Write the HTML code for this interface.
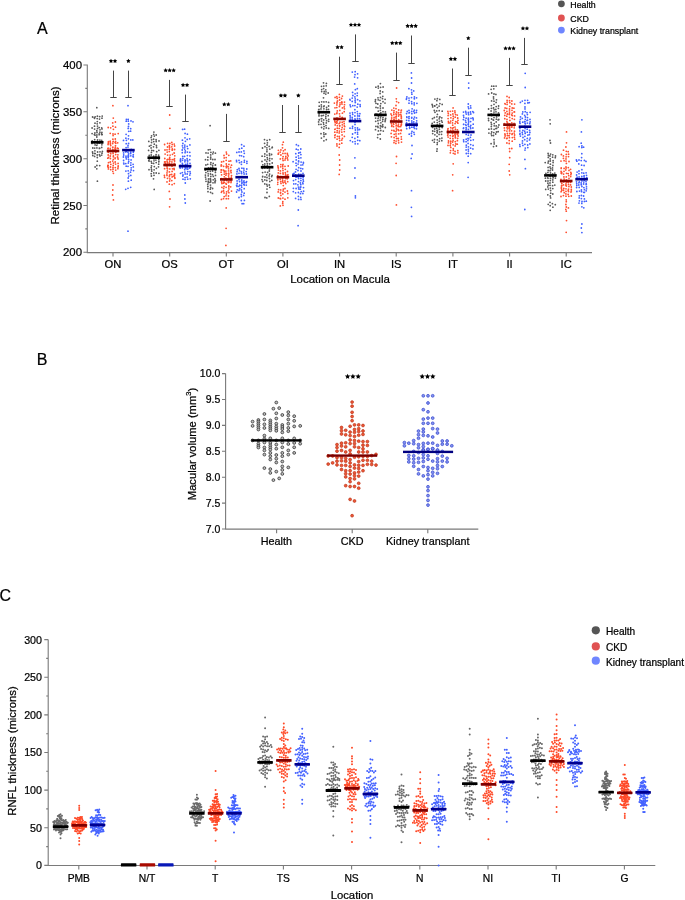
<!DOCTYPE html>
<html><head><meta charset="utf-8"><title>Figure</title>
<style>html,body{margin:0;padding:0;background:#fff;}body{width:685px;height:900px;overflow:hidden;font-family:"Liberation Sans",sans-serif;}text{stroke:#000;stroke-width:0.22px;}svg{display:block;-webkit-font-smoothing:antialiased;will-change:transform;}</style>
</head><body>
<svg width="685" height="900" viewBox="0 0 685 900">
<rect width="685" height="900" fill="#fff"/>
<g id="panelA">
<text x="37" y="33.5" font-size="16" font-family="Liberation Sans, sans-serif">A</text>
<path fill="#5a5a5a" d="M96.7 140a0.9 0.9 0 1 0 1.8 0a0.9 0.9 0 1 0 -1.8 0M96.1 132.5a0.9 0.9 0 1 0 1.8 0a0.9 0.9 0 1 0 -1.8 0M96.3 118.6a0.9 0.9 0 1 0 1.8 0a0.9 0.9 0 1 0 -1.8 0M96.3 123.8a0.9 0.9 0 1 0 1.8 0a0.9 0.9 0 1 0 -1.8 0M99 132.2a0.9 0.9 0 1 0 1.8 0a0.9 0.9 0 1 0 -1.8 0M94 132.9a0.9 0.9 0 1 0 1.8 0a0.9 0.9 0 1 0 -1.8 0M96.6 128.5a0.9 0.9 0 1 0 1.8 0a0.9 0.9 0 1 0 -1.8 0M93.7 129.1a0.9 0.9 0 1 0 1.8 0a0.9 0.9 0 1 0 -1.8 0M100.7 133.7a0.9 0.9 0 1 0 1.8 0a0.9 0.9 0 1 0 -1.8 0M96 147.9a0.9 0.9 0 1 0 1.8 0a0.9 0.9 0 1 0 -1.8 0M98.3 134a0.9 0.9 0 1 0 1.8 0a0.9 0.9 0 1 0 -1.8 0M96.5 181.2a0.9 0.9 0 1 0 1.8 0a0.9 0.9 0 1 0 -1.8 0M96.5 143.5a0.9 0.9 0 1 0 1.8 0a0.9 0.9 0 1 0 -1.8 0M96.5 116.2a0.9 0.9 0 1 0 1.8 0a0.9 0.9 0 1 0 -1.8 0M99 140.1a0.9 0.9 0 1 0 1.8 0a0.9 0.9 0 1 0 -1.8 0M96 165.5a0.9 0.9 0 1 0 1.8 0a0.9 0.9 0 1 0 -1.8 0M95.9 168.8a0.9 0.9 0 1 0 1.8 0a0.9 0.9 0 1 0 -1.8 0M98.8 148.3a0.9 0.9 0 1 0 1.8 0a0.9 0.9 0 1 0 -1.8 0M95.9 137a0.9 0.9 0 1 0 1.8 0a0.9 0.9 0 1 0 -1.8 0M93.8 139.7a0.9 0.9 0 1 0 1.8 0a0.9 0.9 0 1 0 -1.8 0M96.4 161.2a0.9 0.9 0 1 0 1.8 0a0.9 0.9 0 1 0 -1.8 0M98.8 116.6a0.9 0.9 0 1 0 1.8 0a0.9 0.9 0 1 0 -1.8 0M96.4 157.5a0.9 0.9 0 1 0 1.8 0a0.9 0.9 0 1 0 -1.8 0M96.7 152a0.9 0.9 0 1 0 1.8 0a0.9 0.9 0 1 0 -1.8 0M94.3 153.6a0.9 0.9 0 1 0 1.8 0a0.9 0.9 0 1 0 -1.8 0M91.3 140.9a0.9 0.9 0 1 0 1.8 0a0.9 0.9 0 1 0 -1.8 0M93.7 156.4a0.9 0.9 0 1 0 1.8 0a0.9 0.9 0 1 0 -1.8 0M98.3 127.6a0.9 0.9 0 1 0 1.8 0a0.9 0.9 0 1 0 -1.8 0M96 135a0.9 0.9 0 1 0 1.8 0a0.9 0.9 0 1 0 -1.8 0M93.8 148.1a0.9 0.9 0 1 0 1.8 0a0.9 0.9 0 1 0 -1.8 0M94 150.8a0.9 0.9 0 1 0 1.8 0a0.9 0.9 0 1 0 -1.8 0M93.7 142.8a0.9 0.9 0 1 0 1.8 0a0.9 0.9 0 1 0 -1.8 0M95.9 145.3a0.9 0.9 0 1 0 1.8 0a0.9 0.9 0 1 0 -1.8 0M94.1 123.2a0.9 0.9 0 1 0 1.8 0a0.9 0.9 0 1 0 -1.8 0M94.1 135.2a0.9 0.9 0 1 0 1.8 0a0.9 0.9 0 1 0 -1.8 0M96.3 155a0.9 0.9 0 1 0 1.8 0a0.9 0.9 0 1 0 -1.8 0M100.8 147.4a0.9 0.9 0 1 0 1.8 0a0.9 0.9 0 1 0 -1.8 0M91.2 133.6a0.9 0.9 0 1 0 1.8 0a0.9 0.9 0 1 0 -1.8 0M98.5 154.7a0.9 0.9 0 1 0 1.8 0a0.9 0.9 0 1 0 -1.8 0M99 122.8a0.9 0.9 0 1 0 1.8 0a0.9 0.9 0 1 0 -1.8 0M99.1 151.8a0.9 0.9 0 1 0 1.8 0a0.9 0.9 0 1 0 -1.8 0M93.5 134.6a0.9 0.9 0 1 0 1.8 0a0.9 0.9 0 1 0 -1.8 0M94.3 116.8a0.9 0.9 0 1 0 1.8 0a0.9 0.9 0 1 0 -1.8 0M101.5 151.4a0.9 0.9 0 1 0 1.8 0a0.9 0.9 0 1 0 -1.8 0M96.6 126.1a0.9 0.9 0 1 0 1.8 0a0.9 0.9 0 1 0 -1.8 0M98.5 143.2a0.9 0.9 0 1 0 1.8 0a0.9 0.9 0 1 0 -1.8 0M99.1 129.8a0.9 0.9 0 1 0 1.8 0a0.9 0.9 0 1 0 -1.8 0M94.2 167a0.9 0.9 0 1 0 1.8 0a0.9 0.9 0 1 0 -1.8 0M100.8 128a0.9 0.9 0 1 0 1.8 0a0.9 0.9 0 1 0 -1.8 0M91.1 143.4a0.9 0.9 0 1 0 1.8 0a0.9 0.9 0 1 0 -1.8 0M101 132.5a0.9 0.9 0 1 0 1.8 0a0.9 0.9 0 1 0 -1.8 0M91.6 151.9a0.9 0.9 0 1 0 1.8 0a0.9 0.9 0 1 0 -1.8 0M100.7 134.6a0.9 0.9 0 1 0 1.8 0a0.9 0.9 0 1 0 -1.8 0M91.9 155.5a0.9 0.9 0 1 0 1.8 0a0.9 0.9 0 1 0 -1.8 0M101.3 134.6a0.9 0.9 0 1 0 1.8 0a0.9 0.9 0 1 0 -1.8 0M101.1 153.2a0.9 0.9 0 1 0 1.8 0a0.9 0.9 0 1 0 -1.8 0M101.1 118.2a0.9 0.9 0 1 0 1.8 0a0.9 0.9 0 1 0 -1.8 0M98.3 134.7a0.9 0.9 0 1 0 1.8 0a0.9 0.9 0 1 0 -1.8 0M91.7 117a0.9 0.9 0 1 0 1.8 0a0.9 0.9 0 1 0 -1.8 0M101.3 116.1a0.9 0.9 0 1 0 1.8 0a0.9 0.9 0 1 0 -1.8 0M95.9 141.7a0.9 0.9 0 1 0 1.8 0a0.9 0.9 0 1 0 -1.8 0M94.2 144.9a0.9 0.9 0 1 0 1.8 0a0.9 0.9 0 1 0 -1.8 0M101 144.8a0.9 0.9 0 1 0 1.8 0a0.9 0.9 0 1 0 -1.8 0M91.9 148a0.9 0.9 0 1 0 1.8 0a0.9 0.9 0 1 0 -1.8 0M98.6 119.1a0.9 0.9 0 1 0 1.8 0a0.9 0.9 0 1 0 -1.8 0M91.2 128a0.9 0.9 0 1 0 1.8 0a0.9 0.9 0 1 0 -1.8 0M100.8 140.4a0.9 0.9 0 1 0 1.8 0a0.9 0.9 0 1 0 -1.8 0M98.5 148.1a0.9 0.9 0 1 0 1.8 0a0.9 0.9 0 1 0 -1.8 0M95.9 130.7a0.9 0.9 0 1 0 1.8 0a0.9 0.9 0 1 0 -1.8 0M93.6 118.3a0.9 0.9 0 1 0 1.8 0a0.9 0.9 0 1 0 -1.8 0M93.9 153.5a0.9 0.9 0 1 0 1.8 0a0.9 0.9 0 1 0 -1.8 0M101.1 142.9a0.9 0.9 0 1 0 1.8 0a0.9 0.9 0 1 0 -1.8 0M98.8 165.6a0.9 0.9 0 1 0 1.8 0a0.9 0.9 0 1 0 -1.8 0M93.6 117.5a0.9 0.9 0 1 0 1.8 0a0.9 0.9 0 1 0 -1.8 0M95.9 107.7a0.9 0.9 0 1 0 1.8 0a0.9 0.9 0 1 0 -1.8 0M100.8 155.1a0.9 0.9 0 1 0 1.8 0a0.9 0.9 0 1 0 -1.8 0M99.1 156a0.9 0.9 0 1 0 1.8 0a0.9 0.9 0 1 0 -1.8 0M93.6 126.2a0.9 0.9 0 1 0 1.8 0a0.9 0.9 0 1 0 -1.8 0M101.3 142.1a0.9 0.9 0 1 0 1.8 0a0.9 0.9 0 1 0 -1.8 0M101.1 128.9a0.9 0.9 0 1 0 1.8 0a0.9 0.9 0 1 0 -1.8 0M96.4 121.6a0.9 0.9 0 1 0 1.8 0a0.9 0.9 0 1 0 -1.8 0M91.9 153.3a0.9 0.9 0 1 0 1.8 0a0.9 0.9 0 1 0 -1.8 0M98.5 148.4a0.9 0.9 0 1 0 1.8 0a0.9 0.9 0 1 0 -1.8 0M152.8 141.6a0.9 0.9 0 1 0 1.8 0a0.9 0.9 0 1 0 -1.8 0M153.4 136.1a0.9 0.9 0 1 0 1.8 0a0.9 0.9 0 1 0 -1.8 0M152.7 139.2a0.9 0.9 0 1 0 1.8 0a0.9 0.9 0 1 0 -1.8 0M155.3 141.5a0.9 0.9 0 1 0 1.8 0a0.9 0.9 0 1 0 -1.8 0M153.1 160.8a0.9 0.9 0 1 0 1.8 0a0.9 0.9 0 1 0 -1.8 0M152.6 178.8a0.9 0.9 0 1 0 1.8 0a0.9 0.9 0 1 0 -1.8 0M152.6 146.8a0.9 0.9 0 1 0 1.8 0a0.9 0.9 0 1 0 -1.8 0M152.6 150.7a0.9 0.9 0 1 0 1.8 0a0.9 0.9 0 1 0 -1.8 0M155.7 147.5a0.9 0.9 0 1 0 1.8 0a0.9 0.9 0 1 0 -1.8 0M153.2 169.8a0.9 0.9 0 1 0 1.8 0a0.9 0.9 0 1 0 -1.8 0M150.2 137.6a0.9 0.9 0 1 0 1.8 0a0.9 0.9 0 1 0 -1.8 0M152.8 156.2a0.9 0.9 0 1 0 1.8 0a0.9 0.9 0 1 0 -1.8 0M155.5 145.5a0.9 0.9 0 1 0 1.8 0a0.9 0.9 0 1 0 -1.8 0M150.2 147.9a0.9 0.9 0 1 0 1.8 0a0.9 0.9 0 1 0 -1.8 0M155 156.5a0.9 0.9 0 1 0 1.8 0a0.9 0.9 0 1 0 -1.8 0M152.7 163.4a0.9 0.9 0 1 0 1.8 0a0.9 0.9 0 1 0 -1.8 0M150.8 157.6a0.9 0.9 0 1 0 1.8 0a0.9 0.9 0 1 0 -1.8 0M150.3 155a0.9 0.9 0 1 0 1.8 0a0.9 0.9 0 1 0 -1.8 0M150.8 171.2a0.9 0.9 0 1 0 1.8 0a0.9 0.9 0 1 0 -1.8 0M155 160.1a0.9 0.9 0 1 0 1.8 0a0.9 0.9 0 1 0 -1.8 0M157.9 159.2a0.9 0.9 0 1 0 1.8 0a0.9 0.9 0 1 0 -1.8 0M153.1 175.3a0.9 0.9 0 1 0 1.8 0a0.9 0.9 0 1 0 -1.8 0M150.7 139.8a0.9 0.9 0 1 0 1.8 0a0.9 0.9 0 1 0 -1.8 0M150.3 161.4a0.9 0.9 0 1 0 1.8 0a0.9 0.9 0 1 0 -1.8 0M152.9 158.3a0.9 0.9 0 1 0 1.8 0a0.9 0.9 0 1 0 -1.8 0M147.9 160.7a0.9 0.9 0 1 0 1.8 0a0.9 0.9 0 1 0 -1.8 0M152.8 134.3a0.9 0.9 0 1 0 1.8 0a0.9 0.9 0 1 0 -1.8 0M155.2 139.7a0.9 0.9 0 1 0 1.8 0a0.9 0.9 0 1 0 -1.8 0M148.5 146.2a0.9 0.9 0 1 0 1.8 0a0.9 0.9 0 1 0 -1.8 0M150.3 173.7a0.9 0.9 0 1 0 1.8 0a0.9 0.9 0 1 0 -1.8 0M150.5 176a0.9 0.9 0 1 0 1.8 0a0.9 0.9 0 1 0 -1.8 0M148.4 158.9a0.9 0.9 0 1 0 1.8 0a0.9 0.9 0 1 0 -1.8 0M147.8 158.1a0.9 0.9 0 1 0 1.8 0a0.9 0.9 0 1 0 -1.8 0M150.8 163.2a0.9 0.9 0 1 0 1.8 0a0.9 0.9 0 1 0 -1.8 0M153.3 189.4a0.9 0.9 0 1 0 1.8 0a0.9 0.9 0 1 0 -1.8 0M150.7 142.6a0.9 0.9 0 1 0 1.8 0a0.9 0.9 0 1 0 -1.8 0M158.1 140.9a0.9 0.9 0 1 0 1.8 0a0.9 0.9 0 1 0 -1.8 0M157.7 155.2a0.9 0.9 0 1 0 1.8 0a0.9 0.9 0 1 0 -1.8 0M158 161.2a0.9 0.9 0 1 0 1.8 0a0.9 0.9 0 1 0 -1.8 0M155.8 151.7a0.9 0.9 0 1 0 1.8 0a0.9 0.9 0 1 0 -1.8 0M155.3 162.6a0.9 0.9 0 1 0 1.8 0a0.9 0.9 0 1 0 -1.8 0M152.9 172.9a0.9 0.9 0 1 0 1.8 0a0.9 0.9 0 1 0 -1.8 0M153.4 144.2a0.9 0.9 0 1 0 1.8 0a0.9 0.9 0 1 0 -1.8 0M153.1 158.9a0.9 0.9 0 1 0 1.8 0a0.9 0.9 0 1 0 -1.8 0M157.8 164.2a0.9 0.9 0 1 0 1.8 0a0.9 0.9 0 1 0 -1.8 0M155.3 173a0.9 0.9 0 1 0 1.8 0a0.9 0.9 0 1 0 -1.8 0M148.3 155.5a0.9 0.9 0 1 0 1.8 0a0.9 0.9 0 1 0 -1.8 0M153.4 166.6a0.9 0.9 0 1 0 1.8 0a0.9 0.9 0 1 0 -1.8 0M150.6 169.5a0.9 0.9 0 1 0 1.8 0a0.9 0.9 0 1 0 -1.8 0M150.5 152.4a0.9 0.9 0 1 0 1.8 0a0.9 0.9 0 1 0 -1.8 0M148.2 161a0.9 0.9 0 1 0 1.8 0a0.9 0.9 0 1 0 -1.8 0M150.1 145.3a0.9 0.9 0 1 0 1.8 0a0.9 0.9 0 1 0 -1.8 0M150.8 150.3a0.9 0.9 0 1 0 1.8 0a0.9 0.9 0 1 0 -1.8 0M158 173.3a0.9 0.9 0 1 0 1.8 0a0.9 0.9 0 1 0 -1.8 0M157.9 161.8a0.9 0.9 0 1 0 1.8 0a0.9 0.9 0 1 0 -1.8 0M157.9 156.9a0.9 0.9 0 1 0 1.8 0a0.9 0.9 0 1 0 -1.8 0M158 150.3a0.9 0.9 0 1 0 1.8 0a0.9 0.9 0 1 0 -1.8 0M155.3 135a0.9 0.9 0 1 0 1.8 0a0.9 0.9 0 1 0 -1.8 0M153 132.1a0.9 0.9 0 1 0 1.8 0a0.9 0.9 0 1 0 -1.8 0M147.9 141.4a0.9 0.9 0 1 0 1.8 0a0.9 0.9 0 1 0 -1.8 0M148.2 159a0.9 0.9 0 1 0 1.8 0a0.9 0.9 0 1 0 -1.8 0M155.5 168.3a0.9 0.9 0 1 0 1.8 0a0.9 0.9 0 1 0 -1.8 0M150.6 142.3a0.9 0.9 0 1 0 1.8 0a0.9 0.9 0 1 0 -1.8 0M150.3 167.6a0.9 0.9 0 1 0 1.8 0a0.9 0.9 0 1 0 -1.8 0M155.2 154.7a0.9 0.9 0 1 0 1.8 0a0.9 0.9 0 1 0 -1.8 0M147.7 150.4a0.9 0.9 0 1 0 1.8 0a0.9 0.9 0 1 0 -1.8 0M148.1 169.7a0.9 0.9 0 1 0 1.8 0a0.9 0.9 0 1 0 -1.8 0M150.6 165.8a0.9 0.9 0 1 0 1.8 0a0.9 0.9 0 1 0 -1.8 0M157.6 166.8a0.9 0.9 0 1 0 1.8 0a0.9 0.9 0 1 0 -1.8 0M150.7 135.8a0.9 0.9 0 1 0 1.8 0a0.9 0.9 0 1 0 -1.8 0M209.8 181.9a0.9 0.9 0 1 0 1.8 0a0.9 0.9 0 1 0 -1.8 0M210 152.3a0.9 0.9 0 1 0 1.8 0a0.9 0.9 0 1 0 -1.8 0M212.1 182.8a0.9 0.9 0 1 0 1.8 0a0.9 0.9 0 1 0 -1.8 0M207.4 182a0.9 0.9 0 1 0 1.8 0a0.9 0.9 0 1 0 -1.8 0M209.2 201a0.9 0.9 0 1 0 1.8 0a0.9 0.9 0 1 0 -1.8 0M205.1 181.3a0.9 0.9 0 1 0 1.8 0a0.9 0.9 0 1 0 -1.8 0M209.6 174a0.9 0.9 0 1 0 1.8 0a0.9 0.9 0 1 0 -1.8 0M209.2 149.6a0.9 0.9 0 1 0 1.8 0a0.9 0.9 0 1 0 -1.8 0M209.5 178.9a0.9 0.9 0 1 0 1.8 0a0.9 0.9 0 1 0 -1.8 0M209.8 187.4a0.9 0.9 0 1 0 1.8 0a0.9 0.9 0 1 0 -1.8 0M214.1 182.7a0.9 0.9 0 1 0 1.8 0a0.9 0.9 0 1 0 -1.8 0M209.9 176.4a0.9 0.9 0 1 0 1.8 0a0.9 0.9 0 1 0 -1.8 0M209.7 192.4a0.9 0.9 0 1 0 1.8 0a0.9 0.9 0 1 0 -1.8 0M207.3 175.8a0.9 0.9 0 1 0 1.8 0a0.9 0.9 0 1 0 -1.8 0M212.4 176.4a0.9 0.9 0 1 0 1.8 0a0.9 0.9 0 1 0 -1.8 0M207.6 179a0.9 0.9 0 1 0 1.8 0a0.9 0.9 0 1 0 -1.8 0M209.4 171.3a0.9 0.9 0 1 0 1.8 0a0.9 0.9 0 1 0 -1.8 0M206.9 171.4a0.9 0.9 0 1 0 1.8 0a0.9 0.9 0 1 0 -1.8 0M209.8 159a0.9 0.9 0 1 0 1.8 0a0.9 0.9 0 1 0 -1.8 0M209.8 157.2a0.9 0.9 0 1 0 1.8 0a0.9 0.9 0 1 0 -1.8 0M204.6 177.1a0.9 0.9 0 1 0 1.8 0a0.9 0.9 0 1 0 -1.8 0M211.9 159.5a0.9 0.9 0 1 0 1.8 0a0.9 0.9 0 1 0 -1.8 0M212.3 179.8a0.9 0.9 0 1 0 1.8 0a0.9 0.9 0 1 0 -1.8 0M214.1 181.6a0.9 0.9 0 1 0 1.8 0a0.9 0.9 0 1 0 -1.8 0M211.6 174.6a0.9 0.9 0 1 0 1.8 0a0.9 0.9 0 1 0 -1.8 0M210 162.6a0.9 0.9 0 1 0 1.8 0a0.9 0.9 0 1 0 -1.8 0M209.2 182.3a0.9 0.9 0 1 0 1.8 0a0.9 0.9 0 1 0 -1.8 0M211.7 171a0.9 0.9 0 1 0 1.8 0a0.9 0.9 0 1 0 -1.8 0M214 178.7a0.9 0.9 0 1 0 1.8 0a0.9 0.9 0 1 0 -1.8 0M209.6 185.1a0.9 0.9 0 1 0 1.8 0a0.9 0.9 0 1 0 -1.8 0M209.8 154.9a0.9 0.9 0 1 0 1.8 0a0.9 0.9 0 1 0 -1.8 0M206.9 159.9a0.9 0.9 0 1 0 1.8 0a0.9 0.9 0 1 0 -1.8 0M204.5 175.1a0.9 0.9 0 1 0 1.8 0a0.9 0.9 0 1 0 -1.8 0M207.2 153.1a0.9 0.9 0 1 0 1.8 0a0.9 0.9 0 1 0 -1.8 0M206.9 188.6a0.9 0.9 0 1 0 1.8 0a0.9 0.9 0 1 0 -1.8 0M214.5 180.4a0.9 0.9 0 1 0 1.8 0a0.9 0.9 0 1 0 -1.8 0M211.9 153.8a0.9 0.9 0 1 0 1.8 0a0.9 0.9 0 1 0 -1.8 0M207 186.5a0.9 0.9 0 1 0 1.8 0a0.9 0.9 0 1 0 -1.8 0M205.1 152.9a0.9 0.9 0 1 0 1.8 0a0.9 0.9 0 1 0 -1.8 0M207 157.2a0.9 0.9 0 1 0 1.8 0a0.9 0.9 0 1 0 -1.8 0M207.3 181.2a0.9 0.9 0 1 0 1.8 0a0.9 0.9 0 1 0 -1.8 0M204.4 170a0.9 0.9 0 1 0 1.8 0a0.9 0.9 0 1 0 -1.8 0M212.3 163.3a0.9 0.9 0 1 0 1.8 0a0.9 0.9 0 1 0 -1.8 0M211.7 188.5a0.9 0.9 0 1 0 1.8 0a0.9 0.9 0 1 0 -1.8 0M209.7 180a0.9 0.9 0 1 0 1.8 0a0.9 0.9 0 1 0 -1.8 0M212.4 152.1a0.9 0.9 0 1 0 1.8 0a0.9 0.9 0 1 0 -1.8 0M214.1 159.5a0.9 0.9 0 1 0 1.8 0a0.9 0.9 0 1 0 -1.8 0M209.8 167.6a0.9 0.9 0 1 0 1.8 0a0.9 0.9 0 1 0 -1.8 0M211.6 193.4a0.9 0.9 0 1 0 1.8 0a0.9 0.9 0 1 0 -1.8 0M207.6 167.9a0.9 0.9 0 1 0 1.8 0a0.9 0.9 0 1 0 -1.8 0M214.5 172.4a0.9 0.9 0 1 0 1.8 0a0.9 0.9 0 1 0 -1.8 0M209.8 164.4a0.9 0.9 0 1 0 1.8 0a0.9 0.9 0 1 0 -1.8 0M206.8 164.3a0.9 0.9 0 1 0 1.8 0a0.9 0.9 0 1 0 -1.8 0M207.1 191.7a0.9 0.9 0 1 0 1.8 0a0.9 0.9 0 1 0 -1.8 0M209.7 181a0.9 0.9 0 1 0 1.8 0a0.9 0.9 0 1 0 -1.8 0M204.6 159.7a0.9 0.9 0 1 0 1.8 0a0.9 0.9 0 1 0 -1.8 0M214.6 175.4a0.9 0.9 0 1 0 1.8 0a0.9 0.9 0 1 0 -1.8 0M214.5 170.4a0.9 0.9 0 1 0 1.8 0a0.9 0.9 0 1 0 -1.8 0M211.7 165.5a0.9 0.9 0 1 0 1.8 0a0.9 0.9 0 1 0 -1.8 0M207.5 182.7a0.9 0.9 0 1 0 1.8 0a0.9 0.9 0 1 0 -1.8 0M214.5 180.8a0.9 0.9 0 1 0 1.8 0a0.9 0.9 0 1 0 -1.8 0M209.4 189.2a0.9 0.9 0 1 0 1.8 0a0.9 0.9 0 1 0 -1.8 0M214.3 165.1a0.9 0.9 0 1 0 1.8 0a0.9 0.9 0 1 0 -1.8 0M205 165a0.9 0.9 0 1 0 1.8 0a0.9 0.9 0 1 0 -1.8 0M207.3 173.8a0.9 0.9 0 1 0 1.8 0a0.9 0.9 0 1 0 -1.8 0M209.5 178.7a0.9 0.9 0 1 0 1.8 0a0.9 0.9 0 1 0 -1.8 0M214.5 165a0.9 0.9 0 1 0 1.8 0a0.9 0.9 0 1 0 -1.8 0M206.8 184.3a0.9 0.9 0 1 0 1.8 0a0.9 0.9 0 1 0 -1.8 0M211.8 167.4a0.9 0.9 0 1 0 1.8 0a0.9 0.9 0 1 0 -1.8 0M209.2 125.7a0.9 0.9 0 1 0 1.8 0a0.9 0.9 0 1 0 -1.8 0M205 179.1a0.9 0.9 0 1 0 1.8 0a0.9 0.9 0 1 0 -1.8 0M207.4 149.8a0.9 0.9 0 1 0 1.8 0a0.9 0.9 0 1 0 -1.8 0M205 172.6a0.9 0.9 0 1 0 1.8 0a0.9 0.9 0 1 0 -1.8 0M214.5 153.2a0.9 0.9 0 1 0 1.8 0a0.9 0.9 0 1 0 -1.8 0M266.7 172.4a0.9 0.9 0 1 0 1.8 0a0.9 0.9 0 1 0 -1.8 0M266.1 177.5a0.9 0.9 0 1 0 1.8 0a0.9 0.9 0 1 0 -1.8 0M266 147.8a0.9 0.9 0 1 0 1.8 0a0.9 0.9 0 1 0 -1.8 0M265.9 184.4a0.9 0.9 0 1 0 1.8 0a0.9 0.9 0 1 0 -1.8 0M266.5 163.6a0.9 0.9 0 1 0 1.8 0a0.9 0.9 0 1 0 -1.8 0M265.8 174.8a0.9 0.9 0 1 0 1.8 0a0.9 0.9 0 1 0 -1.8 0M265.9 180.5a0.9 0.9 0 1 0 1.8 0a0.9 0.9 0 1 0 -1.8 0M266.2 140.4a0.9 0.9 0 1 0 1.8 0a0.9 0.9 0 1 0 -1.8 0M266.1 155.1a0.9 0.9 0 1 0 1.8 0a0.9 0.9 0 1 0 -1.8 0M263.9 179.9a0.9 0.9 0 1 0 1.8 0a0.9 0.9 0 1 0 -1.8 0M268.3 175.9a0.9 0.9 0 1 0 1.8 0a0.9 0.9 0 1 0 -1.8 0M268.9 181.5a0.9 0.9 0 1 0 1.8 0a0.9 0.9 0 1 0 -1.8 0M263.9 163.9a0.9 0.9 0 1 0 1.8 0a0.9 0.9 0 1 0 -1.8 0M265.8 161.4a0.9 0.9 0 1 0 1.8 0a0.9 0.9 0 1 0 -1.8 0M268.3 146.4a0.9 0.9 0 1 0 1.8 0a0.9 0.9 0 1 0 -1.8 0M268.7 155.5a0.9 0.9 0 1 0 1.8 0a0.9 0.9 0 1 0 -1.8 0M264.2 172.1a0.9 0.9 0 1 0 1.8 0a0.9 0.9 0 1 0 -1.8 0M266.1 189.1a0.9 0.9 0 1 0 1.8 0a0.9 0.9 0 1 0 -1.8 0M268.7 174.1a0.9 0.9 0 1 0 1.8 0a0.9 0.9 0 1 0 -1.8 0M266.5 168.1a0.9 0.9 0 1 0 1.8 0a0.9 0.9 0 1 0 -1.8 0M268.5 178.5a0.9 0.9 0 1 0 1.8 0a0.9 0.9 0 1 0 -1.8 0M266.6 159.3a0.9 0.9 0 1 0 1.8 0a0.9 0.9 0 1 0 -1.8 0M268.4 166.7a0.9 0.9 0 1 0 1.8 0a0.9 0.9 0 1 0 -1.8 0M263.8 167.9a0.9 0.9 0 1 0 1.8 0a0.9 0.9 0 1 0 -1.8 0M264.1 159.9a0.9 0.9 0 1 0 1.8 0a0.9 0.9 0 1 0 -1.8 0M261.5 168.3a0.9 0.9 0 1 0 1.8 0a0.9 0.9 0 1 0 -1.8 0M263.6 139.6a0.9 0.9 0 1 0 1.8 0a0.9 0.9 0 1 0 -1.8 0M266.1 192.5a0.9 0.9 0 1 0 1.8 0a0.9 0.9 0 1 0 -1.8 0M268.9 149.1a0.9 0.9 0 1 0 1.8 0a0.9 0.9 0 1 0 -1.8 0M268.8 139.7a0.9 0.9 0 1 0 1.8 0a0.9 0.9 0 1 0 -1.8 0M266 151.7a0.9 0.9 0 1 0 1.8 0a0.9 0.9 0 1 0 -1.8 0M268.8 163.9a0.9 0.9 0 1 0 1.8 0a0.9 0.9 0 1 0 -1.8 0M263.8 156.3a0.9 0.9 0 1 0 1.8 0a0.9 0.9 0 1 0 -1.8 0M261.2 156.2a0.9 0.9 0 1 0 1.8 0a0.9 0.9 0 1 0 -1.8 0M264.1 177a0.9 0.9 0 1 0 1.8 0a0.9 0.9 0 1 0 -1.8 0M265.9 197.9a0.9 0.9 0 1 0 1.8 0a0.9 0.9 0 1 0 -1.8 0M261.8 181.4a0.9 0.9 0 1 0 1.8 0a0.9 0.9 0 1 0 -1.8 0M266.4 186.1a0.9 0.9 0 1 0 1.8 0a0.9 0.9 0 1 0 -1.8 0M261.8 176.4a0.9 0.9 0 1 0 1.8 0a0.9 0.9 0 1 0 -1.8 0M266.4 165.5a0.9 0.9 0 1 0 1.8 0a0.9 0.9 0 1 0 -1.8 0M263.9 183.9a0.9 0.9 0 1 0 1.8 0a0.9 0.9 0 1 0 -1.8 0M270.8 176.5a0.9 0.9 0 1 0 1.8 0a0.9 0.9 0 1 0 -1.8 0M264.1 146.7a0.9 0.9 0 1 0 1.8 0a0.9 0.9 0 1 0 -1.8 0M266.2 145a0.9 0.9 0 1 0 1.8 0a0.9 0.9 0 1 0 -1.8 0M268.4 185a0.9 0.9 0 1 0 1.8 0a0.9 0.9 0 1 0 -1.8 0M268.8 158.5a0.9 0.9 0 1 0 1.8 0a0.9 0.9 0 1 0 -1.8 0M270.9 180.3a0.9 0.9 0 1 0 1.8 0a0.9 0.9 0 1 0 -1.8 0M271.2 175.3a0.9 0.9 0 1 0 1.8 0a0.9 0.9 0 1 0 -1.8 0M266.5 142.8a0.9 0.9 0 1 0 1.8 0a0.9 0.9 0 1 0 -1.8 0M271.3 163a0.9 0.9 0 1 0 1.8 0a0.9 0.9 0 1 0 -1.8 0M261.9 164.8a0.9 0.9 0 1 0 1.8 0a0.9 0.9 0 1 0 -1.8 0M268.7 160.7a0.9 0.9 0 1 0 1.8 0a0.9 0.9 0 1 0 -1.8 0M261.7 176.8a0.9 0.9 0 1 0 1.8 0a0.9 0.9 0 1 0 -1.8 0M263.9 153.9a0.9 0.9 0 1 0 1.8 0a0.9 0.9 0 1 0 -1.8 0M261.7 172.6a0.9 0.9 0 1 0 1.8 0a0.9 0.9 0 1 0 -1.8 0M261.6 148a0.9 0.9 0 1 0 1.8 0a0.9 0.9 0 1 0 -1.8 0M271.1 158.8a0.9 0.9 0 1 0 1.8 0a0.9 0.9 0 1 0 -1.8 0M270.9 166.6a0.9 0.9 0 1 0 1.8 0a0.9 0.9 0 1 0 -1.8 0M271.1 147.8a0.9 0.9 0 1 0 1.8 0a0.9 0.9 0 1 0 -1.8 0M261.1 161.4a0.9 0.9 0 1 0 1.8 0a0.9 0.9 0 1 0 -1.8 0M266.1 149.8a0.9 0.9 0 1 0 1.8 0a0.9 0.9 0 1 0 -1.8 0M268.9 187.3a0.9 0.9 0 1 0 1.8 0a0.9 0.9 0 1 0 -1.8 0M271.4 147.2a0.9 0.9 0 1 0 1.8 0a0.9 0.9 0 1 0 -1.8 0M263.8 165.8a0.9 0.9 0 1 0 1.8 0a0.9 0.9 0 1 0 -1.8 0M268.4 196.4a0.9 0.9 0 1 0 1.8 0a0.9 0.9 0 1 0 -1.8 0M270.7 154.5a0.9 0.9 0 1 0 1.8 0a0.9 0.9 0 1 0 -1.8 0M263.6 167.5a0.9 0.9 0 1 0 1.8 0a0.9 0.9 0 1 0 -1.8 0M266.3 157.6a0.9 0.9 0 1 0 1.8 0a0.9 0.9 0 1 0 -1.8 0M268.4 171a0.9 0.9 0 1 0 1.8 0a0.9 0.9 0 1 0 -1.8 0M268.6 168.9a0.9 0.9 0 1 0 1.8 0a0.9 0.9 0 1 0 -1.8 0M261.1 179.6a0.9 0.9 0 1 0 1.8 0a0.9 0.9 0 1 0 -1.8 0M268.6 153.7a0.9 0.9 0 1 0 1.8 0a0.9 0.9 0 1 0 -1.8 0M263.7 143.3a0.9 0.9 0 1 0 1.8 0a0.9 0.9 0 1 0 -1.8 0M264.1 197.5a0.9 0.9 0 1 0 1.8 0a0.9 0.9 0 1 0 -1.8 0M322.8 124.3a0.9 0.9 0 1 0 1.8 0a0.9 0.9 0 1 0 -1.8 0M322.8 119.9a0.9 0.9 0 1 0 1.8 0a0.9 0.9 0 1 0 -1.8 0M322.5 115.3a0.9 0.9 0 1 0 1.8 0a0.9 0.9 0 1 0 -1.8 0M320.7 121.1a0.9 0.9 0 1 0 1.8 0a0.9 0.9 0 1 0 -1.8 0M323 108.8a0.9 0.9 0 1 0 1.8 0a0.9 0.9 0 1 0 -1.8 0M325.7 120.7a0.9 0.9 0 1 0 1.8 0a0.9 0.9 0 1 0 -1.8 0M323 140.8a0.9 0.9 0 1 0 1.8 0a0.9 0.9 0 1 0 -1.8 0M323 101.9a0.9 0.9 0 1 0 1.8 0a0.9 0.9 0 1 0 -1.8 0M325.7 109.5a0.9 0.9 0 1 0 1.8 0a0.9 0.9 0 1 0 -1.8 0M325.4 122.9a0.9 0.9 0 1 0 1.8 0a0.9 0.9 0 1 0 -1.8 0M322.9 132.8a0.9 0.9 0 1 0 1.8 0a0.9 0.9 0 1 0 -1.8 0M320.1 124.3a0.9 0.9 0 1 0 1.8 0a0.9 0.9 0 1 0 -1.8 0M325.7 107.3a0.9 0.9 0 1 0 1.8 0a0.9 0.9 0 1 0 -1.8 0M323.2 126.6a0.9 0.9 0 1 0 1.8 0a0.9 0.9 0 1 0 -1.8 0M320.5 115.7a0.9 0.9 0 1 0 1.8 0a0.9 0.9 0 1 0 -1.8 0M324.9 116.5a0.9 0.9 0 1 0 1.8 0a0.9 0.9 0 1 0 -1.8 0M323.2 106a0.9 0.9 0 1 0 1.8 0a0.9 0.9 0 1 0 -1.8 0M318.3 119.7a0.9 0.9 0 1 0 1.8 0a0.9 0.9 0 1 0 -1.8 0M320.4 104.9a0.9 0.9 0 1 0 1.8 0a0.9 0.9 0 1 0 -1.8 0M322.6 111.7a0.9 0.9 0 1 0 1.8 0a0.9 0.9 0 1 0 -1.8 0M320.5 106.9a0.9 0.9 0 1 0 1.8 0a0.9 0.9 0 1 0 -1.8 0M323.1 93.3a0.9 0.9 0 1 0 1.8 0a0.9 0.9 0 1 0 -1.8 0M322.9 86.1a0.9 0.9 0 1 0 1.8 0a0.9 0.9 0 1 0 -1.8 0M322.7 88.6a0.9 0.9 0 1 0 1.8 0a0.9 0.9 0 1 0 -1.8 0M325.1 114.3a0.9 0.9 0 1 0 1.8 0a0.9 0.9 0 1 0 -1.8 0M325.1 91.8a0.9 0.9 0 1 0 1.8 0a0.9 0.9 0 1 0 -1.8 0M323.3 91.5a0.9 0.9 0 1 0 1.8 0a0.9 0.9 0 1 0 -1.8 0M320.1 108.9a0.9 0.9 0 1 0 1.8 0a0.9 0.9 0 1 0 -1.8 0M318.1 115.9a0.9 0.9 0 1 0 1.8 0a0.9 0.9 0 1 0 -1.8 0M325.4 139.7a0.9 0.9 0 1 0 1.8 0a0.9 0.9 0 1 0 -1.8 0M320.8 91.6a0.9 0.9 0 1 0 1.8 0a0.9 0.9 0 1 0 -1.8 0M317.8 109.7a0.9 0.9 0 1 0 1.8 0a0.9 0.9 0 1 0 -1.8 0M324.9 134a0.9 0.9 0 1 0 1.8 0a0.9 0.9 0 1 0 -1.8 0M324.9 89.8a0.9 0.9 0 1 0 1.8 0a0.9 0.9 0 1 0 -1.8 0M323.1 134.6a0.9 0.9 0 1 0 1.8 0a0.9 0.9 0 1 0 -1.8 0M320.3 118.8a0.9 0.9 0 1 0 1.8 0a0.9 0.9 0 1 0 -1.8 0M324.9 118.4a0.9 0.9 0 1 0 1.8 0a0.9 0.9 0 1 0 -1.8 0M317.9 124.4a0.9 0.9 0 1 0 1.8 0a0.9 0.9 0 1 0 -1.8 0M318.3 106.2a0.9 0.9 0 1 0 1.8 0a0.9 0.9 0 1 0 -1.8 0M325.4 127.9a0.9 0.9 0 1 0 1.8 0a0.9 0.9 0 1 0 -1.8 0M320.7 127.5a0.9 0.9 0 1 0 1.8 0a0.9 0.9 0 1 0 -1.8 0M323.1 136.6a0.9 0.9 0 1 0 1.8 0a0.9 0.9 0 1 0 -1.8 0M320.6 86.3a0.9 0.9 0 1 0 1.8 0a0.9 0.9 0 1 0 -1.8 0M320.8 89.6a0.9 0.9 0 1 0 1.8 0a0.9 0.9 0 1 0 -1.8 0M327.3 115.7a0.9 0.9 0 1 0 1.8 0a0.9 0.9 0 1 0 -1.8 0M327.7 106a0.9 0.9 0 1 0 1.8 0a0.9 0.9 0 1 0 -1.8 0M322.9 128.8a0.9 0.9 0 1 0 1.8 0a0.9 0.9 0 1 0 -1.8 0M327.8 119.3a0.9 0.9 0 1 0 1.8 0a0.9 0.9 0 1 0 -1.8 0M320.1 111.7a0.9 0.9 0 1 0 1.8 0a0.9 0.9 0 1 0 -1.8 0M320.5 138.1a0.9 0.9 0 1 0 1.8 0a0.9 0.9 0 1 0 -1.8 0M320.9 115.8a0.9 0.9 0 1 0 1.8 0a0.9 0.9 0 1 0 -1.8 0M318.2 113.3a0.9 0.9 0 1 0 1.8 0a0.9 0.9 0 1 0 -1.8 0M320.8 101.8a0.9 0.9 0 1 0 1.8 0a0.9 0.9 0 1 0 -1.8 0M322.6 82.8a0.9 0.9 0 1 0 1.8 0a0.9 0.9 0 1 0 -1.8 0M322.6 97.8a0.9 0.9 0 1 0 1.8 0a0.9 0.9 0 1 0 -1.8 0M327.3 93a0.9 0.9 0 1 0 1.8 0a0.9 0.9 0 1 0 -1.8 0M327.8 128.4a0.9 0.9 0 1 0 1.8 0a0.9 0.9 0 1 0 -1.8 0M327.8 121.3a0.9 0.9 0 1 0 1.8 0a0.9 0.9 0 1 0 -1.8 0M325.1 125.6a0.9 0.9 0 1 0 1.8 0a0.9 0.9 0 1 0 -1.8 0M320.9 118.6a0.9 0.9 0 1 0 1.8 0a0.9 0.9 0 1 0 -1.8 0M325.5 83.4a0.9 0.9 0 1 0 1.8 0a0.9 0.9 0 1 0 -1.8 0M325.3 101.8a0.9 0.9 0 1 0 1.8 0a0.9 0.9 0 1 0 -1.8 0M318.3 102.3a0.9 0.9 0 1 0 1.8 0a0.9 0.9 0 1 0 -1.8 0M322.5 122.6a0.9 0.9 0 1 0 1.8 0a0.9 0.9 0 1 0 -1.8 0M324.9 94.1a0.9 0.9 0 1 0 1.8 0a0.9 0.9 0 1 0 -1.8 0M327.6 109.3a0.9 0.9 0 1 0 1.8 0a0.9 0.9 0 1 0 -1.8 0M318.3 119.9a0.9 0.9 0 1 0 1.8 0a0.9 0.9 0 1 0 -1.8 0M317.7 121.9a0.9 0.9 0 1 0 1.8 0a0.9 0.9 0 1 0 -1.8 0M322.8 106.6a0.9 0.9 0 1 0 1.8 0a0.9 0.9 0 1 0 -1.8 0M327.7 102.4a0.9 0.9 0 1 0 1.8 0a0.9 0.9 0 1 0 -1.8 0M325.3 85.8a0.9 0.9 0 1 0 1.8 0a0.9 0.9 0 1 0 -1.8 0M318.1 114.9a0.9 0.9 0 1 0 1.8 0a0.9 0.9 0 1 0 -1.8 0M318.1 109.4a0.9 0.9 0 1 0 1.8 0a0.9 0.9 0 1 0 -1.8 0M320.1 133.7a0.9 0.9 0 1 0 1.8 0a0.9 0.9 0 1 0 -1.8 0M379.7 87.3a0.9 0.9 0 1 0 1.8 0a0.9 0.9 0 1 0 -1.8 0M380 116.1a0.9 0.9 0 1 0 1.8 0a0.9 0.9 0 1 0 -1.8 0M379.3 91a0.9 0.9 0 1 0 1.8 0a0.9 0.9 0 1 0 -1.8 0M379.2 120.1a0.9 0.9 0 1 0 1.8 0a0.9 0.9 0 1 0 -1.8 0M377.2 118.4a0.9 0.9 0 1 0 1.8 0a0.9 0.9 0 1 0 -1.8 0M379.5 110.3a0.9 0.9 0 1 0 1.8 0a0.9 0.9 0 1 0 -1.8 0M382.1 111.7a0.9 0.9 0 1 0 1.8 0a0.9 0.9 0 1 0 -1.8 0M381.7 121.3a0.9 0.9 0 1 0 1.8 0a0.9 0.9 0 1 0 -1.8 0M382.1 117.3a0.9 0.9 0 1 0 1.8 0a0.9 0.9 0 1 0 -1.8 0M379.9 130.5a0.9 0.9 0 1 0 1.8 0a0.9 0.9 0 1 0 -1.8 0M379.1 100.3a0.9 0.9 0 1 0 1.8 0a0.9 0.9 0 1 0 -1.8 0M381.6 98.7a0.9 0.9 0 1 0 1.8 0a0.9 0.9 0 1 0 -1.8 0M380 122.8a0.9 0.9 0 1 0 1.8 0a0.9 0.9 0 1 0 -1.8 0M379.4 139a0.9 0.9 0 1 0 1.8 0a0.9 0.9 0 1 0 -1.8 0M379.5 83.6a0.9 0.9 0 1 0 1.8 0a0.9 0.9 0 1 0 -1.8 0M379.4 128.1a0.9 0.9 0 1 0 1.8 0a0.9 0.9 0 1 0 -1.8 0M379.9 103.6a0.9 0.9 0 1 0 1.8 0a0.9 0.9 0 1 0 -1.8 0M377.4 111.2a0.9 0.9 0 1 0 1.8 0a0.9 0.9 0 1 0 -1.8 0M377 120.7a0.9 0.9 0 1 0 1.8 0a0.9 0.9 0 1 0 -1.8 0M384.5 111.9a0.9 0.9 0 1 0 1.8 0a0.9 0.9 0 1 0 -1.8 0M379.2 134.2a0.9 0.9 0 1 0 1.8 0a0.9 0.9 0 1 0 -1.8 0M379.5 108.1a0.9 0.9 0 1 0 1.8 0a0.9 0.9 0 1 0 -1.8 0M382.2 87a0.9 0.9 0 1 0 1.8 0a0.9 0.9 0 1 0 -1.8 0M379.6 117.8a0.9 0.9 0 1 0 1.8 0a0.9 0.9 0 1 0 -1.8 0M374.8 121.3a0.9 0.9 0 1 0 1.8 0a0.9 0.9 0 1 0 -1.8 0M379.5 125.7a0.9 0.9 0 1 0 1.8 0a0.9 0.9 0 1 0 -1.8 0M377.3 99.8a0.9 0.9 0 1 0 1.8 0a0.9 0.9 0 1 0 -1.8 0M381.5 126.9a0.9 0.9 0 1 0 1.8 0a0.9 0.9 0 1 0 -1.8 0M376.7 137.6a0.9 0.9 0 1 0 1.8 0a0.9 0.9 0 1 0 -1.8 0M379.6 97.4a0.9 0.9 0 1 0 1.8 0a0.9 0.9 0 1 0 -1.8 0M377.1 127.4a0.9 0.9 0 1 0 1.8 0a0.9 0.9 0 1 0 -1.8 0M377.1 97.8a0.9 0.9 0 1 0 1.8 0a0.9 0.9 0 1 0 -1.8 0M377.5 130.9a0.9 0.9 0 1 0 1.8 0a0.9 0.9 0 1 0 -1.8 0M381.9 119.4a0.9 0.9 0 1 0 1.8 0a0.9 0.9 0 1 0 -1.8 0M384.4 127.5a0.9 0.9 0 1 0 1.8 0a0.9 0.9 0 1 0 -1.8 0M377.4 88.1a0.9 0.9 0 1 0 1.8 0a0.9 0.9 0 1 0 -1.8 0M384.2 99.3a0.9 0.9 0 1 0 1.8 0a0.9 0.9 0 1 0 -1.8 0M382.1 101.7a0.9 0.9 0 1 0 1.8 0a0.9 0.9 0 1 0 -1.8 0M381.8 91.9a0.9 0.9 0 1 0 1.8 0a0.9 0.9 0 1 0 -1.8 0M380 112.9a0.9 0.9 0 1 0 1.8 0a0.9 0.9 0 1 0 -1.8 0M377.4 123.5a0.9 0.9 0 1 0 1.8 0a0.9 0.9 0 1 0 -1.8 0M374.7 118.1a0.9 0.9 0 1 0 1.8 0a0.9 0.9 0 1 0 -1.8 0M382.1 108a0.9 0.9 0 1 0 1.8 0a0.9 0.9 0 1 0 -1.8 0M376.9 104a0.9 0.9 0 1 0 1.8 0a0.9 0.9 0 1 0 -1.8 0M379.2 93.5a0.9 0.9 0 1 0 1.8 0a0.9 0.9 0 1 0 -1.8 0M381.8 124.7a0.9 0.9 0 1 0 1.8 0a0.9 0.9 0 1 0 -1.8 0M375 126.4a0.9 0.9 0 1 0 1.8 0a0.9 0.9 0 1 0 -1.8 0M380 126.1a0.9 0.9 0 1 0 1.8 0a0.9 0.9 0 1 0 -1.8 0M377 107.8a0.9 0.9 0 1 0 1.8 0a0.9 0.9 0 1 0 -1.8 0M377 134.6a0.9 0.9 0 1 0 1.8 0a0.9 0.9 0 1 0 -1.8 0M384.8 118.3a0.9 0.9 0 1 0 1.8 0a0.9 0.9 0 1 0 -1.8 0M382.4 131.1a0.9 0.9 0 1 0 1.8 0a0.9 0.9 0 1 0 -1.8 0M382.1 114.7a0.9 0.9 0 1 0 1.8 0a0.9 0.9 0 1 0 -1.8 0M384.1 103.1a0.9 0.9 0 1 0 1.8 0a0.9 0.9 0 1 0 -1.8 0M375 87.2a0.9 0.9 0 1 0 1.8 0a0.9 0.9 0 1 0 -1.8 0M382 119.4a0.9 0.9 0 1 0 1.8 0a0.9 0.9 0 1 0 -1.8 0M376.8 114.5a0.9 0.9 0 1 0 1.8 0a0.9 0.9 0 1 0 -1.8 0M374.4 101.5a0.9 0.9 0 1 0 1.8 0a0.9 0.9 0 1 0 -1.8 0M375.1 103.3a0.9 0.9 0 1 0 1.8 0a0.9 0.9 0 1 0 -1.8 0M379.4 106a0.9 0.9 0 1 0 1.8 0a0.9 0.9 0 1 0 -1.8 0M384.4 120.5a0.9 0.9 0 1 0 1.8 0a0.9 0.9 0 1 0 -1.8 0M384.6 114.2a0.9 0.9 0 1 0 1.8 0a0.9 0.9 0 1 0 -1.8 0M384.5 119.3a0.9 0.9 0 1 0 1.8 0a0.9 0.9 0 1 0 -1.8 0M381.9 126.4a0.9 0.9 0 1 0 1.8 0a0.9 0.9 0 1 0 -1.8 0M374.6 99.7a0.9 0.9 0 1 0 1.8 0a0.9 0.9 0 1 0 -1.8 0M376.9 126.3a0.9 0.9 0 1 0 1.8 0a0.9 0.9 0 1 0 -1.8 0M374.6 129.7a0.9 0.9 0 1 0 1.8 0a0.9 0.9 0 1 0 -1.8 0M377.3 86.2a0.9 0.9 0 1 0 1.8 0a0.9 0.9 0 1 0 -1.8 0M377.6 116.6a0.9 0.9 0 1 0 1.8 0a0.9 0.9 0 1 0 -1.8 0M384.2 121.6a0.9 0.9 0 1 0 1.8 0a0.9 0.9 0 1 0 -1.8 0M381.9 96.3a0.9 0.9 0 1 0 1.8 0a0.9 0.9 0 1 0 -1.8 0M375.1 113.8a0.9 0.9 0 1 0 1.8 0a0.9 0.9 0 1 0 -1.8 0M375.1 107.4a0.9 0.9 0 1 0 1.8 0a0.9 0.9 0 1 0 -1.8 0M379.1 113.6a0.9 0.9 0 1 0 1.8 0a0.9 0.9 0 1 0 -1.8 0M436.1 136.3a0.9 0.9 0 1 0 1.8 0a0.9 0.9 0 1 0 -1.8 0M436.4 132.9a0.9 0.9 0 1 0 1.8 0a0.9 0.9 0 1 0 -1.8 0M435.8 104.6a0.9 0.9 0 1 0 1.8 0a0.9 0.9 0 1 0 -1.8 0M436.4 139.8a0.9 0.9 0 1 0 1.8 0a0.9 0.9 0 1 0 -1.8 0M438.9 131.9a0.9 0.9 0 1 0 1.8 0a0.9 0.9 0 1 0 -1.8 0M436 116.8a0.9 0.9 0 1 0 1.8 0a0.9 0.9 0 1 0 -1.8 0M434 134.8a0.9 0.9 0 1 0 1.8 0a0.9 0.9 0 1 0 -1.8 0M435.8 128.2a0.9 0.9 0 1 0 1.8 0a0.9 0.9 0 1 0 -1.8 0M436.3 125a0.9 0.9 0 1 0 1.8 0a0.9 0.9 0 1 0 -1.8 0M436.2 120.1a0.9 0.9 0 1 0 1.8 0a0.9 0.9 0 1 0 -1.8 0M438.4 127.4a0.9 0.9 0 1 0 1.8 0a0.9 0.9 0 1 0 -1.8 0M438.3 118.8a0.9 0.9 0 1 0 1.8 0a0.9 0.9 0 1 0 -1.8 0M436.4 122.6a0.9 0.9 0 1 0 1.8 0a0.9 0.9 0 1 0 -1.8 0M438.4 141.1a0.9 0.9 0 1 0 1.8 0a0.9 0.9 0 1 0 -1.8 0M433.4 117.7a0.9 0.9 0 1 0 1.8 0a0.9 0.9 0 1 0 -1.8 0M433.8 126.4a0.9 0.9 0 1 0 1.8 0a0.9 0.9 0 1 0 -1.8 0M436.4 142.6a0.9 0.9 0 1 0 1.8 0a0.9 0.9 0 1 0 -1.8 0M431.7 127.4a0.9 0.9 0 1 0 1.8 0a0.9 0.9 0 1 0 -1.8 0M438.5 121.4a0.9 0.9 0 1 0 1.8 0a0.9 0.9 0 1 0 -1.8 0M438.2 134.4a0.9 0.9 0 1 0 1.8 0a0.9 0.9 0 1 0 -1.8 0M433.7 131.3a0.9 0.9 0 1 0 1.8 0a0.9 0.9 0 1 0 -1.8 0M433.4 142.2a0.9 0.9 0 1 0 1.8 0a0.9 0.9 0 1 0 -1.8 0M436.1 130.3a0.9 0.9 0 1 0 1.8 0a0.9 0.9 0 1 0 -1.8 0M433.8 106a0.9 0.9 0 1 0 1.8 0a0.9 0.9 0 1 0 -1.8 0M436.3 144.4a0.9 0.9 0 1 0 1.8 0a0.9 0.9 0 1 0 -1.8 0M439 117a0.9 0.9 0 1 0 1.8 0a0.9 0.9 0 1 0 -1.8 0M441.3 127.5a0.9 0.9 0 1 0 1.8 0a0.9 0.9 0 1 0 -1.8 0M438.2 106.1a0.9 0.9 0 1 0 1.8 0a0.9 0.9 0 1 0 -1.8 0M441.3 104.4a0.9 0.9 0 1 0 1.8 0a0.9 0.9 0 1 0 -1.8 0M436.5 98.7a0.9 0.9 0 1 0 1.8 0a0.9 0.9 0 1 0 -1.8 0M440.9 140.7a0.9 0.9 0 1 0 1.8 0a0.9 0.9 0 1 0 -1.8 0M436 100.7a0.9 0.9 0 1 0 1.8 0a0.9 0.9 0 1 0 -1.8 0M440.9 117.8a0.9 0.9 0 1 0 1.8 0a0.9 0.9 0 1 0 -1.8 0M440.9 131.6a0.9 0.9 0 1 0 1.8 0a0.9 0.9 0 1 0 -1.8 0M433.4 122.1a0.9 0.9 0 1 0 1.8 0a0.9 0.9 0 1 0 -1.8 0M436 151.2a0.9 0.9 0 1 0 1.8 0a0.9 0.9 0 1 0 -1.8 0M435.8 110.9a0.9 0.9 0 1 0 1.8 0a0.9 0.9 0 1 0 -1.8 0M434.1 112.3a0.9 0.9 0 1 0 1.8 0a0.9 0.9 0 1 0 -1.8 0M431.8 131a0.9 0.9 0 1 0 1.8 0a0.9 0.9 0 1 0 -1.8 0M438.8 138.7a0.9 0.9 0 1 0 1.8 0a0.9 0.9 0 1 0 -1.8 0M441.2 126.1a0.9 0.9 0 1 0 1.8 0a0.9 0.9 0 1 0 -1.8 0M436.2 148.9a0.9 0.9 0 1 0 1.8 0a0.9 0.9 0 1 0 -1.8 0M438.8 123.8a0.9 0.9 0 1 0 1.8 0a0.9 0.9 0 1 0 -1.8 0M431.3 123.4a0.9 0.9 0 1 0 1.8 0a0.9 0.9 0 1 0 -1.8 0M431.2 104.5a0.9 0.9 0 1 0 1.8 0a0.9 0.9 0 1 0 -1.8 0M431.6 118.7a0.9 0.9 0 1 0 1.8 0a0.9 0.9 0 1 0 -1.8 0M438.3 110.7a0.9 0.9 0 1 0 1.8 0a0.9 0.9 0 1 0 -1.8 0M440.6 120.7a0.9 0.9 0 1 0 1.8 0a0.9 0.9 0 1 0 -1.8 0M433.4 110.5a0.9 0.9 0 1 0 1.8 0a0.9 0.9 0 1 0 -1.8 0M433.6 139.5a0.9 0.9 0 1 0 1.8 0a0.9 0.9 0 1 0 -1.8 0M431.6 105.3a0.9 0.9 0 1 0 1.8 0a0.9 0.9 0 1 0 -1.8 0M436.5 114.4a0.9 0.9 0 1 0 1.8 0a0.9 0.9 0 1 0 -1.8 0M438.5 129.3a0.9 0.9 0 1 0 1.8 0a0.9 0.9 0 1 0 -1.8 0M436.5 107.6a0.9 0.9 0 1 0 1.8 0a0.9 0.9 0 1 0 -1.8 0M436.1 132.4a0.9 0.9 0 1 0 1.8 0a0.9 0.9 0 1 0 -1.8 0M434 105.9a0.9 0.9 0 1 0 1.8 0a0.9 0.9 0 1 0 -1.8 0M440.6 134.3a0.9 0.9 0 1 0 1.8 0a0.9 0.9 0 1 0 -1.8 0M431.8 106.9a0.9 0.9 0 1 0 1.8 0a0.9 0.9 0 1 0 -1.8 0M433.5 117.6a0.9 0.9 0 1 0 1.8 0a0.9 0.9 0 1 0 -1.8 0M436.5 126.1a0.9 0.9 0 1 0 1.8 0a0.9 0.9 0 1 0 -1.8 0M438.9 99.4a0.9 0.9 0 1 0 1.8 0a0.9 0.9 0 1 0 -1.8 0M441 138.1a0.9 0.9 0 1 0 1.8 0a0.9 0.9 0 1 0 -1.8 0M434 99.1a0.9 0.9 0 1 0 1.8 0a0.9 0.9 0 1 0 -1.8 0M436.6 130.3a0.9 0.9 0 1 0 1.8 0a0.9 0.9 0 1 0 -1.8 0M438.6 117.1a0.9 0.9 0 1 0 1.8 0a0.9 0.9 0 1 0 -1.8 0M440.6 126.5a0.9 0.9 0 1 0 1.8 0a0.9 0.9 0 1 0 -1.8 0M433.8 129a0.9 0.9 0 1 0 1.8 0a0.9 0.9 0 1 0 -1.8 0M441.3 111.2a0.9 0.9 0 1 0 1.8 0a0.9 0.9 0 1 0 -1.8 0M436.5 131.8a0.9 0.9 0 1 0 1.8 0a0.9 0.9 0 1 0 -1.8 0M439 103.6a0.9 0.9 0 1 0 1.8 0a0.9 0.9 0 1 0 -1.8 0M433.6 126.1a0.9 0.9 0 1 0 1.8 0a0.9 0.9 0 1 0 -1.8 0M431.6 140.3a0.9 0.9 0 1 0 1.8 0a0.9 0.9 0 1 0 -1.8 0M431.8 133.6a0.9 0.9 0 1 0 1.8 0a0.9 0.9 0 1 0 -1.8 0M441.3 122.2a0.9 0.9 0 1 0 1.8 0a0.9 0.9 0 1 0 -1.8 0M492.7 98.8a0.9 0.9 0 1 0 1.8 0a0.9 0.9 0 1 0 -1.8 0M493.1 101.2a0.9 0.9 0 1 0 1.8 0a0.9 0.9 0 1 0 -1.8 0M492.7 108a0.9 0.9 0 1 0 1.8 0a0.9 0.9 0 1 0 -1.8 0M493.1 139.7a0.9 0.9 0 1 0 1.8 0a0.9 0.9 0 1 0 -1.8 0M493.1 112.1a0.9 0.9 0 1 0 1.8 0a0.9 0.9 0 1 0 -1.8 0M493.3 125.8a0.9 0.9 0 1 0 1.8 0a0.9 0.9 0 1 0 -1.8 0M492.6 146.6a0.9 0.9 0 1 0 1.8 0a0.9 0.9 0 1 0 -1.8 0M493.1 94a0.9 0.9 0 1 0 1.8 0a0.9 0.9 0 1 0 -1.8 0M495.1 111.8a0.9 0.9 0 1 0 1.8 0a0.9 0.9 0 1 0 -1.8 0M493.2 109.8a0.9 0.9 0 1 0 1.8 0a0.9 0.9 0 1 0 -1.8 0M492.4 120a0.9 0.9 0 1 0 1.8 0a0.9 0.9 0 1 0 -1.8 0M495.5 119.2a0.9 0.9 0 1 0 1.8 0a0.9 0.9 0 1 0 -1.8 0M492.9 132.6a0.9 0.9 0 1 0 1.8 0a0.9 0.9 0 1 0 -1.8 0M490.2 111a0.9 0.9 0 1 0 1.8 0a0.9 0.9 0 1 0 -1.8 0M492.6 135.5a0.9 0.9 0 1 0 1.8 0a0.9 0.9 0 1 0 -1.8 0M495 94.4a0.9 0.9 0 1 0 1.8 0a0.9 0.9 0 1 0 -1.8 0M492.9 88.8a0.9 0.9 0 1 0 1.8 0a0.9 0.9 0 1 0 -1.8 0M494.9 109.5a0.9 0.9 0 1 0 1.8 0a0.9 0.9 0 1 0 -1.8 0M493.2 129.3a0.9 0.9 0 1 0 1.8 0a0.9 0.9 0 1 0 -1.8 0M490.6 124.5a0.9 0.9 0 1 0 1.8 0a0.9 0.9 0 1 0 -1.8 0M492.8 114.3a0.9 0.9 0 1 0 1.8 0a0.9 0.9 0 1 0 -1.8 0M493.3 123.6a0.9 0.9 0 1 0 1.8 0a0.9 0.9 0 1 0 -1.8 0M495.3 125.9a0.9 0.9 0 1 0 1.8 0a0.9 0.9 0 1 0 -1.8 0M495.3 106.6a0.9 0.9 0 1 0 1.8 0a0.9 0.9 0 1 0 -1.8 0M492.9 86.2a0.9 0.9 0 1 0 1.8 0a0.9 0.9 0 1 0 -1.8 0M490.7 119a0.9 0.9 0 1 0 1.8 0a0.9 0.9 0 1 0 -1.8 0M490.7 115.7a0.9 0.9 0 1 0 1.8 0a0.9 0.9 0 1 0 -1.8 0M495.3 121.9a0.9 0.9 0 1 0 1.8 0a0.9 0.9 0 1 0 -1.8 0M495.6 115.1a0.9 0.9 0 1 0 1.8 0a0.9 0.9 0 1 0 -1.8 0M495.5 146a0.9 0.9 0 1 0 1.8 0a0.9 0.9 0 1 0 -1.8 0M493.2 142.1a0.9 0.9 0 1 0 1.8 0a0.9 0.9 0 1 0 -1.8 0M495.2 102.4a0.9 0.9 0 1 0 1.8 0a0.9 0.9 0 1 0 -1.8 0M493.1 104.3a0.9 0.9 0 1 0 1.8 0a0.9 0.9 0 1 0 -1.8 0M495 128.6a0.9 0.9 0 1 0 1.8 0a0.9 0.9 0 1 0 -1.8 0M492.6 97a0.9 0.9 0 1 0 1.8 0a0.9 0.9 0 1 0 -1.8 0M490.8 132a0.9 0.9 0 1 0 1.8 0a0.9 0.9 0 1 0 -1.8 0M490.5 128.9a0.9 0.9 0 1 0 1.8 0a0.9 0.9 0 1 0 -1.8 0M497.6 115.7a0.9 0.9 0 1 0 1.8 0a0.9 0.9 0 1 0 -1.8 0M490.8 93a0.9 0.9 0 1 0 1.8 0a0.9 0.9 0 1 0 -1.8 0M490.5 105.6a0.9 0.9 0 1 0 1.8 0a0.9 0.9 0 1 0 -1.8 0M495.2 86.1a0.9 0.9 0 1 0 1.8 0a0.9 0.9 0 1 0 -1.8 0M490.2 143.7a0.9 0.9 0 1 0 1.8 0a0.9 0.9 0 1 0 -1.8 0M497.3 119.9a0.9 0.9 0 1 0 1.8 0a0.9 0.9 0 1 0 -1.8 0M493.3 143.9a0.9 0.9 0 1 0 1.8 0a0.9 0.9 0 1 0 -1.8 0M488 129.2a0.9 0.9 0 1 0 1.8 0a0.9 0.9 0 1 0 -1.8 0M490.5 108.3a0.9 0.9 0 1 0 1.8 0a0.9 0.9 0 1 0 -1.8 0M494.8 134a0.9 0.9 0 1 0 1.8 0a0.9 0.9 0 1 0 -1.8 0M490.3 113.9a0.9 0.9 0 1 0 1.8 0a0.9 0.9 0 1 0 -1.8 0M498 125a0.9 0.9 0 1 0 1.8 0a0.9 0.9 0 1 0 -1.8 0M493.1 117.6a0.9 0.9 0 1 0 1.8 0a0.9 0.9 0 1 0 -1.8 0M487.7 120.5a0.9 0.9 0 1 0 1.8 0a0.9 0.9 0 1 0 -1.8 0M490.4 126.6a0.9 0.9 0 1 0 1.8 0a0.9 0.9 0 1 0 -1.8 0M495.6 132a0.9 0.9 0 1 0 1.8 0a0.9 0.9 0 1 0 -1.8 0M490.8 135.6a0.9 0.9 0 1 0 1.8 0a0.9 0.9 0 1 0 -1.8 0M497.3 127.1a0.9 0.9 0 1 0 1.8 0a0.9 0.9 0 1 0 -1.8 0M490.2 89.3a0.9 0.9 0 1 0 1.8 0a0.9 0.9 0 1 0 -1.8 0M497.5 108.3a0.9 0.9 0 1 0 1.8 0a0.9 0.9 0 1 0 -1.8 0M490.7 100.9a0.9 0.9 0 1 0 1.8 0a0.9 0.9 0 1 0 -1.8 0M497.3 131.7a0.9 0.9 0 1 0 1.8 0a0.9 0.9 0 1 0 -1.8 0M488 133.1a0.9 0.9 0 1 0 1.8 0a0.9 0.9 0 1 0 -1.8 0M490.3 133.8a0.9 0.9 0 1 0 1.8 0a0.9 0.9 0 1 0 -1.8 0M487.7 109a0.9 0.9 0 1 0 1.8 0a0.9 0.9 0 1 0 -1.8 0M495.7 116.9a0.9 0.9 0 1 0 1.8 0a0.9 0.9 0 1 0 -1.8 0M487.7 93.9a0.9 0.9 0 1 0 1.8 0a0.9 0.9 0 1 0 -1.8 0M492.6 107.9a0.9 0.9 0 1 0 1.8 0a0.9 0.9 0 1 0 -1.8 0M497.9 119.5a0.9 0.9 0 1 0 1.8 0a0.9 0.9 0 1 0 -1.8 0M495.7 128.4a0.9 0.9 0 1 0 1.8 0a0.9 0.9 0 1 0 -1.8 0M487.6 118.4a0.9 0.9 0 1 0 1.8 0a0.9 0.9 0 1 0 -1.8 0M495.6 99.8a0.9 0.9 0 1 0 1.8 0a0.9 0.9 0 1 0 -1.8 0M497.7 106a0.9 0.9 0 1 0 1.8 0a0.9 0.9 0 1 0 -1.8 0M490.8 86.2a0.9 0.9 0 1 0 1.8 0a0.9 0.9 0 1 0 -1.8 0M490.2 122.5a0.9 0.9 0 1 0 1.8 0a0.9 0.9 0 1 0 -1.8 0M497.6 112.9a0.9 0.9 0 1 0 1.8 0a0.9 0.9 0 1 0 -1.8 0M492.7 120.1a0.9 0.9 0 1 0 1.8 0a0.9 0.9 0 1 0 -1.8 0M549.3 158.9a0.9 0.9 0 1 0 1.8 0a0.9 0.9 0 1 0 -1.8 0M549.1 156a0.9 0.9 0 1 0 1.8 0a0.9 0.9 0 1 0 -1.8 0M549.2 176.3a0.9 0.9 0 1 0 1.8 0a0.9 0.9 0 1 0 -1.8 0M549.4 161a0.9 0.9 0 1 0 1.8 0a0.9 0.9 0 1 0 -1.8 0M549.3 205.7a0.9 0.9 0 1 0 1.8 0a0.9 0.9 0 1 0 -1.8 0M549.1 166.9a0.9 0.9 0 1 0 1.8 0a0.9 0.9 0 1 0 -1.8 0M549.6 178.4a0.9 0.9 0 1 0 1.8 0a0.9 0.9 0 1 0 -1.8 0M549.5 164.2a0.9 0.9 0 1 0 1.8 0a0.9 0.9 0 1 0 -1.8 0M547.4 157.4a0.9 0.9 0 1 0 1.8 0a0.9 0.9 0 1 0 -1.8 0M549.2 170.7a0.9 0.9 0 1 0 1.8 0a0.9 0.9 0 1 0 -1.8 0M549.4 180.6a0.9 0.9 0 1 0 1.8 0a0.9 0.9 0 1 0 -1.8 0M551.7 157.2a0.9 0.9 0 1 0 1.8 0a0.9 0.9 0 1 0 -1.8 0M549.6 172.9a0.9 0.9 0 1 0 1.8 0a0.9 0.9 0 1 0 -1.8 0M549.1 202.3a0.9 0.9 0 1 0 1.8 0a0.9 0.9 0 1 0 -1.8 0M546.8 177.8a0.9 0.9 0 1 0 1.8 0a0.9 0.9 0 1 0 -1.8 0M549.6 143a0.9 0.9 0 1 0 1.8 0a0.9 0.9 0 1 0 -1.8 0M549.5 188.1a0.9 0.9 0 1 0 1.8 0a0.9 0.9 0 1 0 -1.8 0M549.1 140.5a0.9 0.9 0 1 0 1.8 0a0.9 0.9 0 1 0 -1.8 0M552 165.5a0.9 0.9 0 1 0 1.8 0a0.9 0.9 0 1 0 -1.8 0M551.6 170a0.9 0.9 0 1 0 1.8 0a0.9 0.9 0 1 0 -1.8 0M551.8 176.2a0.9 0.9 0 1 0 1.8 0a0.9 0.9 0 1 0 -1.8 0M549.8 193.2a0.9 0.9 0 1 0 1.8 0a0.9 0.9 0 1 0 -1.8 0M554.1 176.2a0.9 0.9 0 1 0 1.8 0a0.9 0.9 0 1 0 -1.8 0M549.1 119.8a0.9 0.9 0 1 0 1.8 0a0.9 0.9 0 1 0 -1.8 0M552.2 162.6a0.9 0.9 0 1 0 1.8 0a0.9 0.9 0 1 0 -1.8 0M546.9 194.8a0.9 0.9 0 1 0 1.8 0a0.9 0.9 0 1 0 -1.8 0M549.3 210.3a0.9 0.9 0 1 0 1.8 0a0.9 0.9 0 1 0 -1.8 0M547.1 181a0.9 0.9 0 1 0 1.8 0a0.9 0.9 0 1 0 -1.8 0M547.3 170.5a0.9 0.9 0 1 0 1.8 0a0.9 0.9 0 1 0 -1.8 0M552 207.2a0.9 0.9 0 1 0 1.8 0a0.9 0.9 0 1 0 -1.8 0M552.1 177.9a0.9 0.9 0 1 0 1.8 0a0.9 0.9 0 1 0 -1.8 0M551.9 188.6a0.9 0.9 0 1 0 1.8 0a0.9 0.9 0 1 0 -1.8 0M547.5 155.4a0.9 0.9 0 1 0 1.8 0a0.9 0.9 0 1 0 -1.8 0M551.9 182.2a0.9 0.9 0 1 0 1.8 0a0.9 0.9 0 1 0 -1.8 0M544.5 178.2a0.9 0.9 0 1 0 1.8 0a0.9 0.9 0 1 0 -1.8 0M554.6 155.9a0.9 0.9 0 1 0 1.8 0a0.9 0.9 0 1 0 -1.8 0M547.3 204.3a0.9 0.9 0 1 0 1.8 0a0.9 0.9 0 1 0 -1.8 0M547.4 189.1a0.9 0.9 0 1 0 1.8 0a0.9 0.9 0 1 0 -1.8 0M551.5 203.7a0.9 0.9 0 1 0 1.8 0a0.9 0.9 0 1 0 -1.8 0M554.4 157.7a0.9 0.9 0 1 0 1.8 0a0.9 0.9 0 1 0 -1.8 0M552.2 160.7a0.9 0.9 0 1 0 1.8 0a0.9 0.9 0 1 0 -1.8 0M549.3 123.8a0.9 0.9 0 1 0 1.8 0a0.9 0.9 0 1 0 -1.8 0M549.7 154.1a0.9 0.9 0 1 0 1.8 0a0.9 0.9 0 1 0 -1.8 0M549.4 196a0.9 0.9 0 1 0 1.8 0a0.9 0.9 0 1 0 -1.8 0M547.2 153.5a0.9 0.9 0 1 0 1.8 0a0.9 0.9 0 1 0 -1.8 0M547.2 174.8a0.9 0.9 0 1 0 1.8 0a0.9 0.9 0 1 0 -1.8 0M549.7 190.5a0.9 0.9 0 1 0 1.8 0a0.9 0.9 0 1 0 -1.8 0M551.9 194a0.9 0.9 0 1 0 1.8 0a0.9 0.9 0 1 0 -1.8 0M547.5 161.2a0.9 0.9 0 1 0 1.8 0a0.9 0.9 0 1 0 -1.8 0M551.9 154.8a0.9 0.9 0 1 0 1.8 0a0.9 0.9 0 1 0 -1.8 0M549.2 185.3a0.9 0.9 0 1 0 1.8 0a0.9 0.9 0 1 0 -1.8 0M549.1 183a0.9 0.9 0 1 0 1.8 0a0.9 0.9 0 1 0 -1.8 0M544.8 189.4a0.9 0.9 0 1 0 1.8 0a0.9 0.9 0 1 0 -1.8 0M547.5 185.2a0.9 0.9 0 1 0 1.8 0a0.9 0.9 0 1 0 -1.8 0M551.8 173.8a0.9 0.9 0 1 0 1.8 0a0.9 0.9 0 1 0 -1.8 0M544.3 162.6a0.9 0.9 0 1 0 1.8 0a0.9 0.9 0 1 0 -1.8 0M551.6 167.9a0.9 0.9 0 1 0 1.8 0a0.9 0.9 0 1 0 -1.8 0M553.9 173.1a0.9 0.9 0 1 0 1.8 0a0.9 0.9 0 1 0 -1.8 0M551.7 185.7a0.9 0.9 0 1 0 1.8 0a0.9 0.9 0 1 0 -1.8 0M546.9 186.9a0.9 0.9 0 1 0 1.8 0a0.9 0.9 0 1 0 -1.8 0M553.9 185.1a0.9 0.9 0 1 0 1.8 0a0.9 0.9 0 1 0 -1.8 0M549.7 168.7a0.9 0.9 0 1 0 1.8 0a0.9 0.9 0 1 0 -1.8 0M554.5 178.1a0.9 0.9 0 1 0 1.8 0a0.9 0.9 0 1 0 -1.8 0M545 173.3a0.9 0.9 0 1 0 1.8 0a0.9 0.9 0 1 0 -1.8 0M547.2 167.4a0.9 0.9 0 1 0 1.8 0a0.9 0.9 0 1 0 -1.8 0M547 172.6a0.9 0.9 0 1 0 1.8 0a0.9 0.9 0 1 0 -1.8 0M547.1 178.3a0.9 0.9 0 1 0 1.8 0a0.9 0.9 0 1 0 -1.8 0M554.4 204.7a0.9 0.9 0 1 0 1.8 0a0.9 0.9 0 1 0 -1.8 0M551.9 179.9a0.9 0.9 0 1 0 1.8 0a0.9 0.9 0 1 0 -1.8 0M547 183.2a0.9 0.9 0 1 0 1.8 0a0.9 0.9 0 1 0 -1.8 0M547.2 163a0.9 0.9 0 1 0 1.8 0a0.9 0.9 0 1 0 -1.8 0M544.8 181a0.9 0.9 0 1 0 1.8 0a0.9 0.9 0 1 0 -1.8 0M552.3 177.5a0.9 0.9 0 1 0 1.8 0a0.9 0.9 0 1 0 -1.8 0M549.7 197.9a0.9 0.9 0 1 0 1.8 0a0.9 0.9 0 1 0 -1.8 0"/>
<path fill="#ff5030" d="M112.5 163.1a0.9 0.9 0 1 0 1.8 0a0.9 0.9 0 1 0 -1.8 0M112.5 156a0.9 0.9 0 1 0 1.8 0a0.9 0.9 0 1 0 -1.8 0M112.2 135.6a0.9 0.9 0 1 0 1.8 0a0.9 0.9 0 1 0 -1.8 0M112.4 159.3a0.9 0.9 0 1 0 1.8 0a0.9 0.9 0 1 0 -1.8 0M109.5 158.5a0.9 0.9 0 1 0 1.8 0a0.9 0.9 0 1 0 -1.8 0M111.8 143.5a0.9 0.9 0 1 0 1.8 0a0.9 0.9 0 1 0 -1.8 0M114.9 143.2a0.9 0.9 0 1 0 1.8 0a0.9 0.9 0 1 0 -1.8 0M112.3 165.4a0.9 0.9 0 1 0 1.8 0a0.9 0.9 0 1 0 -1.8 0M114.2 158a0.9 0.9 0 1 0 1.8 0a0.9 0.9 0 1 0 -1.8 0M109.4 162a0.9 0.9 0 1 0 1.8 0a0.9 0.9 0 1 0 -1.8 0M109.6 167a0.9 0.9 0 1 0 1.8 0a0.9 0.9 0 1 0 -1.8 0M109.5 142.9a0.9 0.9 0 1 0 1.8 0a0.9 0.9 0 1 0 -1.8 0M111.9 190a0.9 0.9 0 1 0 1.8 0a0.9 0.9 0 1 0 -1.8 0M107.5 142.3a0.9 0.9 0 1 0 1.8 0a0.9 0.9 0 1 0 -1.8 0M112 147.2a0.9 0.9 0 1 0 1.8 0a0.9 0.9 0 1 0 -1.8 0M106.9 158.2a0.9 0.9 0 1 0 1.8 0a0.9 0.9 0 1 0 -1.8 0M116.6 157a0.9 0.9 0 1 0 1.8 0a0.9 0.9 0 1 0 -1.8 0M112.1 169.2a0.9 0.9 0 1 0 1.8 0a0.9 0.9 0 1 0 -1.8 0M109.8 145.6a0.9 0.9 0 1 0 1.8 0a0.9 0.9 0 1 0 -1.8 0M114.7 164.1a0.9 0.9 0 1 0 1.8 0a0.9 0.9 0 1 0 -1.8 0M116.8 142.8a0.9 0.9 0 1 0 1.8 0a0.9 0.9 0 1 0 -1.8 0M109.4 156a0.9 0.9 0 1 0 1.8 0a0.9 0.9 0 1 0 -1.8 0M114.8 170.1a0.9 0.9 0 1 0 1.8 0a0.9 0.9 0 1 0 -1.8 0M114.8 154.6a0.9 0.9 0 1 0 1.8 0a0.9 0.9 0 1 0 -1.8 0M112.2 153.5a0.9 0.9 0 1 0 1.8 0a0.9 0.9 0 1 0 -1.8 0M109.7 153.3a0.9 0.9 0 1 0 1.8 0a0.9 0.9 0 1 0 -1.8 0M107.2 144.5a0.9 0.9 0 1 0 1.8 0a0.9 0.9 0 1 0 -1.8 0M112 126.2a0.9 0.9 0 1 0 1.8 0a0.9 0.9 0 1 0 -1.8 0M112.1 167.4a0.9 0.9 0 1 0 1.8 0a0.9 0.9 0 1 0 -1.8 0M112.3 141.3a0.9 0.9 0 1 0 1.8 0a0.9 0.9 0 1 0 -1.8 0M117 168.7a0.9 0.9 0 1 0 1.8 0a0.9 0.9 0 1 0 -1.8 0M114.4 167.6a0.9 0.9 0 1 0 1.8 0a0.9 0.9 0 1 0 -1.8 0M107.4 167.3a0.9 0.9 0 1 0 1.8 0a0.9 0.9 0 1 0 -1.8 0M114.6 145.7a0.9 0.9 0 1 0 1.8 0a0.9 0.9 0 1 0 -1.8 0M109.3 148.3a0.9 0.9 0 1 0 1.8 0a0.9 0.9 0 1 0 -1.8 0M109.5 144.2a0.9 0.9 0 1 0 1.8 0a0.9 0.9 0 1 0 -1.8 0M111.8 122.9a0.9 0.9 0 1 0 1.8 0a0.9 0.9 0 1 0 -1.8 0M107.6 162.7a0.9 0.9 0 1 0 1.8 0a0.9 0.9 0 1 0 -1.8 0M112.1 185a0.9 0.9 0 1 0 1.8 0a0.9 0.9 0 1 0 -1.8 0M107.4 143.2a0.9 0.9 0 1 0 1.8 0a0.9 0.9 0 1 0 -1.8 0M112.1 141.8a0.9 0.9 0 1 0 1.8 0a0.9 0.9 0 1 0 -1.8 0M109.8 169.7a0.9 0.9 0 1 0 1.8 0a0.9 0.9 0 1 0 -1.8 0M114.4 147.5a0.9 0.9 0 1 0 1.8 0a0.9 0.9 0 1 0 -1.8 0M112.1 133.9a0.9 0.9 0 1 0 1.8 0a0.9 0.9 0 1 0 -1.8 0M114.9 152.3a0.9 0.9 0 1 0 1.8 0a0.9 0.9 0 1 0 -1.8 0M117.3 166a0.9 0.9 0 1 0 1.8 0a0.9 0.9 0 1 0 -1.8 0M112 149.6a0.9 0.9 0 1 0 1.8 0a0.9 0.9 0 1 0 -1.8 0M114.3 162a0.9 0.9 0 1 0 1.8 0a0.9 0.9 0 1 0 -1.8 0M112 151.7a0.9 0.9 0 1 0 1.8 0a0.9 0.9 0 1 0 -1.8 0M114.5 122a0.9 0.9 0 1 0 1.8 0a0.9 0.9 0 1 0 -1.8 0M107.3 165.4a0.9 0.9 0 1 0 1.8 0a0.9 0.9 0 1 0 -1.8 0M112 139.2a0.9 0.9 0 1 0 1.8 0a0.9 0.9 0 1 0 -1.8 0M114.2 134.2a0.9 0.9 0 1 0 1.8 0a0.9 0.9 0 1 0 -1.8 0M112.5 173.3a0.9 0.9 0 1 0 1.8 0a0.9 0.9 0 1 0 -1.8 0M117.3 148.6a0.9 0.9 0 1 0 1.8 0a0.9 0.9 0 1 0 -1.8 0M111.9 171.3a0.9 0.9 0 1 0 1.8 0a0.9 0.9 0 1 0 -1.8 0M117.2 166.9a0.9 0.9 0 1 0 1.8 0a0.9 0.9 0 1 0 -1.8 0M116.8 157.5a0.9 0.9 0 1 0 1.8 0a0.9 0.9 0 1 0 -1.8 0M107 148.4a0.9 0.9 0 1 0 1.8 0a0.9 0.9 0 1 0 -1.8 0M114.2 142.4a0.9 0.9 0 1 0 1.8 0a0.9 0.9 0 1 0 -1.8 0M107.2 148.8a0.9 0.9 0 1 0 1.8 0a0.9 0.9 0 1 0 -1.8 0M114.2 149.4a0.9 0.9 0 1 0 1.8 0a0.9 0.9 0 1 0 -1.8 0M114.4 139a0.9 0.9 0 1 0 1.8 0a0.9 0.9 0 1 0 -1.8 0M109.3 133.3a0.9 0.9 0 1 0 1.8 0a0.9 0.9 0 1 0 -1.8 0M117.3 133.6a0.9 0.9 0 1 0 1.8 0a0.9 0.9 0 1 0 -1.8 0M109.8 127.8a0.9 0.9 0 1 0 1.8 0a0.9 0.9 0 1 0 -1.8 0M107.6 157.5a0.9 0.9 0 1 0 1.8 0a0.9 0.9 0 1 0 -1.8 0M116.5 148.2a0.9 0.9 0 1 0 1.8 0a0.9 0.9 0 1 0 -1.8 0M107.5 141.6a0.9 0.9 0 1 0 1.8 0a0.9 0.9 0 1 0 -1.8 0M107.3 148.1a0.9 0.9 0 1 0 1.8 0a0.9 0.9 0 1 0 -1.8 0M114.7 141.3a0.9 0.9 0 1 0 1.8 0a0.9 0.9 0 1 0 -1.8 0M112.5 129.3a0.9 0.9 0 1 0 1.8 0a0.9 0.9 0 1 0 -1.8 0M109.3 141.2a0.9 0.9 0 1 0 1.8 0a0.9 0.9 0 1 0 -1.8 0M117.2 159a0.9 0.9 0 1 0 1.8 0a0.9 0.9 0 1 0 -1.8 0M114.6 127.2a0.9 0.9 0 1 0 1.8 0a0.9 0.9 0 1 0 -1.8 0M107.4 152.3a0.9 0.9 0 1 0 1.8 0a0.9 0.9 0 1 0 -1.8 0M109.9 164.3a0.9 0.9 0 1 0 1.8 0a0.9 0.9 0 1 0 -1.8 0M107.3 127.5a0.9 0.9 0 1 0 1.8 0a0.9 0.9 0 1 0 -1.8 0M111.8 161.1a0.9 0.9 0 1 0 1.8 0a0.9 0.9 0 1 0 -1.8 0M112.4 156.8a0.9 0.9 0 1 0 1.8 0a0.9 0.9 0 1 0 -1.8 0M107.3 155a0.9 0.9 0 1 0 1.8 0a0.9 0.9 0 1 0 -1.8 0M117.2 163.4a0.9 0.9 0 1 0 1.8 0a0.9 0.9 0 1 0 -1.8 0M111.8 147.5a0.9 0.9 0 1 0 1.8 0a0.9 0.9 0 1 0 -1.8 0M111.7 195a0.9 0.9 0 1 0 1.8 0a0.9 0.9 0 1 0 -1.8 0M112 105.7a0.9 0.9 0 1 0 1.8 0a0.9 0.9 0 1 0 -1.8 0M112.4 118.1a0.9 0.9 0 1 0 1.8 0a0.9 0.9 0 1 0 -1.8 0M106.9 166.7a0.9 0.9 0 1 0 1.8 0a0.9 0.9 0 1 0 -1.8 0M114.2 158.6a0.9 0.9 0 1 0 1.8 0a0.9 0.9 0 1 0 -1.8 0M117 154.8a0.9 0.9 0 1 0 1.8 0a0.9 0.9 0 1 0 -1.8 0M112.5 199.9a0.9 0.9 0 1 0 1.8 0a0.9 0.9 0 1 0 -1.8 0M109.3 150.2a0.9 0.9 0 1 0 1.8 0a0.9 0.9 0 1 0 -1.8 0M106.9 165.3a0.9 0.9 0 1 0 1.8 0a0.9 0.9 0 1 0 -1.8 0M109.9 153.8a0.9 0.9 0 1 0 1.8 0a0.9 0.9 0 1 0 -1.8 0M114.2 148.5a0.9 0.9 0 1 0 1.8 0a0.9 0.9 0 1 0 -1.8 0M114.7 149.1a0.9 0.9 0 1 0 1.8 0a0.9 0.9 0 1 0 -1.8 0M107.5 168.9a0.9 0.9 0 1 0 1.8 0a0.9 0.9 0 1 0 -1.8 0M168.7 147.5a0.9 0.9 0 1 0 1.8 0a0.9 0.9 0 1 0 -1.8 0M169.1 159.4a0.9 0.9 0 1 0 1.8 0a0.9 0.9 0 1 0 -1.8 0M168.5 165.4a0.9 0.9 0 1 0 1.8 0a0.9 0.9 0 1 0 -1.8 0M170.8 164.1a0.9 0.9 0 1 0 1.8 0a0.9 0.9 0 1 0 -1.8 0M166.3 164a0.9 0.9 0 1 0 1.8 0a0.9 0.9 0 1 0 -1.8 0M168.5 149.4a0.9 0.9 0 1 0 1.8 0a0.9 0.9 0 1 0 -1.8 0M169 143.4a0.9 0.9 0 1 0 1.8 0a0.9 0.9 0 1 0 -1.8 0M168.9 168.9a0.9 0.9 0 1 0 1.8 0a0.9 0.9 0 1 0 -1.8 0M168.5 176.7a0.9 0.9 0 1 0 1.8 0a0.9 0.9 0 1 0 -1.8 0M169.1 174.6a0.9 0.9 0 1 0 1.8 0a0.9 0.9 0 1 0 -1.8 0M166.1 175.4a0.9 0.9 0 1 0 1.8 0a0.9 0.9 0 1 0 -1.8 0M170.8 174.5a0.9 0.9 0 1 0 1.8 0a0.9 0.9 0 1 0 -1.8 0M166.1 159.8a0.9 0.9 0 1 0 1.8 0a0.9 0.9 0 1 0 -1.8 0M173.6 175.8a0.9 0.9 0 1 0 1.8 0a0.9 0.9 0 1 0 -1.8 0M169 178.9a0.9 0.9 0 1 0 1.8 0a0.9 0.9 0 1 0 -1.8 0M171.3 159.7a0.9 0.9 0 1 0 1.8 0a0.9 0.9 0 1 0 -1.8 0M168.4 151.6a0.9 0.9 0 1 0 1.8 0a0.9 0.9 0 1 0 -1.8 0M168.7 181a0.9 0.9 0 1 0 1.8 0a0.9 0.9 0 1 0 -1.8 0M166.6 178.3a0.9 0.9 0 1 0 1.8 0a0.9 0.9 0 1 0 -1.8 0M173.7 161a0.9 0.9 0 1 0 1.8 0a0.9 0.9 0 1 0 -1.8 0M169 128.3a0.9 0.9 0 1 0 1.8 0a0.9 0.9 0 1 0 -1.8 0M168.4 184.2a0.9 0.9 0 1 0 1.8 0a0.9 0.9 0 1 0 -1.8 0M171.4 149a0.9 0.9 0 1 0 1.8 0a0.9 0.9 0 1 0 -1.8 0M166.1 149.8a0.9 0.9 0 1 0 1.8 0a0.9 0.9 0 1 0 -1.8 0M163.5 175.5a0.9 0.9 0 1 0 1.8 0a0.9 0.9 0 1 0 -1.8 0M163.9 158.5a0.9 0.9 0 1 0 1.8 0a0.9 0.9 0 1 0 -1.8 0M164.1 150a0.9 0.9 0 1 0 1.8 0a0.9 0.9 0 1 0 -1.8 0M173.7 149.5a0.9 0.9 0 1 0 1.8 0a0.9 0.9 0 1 0 -1.8 0M166.3 168.6a0.9 0.9 0 1 0 1.8 0a0.9 0.9 0 1 0 -1.8 0M168.5 163.1a0.9 0.9 0 1 0 1.8 0a0.9 0.9 0 1 0 -1.8 0M171.2 176.9a0.9 0.9 0 1 0 1.8 0a0.9 0.9 0 1 0 -1.8 0M166.3 152.1a0.9 0.9 0 1 0 1.8 0a0.9 0.9 0 1 0 -1.8 0M173.1 159.7a0.9 0.9 0 1 0 1.8 0a0.9 0.9 0 1 0 -1.8 0M166.1 166.2a0.9 0.9 0 1 0 1.8 0a0.9 0.9 0 1 0 -1.8 0M171 161.9a0.9 0.9 0 1 0 1.8 0a0.9 0.9 0 1 0 -1.8 0M173.8 164.5a0.9 0.9 0 1 0 1.8 0a0.9 0.9 0 1 0 -1.8 0M169.2 155.1a0.9 0.9 0 1 0 1.8 0a0.9 0.9 0 1 0 -1.8 0M174 178.3a0.9 0.9 0 1 0 1.8 0a0.9 0.9 0 1 0 -1.8 0M171.2 184.7a0.9 0.9 0 1 0 1.8 0a0.9 0.9 0 1 0 -1.8 0M166.2 161.7a0.9 0.9 0 1 0 1.8 0a0.9 0.9 0 1 0 -1.8 0M166.7 155.1a0.9 0.9 0 1 0 1.8 0a0.9 0.9 0 1 0 -1.8 0M164.2 165.6a0.9 0.9 0 1 0 1.8 0a0.9 0.9 0 1 0 -1.8 0M166.8 159.5a0.9 0.9 0 1 0 1.8 0a0.9 0.9 0 1 0 -1.8 0M168.5 145.6a0.9 0.9 0 1 0 1.8 0a0.9 0.9 0 1 0 -1.8 0M171.6 168.8a0.9 0.9 0 1 0 1.8 0a0.9 0.9 0 1 0 -1.8 0M171.2 150.1a0.9 0.9 0 1 0 1.8 0a0.9 0.9 0 1 0 -1.8 0M168.9 161.3a0.9 0.9 0 1 0 1.8 0a0.9 0.9 0 1 0 -1.8 0M163.7 162a0.9 0.9 0 1 0 1.8 0a0.9 0.9 0 1 0 -1.8 0M164.3 164.7a0.9 0.9 0 1 0 1.8 0a0.9 0.9 0 1 0 -1.8 0M166 174.8a0.9 0.9 0 1 0 1.8 0a0.9 0.9 0 1 0 -1.8 0M171.3 144.5a0.9 0.9 0 1 0 1.8 0a0.9 0.9 0 1 0 -1.8 0M166.7 143.4a0.9 0.9 0 1 0 1.8 0a0.9 0.9 0 1 0 -1.8 0M166.6 162.2a0.9 0.9 0 1 0 1.8 0a0.9 0.9 0 1 0 -1.8 0M173.3 169.5a0.9 0.9 0 1 0 1.8 0a0.9 0.9 0 1 0 -1.8 0M164.4 164.1a0.9 0.9 0 1 0 1.8 0a0.9 0.9 0 1 0 -1.8 0M169.1 165.3a0.9 0.9 0 1 0 1.8 0a0.9 0.9 0 1 0 -1.8 0M171.6 176.6a0.9 0.9 0 1 0 1.8 0a0.9 0.9 0 1 0 -1.8 0M166.6 147a0.9 0.9 0 1 0 1.8 0a0.9 0.9 0 1 0 -1.8 0M171.6 154.3a0.9 0.9 0 1 0 1.8 0a0.9 0.9 0 1 0 -1.8 0M163.7 177.4a0.9 0.9 0 1 0 1.8 0a0.9 0.9 0 1 0 -1.8 0M168.5 171.9a0.9 0.9 0 1 0 1.8 0a0.9 0.9 0 1 0 -1.8 0M166.1 181.9a0.9 0.9 0 1 0 1.8 0a0.9 0.9 0 1 0 -1.8 0M168.7 206.8a0.9 0.9 0 1 0 1.8 0a0.9 0.9 0 1 0 -1.8 0M163.7 168.7a0.9 0.9 0 1 0 1.8 0a0.9 0.9 0 1 0 -1.8 0M164.3 163.7a0.9 0.9 0 1 0 1.8 0a0.9 0.9 0 1 0 -1.8 0M169.1 199a0.9 0.9 0 1 0 1.8 0a0.9 0.9 0 1 0 -1.8 0M166.2 168a0.9 0.9 0 1 0 1.8 0a0.9 0.9 0 1 0 -1.8 0M170.9 142.3a0.9 0.9 0 1 0 1.8 0a0.9 0.9 0 1 0 -1.8 0M168.4 163.7a0.9 0.9 0 1 0 1.8 0a0.9 0.9 0 1 0 -1.8 0M173.3 144.1a0.9 0.9 0 1 0 1.8 0a0.9 0.9 0 1 0 -1.8 0M163.7 144.5a0.9 0.9 0 1 0 1.8 0a0.9 0.9 0 1 0 -1.8 0M173.4 175.1a0.9 0.9 0 1 0 1.8 0a0.9 0.9 0 1 0 -1.8 0M173.7 173.9a0.9 0.9 0 1 0 1.8 0a0.9 0.9 0 1 0 -1.8 0M168.4 191.4a0.9 0.9 0 1 0 1.8 0a0.9 0.9 0 1 0 -1.8 0M173.6 158.7a0.9 0.9 0 1 0 1.8 0a0.9 0.9 0 1 0 -1.8 0M164.2 154.1a0.9 0.9 0 1 0 1.8 0a0.9 0.9 0 1 0 -1.8 0M170.9 146.8a0.9 0.9 0 1 0 1.8 0a0.9 0.9 0 1 0 -1.8 0M173.7 146a0.9 0.9 0 1 0 1.8 0a0.9 0.9 0 1 0 -1.8 0M166.1 172.9a0.9 0.9 0 1 0 1.8 0a0.9 0.9 0 1 0 -1.8 0M164.3 162a0.9 0.9 0 1 0 1.8 0a0.9 0.9 0 1 0 -1.8 0M168.8 115a0.9 0.9 0 1 0 1.8 0a0.9 0.9 0 1 0 -1.8 0M168.6 159.5a0.9 0.9 0 1 0 1.8 0a0.9 0.9 0 1 0 -1.8 0M173.9 177.7a0.9 0.9 0 1 0 1.8 0a0.9 0.9 0 1 0 -1.8 0M171.2 171.4a0.9 0.9 0 1 0 1.8 0a0.9 0.9 0 1 0 -1.8 0M173.4 183.6a0.9 0.9 0 1 0 1.8 0a0.9 0.9 0 1 0 -1.8 0M168.5 146a0.9 0.9 0 1 0 1.8 0a0.9 0.9 0 1 0 -1.8 0M173.2 152.9a0.9 0.9 0 1 0 1.8 0a0.9 0.9 0 1 0 -1.8 0M168.6 159a0.9 0.9 0 1 0 1.8 0a0.9 0.9 0 1 0 -1.8 0M173.1 175.8a0.9 0.9 0 1 0 1.8 0a0.9 0.9 0 1 0 -1.8 0M173.9 155.8a0.9 0.9 0 1 0 1.8 0a0.9 0.9 0 1 0 -1.8 0M171.5 150a0.9 0.9 0 1 0 1.8 0a0.9 0.9 0 1 0 -1.8 0M166.7 168.8a0.9 0.9 0 1 0 1.8 0a0.9 0.9 0 1 0 -1.8 0M171.1 166.3a0.9 0.9 0 1 0 1.8 0a0.9 0.9 0 1 0 -1.8 0M173.4 163.4a0.9 0.9 0 1 0 1.8 0a0.9 0.9 0 1 0 -1.8 0M173.4 165.2a0.9 0.9 0 1 0 1.8 0a0.9 0.9 0 1 0 -1.8 0M173.2 168.5a0.9 0.9 0 1 0 1.8 0a0.9 0.9 0 1 0 -1.8 0M173.4 153.1a0.9 0.9 0 1 0 1.8 0a0.9 0.9 0 1 0 -1.8 0M168.6 175.3a0.9 0.9 0 1 0 1.8 0a0.9 0.9 0 1 0 -1.8 0M168.8 157.4a0.9 0.9 0 1 0 1.8 0a0.9 0.9 0 1 0 -1.8 0M170.9 180.6a0.9 0.9 0 1 0 1.8 0a0.9 0.9 0 1 0 -1.8 0M166.4 170.9a0.9 0.9 0 1 0 1.8 0a0.9 0.9 0 1 0 -1.8 0M225 178.1a0.9 0.9 0 1 0 1.8 0a0.9 0.9 0 1 0 -1.8 0M225.2 187.3a0.9 0.9 0 1 0 1.8 0a0.9 0.9 0 1 0 -1.8 0M225.5 167.7a0.9 0.9 0 1 0 1.8 0a0.9 0.9 0 1 0 -1.8 0M223.2 186.6a0.9 0.9 0 1 0 1.8 0a0.9 0.9 0 1 0 -1.8 0M225.3 160.3a0.9 0.9 0 1 0 1.8 0a0.9 0.9 0 1 0 -1.8 0M225.7 191.9a0.9 0.9 0 1 0 1.8 0a0.9 0.9 0 1 0 -1.8 0M225.4 164a0.9 0.9 0 1 0 1.8 0a0.9 0.9 0 1 0 -1.8 0M225.8 180.6a0.9 0.9 0 1 0 1.8 0a0.9 0.9 0 1 0 -1.8 0M222.8 182.1a0.9 0.9 0 1 0 1.8 0a0.9 0.9 0 1 0 -1.8 0M225 171.1a0.9 0.9 0 1 0 1.8 0a0.9 0.9 0 1 0 -1.8 0M227.9 186.9a0.9 0.9 0 1 0 1.8 0a0.9 0.9 0 1 0 -1.8 0M222.6 170.1a0.9 0.9 0 1 0 1.8 0a0.9 0.9 0 1 0 -1.8 0M227.5 181.9a0.9 0.9 0 1 0 1.8 0a0.9 0.9 0 1 0 -1.8 0M225 175.2a0.9 0.9 0 1 0 1.8 0a0.9 0.9 0 1 0 -1.8 0M225.4 184.2a0.9 0.9 0 1 0 1.8 0a0.9 0.9 0 1 0 -1.8 0M230 180.5a0.9 0.9 0 1 0 1.8 0a0.9 0.9 0 1 0 -1.8 0M228 164.4a0.9 0.9 0 1 0 1.8 0a0.9 0.9 0 1 0 -1.8 0M222.7 166.3a0.9 0.9 0 1 0 1.8 0a0.9 0.9 0 1 0 -1.8 0M225.1 173.2a0.9 0.9 0 1 0 1.8 0a0.9 0.9 0 1 0 -1.8 0M223.4 176.8a0.9 0.9 0 1 0 1.8 0a0.9 0.9 0 1 0 -1.8 0M228.1 161.2a0.9 0.9 0 1 0 1.8 0a0.9 0.9 0 1 0 -1.8 0M225.4 152.1a0.9 0.9 0 1 0 1.8 0a0.9 0.9 0 1 0 -1.8 0M223.1 192.9a0.9 0.9 0 1 0 1.8 0a0.9 0.9 0 1 0 -1.8 0M223.4 180.3a0.9 0.9 0 1 0 1.8 0a0.9 0.9 0 1 0 -1.8 0M227.9 174a0.9 0.9 0 1 0 1.8 0a0.9 0.9 0 1 0 -1.8 0M225.4 198.7a0.9 0.9 0 1 0 1.8 0a0.9 0.9 0 1 0 -1.8 0M223.4 174.2a0.9 0.9 0 1 0 1.8 0a0.9 0.9 0 1 0 -1.8 0M230.1 182.6a0.9 0.9 0 1 0 1.8 0a0.9 0.9 0 1 0 -1.8 0M227.7 170.9a0.9 0.9 0 1 0 1.8 0a0.9 0.9 0 1 0 -1.8 0M227.4 190.8a0.9 0.9 0 1 0 1.8 0a0.9 0.9 0 1 0 -1.8 0M222.7 191a0.9 0.9 0 1 0 1.8 0a0.9 0.9 0 1 0 -1.8 0M229.8 186.8a0.9 0.9 0 1 0 1.8 0a0.9 0.9 0 1 0 -1.8 0M225.1 195.8a0.9 0.9 0 1 0 1.8 0a0.9 0.9 0 1 0 -1.8 0M221 183.6a0.9 0.9 0 1 0 1.8 0a0.9 0.9 0 1 0 -1.8 0M228 192.7a0.9 0.9 0 1 0 1.8 0a0.9 0.9 0 1 0 -1.8 0M220.9 191.3a0.9 0.9 0 1 0 1.8 0a0.9 0.9 0 1 0 -1.8 0M227.4 182.5a0.9 0.9 0 1 0 1.8 0a0.9 0.9 0 1 0 -1.8 0M221 187.3a0.9 0.9 0 1 0 1.8 0a0.9 0.9 0 1 0 -1.8 0M225.2 228.3a0.9 0.9 0 1 0 1.8 0a0.9 0.9 0 1 0 -1.8 0M223.4 171.9a0.9 0.9 0 1 0 1.8 0a0.9 0.9 0 1 0 -1.8 0M220.8 182.7a0.9 0.9 0 1 0 1.8 0a0.9 0.9 0 1 0 -1.8 0M222.7 161.4a0.9 0.9 0 1 0 1.8 0a0.9 0.9 0 1 0 -1.8 0M220.2 172.2a0.9 0.9 0 1 0 1.8 0a0.9 0.9 0 1 0 -1.8 0M227.7 168.8a0.9 0.9 0 1 0 1.8 0a0.9 0.9 0 1 0 -1.8 0M227.9 185.8a0.9 0.9 0 1 0 1.8 0a0.9 0.9 0 1 0 -1.8 0M228.1 179.7a0.9 0.9 0 1 0 1.8 0a0.9 0.9 0 1 0 -1.8 0M227.4 166.8a0.9 0.9 0 1 0 1.8 0a0.9 0.9 0 1 0 -1.8 0M229.8 160.9a0.9 0.9 0 1 0 1.8 0a0.9 0.9 0 1 0 -1.8 0M220.6 170a0.9 0.9 0 1 0 1.8 0a0.9 0.9 0 1 0 -1.8 0M222.6 198.7a0.9 0.9 0 1 0 1.8 0a0.9 0.9 0 1 0 -1.8 0M229.8 167.4a0.9 0.9 0 1 0 1.8 0a0.9 0.9 0 1 0 -1.8 0M230.6 165.2a0.9 0.9 0 1 0 1.8 0a0.9 0.9 0 1 0 -1.8 0M228 178a0.9 0.9 0 1 0 1.8 0a0.9 0.9 0 1 0 -1.8 0M228.1 181.9a0.9 0.9 0 1 0 1.8 0a0.9 0.9 0 1 0 -1.8 0M230.2 172.7a0.9 0.9 0 1 0 1.8 0a0.9 0.9 0 1 0 -1.8 0M227.5 198.7a0.9 0.9 0 1 0 1.8 0a0.9 0.9 0 1 0 -1.8 0M225.1 183.5a0.9 0.9 0 1 0 1.8 0a0.9 0.9 0 1 0 -1.8 0M222.7 188.5a0.9 0.9 0 1 0 1.8 0a0.9 0.9 0 1 0 -1.8 0M223.1 186.3a0.9 0.9 0 1 0 1.8 0a0.9 0.9 0 1 0 -1.8 0M220.7 181.9a0.9 0.9 0 1 0 1.8 0a0.9 0.9 0 1 0 -1.8 0M222.7 183.2a0.9 0.9 0 1 0 1.8 0a0.9 0.9 0 1 0 -1.8 0M220.5 178.6a0.9 0.9 0 1 0 1.8 0a0.9 0.9 0 1 0 -1.8 0M220.6 165.6a0.9 0.9 0 1 0 1.8 0a0.9 0.9 0 1 0 -1.8 0M230.6 191.1a0.9 0.9 0 1 0 1.8 0a0.9 0.9 0 1 0 -1.8 0M227.7 168.8a0.9 0.9 0 1 0 1.8 0a0.9 0.9 0 1 0 -1.8 0M225.7 154a0.9 0.9 0 1 0 1.8 0a0.9 0.9 0 1 0 -1.8 0M225.5 193.9a0.9 0.9 0 1 0 1.8 0a0.9 0.9 0 1 0 -1.8 0M220.5 192.3a0.9 0.9 0 1 0 1.8 0a0.9 0.9 0 1 0 -1.8 0M220.5 199.4a0.9 0.9 0 1 0 1.8 0a0.9 0.9 0 1 0 -1.8 0M227.7 176a0.9 0.9 0 1 0 1.8 0a0.9 0.9 0 1 0 -1.8 0M225.3 166.5a0.9 0.9 0 1 0 1.8 0a0.9 0.9 0 1 0 -1.8 0M230.4 177.5a0.9 0.9 0 1 0 1.8 0a0.9 0.9 0 1 0 -1.8 0M230.1 170.5a0.9 0.9 0 1 0 1.8 0a0.9 0.9 0 1 0 -1.8 0M223.4 182.3a0.9 0.9 0 1 0 1.8 0a0.9 0.9 0 1 0 -1.8 0M223.4 170.9a0.9 0.9 0 1 0 1.8 0a0.9 0.9 0 1 0 -1.8 0M225.8 166.8a0.9 0.9 0 1 0 1.8 0a0.9 0.9 0 1 0 -1.8 0M227.8 173.2a0.9 0.9 0 1 0 1.8 0a0.9 0.9 0 1 0 -1.8 0M229.9 170.9a0.9 0.9 0 1 0 1.8 0a0.9 0.9 0 1 0 -1.8 0M225 245.4a0.9 0.9 0 1 0 1.8 0a0.9 0.9 0 1 0 -1.8 0M227.6 173.7a0.9 0.9 0 1 0 1.8 0a0.9 0.9 0 1 0 -1.8 0M220.4 164.9a0.9 0.9 0 1 0 1.8 0a0.9 0.9 0 1 0 -1.8 0M227.4 182.1a0.9 0.9 0 1 0 1.8 0a0.9 0.9 0 1 0 -1.8 0M225.3 157.6a0.9 0.9 0 1 0 1.8 0a0.9 0.9 0 1 0 -1.8 0M225.3 207.9a0.9 0.9 0 1 0 1.8 0a0.9 0.9 0 1 0 -1.8 0M230.6 175.6a0.9 0.9 0 1 0 1.8 0a0.9 0.9 0 1 0 -1.8 0M230.2 181.7a0.9 0.9 0 1 0 1.8 0a0.9 0.9 0 1 0 -1.8 0M220.5 178.9a0.9 0.9 0 1 0 1.8 0a0.9 0.9 0 1 0 -1.8 0M227.6 196a0.9 0.9 0 1 0 1.8 0a0.9 0.9 0 1 0 -1.8 0M220.3 166a0.9 0.9 0 1 0 1.8 0a0.9 0.9 0 1 0 -1.8 0M225.5 173.6a0.9 0.9 0 1 0 1.8 0a0.9 0.9 0 1 0 -1.8 0M222.6 190.8a0.9 0.9 0 1 0 1.8 0a0.9 0.9 0 1 0 -1.8 0M220.7 161.9a0.9 0.9 0 1 0 1.8 0a0.9 0.9 0 1 0 -1.8 0M223.3 196.6a0.9 0.9 0 1 0 1.8 0a0.9 0.9 0 1 0 -1.8 0M225.8 165.9a0.9 0.9 0 1 0 1.8 0a0.9 0.9 0 1 0 -1.8 0M227.9 155.3a0.9 0.9 0 1 0 1.8 0a0.9 0.9 0 1 0 -1.8 0M225.2 173.3a0.9 0.9 0 1 0 1.8 0a0.9 0.9 0 1 0 -1.8 0M220.2 169.9a0.9 0.9 0 1 0 1.8 0a0.9 0.9 0 1 0 -1.8 0M228 188.9a0.9 0.9 0 1 0 1.8 0a0.9 0.9 0 1 0 -1.8 0M223.1 155.5a0.9 0.9 0 1 0 1.8 0a0.9 0.9 0 1 0 -1.8 0M223.3 157.9a0.9 0.9 0 1 0 1.8 0a0.9 0.9 0 1 0 -1.8 0M220.7 174.8a0.9 0.9 0 1 0 1.8 0a0.9 0.9 0 1 0 -1.8 0M281.8 166.4a0.9 0.9 0 1 0 1.8 0a0.9 0.9 0 1 0 -1.8 0M282 153.4a0.9 0.9 0 1 0 1.8 0a0.9 0.9 0 1 0 -1.8 0M282.2 174.1a0.9 0.9 0 1 0 1.8 0a0.9 0.9 0 1 0 -1.8 0M281.9 193.9a0.9 0.9 0 1 0 1.8 0a0.9 0.9 0 1 0 -1.8 0M279.3 152.1a0.9 0.9 0 1 0 1.8 0a0.9 0.9 0 1 0 -1.8 0M282.3 176.9a0.9 0.9 0 1 0 1.8 0a0.9 0.9 0 1 0 -1.8 0M282.2 160.5a0.9 0.9 0 1 0 1.8 0a0.9 0.9 0 1 0 -1.8 0M281.8 180.5a0.9 0.9 0 1 0 1.8 0a0.9 0.9 0 1 0 -1.8 0M281.9 168.5a0.9 0.9 0 1 0 1.8 0a0.9 0.9 0 1 0 -1.8 0M284.2 153.4a0.9 0.9 0 1 0 1.8 0a0.9 0.9 0 1 0 -1.8 0M282.1 170.6a0.9 0.9 0 1 0 1.8 0a0.9 0.9 0 1 0 -1.8 0M282.4 189.2a0.9 0.9 0 1 0 1.8 0a0.9 0.9 0 1 0 -1.8 0M282.2 191a0.9 0.9 0 1 0 1.8 0a0.9 0.9 0 1 0 -1.8 0M284.7 176.2a0.9 0.9 0 1 0 1.8 0a0.9 0.9 0 1 0 -1.8 0M282.2 156.7a0.9 0.9 0 1 0 1.8 0a0.9 0.9 0 1 0 -1.8 0M282 198.1a0.9 0.9 0 1 0 1.8 0a0.9 0.9 0 1 0 -1.8 0M279.4 158.9a0.9 0.9 0 1 0 1.8 0a0.9 0.9 0 1 0 -1.8 0M284.1 180.8a0.9 0.9 0 1 0 1.8 0a0.9 0.9 0 1 0 -1.8 0M279.8 181.6a0.9 0.9 0 1 0 1.8 0a0.9 0.9 0 1 0 -1.8 0M279.5 173.4a0.9 0.9 0 1 0 1.8 0a0.9 0.9 0 1 0 -1.8 0M279.2 198.5a0.9 0.9 0 1 0 1.8 0a0.9 0.9 0 1 0 -1.8 0M279.5 170.9a0.9 0.9 0 1 0 1.8 0a0.9 0.9 0 1 0 -1.8 0M284.8 178.6a0.9 0.9 0 1 0 1.8 0a0.9 0.9 0 1 0 -1.8 0M279.8 166.8a0.9 0.9 0 1 0 1.8 0a0.9 0.9 0 1 0 -1.8 0M284.4 172.7a0.9 0.9 0 1 0 1.8 0a0.9 0.9 0 1 0 -1.8 0M284.1 192.1a0.9 0.9 0 1 0 1.8 0a0.9 0.9 0 1 0 -1.8 0M284.7 174.5a0.9 0.9 0 1 0 1.8 0a0.9 0.9 0 1 0 -1.8 0M282.1 164.3a0.9 0.9 0 1 0 1.8 0a0.9 0.9 0 1 0 -1.8 0M284.1 199.2a0.9 0.9 0 1 0 1.8 0a0.9 0.9 0 1 0 -1.8 0M279.8 176.6a0.9 0.9 0 1 0 1.8 0a0.9 0.9 0 1 0 -1.8 0M282.3 182.8a0.9 0.9 0 1 0 1.8 0a0.9 0.9 0 1 0 -1.8 0M281.8 158.6a0.9 0.9 0 1 0 1.8 0a0.9 0.9 0 1 0 -1.8 0M280 155a0.9 0.9 0 1 0 1.8 0a0.9 0.9 0 1 0 -1.8 0M279.7 192.3a0.9 0.9 0 1 0 1.8 0a0.9 0.9 0 1 0 -1.8 0M280.1 183.4a0.9 0.9 0 1 0 1.8 0a0.9 0.9 0 1 0 -1.8 0M279.4 179.4a0.9 0.9 0 1 0 1.8 0a0.9 0.9 0 1 0 -1.8 0M284.6 158.4a0.9 0.9 0 1 0 1.8 0a0.9 0.9 0 1 0 -1.8 0M277.3 191.9a0.9 0.9 0 1 0 1.8 0a0.9 0.9 0 1 0 -1.8 0M276.9 182.3a0.9 0.9 0 1 0 1.8 0a0.9 0.9 0 1 0 -1.8 0M284.1 166.3a0.9 0.9 0 1 0 1.8 0a0.9 0.9 0 1 0 -1.8 0M284.1 188.5a0.9 0.9 0 1 0 1.8 0a0.9 0.9 0 1 0 -1.8 0M282.4 142.2a0.9 0.9 0 1 0 1.8 0a0.9 0.9 0 1 0 -1.8 0M287.3 166a0.9 0.9 0 1 0 1.8 0a0.9 0.9 0 1 0 -1.8 0M281.6 147.8a0.9 0.9 0 1 0 1.8 0a0.9 0.9 0 1 0 -1.8 0M286.8 181.7a0.9 0.9 0 1 0 1.8 0a0.9 0.9 0 1 0 -1.8 0M286.9 197.8a0.9 0.9 0 1 0 1.8 0a0.9 0.9 0 1 0 -1.8 0M286.9 193.5a0.9 0.9 0 1 0 1.8 0a0.9 0.9 0 1 0 -1.8 0M286.9 176.9a0.9 0.9 0 1 0 1.8 0a0.9 0.9 0 1 0 -1.8 0M287 174.7a0.9 0.9 0 1 0 1.8 0a0.9 0.9 0 1 0 -1.8 0M277 179.9a0.9 0.9 0 1 0 1.8 0a0.9 0.9 0 1 0 -1.8 0M286.4 153.3a0.9 0.9 0 1 0 1.8 0a0.9 0.9 0 1 0 -1.8 0M277.4 198a0.9 0.9 0 1 0 1.8 0a0.9 0.9 0 1 0 -1.8 0M284.9 183.5a0.9 0.9 0 1 0 1.8 0a0.9 0.9 0 1 0 -1.8 0M280 195.4a0.9 0.9 0 1 0 1.8 0a0.9 0.9 0 1 0 -1.8 0M284.9 156.5a0.9 0.9 0 1 0 1.8 0a0.9 0.9 0 1 0 -1.8 0M281.9 182.1a0.9 0.9 0 1 0 1.8 0a0.9 0.9 0 1 0 -1.8 0M277.5 154.2a0.9 0.9 0 1 0 1.8 0a0.9 0.9 0 1 0 -1.8 0M277.4 172.9a0.9 0.9 0 1 0 1.8 0a0.9 0.9 0 1 0 -1.8 0M286.4 178.8a0.9 0.9 0 1 0 1.8 0a0.9 0.9 0 1 0 -1.8 0M279.6 193a0.9 0.9 0 1 0 1.8 0a0.9 0.9 0 1 0 -1.8 0M286.6 171.5a0.9 0.9 0 1 0 1.8 0a0.9 0.9 0 1 0 -1.8 0M279.9 164.6a0.9 0.9 0 1 0 1.8 0a0.9 0.9 0 1 0 -1.8 0M277 165.8a0.9 0.9 0 1 0 1.8 0a0.9 0.9 0 1 0 -1.8 0M279.7 198.8a0.9 0.9 0 1 0 1.8 0a0.9 0.9 0 1 0 -1.8 0M286.9 159.9a0.9 0.9 0 1 0 1.8 0a0.9 0.9 0 1 0 -1.8 0M282.1 173a0.9 0.9 0 1 0 1.8 0a0.9 0.9 0 1 0 -1.8 0M282.4 185.6a0.9 0.9 0 1 0 1.8 0a0.9 0.9 0 1 0 -1.8 0M281.7 178.6a0.9 0.9 0 1 0 1.8 0a0.9 0.9 0 1 0 -1.8 0M277.4 168a0.9 0.9 0 1 0 1.8 0a0.9 0.9 0 1 0 -1.8 0M284.4 169.3a0.9 0.9 0 1 0 1.8 0a0.9 0.9 0 1 0 -1.8 0M276.9 175.6a0.9 0.9 0 1 0 1.8 0a0.9 0.9 0 1 0 -1.8 0M277.6 153.2a0.9 0.9 0 1 0 1.8 0a0.9 0.9 0 1 0 -1.8 0M277.1 167a0.9 0.9 0 1 0 1.8 0a0.9 0.9 0 1 0 -1.8 0M284.6 177.1a0.9 0.9 0 1 0 1.8 0a0.9 0.9 0 1 0 -1.8 0M281.8 165.2a0.9 0.9 0 1 0 1.8 0a0.9 0.9 0 1 0 -1.8 0M276.9 177.6a0.9 0.9 0 1 0 1.8 0a0.9 0.9 0 1 0 -1.8 0M277.5 170.1a0.9 0.9 0 1 0 1.8 0a0.9 0.9 0 1 0 -1.8 0M284.1 160.1a0.9 0.9 0 1 0 1.8 0a0.9 0.9 0 1 0 -1.8 0M279.8 189.9a0.9 0.9 0 1 0 1.8 0a0.9 0.9 0 1 0 -1.8 0M287.3 155.9a0.9 0.9 0 1 0 1.8 0a0.9 0.9 0 1 0 -1.8 0M286.6 175.5a0.9 0.9 0 1 0 1.8 0a0.9 0.9 0 1 0 -1.8 0M279.3 179.1a0.9 0.9 0 1 0 1.8 0a0.9 0.9 0 1 0 -1.8 0M281.9 201.7a0.9 0.9 0 1 0 1.8 0a0.9 0.9 0 1 0 -1.8 0M286.5 191a0.9 0.9 0 1 0 1.8 0a0.9 0.9 0 1 0 -1.8 0M277.7 189.7a0.9 0.9 0 1 0 1.8 0a0.9 0.9 0 1 0 -1.8 0M284.1 182.2a0.9 0.9 0 1 0 1.8 0a0.9 0.9 0 1 0 -1.8 0M281.8 203.4a0.9 0.9 0 1 0 1.8 0a0.9 0.9 0 1 0 -1.8 0M276.8 184.3a0.9 0.9 0 1 0 1.8 0a0.9 0.9 0 1 0 -1.8 0M282.5 150.8a0.9 0.9 0 1 0 1.8 0a0.9 0.9 0 1 0 -1.8 0M282.1 205.3a0.9 0.9 0 1 0 1.8 0a0.9 0.9 0 1 0 -1.8 0M286.5 158a0.9 0.9 0 1 0 1.8 0a0.9 0.9 0 1 0 -1.8 0M286.4 175.4a0.9 0.9 0 1 0 1.8 0a0.9 0.9 0 1 0 -1.8 0M277.2 154.1a0.9 0.9 0 1 0 1.8 0a0.9 0.9 0 1 0 -1.8 0M284.2 149.7a0.9 0.9 0 1 0 1.8 0a0.9 0.9 0 1 0 -1.8 0M280 149.9a0.9 0.9 0 1 0 1.8 0a0.9 0.9 0 1 0 -1.8 0M277.5 150.3a0.9 0.9 0 1 0 1.8 0a0.9 0.9 0 1 0 -1.8 0M286.6 154.5a0.9 0.9 0 1 0 1.8 0a0.9 0.9 0 1 0 -1.8 0M281.6 144.7a0.9 0.9 0 1 0 1.8 0a0.9 0.9 0 1 0 -1.8 0M279.4 205.9a0.9 0.9 0 1 0 1.8 0a0.9 0.9 0 1 0 -1.8 0M281.7 181.2a0.9 0.9 0 1 0 1.8 0a0.9 0.9 0 1 0 -1.8 0M277 179.3a0.9 0.9 0 1 0 1.8 0a0.9 0.9 0 1 0 -1.8 0M338.4 136.5a0.9 0.9 0 1 0 1.8 0a0.9 0.9 0 1 0 -1.8 0M341.2 134.9a0.9 0.9 0 1 0 1.8 0a0.9 0.9 0 1 0 -1.8 0M339 125.8a0.9 0.9 0 1 0 1.8 0a0.9 0.9 0 1 0 -1.8 0M338.6 144.2a0.9 0.9 0 1 0 1.8 0a0.9 0.9 0 1 0 -1.8 0M338.7 165a0.9 0.9 0 1 0 1.8 0a0.9 0.9 0 1 0 -1.8 0M336.5 136.3a0.9 0.9 0 1 0 1.8 0a0.9 0.9 0 1 0 -1.8 0M339.1 102.8a0.9 0.9 0 1 0 1.8 0a0.9 0.9 0 1 0 -1.8 0M338.8 170a0.9 0.9 0 1 0 1.8 0a0.9 0.9 0 1 0 -1.8 0M338.5 97.3a0.9 0.9 0 1 0 1.8 0a0.9 0.9 0 1 0 -1.8 0M339.1 122.1a0.9 0.9 0 1 0 1.8 0a0.9 0.9 0 1 0 -1.8 0M338.3 128.4a0.9 0.9 0 1 0 1.8 0a0.9 0.9 0 1 0 -1.8 0M340.7 129.6a0.9 0.9 0 1 0 1.8 0a0.9 0.9 0 1 0 -1.8 0M338.5 138.4a0.9 0.9 0 1 0 1.8 0a0.9 0.9 0 1 0 -1.8 0M341.4 124.8a0.9 0.9 0 1 0 1.8 0a0.9 0.9 0 1 0 -1.8 0M335.9 123.2a0.9 0.9 0 1 0 1.8 0a0.9 0.9 0 1 0 -1.8 0M336.1 103a0.9 0.9 0 1 0 1.8 0a0.9 0.9 0 1 0 -1.8 0M338.5 106.5a0.9 0.9 0 1 0 1.8 0a0.9 0.9 0 1 0 -1.8 0M338.5 131.1a0.9 0.9 0 1 0 1.8 0a0.9 0.9 0 1 0 -1.8 0M343.3 123.7a0.9 0.9 0 1 0 1.8 0a0.9 0.9 0 1 0 -1.8 0M334.3 134.8a0.9 0.9 0 1 0 1.8 0a0.9 0.9 0 1 0 -1.8 0M341.3 122.2a0.9 0.9 0 1 0 1.8 0a0.9 0.9 0 1 0 -1.8 0M340.9 101.9a0.9 0.9 0 1 0 1.8 0a0.9 0.9 0 1 0 -1.8 0M335.9 121.4a0.9 0.9 0 1 0 1.8 0a0.9 0.9 0 1 0 -1.8 0M334.3 122.7a0.9 0.9 0 1 0 1.8 0a0.9 0.9 0 1 0 -1.8 0M339 116.2a0.9 0.9 0 1 0 1.8 0a0.9 0.9 0 1 0 -1.8 0M341.3 127.5a0.9 0.9 0 1 0 1.8 0a0.9 0.9 0 1 0 -1.8 0M343.5 136.4a0.9 0.9 0 1 0 1.8 0a0.9 0.9 0 1 0 -1.8 0M333.5 103.1a0.9 0.9 0 1 0 1.8 0a0.9 0.9 0 1 0 -1.8 0M338.6 113.8a0.9 0.9 0 1 0 1.8 0a0.9 0.9 0 1 0 -1.8 0M333.9 121a0.9 0.9 0 1 0 1.8 0a0.9 0.9 0 1 0 -1.8 0M335.9 107.6a0.9 0.9 0 1 0 1.8 0a0.9 0.9 0 1 0 -1.8 0M338.8 140.6a0.9 0.9 0 1 0 1.8 0a0.9 0.9 0 1 0 -1.8 0M335.9 96.7a0.9 0.9 0 1 0 1.8 0a0.9 0.9 0 1 0 -1.8 0M343.6 102.1a0.9 0.9 0 1 0 1.8 0a0.9 0.9 0 1 0 -1.8 0M339.1 104.7a0.9 0.9 0 1 0 1.8 0a0.9 0.9 0 1 0 -1.8 0M343.1 121.6a0.9 0.9 0 1 0 1.8 0a0.9 0.9 0 1 0 -1.8 0M341.5 107.9a0.9 0.9 0 1 0 1.8 0a0.9 0.9 0 1 0 -1.8 0M336.1 102.2a0.9 0.9 0 1 0 1.8 0a0.9 0.9 0 1 0 -1.8 0M336.5 125.7a0.9 0.9 0 1 0 1.8 0a0.9 0.9 0 1 0 -1.8 0M338.3 174.4a0.9 0.9 0 1 0 1.8 0a0.9 0.9 0 1 0 -1.8 0M343.4 125.9a0.9 0.9 0 1 0 1.8 0a0.9 0.9 0 1 0 -1.8 0M338.8 160a0.9 0.9 0 1 0 1.8 0a0.9 0.9 0 1 0 -1.8 0M334 135.5a0.9 0.9 0 1 0 1.8 0a0.9 0.9 0 1 0 -1.8 0M341.1 102.2a0.9 0.9 0 1 0 1.8 0a0.9 0.9 0 1 0 -1.8 0M341.5 96.1a0.9 0.9 0 1 0 1.8 0a0.9 0.9 0 1 0 -1.8 0M334.3 124.9a0.9 0.9 0 1 0 1.8 0a0.9 0.9 0 1 0 -1.8 0M336.3 130.6a0.9 0.9 0 1 0 1.8 0a0.9 0.9 0 1 0 -1.8 0M341.3 122.4a0.9 0.9 0 1 0 1.8 0a0.9 0.9 0 1 0 -1.8 0M340.7 98.5a0.9 0.9 0 1 0 1.8 0a0.9 0.9 0 1 0 -1.8 0M338.3 155a0.9 0.9 0 1 0 1.8 0a0.9 0.9 0 1 0 -1.8 0M338.9 126a0.9 0.9 0 1 0 1.8 0a0.9 0.9 0 1 0 -1.8 0M336.2 139.2a0.9 0.9 0 1 0 1.8 0a0.9 0.9 0 1 0 -1.8 0M341.1 104.1a0.9 0.9 0 1 0 1.8 0a0.9 0.9 0 1 0 -1.8 0M334.1 107.8a0.9 0.9 0 1 0 1.8 0a0.9 0.9 0 1 0 -1.8 0M340.9 102.6a0.9 0.9 0 1 0 1.8 0a0.9 0.9 0 1 0 -1.8 0M341.5 113.2a0.9 0.9 0 1 0 1.8 0a0.9 0.9 0 1 0 -1.8 0M336.2 122.8a0.9 0.9 0 1 0 1.8 0a0.9 0.9 0 1 0 -1.8 0M343.4 129.1a0.9 0.9 0 1 0 1.8 0a0.9 0.9 0 1 0 -1.8 0M338.7 100a0.9 0.9 0 1 0 1.8 0a0.9 0.9 0 1 0 -1.8 0M336.1 117.9a0.9 0.9 0 1 0 1.8 0a0.9 0.9 0 1 0 -1.8 0M338.9 110.4a0.9 0.9 0 1 0 1.8 0a0.9 0.9 0 1 0 -1.8 0M333.9 129.3a0.9 0.9 0 1 0 1.8 0a0.9 0.9 0 1 0 -1.8 0M343.8 126.6a0.9 0.9 0 1 0 1.8 0a0.9 0.9 0 1 0 -1.8 0M343.3 106.9a0.9 0.9 0 1 0 1.8 0a0.9 0.9 0 1 0 -1.8 0M338.3 123.7a0.9 0.9 0 1 0 1.8 0a0.9 0.9 0 1 0 -1.8 0M335.9 113.5a0.9 0.9 0 1 0 1.8 0a0.9 0.9 0 1 0 -1.8 0M343.6 108.8a0.9 0.9 0 1 0 1.8 0a0.9 0.9 0 1 0 -1.8 0M334.1 121.7a0.9 0.9 0 1 0 1.8 0a0.9 0.9 0 1 0 -1.8 0M338.3 147.4a0.9 0.9 0 1 0 1.8 0a0.9 0.9 0 1 0 -1.8 0M334.2 97.4a0.9 0.9 0 1 0 1.8 0a0.9 0.9 0 1 0 -1.8 0M336.4 128.2a0.9 0.9 0 1 0 1.8 0a0.9 0.9 0 1 0 -1.8 0M340.9 143.2a0.9 0.9 0 1 0 1.8 0a0.9 0.9 0 1 0 -1.8 0M336.6 100.9a0.9 0.9 0 1 0 1.8 0a0.9 0.9 0 1 0 -1.8 0M338.5 123.6a0.9 0.9 0 1 0 1.8 0a0.9 0.9 0 1 0 -1.8 0M340.9 132.1a0.9 0.9 0 1 0 1.8 0a0.9 0.9 0 1 0 -1.8 0M334.3 129.1a0.9 0.9 0 1 0 1.8 0a0.9 0.9 0 1 0 -1.8 0M336.4 110.9a0.9 0.9 0 1 0 1.8 0a0.9 0.9 0 1 0 -1.8 0M334 121.6a0.9 0.9 0 1 0 1.8 0a0.9 0.9 0 1 0 -1.8 0M341.5 138.3a0.9 0.9 0 1 0 1.8 0a0.9 0.9 0 1 0 -1.8 0M336 104.9a0.9 0.9 0 1 0 1.8 0a0.9 0.9 0 1 0 -1.8 0M336.2 132.4a0.9 0.9 0 1 0 1.8 0a0.9 0.9 0 1 0 -1.8 0M336.3 98.4a0.9 0.9 0 1 0 1.8 0a0.9 0.9 0 1 0 -1.8 0M333.9 114.1a0.9 0.9 0 1 0 1.8 0a0.9 0.9 0 1 0 -1.8 0M340.9 140a0.9 0.9 0 1 0 1.8 0a0.9 0.9 0 1 0 -1.8 0M336.1 145.9a0.9 0.9 0 1 0 1.8 0a0.9 0.9 0 1 0 -1.8 0M338.3 132.9a0.9 0.9 0 1 0 1.8 0a0.9 0.9 0 1 0 -1.8 0M343.3 111.7a0.9 0.9 0 1 0 1.8 0a0.9 0.9 0 1 0 -1.8 0M343.4 131.6a0.9 0.9 0 1 0 1.8 0a0.9 0.9 0 1 0 -1.8 0M341.3 117.5a0.9 0.9 0 1 0 1.8 0a0.9 0.9 0 1 0 -1.8 0M336.1 112.8a0.9 0.9 0 1 0 1.8 0a0.9 0.9 0 1 0 -1.8 0M338.5 94.4a0.9 0.9 0 1 0 1.8 0a0.9 0.9 0 1 0 -1.8 0M334 137.6a0.9 0.9 0 1 0 1.8 0a0.9 0.9 0 1 0 -1.8 0M336 144a0.9 0.9 0 1 0 1.8 0a0.9 0.9 0 1 0 -1.8 0M333.9 132.2a0.9 0.9 0 1 0 1.8 0a0.9 0.9 0 1 0 -1.8 0M343.6 104.7a0.9 0.9 0 1 0 1.8 0a0.9 0.9 0 1 0 -1.8 0M336.6 120.6a0.9 0.9 0 1 0 1.8 0a0.9 0.9 0 1 0 -1.8 0M395.1 123.6a0.9 0.9 0 1 0 1.8 0a0.9 0.9 0 1 0 -1.8 0M395.1 131.6a0.9 0.9 0 1 0 1.8 0a0.9 0.9 0 1 0 -1.8 0M395.1 133.9a0.9 0.9 0 1 0 1.8 0a0.9 0.9 0 1 0 -1.8 0M395.7 125.4a0.9 0.9 0 1 0 1.8 0a0.9 0.9 0 1 0 -1.8 0M395.7 138.5a0.9 0.9 0 1 0 1.8 0a0.9 0.9 0 1 0 -1.8 0M395.1 105.5a0.9 0.9 0 1 0 1.8 0a0.9 0.9 0 1 0 -1.8 0M393 130.4a0.9 0.9 0 1 0 1.8 0a0.9 0.9 0 1 0 -1.8 0M392.8 124.3a0.9 0.9 0 1 0 1.8 0a0.9 0.9 0 1 0 -1.8 0M395.1 108.7a0.9 0.9 0 1 0 1.8 0a0.9 0.9 0 1 0 -1.8 0M397.3 126.3a0.9 0.9 0 1 0 1.8 0a0.9 0.9 0 1 0 -1.8 0M395.6 112a0.9 0.9 0 1 0 1.8 0a0.9 0.9 0 1 0 -1.8 0M400.5 124.7a0.9 0.9 0 1 0 1.8 0a0.9 0.9 0 1 0 -1.8 0M395.5 128.2a0.9 0.9 0 1 0 1.8 0a0.9 0.9 0 1 0 -1.8 0M397.5 112.9a0.9 0.9 0 1 0 1.8 0a0.9 0.9 0 1 0 -1.8 0M393.1 110.6a0.9 0.9 0 1 0 1.8 0a0.9 0.9 0 1 0 -1.8 0M395.1 114a0.9 0.9 0 1 0 1.8 0a0.9 0.9 0 1 0 -1.8 0M397.8 110a0.9 0.9 0 1 0 1.8 0a0.9 0.9 0 1 0 -1.8 0M393.2 137.5a0.9 0.9 0 1 0 1.8 0a0.9 0.9 0 1 0 -1.8 0M392.9 114.5a0.9 0.9 0 1 0 1.8 0a0.9 0.9 0 1 0 -1.8 0M393 112.5a0.9 0.9 0 1 0 1.8 0a0.9 0.9 0 1 0 -1.8 0M395.2 136.2a0.9 0.9 0 1 0 1.8 0a0.9 0.9 0 1 0 -1.8 0M395.3 116.3a0.9 0.9 0 1 0 1.8 0a0.9 0.9 0 1 0 -1.8 0M392.6 126.7a0.9 0.9 0 1 0 1.8 0a0.9 0.9 0 1 0 -1.8 0M397.4 138.5a0.9 0.9 0 1 0 1.8 0a0.9 0.9 0 1 0 -1.8 0M393.2 117.4a0.9 0.9 0 1 0 1.8 0a0.9 0.9 0 1 0 -1.8 0M397.7 133.9a0.9 0.9 0 1 0 1.8 0a0.9 0.9 0 1 0 -1.8 0M395.3 120.1a0.9 0.9 0 1 0 1.8 0a0.9 0.9 0 1 0 -1.8 0M395.7 101.6a0.9 0.9 0 1 0 1.8 0a0.9 0.9 0 1 0 -1.8 0M400 112.6a0.9 0.9 0 1 0 1.8 0a0.9 0.9 0 1 0 -1.8 0M395.2 141.1a0.9 0.9 0 1 0 1.8 0a0.9 0.9 0 1 0 -1.8 0M393.2 119.4a0.9 0.9 0 1 0 1.8 0a0.9 0.9 0 1 0 -1.8 0M393.3 140.6a0.9 0.9 0 1 0 1.8 0a0.9 0.9 0 1 0 -1.8 0M390.1 114a0.9 0.9 0 1 0 1.8 0a0.9 0.9 0 1 0 -1.8 0M397.6 116.1a0.9 0.9 0 1 0 1.8 0a0.9 0.9 0 1 0 -1.8 0M395.2 118.1a0.9 0.9 0 1 0 1.8 0a0.9 0.9 0 1 0 -1.8 0M400.5 110.1a0.9 0.9 0 1 0 1.8 0a0.9 0.9 0 1 0 -1.8 0M399.9 114.6a0.9 0.9 0 1 0 1.8 0a0.9 0.9 0 1 0 -1.8 0M390.8 126.3a0.9 0.9 0 1 0 1.8 0a0.9 0.9 0 1 0 -1.8 0M400.2 125a0.9 0.9 0 1 0 1.8 0a0.9 0.9 0 1 0 -1.8 0M397.8 122a0.9 0.9 0 1 0 1.8 0a0.9 0.9 0 1 0 -1.8 0M399.8 126.5a0.9 0.9 0 1 0 1.8 0a0.9 0.9 0 1 0 -1.8 0M390.9 110.1a0.9 0.9 0 1 0 1.8 0a0.9 0.9 0 1 0 -1.8 0M393.3 134.3a0.9 0.9 0 1 0 1.8 0a0.9 0.9 0 1 0 -1.8 0M400.4 136.8a0.9 0.9 0 1 0 1.8 0a0.9 0.9 0 1 0 -1.8 0M397.8 119.7a0.9 0.9 0 1 0 1.8 0a0.9 0.9 0 1 0 -1.8 0M397.9 130.5a0.9 0.9 0 1 0 1.8 0a0.9 0.9 0 1 0 -1.8 0M400.4 118.5a0.9 0.9 0 1 0 1.8 0a0.9 0.9 0 1 0 -1.8 0M397.6 124.1a0.9 0.9 0 1 0 1.8 0a0.9 0.9 0 1 0 -1.8 0M390.9 130.3a0.9 0.9 0 1 0 1.8 0a0.9 0.9 0 1 0 -1.8 0M390.8 115.7a0.9 0.9 0 1 0 1.8 0a0.9 0.9 0 1 0 -1.8 0M390.2 133.4a0.9 0.9 0 1 0 1.8 0a0.9 0.9 0 1 0 -1.8 0M395.4 98.8a0.9 0.9 0 1 0 1.8 0a0.9 0.9 0 1 0 -1.8 0M395.5 204.9a0.9 0.9 0 1 0 1.8 0a0.9 0.9 0 1 0 -1.8 0M397.6 140.7a0.9 0.9 0 1 0 1.8 0a0.9 0.9 0 1 0 -1.8 0M395.2 125.8a0.9 0.9 0 1 0 1.8 0a0.9 0.9 0 1 0 -1.8 0M390.8 118a0.9 0.9 0 1 0 1.8 0a0.9 0.9 0 1 0 -1.8 0M400.4 130.1a0.9 0.9 0 1 0 1.8 0a0.9 0.9 0 1 0 -1.8 0M395.3 175.5a0.9 0.9 0 1 0 1.8 0a0.9 0.9 0 1 0 -1.8 0M400 130.2a0.9 0.9 0 1 0 1.8 0a0.9 0.9 0 1 0 -1.8 0M400.3 117.1a0.9 0.9 0 1 0 1.8 0a0.9 0.9 0 1 0 -1.8 0M390.7 120.2a0.9 0.9 0 1 0 1.8 0a0.9 0.9 0 1 0 -1.8 0M397.8 142.8a0.9 0.9 0 1 0 1.8 0a0.9 0.9 0 1 0 -1.8 0M397.7 102.6a0.9 0.9 0 1 0 1.8 0a0.9 0.9 0 1 0 -1.8 0M400.4 125.1a0.9 0.9 0 1 0 1.8 0a0.9 0.9 0 1 0 -1.8 0M393.1 142.7a0.9 0.9 0 1 0 1.8 0a0.9 0.9 0 1 0 -1.8 0M397.4 129.7a0.9 0.9 0 1 0 1.8 0a0.9 0.9 0 1 0 -1.8 0M400.5 117.1a0.9 0.9 0 1 0 1.8 0a0.9 0.9 0 1 0 -1.8 0M395.6 130a0.9 0.9 0 1 0 1.8 0a0.9 0.9 0 1 0 -1.8 0M390.4 123.6a0.9 0.9 0 1 0 1.8 0a0.9 0.9 0 1 0 -1.8 0M399.7 133.4a0.9 0.9 0 1 0 1.8 0a0.9 0.9 0 1 0 -1.8 0M400.2 110.8a0.9 0.9 0 1 0 1.8 0a0.9 0.9 0 1 0 -1.8 0M395.6 156.5a0.9 0.9 0 1 0 1.8 0a0.9 0.9 0 1 0 -1.8 0M400.4 130.5a0.9 0.9 0 1 0 1.8 0a0.9 0.9 0 1 0 -1.8 0M390.5 120.2a0.9 0.9 0 1 0 1.8 0a0.9 0.9 0 1 0 -1.8 0M397.5 126a0.9 0.9 0 1 0 1.8 0a0.9 0.9 0 1 0 -1.8 0M393 119.3a0.9 0.9 0 1 0 1.8 0a0.9 0.9 0 1 0 -1.8 0M397.7 112.6a0.9 0.9 0 1 0 1.8 0a0.9 0.9 0 1 0 -1.8 0M395 143.4a0.9 0.9 0 1 0 1.8 0a0.9 0.9 0 1 0 -1.8 0M391 125.3a0.9 0.9 0 1 0 1.8 0a0.9 0.9 0 1 0 -1.8 0M395.7 88a0.9 0.9 0 1 0 1.8 0a0.9 0.9 0 1 0 -1.8 0M393.2 121.2a0.9 0.9 0 1 0 1.8 0a0.9 0.9 0 1 0 -1.8 0M400.4 124.5a0.9 0.9 0 1 0 1.8 0a0.9 0.9 0 1 0 -1.8 0M395.2 163.3a0.9 0.9 0 1 0 1.8 0a0.9 0.9 0 1 0 -1.8 0M400.6 142.1a0.9 0.9 0 1 0 1.8 0a0.9 0.9 0 1 0 -1.8 0M398.1 114.7a0.9 0.9 0 1 0 1.8 0a0.9 0.9 0 1 0 -1.8 0M395 117a0.9 0.9 0 1 0 1.8 0a0.9 0.9 0 1 0 -1.8 0M395.6 114.5a0.9 0.9 0 1 0 1.8 0a0.9 0.9 0 1 0 -1.8 0M398.1 126.7a0.9 0.9 0 1 0 1.8 0a0.9 0.9 0 1 0 -1.8 0M393.2 131.1a0.9 0.9 0 1 0 1.8 0a0.9 0.9 0 1 0 -1.8 0M400.3 116a0.9 0.9 0 1 0 1.8 0a0.9 0.9 0 1 0 -1.8 0M392.5 123.7a0.9 0.9 0 1 0 1.8 0a0.9 0.9 0 1 0 -1.8 0M392.9 108.1a0.9 0.9 0 1 0 1.8 0a0.9 0.9 0 1 0 -1.8 0M390.5 136.8a0.9 0.9 0 1 0 1.8 0a0.9 0.9 0 1 0 -1.8 0M400.5 123.8a0.9 0.9 0 1 0 1.8 0a0.9 0.9 0 1 0 -1.8 0M400.5 139.2a0.9 0.9 0 1 0 1.8 0a0.9 0.9 0 1 0 -1.8 0M400 122.1a0.9 0.9 0 1 0 1.8 0a0.9 0.9 0 1 0 -1.8 0M452.4 148.7a0.9 0.9 0 1 0 1.8 0a0.9 0.9 0 1 0 -1.8 0M451.7 132.7a0.9 0.9 0 1 0 1.8 0a0.9 0.9 0 1 0 -1.8 0M449.2 132.2a0.9 0.9 0 1 0 1.8 0a0.9 0.9 0 1 0 -1.8 0M452.4 118.5a0.9 0.9 0 1 0 1.8 0a0.9 0.9 0 1 0 -1.8 0M452.4 150.4a0.9 0.9 0 1 0 1.8 0a0.9 0.9 0 1 0 -1.8 0M452.1 130.4a0.9 0.9 0 1 0 1.8 0a0.9 0.9 0 1 0 -1.8 0M450 117.8a0.9 0.9 0 1 0 1.8 0a0.9 0.9 0 1 0 -1.8 0M451.8 136.4a0.9 0.9 0 1 0 1.8 0a0.9 0.9 0 1 0 -1.8 0M451.9 120.3a0.9 0.9 0 1 0 1.8 0a0.9 0.9 0 1 0 -1.8 0M451.7 142a0.9 0.9 0 1 0 1.8 0a0.9 0.9 0 1 0 -1.8 0M451.7 111.1a0.9 0.9 0 1 0 1.8 0a0.9 0.9 0 1 0 -1.8 0M452 114a0.9 0.9 0 1 0 1.8 0a0.9 0.9 0 1 0 -1.8 0M452.2 144.8a0.9 0.9 0 1 0 1.8 0a0.9 0.9 0 1 0 -1.8 0M454 133.9a0.9 0.9 0 1 0 1.8 0a0.9 0.9 0 1 0 -1.8 0M449.7 141.8a0.9 0.9 0 1 0 1.8 0a0.9 0.9 0 1 0 -1.8 0M454 110.9a0.9 0.9 0 1 0 1.8 0a0.9 0.9 0 1 0 -1.8 0M454.1 131.4a0.9 0.9 0 1 0 1.8 0a0.9 0.9 0 1 0 -1.8 0M449.7 114.9a0.9 0.9 0 1 0 1.8 0a0.9 0.9 0 1 0 -1.8 0M452.4 153.3a0.9 0.9 0 1 0 1.8 0a0.9 0.9 0 1 0 -1.8 0M451.6 122.9a0.9 0.9 0 1 0 1.8 0a0.9 0.9 0 1 0 -1.8 0M449.7 150.6a0.9 0.9 0 1 0 1.8 0a0.9 0.9 0 1 0 -1.8 0M454.3 136.1a0.9 0.9 0 1 0 1.8 0a0.9 0.9 0 1 0 -1.8 0M452 138.7a0.9 0.9 0 1 0 1.8 0a0.9 0.9 0 1 0 -1.8 0M454.3 117.2a0.9 0.9 0 1 0 1.8 0a0.9 0.9 0 1 0 -1.8 0M454.6 137.9a0.9 0.9 0 1 0 1.8 0a0.9 0.9 0 1 0 -1.8 0M449.8 130.3a0.9 0.9 0 1 0 1.8 0a0.9 0.9 0 1 0 -1.8 0M452.3 127.6a0.9 0.9 0 1 0 1.8 0a0.9 0.9 0 1 0 -1.8 0M449.4 135.6a0.9 0.9 0 1 0 1.8 0a0.9 0.9 0 1 0 -1.8 0M454.1 154a0.9 0.9 0 1 0 1.8 0a0.9 0.9 0 1 0 -1.8 0M456.4 134a0.9 0.9 0 1 0 1.8 0a0.9 0.9 0 1 0 -1.8 0M446.9 132.8a0.9 0.9 0 1 0 1.8 0a0.9 0.9 0 1 0 -1.8 0M454.6 132.8a0.9 0.9 0 1 0 1.8 0a0.9 0.9 0 1 0 -1.8 0M454.4 141.7a0.9 0.9 0 1 0 1.8 0a0.9 0.9 0 1 0 -1.8 0M454.7 114.6a0.9 0.9 0 1 0 1.8 0a0.9 0.9 0 1 0 -1.8 0M456.8 117.9a0.9 0.9 0 1 0 1.8 0a0.9 0.9 0 1 0 -1.8 0M449.9 147.4a0.9 0.9 0 1 0 1.8 0a0.9 0.9 0 1 0 -1.8 0M449.4 152.8a0.9 0.9 0 1 0 1.8 0a0.9 0.9 0 1 0 -1.8 0M447.2 118.6a0.9 0.9 0 1 0 1.8 0a0.9 0.9 0 1 0 -1.8 0M454.1 112.7a0.9 0.9 0 1 0 1.8 0a0.9 0.9 0 1 0 -1.8 0M449.8 121.1a0.9 0.9 0 1 0 1.8 0a0.9 0.9 0 1 0 -1.8 0M447.2 137.1a0.9 0.9 0 1 0 1.8 0a0.9 0.9 0 1 0 -1.8 0M457.1 133.8a0.9 0.9 0 1 0 1.8 0a0.9 0.9 0 1 0 -1.8 0M454 133.9a0.9 0.9 0 1 0 1.8 0a0.9 0.9 0 1 0 -1.8 0M451.7 190.7a0.9 0.9 0 1 0 1.8 0a0.9 0.9 0 1 0 -1.8 0M452.2 107.9a0.9 0.9 0 1 0 1.8 0a0.9 0.9 0 1 0 -1.8 0M449.8 143.6a0.9 0.9 0 1 0 1.8 0a0.9 0.9 0 1 0 -1.8 0M451.6 133.5a0.9 0.9 0 1 0 1.8 0a0.9 0.9 0 1 0 -1.8 0M454.8 121.7a0.9 0.9 0 1 0 1.8 0a0.9 0.9 0 1 0 -1.8 0M454.3 145.9a0.9 0.9 0 1 0 1.8 0a0.9 0.9 0 1 0 -1.8 0M449.3 145.5a0.9 0.9 0 1 0 1.8 0a0.9 0.9 0 1 0 -1.8 0M454.2 151.5a0.9 0.9 0 1 0 1.8 0a0.9 0.9 0 1 0 -1.8 0M454.8 143.9a0.9 0.9 0 1 0 1.8 0a0.9 0.9 0 1 0 -1.8 0M456.5 129.8a0.9 0.9 0 1 0 1.8 0a0.9 0.9 0 1 0 -1.8 0M449.4 111.3a0.9 0.9 0 1 0 1.8 0a0.9 0.9 0 1 0 -1.8 0M451.8 174.8a0.9 0.9 0 1 0 1.8 0a0.9 0.9 0 1 0 -1.8 0M456.5 140.7a0.9 0.9 0 1 0 1.8 0a0.9 0.9 0 1 0 -1.8 0M457.1 120.3a0.9 0.9 0 1 0 1.8 0a0.9 0.9 0 1 0 -1.8 0M456.8 118.2a0.9 0.9 0 1 0 1.8 0a0.9 0.9 0 1 0 -1.8 0M449.2 122.9a0.9 0.9 0 1 0 1.8 0a0.9 0.9 0 1 0 -1.8 0M449.8 127.7a0.9 0.9 0 1 0 1.8 0a0.9 0.9 0 1 0 -1.8 0M454.1 127.1a0.9 0.9 0 1 0 1.8 0a0.9 0.9 0 1 0 -1.8 0M449.3 138.3a0.9 0.9 0 1 0 1.8 0a0.9 0.9 0 1 0 -1.8 0M447.6 122.9a0.9 0.9 0 1 0 1.8 0a0.9 0.9 0 1 0 -1.8 0M456.4 144.2a0.9 0.9 0 1 0 1.8 0a0.9 0.9 0 1 0 -1.8 0M447.2 115.6a0.9 0.9 0 1 0 1.8 0a0.9 0.9 0 1 0 -1.8 0M456.9 150.7a0.9 0.9 0 1 0 1.8 0a0.9 0.9 0 1 0 -1.8 0M447.2 128.6a0.9 0.9 0 1 0 1.8 0a0.9 0.9 0 1 0 -1.8 0M457.2 136a0.9 0.9 0 1 0 1.8 0a0.9 0.9 0 1 0 -1.8 0M447.6 141a0.9 0.9 0 1 0 1.8 0a0.9 0.9 0 1 0 -1.8 0M454.5 129.2a0.9 0.9 0 1 0 1.8 0a0.9 0.9 0 1 0 -1.8 0M456.4 122.1a0.9 0.9 0 1 0 1.8 0a0.9 0.9 0 1 0 -1.8 0M446.8 135.3a0.9 0.9 0 1 0 1.8 0a0.9 0.9 0 1 0 -1.8 0M447.5 121.4a0.9 0.9 0 1 0 1.8 0a0.9 0.9 0 1 0 -1.8 0M456.8 138.3a0.9 0.9 0 1 0 1.8 0a0.9 0.9 0 1 0 -1.8 0M447 130.5a0.9 0.9 0 1 0 1.8 0a0.9 0.9 0 1 0 -1.8 0M447 111.5a0.9 0.9 0 1 0 1.8 0a0.9 0.9 0 1 0 -1.8 0M452.2 140.6a0.9 0.9 0 1 0 1.8 0a0.9 0.9 0 1 0 -1.8 0M454.2 123.6a0.9 0.9 0 1 0 1.8 0a0.9 0.9 0 1 0 -1.8 0M452.2 135.7a0.9 0.9 0 1 0 1.8 0a0.9 0.9 0 1 0 -1.8 0M454.3 135.2a0.9 0.9 0 1 0 1.8 0a0.9 0.9 0 1 0 -1.8 0M451.6 128.5a0.9 0.9 0 1 0 1.8 0a0.9 0.9 0 1 0 -1.8 0M447.1 134a0.9 0.9 0 1 0 1.8 0a0.9 0.9 0 1 0 -1.8 0M449.8 141.2a0.9 0.9 0 1 0 1.8 0a0.9 0.9 0 1 0 -1.8 0M452.3 163.8a0.9 0.9 0 1 0 1.8 0a0.9 0.9 0 1 0 -1.8 0M447.4 113.5a0.9 0.9 0 1 0 1.8 0a0.9 0.9 0 1 0 -1.8 0M447 128.9a0.9 0.9 0 1 0 1.8 0a0.9 0.9 0 1 0 -1.8 0M456.4 134.3a0.9 0.9 0 1 0 1.8 0a0.9 0.9 0 1 0 -1.8 0M454.4 137.2a0.9 0.9 0 1 0 1.8 0a0.9 0.9 0 1 0 -1.8 0M456.4 115.1a0.9 0.9 0 1 0 1.8 0a0.9 0.9 0 1 0 -1.8 0M451.8 125.2a0.9 0.9 0 1 0 1.8 0a0.9 0.9 0 1 0 -1.8 0M447.5 142.8a0.9 0.9 0 1 0 1.8 0a0.9 0.9 0 1 0 -1.8 0M456.9 132a0.9 0.9 0 1 0 1.8 0a0.9 0.9 0 1 0 -1.8 0M457 152.8a0.9 0.9 0 1 0 1.8 0a0.9 0.9 0 1 0 -1.8 0M447.1 145.4a0.9 0.9 0 1 0 1.8 0a0.9 0.9 0 1 0 -1.8 0M457 123.2a0.9 0.9 0 1 0 1.8 0a0.9 0.9 0 1 0 -1.8 0M452.3 116.2a0.9 0.9 0 1 0 1.8 0a0.9 0.9 0 1 0 -1.8 0M508.5 123.9a0.9 0.9 0 1 0 1.8 0a0.9 0.9 0 1 0 -1.8 0M508.6 126.8a0.9 0.9 0 1 0 1.8 0a0.9 0.9 0 1 0 -1.8 0M508.6 110.9a0.9 0.9 0 1 0 1.8 0a0.9 0.9 0 1 0 -1.8 0M506.6 123.8a0.9 0.9 0 1 0 1.8 0a0.9 0.9 0 1 0 -1.8 0M506.5 126.9a0.9 0.9 0 1 0 1.8 0a0.9 0.9 0 1 0 -1.8 0M508.5 137.7a0.9 0.9 0 1 0 1.8 0a0.9 0.9 0 1 0 -1.8 0M510.9 122.8a0.9 0.9 0 1 0 1.8 0a0.9 0.9 0 1 0 -1.8 0M508.8 151.5a0.9 0.9 0 1 0 1.8 0a0.9 0.9 0 1 0 -1.8 0M508.5 114.6a0.9 0.9 0 1 0 1.8 0a0.9 0.9 0 1 0 -1.8 0M508.9 133.5a0.9 0.9 0 1 0 1.8 0a0.9 0.9 0 1 0 -1.8 0M508.9 102.7a0.9 0.9 0 1 0 1.8 0a0.9 0.9 0 1 0 -1.8 0M509 129.1a0.9 0.9 0 1 0 1.8 0a0.9 0.9 0 1 0 -1.8 0M508.6 148.6a0.9 0.9 0 1 0 1.8 0a0.9 0.9 0 1 0 -1.8 0M510.9 127.2a0.9 0.9 0 1 0 1.8 0a0.9 0.9 0 1 0 -1.8 0M511.3 113.1a0.9 0.9 0 1 0 1.8 0a0.9 0.9 0 1 0 -1.8 0M506.5 133.3a0.9 0.9 0 1 0 1.8 0a0.9 0.9 0 1 0 -1.8 0M508.3 164.3a0.9 0.9 0 1 0 1.8 0a0.9 0.9 0 1 0 -1.8 0M506.2 102.3a0.9 0.9 0 1 0 1.8 0a0.9 0.9 0 1 0 -1.8 0M508.2 135.7a0.9 0.9 0 1 0 1.8 0a0.9 0.9 0 1 0 -1.8 0M505.9 116.2a0.9 0.9 0 1 0 1.8 0a0.9 0.9 0 1 0 -1.8 0M506.5 135.5a0.9 0.9 0 1 0 1.8 0a0.9 0.9 0 1 0 -1.8 0M508.8 174.8a0.9 0.9 0 1 0 1.8 0a0.9 0.9 0 1 0 -1.8 0M506 111.5a0.9 0.9 0 1 0 1.8 0a0.9 0.9 0 1 0 -1.8 0M508.6 109a0.9 0.9 0 1 0 1.8 0a0.9 0.9 0 1 0 -1.8 0M510.9 103.9a0.9 0.9 0 1 0 1.8 0a0.9 0.9 0 1 0 -1.8 0M511.1 110.3a0.9 0.9 0 1 0 1.8 0a0.9 0.9 0 1 0 -1.8 0M508.6 130.9a0.9 0.9 0 1 0 1.8 0a0.9 0.9 0 1 0 -1.8 0M503.5 123.6a0.9 0.9 0 1 0 1.8 0a0.9 0.9 0 1 0 -1.8 0M506.2 104.4a0.9 0.9 0 1 0 1.8 0a0.9 0.9 0 1 0 -1.8 0M513.6 111.9a0.9 0.9 0 1 0 1.8 0a0.9 0.9 0 1 0 -1.8 0M509 120.4a0.9 0.9 0 1 0 1.8 0a0.9 0.9 0 1 0 -1.8 0M508.7 117.4a0.9 0.9 0 1 0 1.8 0a0.9 0.9 0 1 0 -1.8 0M511.1 134.4a0.9 0.9 0 1 0 1.8 0a0.9 0.9 0 1 0 -1.8 0M513.3 127.8a0.9 0.9 0 1 0 1.8 0a0.9 0.9 0 1 0 -1.8 0M504 103.6a0.9 0.9 0 1 0 1.8 0a0.9 0.9 0 1 0 -1.8 0M511.4 115.5a0.9 0.9 0 1 0 1.8 0a0.9 0.9 0 1 0 -1.8 0M503.5 127.9a0.9 0.9 0 1 0 1.8 0a0.9 0.9 0 1 0 -1.8 0M508.6 112.9a0.9 0.9 0 1 0 1.8 0a0.9 0.9 0 1 0 -1.8 0M505.9 138.5a0.9 0.9 0 1 0 1.8 0a0.9 0.9 0 1 0 -1.8 0M506 131.1a0.9 0.9 0 1 0 1.8 0a0.9 0.9 0 1 0 -1.8 0M513.4 125.8a0.9 0.9 0 1 0 1.8 0a0.9 0.9 0 1 0 -1.8 0M511 126.7a0.9 0.9 0 1 0 1.8 0a0.9 0.9 0 1 0 -1.8 0M508.3 97.5a0.9 0.9 0 1 0 1.8 0a0.9 0.9 0 1 0 -1.8 0M513.2 123.4a0.9 0.9 0 1 0 1.8 0a0.9 0.9 0 1 0 -1.8 0M506.1 119.4a0.9 0.9 0 1 0 1.8 0a0.9 0.9 0 1 0 -1.8 0M508.6 100.7a0.9 0.9 0 1 0 1.8 0a0.9 0.9 0 1 0 -1.8 0M506.6 122.9a0.9 0.9 0 1 0 1.8 0a0.9 0.9 0 1 0 -1.8 0M510.7 130.8a0.9 0.9 0 1 0 1.8 0a0.9 0.9 0 1 0 -1.8 0M506.5 128.8a0.9 0.9 0 1 0 1.8 0a0.9 0.9 0 1 0 -1.8 0M508.9 106.4a0.9 0.9 0 1 0 1.8 0a0.9 0.9 0 1 0 -1.8 0M513.7 104.1a0.9 0.9 0 1 0 1.8 0a0.9 0.9 0 1 0 -1.8 0M510.9 148.5a0.9 0.9 0 1 0 1.8 0a0.9 0.9 0 1 0 -1.8 0M508.3 140.6a0.9 0.9 0 1 0 1.8 0a0.9 0.9 0 1 0 -1.8 0M505.9 108.4a0.9 0.9 0 1 0 1.8 0a0.9 0.9 0 1 0 -1.8 0M513.6 131.2a0.9 0.9 0 1 0 1.8 0a0.9 0.9 0 1 0 -1.8 0M504.2 134.8a0.9 0.9 0 1 0 1.8 0a0.9 0.9 0 1 0 -1.8 0M513.7 115.9a0.9 0.9 0 1 0 1.8 0a0.9 0.9 0 1 0 -1.8 0M506.1 127.5a0.9 0.9 0 1 0 1.8 0a0.9 0.9 0 1 0 -1.8 0M508.3 143.5a0.9 0.9 0 1 0 1.8 0a0.9 0.9 0 1 0 -1.8 0M508.9 127a0.9 0.9 0 1 0 1.8 0a0.9 0.9 0 1 0 -1.8 0M511.3 118.6a0.9 0.9 0 1 0 1.8 0a0.9 0.9 0 1 0 -1.8 0M513.7 135a0.9 0.9 0 1 0 1.8 0a0.9 0.9 0 1 0 -1.8 0M504.2 136.1a0.9 0.9 0 1 0 1.8 0a0.9 0.9 0 1 0 -1.8 0M511.4 137.6a0.9 0.9 0 1 0 1.8 0a0.9 0.9 0 1 0 -1.8 0M513.3 133.1a0.9 0.9 0 1 0 1.8 0a0.9 0.9 0 1 0 -1.8 0M503.9 115.4a0.9 0.9 0 1 0 1.8 0a0.9 0.9 0 1 0 -1.8 0M508.3 171a0.9 0.9 0 1 0 1.8 0a0.9 0.9 0 1 0 -1.8 0M506.5 113.9a0.9 0.9 0 1 0 1.8 0a0.9 0.9 0 1 0 -1.8 0M513.5 119.3a0.9 0.9 0 1 0 1.8 0a0.9 0.9 0 1 0 -1.8 0M511.3 108a0.9 0.9 0 1 0 1.8 0a0.9 0.9 0 1 0 -1.8 0M506 143a0.9 0.9 0 1 0 1.8 0a0.9 0.9 0 1 0 -1.8 0M508.8 157.7a0.9 0.9 0 1 0 1.8 0a0.9 0.9 0 1 0 -1.8 0M504.2 108a0.9 0.9 0 1 0 1.8 0a0.9 0.9 0 1 0 -1.8 0M511.3 133.7a0.9 0.9 0 1 0 1.8 0a0.9 0.9 0 1 0 -1.8 0M503.7 137.9a0.9 0.9 0 1 0 1.8 0a0.9 0.9 0 1 0 -1.8 0M506.4 114.2a0.9 0.9 0 1 0 1.8 0a0.9 0.9 0 1 0 -1.8 0M503.9 118.7a0.9 0.9 0 1 0 1.8 0a0.9 0.9 0 1 0 -1.8 0M511.3 141.2a0.9 0.9 0 1 0 1.8 0a0.9 0.9 0 1 0 -1.8 0M504.3 104.1a0.9 0.9 0 1 0 1.8 0a0.9 0.9 0 1 0 -1.8 0M504 133.9a0.9 0.9 0 1 0 1.8 0a0.9 0.9 0 1 0 -1.8 0M513.8 139.2a0.9 0.9 0 1 0 1.8 0a0.9 0.9 0 1 0 -1.8 0M503.7 130.4a0.9 0.9 0 1 0 1.8 0a0.9 0.9 0 1 0 -1.8 0M508.3 127a0.9 0.9 0 1 0 1.8 0a0.9 0.9 0 1 0 -1.8 0M513.5 137.2a0.9 0.9 0 1 0 1.8 0a0.9 0.9 0 1 0 -1.8 0M503.4 110.5a0.9 0.9 0 1 0 1.8 0a0.9 0.9 0 1 0 -1.8 0M508.4 114.4a0.9 0.9 0 1 0 1.8 0a0.9 0.9 0 1 0 -1.8 0M504.3 112.9a0.9 0.9 0 1 0 1.8 0a0.9 0.9 0 1 0 -1.8 0M506 121.7a0.9 0.9 0 1 0 1.8 0a0.9 0.9 0 1 0 -1.8 0M513.2 112a0.9 0.9 0 1 0 1.8 0a0.9 0.9 0 1 0 -1.8 0M511 101a0.9 0.9 0 1 0 1.8 0a0.9 0.9 0 1 0 -1.8 0M506.2 138.2a0.9 0.9 0 1 0 1.8 0a0.9 0.9 0 1 0 -1.8 0M506.2 100.5a0.9 0.9 0 1 0 1.8 0a0.9 0.9 0 1 0 -1.8 0M506.1 96.4a0.9 0.9 0 1 0 1.8 0a0.9 0.9 0 1 0 -1.8 0M510.8 114.9a0.9 0.9 0 1 0 1.8 0a0.9 0.9 0 1 0 -1.8 0M508.3 128.5a0.9 0.9 0 1 0 1.8 0a0.9 0.9 0 1 0 -1.8 0M513 108.2a0.9 0.9 0 1 0 1.8 0a0.9 0.9 0 1 0 -1.8 0M565.1 183.9a0.9 0.9 0 1 0 1.8 0a0.9 0.9 0 1 0 -1.8 0M565 193.9a0.9 0.9 0 1 0 1.8 0a0.9 0.9 0 1 0 -1.8 0M565.1 191.4a0.9 0.9 0 1 0 1.8 0a0.9 0.9 0 1 0 -1.8 0M565.6 182a0.9 0.9 0 1 0 1.8 0a0.9 0.9 0 1 0 -1.8 0M565.6 173.3a0.9 0.9 0 1 0 1.8 0a0.9 0.9 0 1 0 -1.8 0M564.9 169.9a0.9 0.9 0 1 0 1.8 0a0.9 0.9 0 1 0 -1.8 0M565.4 154.4a0.9 0.9 0 1 0 1.8 0a0.9 0.9 0 1 0 -1.8 0M562.6 184.9a0.9 0.9 0 1 0 1.8 0a0.9 0.9 0 1 0 -1.8 0M565.1 196.2a0.9 0.9 0 1 0 1.8 0a0.9 0.9 0 1 0 -1.8 0M562.6 190.4a0.9 0.9 0 1 0 1.8 0a0.9 0.9 0 1 0 -1.8 0M563.2 168.4a0.9 0.9 0 1 0 1.8 0a0.9 0.9 0 1 0 -1.8 0M567.6 191.5a0.9 0.9 0 1 0 1.8 0a0.9 0.9 0 1 0 -1.8 0M565.1 161.1a0.9 0.9 0 1 0 1.8 0a0.9 0.9 0 1 0 -1.8 0M565.1 167a0.9 0.9 0 1 0 1.8 0a0.9 0.9 0 1 0 -1.8 0M565.1 188.8a0.9 0.9 0 1 0 1.8 0a0.9 0.9 0 1 0 -1.8 0M567.4 167.6a0.9 0.9 0 1 0 1.8 0a0.9 0.9 0 1 0 -1.8 0M565.4 207a0.9 0.9 0 1 0 1.8 0a0.9 0.9 0 1 0 -1.8 0M565.4 176.9a0.9 0.9 0 1 0 1.8 0a0.9 0.9 0 1 0 -1.8 0M565.6 131.9a0.9 0.9 0 1 0 1.8 0a0.9 0.9 0 1 0 -1.8 0M565.5 186a0.9 0.9 0 1 0 1.8 0a0.9 0.9 0 1 0 -1.8 0M562.9 188.5a0.9 0.9 0 1 0 1.8 0a0.9 0.9 0 1 0 -1.8 0M568 186.5a0.9 0.9 0 1 0 1.8 0a0.9 0.9 0 1 0 -1.8 0M565 204.5a0.9 0.9 0 1 0 1.8 0a0.9 0.9 0 1 0 -1.8 0M570.4 191a0.9 0.9 0 1 0 1.8 0a0.9 0.9 0 1 0 -1.8 0M562.7 174.1a0.9 0.9 0 1 0 1.8 0a0.9 0.9 0 1 0 -1.8 0M562.6 181.9a0.9 0.9 0 1 0 1.8 0a0.9 0.9 0 1 0 -1.8 0M567.3 173.6a0.9 0.9 0 1 0 1.8 0a0.9 0.9 0 1 0 -1.8 0M569.9 172.5a0.9 0.9 0 1 0 1.8 0a0.9 0.9 0 1 0 -1.8 0M565.4 151.3a0.9 0.9 0 1 0 1.8 0a0.9 0.9 0 1 0 -1.8 0M565.6 220.6a0.9 0.9 0 1 0 1.8 0a0.9 0.9 0 1 0 -1.8 0M564.9 209.3a0.9 0.9 0 1 0 1.8 0a0.9 0.9 0 1 0 -1.8 0M567.4 182.3a0.9 0.9 0 1 0 1.8 0a0.9 0.9 0 1 0 -1.8 0M565.4 201.7a0.9 0.9 0 1 0 1.8 0a0.9 0.9 0 1 0 -1.8 0M569.7 184.9a0.9 0.9 0 1 0 1.8 0a0.9 0.9 0 1 0 -1.8 0M569.7 169.3a0.9 0.9 0 1 0 1.8 0a0.9 0.9 0 1 0 -1.8 0M562.5 155.9a0.9 0.9 0 1 0 1.8 0a0.9 0.9 0 1 0 -1.8 0M565.2 156.8a0.9 0.9 0 1 0 1.8 0a0.9 0.9 0 1 0 -1.8 0M563.1 171.3a0.9 0.9 0 1 0 1.8 0a0.9 0.9 0 1 0 -1.8 0M560.5 187.7a0.9 0.9 0 1 0 1.8 0a0.9 0.9 0 1 0 -1.8 0M560.9 183.5a0.9 0.9 0 1 0 1.8 0a0.9 0.9 0 1 0 -1.8 0M565.5 179.9a0.9 0.9 0 1 0 1.8 0a0.9 0.9 0 1 0 -1.8 0M563.2 179.1a0.9 0.9 0 1 0 1.8 0a0.9 0.9 0 1 0 -1.8 0M567.7 189.1a0.9 0.9 0 1 0 1.8 0a0.9 0.9 0 1 0 -1.8 0M568.1 178.3a0.9 0.9 0 1 0 1.8 0a0.9 0.9 0 1 0 -1.8 0M563 176.9a0.9 0.9 0 1 0 1.8 0a0.9 0.9 0 1 0 -1.8 0M560.1 181.7a0.9 0.9 0 1 0 1.8 0a0.9 0.9 0 1 0 -1.8 0M570.4 189.3a0.9 0.9 0 1 0 1.8 0a0.9 0.9 0 1 0 -1.8 0M565.4 211.2a0.9 0.9 0 1 0 1.8 0a0.9 0.9 0 1 0 -1.8 0M565.5 163.4a0.9 0.9 0 1 0 1.8 0a0.9 0.9 0 1 0 -1.8 0M560.7 173.5a0.9 0.9 0 1 0 1.8 0a0.9 0.9 0 1 0 -1.8 0M562.5 195.6a0.9 0.9 0 1 0 1.8 0a0.9 0.9 0 1 0 -1.8 0M567.6 156.6a0.9 0.9 0 1 0 1.8 0a0.9 0.9 0 1 0 -1.8 0M569.7 182.3a0.9 0.9 0 1 0 1.8 0a0.9 0.9 0 1 0 -1.8 0M565.1 158.9a0.9 0.9 0 1 0 1.8 0a0.9 0.9 0 1 0 -1.8 0M565.6 142.8a0.9 0.9 0 1 0 1.8 0a0.9 0.9 0 1 0 -1.8 0M560.2 191.8a0.9 0.9 0 1 0 1.8 0a0.9 0.9 0 1 0 -1.8 0M568.1 161.5a0.9 0.9 0 1 0 1.8 0a0.9 0.9 0 1 0 -1.8 0M560.6 185.9a0.9 0.9 0 1 0 1.8 0a0.9 0.9 0 1 0 -1.8 0M560.3 191.5a0.9 0.9 0 1 0 1.8 0a0.9 0.9 0 1 0 -1.8 0M563.2 160.7a0.9 0.9 0 1 0 1.8 0a0.9 0.9 0 1 0 -1.8 0M567.7 154.2a0.9 0.9 0 1 0 1.8 0a0.9 0.9 0 1 0 -1.8 0M567.3 194.4a0.9 0.9 0 1 0 1.8 0a0.9 0.9 0 1 0 -1.8 0M568.1 170.4a0.9 0.9 0 1 0 1.8 0a0.9 0.9 0 1 0 -1.8 0M565.3 232.3a0.9 0.9 0 1 0 1.8 0a0.9 0.9 0 1 0 -1.8 0M565.3 199.8a0.9 0.9 0 1 0 1.8 0a0.9 0.9 0 1 0 -1.8 0M560.9 185.7a0.9 0.9 0 1 0 1.8 0a0.9 0.9 0 1 0 -1.8 0M567.9 196.3a0.9 0.9 0 1 0 1.8 0a0.9 0.9 0 1 0 -1.8 0M567.5 207.9a0.9 0.9 0 1 0 1.8 0a0.9 0.9 0 1 0 -1.8 0M560.8 172.4a0.9 0.9 0 1 0 1.8 0a0.9 0.9 0 1 0 -1.8 0M567.3 151.7a0.9 0.9 0 1 0 1.8 0a0.9 0.9 0 1 0 -1.8 0M560.2 173.1a0.9 0.9 0 1 0 1.8 0a0.9 0.9 0 1 0 -1.8 0M567.3 190.2a0.9 0.9 0 1 0 1.8 0a0.9 0.9 0 1 0 -1.8 0M567.8 175.6a0.9 0.9 0 1 0 1.8 0a0.9 0.9 0 1 0 -1.8 0M560.3 168a0.9 0.9 0 1 0 1.8 0a0.9 0.9 0 1 0 -1.8 0M560.1 161.1a0.9 0.9 0 1 0 1.8 0a0.9 0.9 0 1 0 -1.8 0M567.8 180.6a0.9 0.9 0 1 0 1.8 0a0.9 0.9 0 1 0 -1.8 0M565 185.2a0.9 0.9 0 1 0 1.8 0a0.9 0.9 0 1 0 -1.8 0M562.6 150.2a0.9 0.9 0 1 0 1.8 0a0.9 0.9 0 1 0 -1.8 0M560.2 171.5a0.9 0.9 0 1 0 1.8 0a0.9 0.9 0 1 0 -1.8 0M567.6 184.3a0.9 0.9 0 1 0 1.8 0a0.9 0.9 0 1 0 -1.8 0M560.1 196.5a0.9 0.9 0 1 0 1.8 0a0.9 0.9 0 1 0 -1.8 0M560.3 168.4a0.9 0.9 0 1 0 1.8 0a0.9 0.9 0 1 0 -1.8 0M563.3 192.7a0.9 0.9 0 1 0 1.8 0a0.9 0.9 0 1 0 -1.8 0M560.9 189.9a0.9 0.9 0 1 0 1.8 0a0.9 0.9 0 1 0 -1.8 0M565.2 168.1a0.9 0.9 0 1 0 1.8 0a0.9 0.9 0 1 0 -1.8 0M570 174.7a0.9 0.9 0 1 0 1.8 0a0.9 0.9 0 1 0 -1.8 0M560.1 179.5a0.9 0.9 0 1 0 1.8 0a0.9 0.9 0 1 0 -1.8 0M565 147a0.9 0.9 0 1 0 1.8 0a0.9 0.9 0 1 0 -1.8 0M570.4 187a0.9 0.9 0 1 0 1.8 0a0.9 0.9 0 1 0 -1.8 0M562.5 158.3a0.9 0.9 0 1 0 1.8 0a0.9 0.9 0 1 0 -1.8 0M570.1 192.1a0.9 0.9 0 1 0 1.8 0a0.9 0.9 0 1 0 -1.8 0M569.8 176.6a0.9 0.9 0 1 0 1.8 0a0.9 0.9 0 1 0 -1.8 0M570.3 173.5a0.9 0.9 0 1 0 1.8 0a0.9 0.9 0 1 0 -1.8 0M560.5 188.6a0.9 0.9 0 1 0 1.8 0a0.9 0.9 0 1 0 -1.8 0M560.5 154.5a0.9 0.9 0 1 0 1.8 0a0.9 0.9 0 1 0 -1.8 0M570.4 196a0.9 0.9 0 1 0 1.8 0a0.9 0.9 0 1 0 -1.8 0"/>
<path fill="#4262ff" d="M127.3 128.4a0.9 0.9 0 1 0 1.8 0a0.9 0.9 0 1 0 -1.8 0M127.7 143.4a0.9 0.9 0 1 0 1.8 0a0.9 0.9 0 1 0 -1.8 0M127.5 138.8a0.9 0.9 0 1 0 1.8 0a0.9 0.9 0 1 0 -1.8 0M127.1 150a0.9 0.9 0 1 0 1.8 0a0.9 0.9 0 1 0 -1.8 0M129.9 139.9a0.9 0.9 0 1 0 1.8 0a0.9 0.9 0 1 0 -1.8 0M127.1 166.3a0.9 0.9 0 1 0 1.8 0a0.9 0.9 0 1 0 -1.8 0M127.1 152.2a0.9 0.9 0 1 0 1.8 0a0.9 0.9 0 1 0 -1.8 0M127.1 188.3a0.9 0.9 0 1 0 1.8 0a0.9 0.9 0 1 0 -1.8 0M125 138.2a0.9 0.9 0 1 0 1.8 0a0.9 0.9 0 1 0 -1.8 0M125.3 166.2a0.9 0.9 0 1 0 1.8 0a0.9 0.9 0 1 0 -1.8 0M129.8 128.7a0.9 0.9 0 1 0 1.8 0a0.9 0.9 0 1 0 -1.8 0M129.8 152.2a0.9 0.9 0 1 0 1.8 0a0.9 0.9 0 1 0 -1.8 0M127.3 119.3a0.9 0.9 0 1 0 1.8 0a0.9 0.9 0 1 0 -1.8 0M127.3 157.3a0.9 0.9 0 1 0 1.8 0a0.9 0.9 0 1 0 -1.8 0M125.3 143.7a0.9 0.9 0 1 0 1.8 0a0.9 0.9 0 1 0 -1.8 0M127.8 123.9a0.9 0.9 0 1 0 1.8 0a0.9 0.9 0 1 0 -1.8 0M129.9 155.8a0.9 0.9 0 1 0 1.8 0a0.9 0.9 0 1 0 -1.8 0M127.3 170.8a0.9 0.9 0 1 0 1.8 0a0.9 0.9 0 1 0 -1.8 0M127.5 181.2a0.9 0.9 0 1 0 1.8 0a0.9 0.9 0 1 0 -1.8 0M125.1 156.2a0.9 0.9 0 1 0 1.8 0a0.9 0.9 0 1 0 -1.8 0M127.1 147.1a0.9 0.9 0 1 0 1.8 0a0.9 0.9 0 1 0 -1.8 0M125 171.1a0.9 0.9 0 1 0 1.8 0a0.9 0.9 0 1 0 -1.8 0M127.7 154a0.9 0.9 0 1 0 1.8 0a0.9 0.9 0 1 0 -1.8 0M127.6 126.4a0.9 0.9 0 1 0 1.8 0a0.9 0.9 0 1 0 -1.8 0M132.4 156.9a0.9 0.9 0 1 0 1.8 0a0.9 0.9 0 1 0 -1.8 0M127.3 178a0.9 0.9 0 1 0 1.8 0a0.9 0.9 0 1 0 -1.8 0M130.3 149.5a0.9 0.9 0 1 0 1.8 0a0.9 0.9 0 1 0 -1.8 0M125.5 140.3a0.9 0.9 0 1 0 1.8 0a0.9 0.9 0 1 0 -1.8 0M129.9 165.2a0.9 0.9 0 1 0 1.8 0a0.9 0.9 0 1 0 -1.8 0M129.6 172.2a0.9 0.9 0 1 0 1.8 0a0.9 0.9 0 1 0 -1.8 0M127.8 161.4a0.9 0.9 0 1 0 1.8 0a0.9 0.9 0 1 0 -1.8 0M124.8 151.9a0.9 0.9 0 1 0 1.8 0a0.9 0.9 0 1 0 -1.8 0M127.8 131.3a0.9 0.9 0 1 0 1.8 0a0.9 0.9 0 1 0 -1.8 0M127.1 105.7a0.9 0.9 0 1 0 1.8 0a0.9 0.9 0 1 0 -1.8 0M122.7 152.9a0.9 0.9 0 1 0 1.8 0a0.9 0.9 0 1 0 -1.8 0M122.8 155a0.9 0.9 0 1 0 1.8 0a0.9 0.9 0 1 0 -1.8 0M130.3 180.2a0.9 0.9 0 1 0 1.8 0a0.9 0.9 0 1 0 -1.8 0M127.6 173.7a0.9 0.9 0 1 0 1.8 0a0.9 0.9 0 1 0 -1.8 0M130.3 167.8a0.9 0.9 0 1 0 1.8 0a0.9 0.9 0 1 0 -1.8 0M122.6 140.4a0.9 0.9 0 1 0 1.8 0a0.9 0.9 0 1 0 -1.8 0M127.1 231.2a0.9 0.9 0 1 0 1.8 0a0.9 0.9 0 1 0 -1.8 0M132.4 154.7a0.9 0.9 0 1 0 1.8 0a0.9 0.9 0 1 0 -1.8 0M122.5 157a0.9 0.9 0 1 0 1.8 0a0.9 0.9 0 1 0 -1.8 0M125.1 149.8a0.9 0.9 0 1 0 1.8 0a0.9 0.9 0 1 0 -1.8 0M127.9 176.1a0.9 0.9 0 1 0 1.8 0a0.9 0.9 0 1 0 -1.8 0M127.4 121.2a0.9 0.9 0 1 0 1.8 0a0.9 0.9 0 1 0 -1.8 0M129.8 187.3a0.9 0.9 0 1 0 1.8 0a0.9 0.9 0 1 0 -1.8 0M125.3 121.2a0.9 0.9 0 1 0 1.8 0a0.9 0.9 0 1 0 -1.8 0M131.9 139.9a0.9 0.9 0 1 0 1.8 0a0.9 0.9 0 1 0 -1.8 0M125.1 157.4a0.9 0.9 0 1 0 1.8 0a0.9 0.9 0 1 0 -1.8 0M125.2 147.6a0.9 0.9 0 1 0 1.8 0a0.9 0.9 0 1 0 -1.8 0M127.4 163.1a0.9 0.9 0 1 0 1.8 0a0.9 0.9 0 1 0 -1.8 0M122.9 149.8a0.9 0.9 0 1 0 1.8 0a0.9 0.9 0 1 0 -1.8 0M127.7 159.4a0.9 0.9 0 1 0 1.8 0a0.9 0.9 0 1 0 -1.8 0M125.5 158.9a0.9 0.9 0 1 0 1.8 0a0.9 0.9 0 1 0 -1.8 0M130.1 120.9a0.9 0.9 0 1 0 1.8 0a0.9 0.9 0 1 0 -1.8 0M130.2 159.9a0.9 0.9 0 1 0 1.8 0a0.9 0.9 0 1 0 -1.8 0M124.9 163.6a0.9 0.9 0 1 0 1.8 0a0.9 0.9 0 1 0 -1.8 0M129.9 175.4a0.9 0.9 0 1 0 1.8 0a0.9 0.9 0 1 0 -1.8 0M132.4 166.9a0.9 0.9 0 1 0 1.8 0a0.9 0.9 0 1 0 -1.8 0M127.6 135.8a0.9 0.9 0 1 0 1.8 0a0.9 0.9 0 1 0 -1.8 0M132.6 170.6a0.9 0.9 0 1 0 1.8 0a0.9 0.9 0 1 0 -1.8 0M130.2 170a0.9 0.9 0 1 0 1.8 0a0.9 0.9 0 1 0 -1.8 0M127.7 156.1a0.9 0.9 0 1 0 1.8 0a0.9 0.9 0 1 0 -1.8 0M125.5 119.3a0.9 0.9 0 1 0 1.8 0a0.9 0.9 0 1 0 -1.8 0M132.6 150.9a0.9 0.9 0 1 0 1.8 0a0.9 0.9 0 1 0 -1.8 0M132.2 164.3a0.9 0.9 0 1 0 1.8 0a0.9 0.9 0 1 0 -1.8 0M122.7 160.5a0.9 0.9 0 1 0 1.8 0a0.9 0.9 0 1 0 -1.8 0M127.1 145.3a0.9 0.9 0 1 0 1.8 0a0.9 0.9 0 1 0 -1.8 0M125.3 151.5a0.9 0.9 0 1 0 1.8 0a0.9 0.9 0 1 0 -1.8 0M129.8 153a0.9 0.9 0 1 0 1.8 0a0.9 0.9 0 1 0 -1.8 0M130 162.8a0.9 0.9 0 1 0 1.8 0a0.9 0.9 0 1 0 -1.8 0M132.1 156.3a0.9 0.9 0 1 0 1.8 0a0.9 0.9 0 1 0 -1.8 0M125.2 134.3a0.9 0.9 0 1 0 1.8 0a0.9 0.9 0 1 0 -1.8 0M132.1 121.8a0.9 0.9 0 1 0 1.8 0a0.9 0.9 0 1 0 -1.8 0M127.2 156.6a0.9 0.9 0 1 0 1.8 0a0.9 0.9 0 1 0 -1.8 0M129.7 131.2a0.9 0.9 0 1 0 1.8 0a0.9 0.9 0 1 0 -1.8 0M132.4 152.2a0.9 0.9 0 1 0 1.8 0a0.9 0.9 0 1 0 -1.8 0M127.3 155.4a0.9 0.9 0 1 0 1.8 0a0.9 0.9 0 1 0 -1.8 0M124.8 189.3a0.9 0.9 0 1 0 1.8 0a0.9 0.9 0 1 0 -1.8 0M122.8 163.1a0.9 0.9 0 1 0 1.8 0a0.9 0.9 0 1 0 -1.8 0M123 163.9a0.9 0.9 0 1 0 1.8 0a0.9 0.9 0 1 0 -1.8 0M129.8 153.5a0.9 0.9 0 1 0 1.8 0a0.9 0.9 0 1 0 -1.8 0M184.4 203a0.9 0.9 0 1 0 1.8 0a0.9 0.9 0 1 0 -1.8 0M184.6 164.4a0.9 0.9 0 1 0 1.8 0a0.9 0.9 0 1 0 -1.8 0M184 161.8a0.9 0.9 0 1 0 1.8 0a0.9 0.9 0 1 0 -1.8 0M181.5 163.4a0.9 0.9 0 1 0 1.8 0a0.9 0.9 0 1 0 -1.8 0M184.3 173.9a0.9 0.9 0 1 0 1.8 0a0.9 0.9 0 1 0 -1.8 0M184.2 177.6a0.9 0.9 0 1 0 1.8 0a0.9 0.9 0 1 0 -1.8 0M186.4 164.9a0.9 0.9 0 1 0 1.8 0a0.9 0.9 0 1 0 -1.8 0M183.8 149.1a0.9 0.9 0 1 0 1.8 0a0.9 0.9 0 1 0 -1.8 0M184.3 167.7a0.9 0.9 0 1 0 1.8 0a0.9 0.9 0 1 0 -1.8 0M186.3 174a0.9 0.9 0 1 0 1.8 0a0.9 0.9 0 1 0 -1.8 0M183.9 145.1a0.9 0.9 0 1 0 1.8 0a0.9 0.9 0 1 0 -1.8 0M184.1 159.9a0.9 0.9 0 1 0 1.8 0a0.9 0.9 0 1 0 -1.8 0M181.9 176.1a0.9 0.9 0 1 0 1.8 0a0.9 0.9 0 1 0 -1.8 0M186.2 177.1a0.9 0.9 0 1 0 1.8 0a0.9 0.9 0 1 0 -1.8 0M181.4 165.7a0.9 0.9 0 1 0 1.8 0a0.9 0.9 0 1 0 -1.8 0M179.5 165.5a0.9 0.9 0 1 0 1.8 0a0.9 0.9 0 1 0 -1.8 0M181.5 167.8a0.9 0.9 0 1 0 1.8 0a0.9 0.9 0 1 0 -1.8 0M184.2 133.4a0.9 0.9 0 1 0 1.8 0a0.9 0.9 0 1 0 -1.8 0M186.8 160.9a0.9 0.9 0 1 0 1.8 0a0.9 0.9 0 1 0 -1.8 0M181.6 160.3a0.9 0.9 0 1 0 1.8 0a0.9 0.9 0 1 0 -1.8 0M182.1 179.2a0.9 0.9 0 1 0 1.8 0a0.9 0.9 0 1 0 -1.8 0M188.8 159.7a0.9 0.9 0 1 0 1.8 0a0.9 0.9 0 1 0 -1.8 0M183.9 147a0.9 0.9 0 1 0 1.8 0a0.9 0.9 0 1 0 -1.8 0M184.1 137.8a0.9 0.9 0 1 0 1.8 0a0.9 0.9 0 1 0 -1.8 0M184.2 152.7a0.9 0.9 0 1 0 1.8 0a0.9 0.9 0 1 0 -1.8 0M183.7 156.3a0.9 0.9 0 1 0 1.8 0a0.9 0.9 0 1 0 -1.8 0M181.4 172.6a0.9 0.9 0 1 0 1.8 0a0.9 0.9 0 1 0 -1.8 0M186.2 167.4a0.9 0.9 0 1 0 1.8 0a0.9 0.9 0 1 0 -1.8 0M179.6 159.7a0.9 0.9 0 1 0 1.8 0a0.9 0.9 0 1 0 -1.8 0M186.5 134.2a0.9 0.9 0 1 0 1.8 0a0.9 0.9 0 1 0 -1.8 0M179.4 160.8a0.9 0.9 0 1 0 1.8 0a0.9 0.9 0 1 0 -1.8 0M181.3 150a0.9 0.9 0 1 0 1.8 0a0.9 0.9 0 1 0 -1.8 0M184 172.1a0.9 0.9 0 1 0 1.8 0a0.9 0.9 0 1 0 -1.8 0M186.2 158.7a0.9 0.9 0 1 0 1.8 0a0.9 0.9 0 1 0 -1.8 0M188.5 168.1a0.9 0.9 0 1 0 1.8 0a0.9 0.9 0 1 0 -1.8 0M189.1 163.3a0.9 0.9 0 1 0 1.8 0a0.9 0.9 0 1 0 -1.8 0M189.4 173.3a0.9 0.9 0 1 0 1.8 0a0.9 0.9 0 1 0 -1.8 0M186.6 163.1a0.9 0.9 0 1 0 1.8 0a0.9 0.9 0 1 0 -1.8 0M183.7 129.2a0.9 0.9 0 1 0 1.8 0a0.9 0.9 0 1 0 -1.8 0M181.8 156.3a0.9 0.9 0 1 0 1.8 0a0.9 0.9 0 1 0 -1.8 0M184.2 160.6a0.9 0.9 0 1 0 1.8 0a0.9 0.9 0 1 0 -1.8 0M179.3 168a0.9 0.9 0 1 0 1.8 0a0.9 0.9 0 1 0 -1.8 0M184.4 168.3a0.9 0.9 0 1 0 1.8 0a0.9 0.9 0 1 0 -1.8 0M186.5 152.1a0.9 0.9 0 1 0 1.8 0a0.9 0.9 0 1 0 -1.8 0M186.8 179.2a0.9 0.9 0 1 0 1.8 0a0.9 0.9 0 1 0 -1.8 0M181.7 129.4a0.9 0.9 0 1 0 1.8 0a0.9 0.9 0 1 0 -1.8 0M179.7 159a0.9 0.9 0 1 0 1.8 0a0.9 0.9 0 1 0 -1.8 0M179.7 161.7a0.9 0.9 0 1 0 1.8 0a0.9 0.9 0 1 0 -1.8 0M188.9 175.1a0.9 0.9 0 1 0 1.8 0a0.9 0.9 0 1 0 -1.8 0M179.6 173.3a0.9 0.9 0 1 0 1.8 0a0.9 0.9 0 1 0 -1.8 0M186.8 169.2a0.9 0.9 0 1 0 1.8 0a0.9 0.9 0 1 0 -1.8 0M184.5 141.3a0.9 0.9 0 1 0 1.8 0a0.9 0.9 0 1 0 -1.8 0M184.4 183a0.9 0.9 0 1 0 1.8 0a0.9 0.9 0 1 0 -1.8 0M184 199a0.9 0.9 0 1 0 1.8 0a0.9 0.9 0 1 0 -1.8 0M186.4 160.4a0.9 0.9 0 1 0 1.8 0a0.9 0.9 0 1 0 -1.8 0M186.7 161a0.9 0.9 0 1 0 1.8 0a0.9 0.9 0 1 0 -1.8 0M186.9 171.6a0.9 0.9 0 1 0 1.8 0a0.9 0.9 0 1 0 -1.8 0M184.1 179.6a0.9 0.9 0 1 0 1.8 0a0.9 0.9 0 1 0 -1.8 0M186.3 139.4a0.9 0.9 0 1 0 1.8 0a0.9 0.9 0 1 0 -1.8 0M182 158.4a0.9 0.9 0 1 0 1.8 0a0.9 0.9 0 1 0 -1.8 0M182 147.8a0.9 0.9 0 1 0 1.8 0a0.9 0.9 0 1 0 -1.8 0M186.5 155.6a0.9 0.9 0 1 0 1.8 0a0.9 0.9 0 1 0 -1.8 0M181.4 152.7a0.9 0.9 0 1 0 1.8 0a0.9 0.9 0 1 0 -1.8 0M183.8 169.7a0.9 0.9 0 1 0 1.8 0a0.9 0.9 0 1 0 -1.8 0M189.1 171.6a0.9 0.9 0 1 0 1.8 0a0.9 0.9 0 1 0 -1.8 0M186.3 146.3a0.9 0.9 0 1 0 1.8 0a0.9 0.9 0 1 0 -1.8 0M179 167.8a0.9 0.9 0 1 0 1.8 0a0.9 0.9 0 1 0 -1.8 0M186.2 169a0.9 0.9 0 1 0 1.8 0a0.9 0.9 0 1 0 -1.8 0M189.1 167.7a0.9 0.9 0 1 0 1.8 0a0.9 0.9 0 1 0 -1.8 0M189.1 155.9a0.9 0.9 0 1 0 1.8 0a0.9 0.9 0 1 0 -1.8 0M181.5 140.2a0.9 0.9 0 1 0 1.8 0a0.9 0.9 0 1 0 -1.8 0M181.6 164.3a0.9 0.9 0 1 0 1.8 0a0.9 0.9 0 1 0 -1.8 0M188.9 152.3a0.9 0.9 0 1 0 1.8 0a0.9 0.9 0 1 0 -1.8 0M182.1 174.9a0.9 0.9 0 1 0 1.8 0a0.9 0.9 0 1 0 -1.8 0M181.5 145.8a0.9 0.9 0 1 0 1.8 0a0.9 0.9 0 1 0 -1.8 0M189.4 178.8a0.9 0.9 0 1 0 1.8 0a0.9 0.9 0 1 0 -1.8 0M186.8 148.6a0.9 0.9 0 1 0 1.8 0a0.9 0.9 0 1 0 -1.8 0M188.8 138.8a0.9 0.9 0 1 0 1.8 0a0.9 0.9 0 1 0 -1.8 0M189 144.9a0.9 0.9 0 1 0 1.8 0a0.9 0.9 0 1 0 -1.8 0M184.4 150.9a0.9 0.9 0 1 0 1.8 0a0.9 0.9 0 1 0 -1.8 0M184.3 167.3a0.9 0.9 0 1 0 1.8 0a0.9 0.9 0 1 0 -1.8 0M182 143.5a0.9 0.9 0 1 0 1.8 0a0.9 0.9 0 1 0 -1.8 0M183.9 195a0.9 0.9 0 1 0 1.8 0a0.9 0.9 0 1 0 -1.8 0M240.4 200.5a0.9 0.9 0 1 0 1.8 0a0.9 0.9 0 1 0 -1.8 0M240.8 180.6a0.9 0.9 0 1 0 1.8 0a0.9 0.9 0 1 0 -1.8 0M240.4 151.9a0.9 0.9 0 1 0 1.8 0a0.9 0.9 0 1 0 -1.8 0M240.7 173.5a0.9 0.9 0 1 0 1.8 0a0.9 0.9 0 1 0 -1.8 0M240.9 148.2a0.9 0.9 0 1 0 1.8 0a0.9 0.9 0 1 0 -1.8 0M241 192a0.9 0.9 0 1 0 1.8 0a0.9 0.9 0 1 0 -1.8 0M240.9 176.7a0.9 0.9 0 1 0 1.8 0a0.9 0.9 0 1 0 -1.8 0M240.5 164.3a0.9 0.9 0 1 0 1.8 0a0.9 0.9 0 1 0 -1.8 0M240.5 196.5a0.9 0.9 0 1 0 1.8 0a0.9 0.9 0 1 0 -1.8 0M243.3 193.2a0.9 0.9 0 1 0 1.8 0a0.9 0.9 0 1 0 -1.8 0M238.1 197.5a0.9 0.9 0 1 0 1.8 0a0.9 0.9 0 1 0 -1.8 0M238.6 162.7a0.9 0.9 0 1 0 1.8 0a0.9 0.9 0 1 0 -1.8 0M238.1 152a0.9 0.9 0 1 0 1.8 0a0.9 0.9 0 1 0 -1.8 0M243.1 176.8a0.9 0.9 0 1 0 1.8 0a0.9 0.9 0 1 0 -1.8 0M243.1 181a0.9 0.9 0 1 0 1.8 0a0.9 0.9 0 1 0 -1.8 0M243.4 153.3a0.9 0.9 0 1 0 1.8 0a0.9 0.9 0 1 0 -1.8 0M240.6 155.8a0.9 0.9 0 1 0 1.8 0a0.9 0.9 0 1 0 -1.8 0M238.1 190.5a0.9 0.9 0 1 0 1.8 0a0.9 0.9 0 1 0 -1.8 0M242.8 172.2a0.9 0.9 0 1 0 1.8 0a0.9 0.9 0 1 0 -1.8 0M240.6 185.5a0.9 0.9 0 1 0 1.8 0a0.9 0.9 0 1 0 -1.8 0M240.6 161.9a0.9 0.9 0 1 0 1.8 0a0.9 0.9 0 1 0 -1.8 0M240.5 171.6a0.9 0.9 0 1 0 1.8 0a0.9 0.9 0 1 0 -1.8 0M241.2 203.7a0.9 0.9 0 1 0 1.8 0a0.9 0.9 0 1 0 -1.8 0M243.4 162.2a0.9 0.9 0 1 0 1.8 0a0.9 0.9 0 1 0 -1.8 0M238.1 160.3a0.9 0.9 0 1 0 1.8 0a0.9 0.9 0 1 0 -1.8 0M240.7 144.7a0.9 0.9 0 1 0 1.8 0a0.9 0.9 0 1 0 -1.8 0M246 161.4a0.9 0.9 0 1 0 1.8 0a0.9 0.9 0 1 0 -1.8 0M235.7 161.7a0.9 0.9 0 1 0 1.8 0a0.9 0.9 0 1 0 -1.8 0M243.5 160.3a0.9 0.9 0 1 0 1.8 0a0.9 0.9 0 1 0 -1.8 0M238.7 181.6a0.9 0.9 0 1 0 1.8 0a0.9 0.9 0 1 0 -1.8 0M235.9 152.4a0.9 0.9 0 1 0 1.8 0a0.9 0.9 0 1 0 -1.8 0M238.1 173.3a0.9 0.9 0 1 0 1.8 0a0.9 0.9 0 1 0 -1.8 0M238.7 170.7a0.9 0.9 0 1 0 1.8 0a0.9 0.9 0 1 0 -1.8 0M241 183.4a0.9 0.9 0 1 0 1.8 0a0.9 0.9 0 1 0 -1.8 0M240.5 190a0.9 0.9 0 1 0 1.8 0a0.9 0.9 0 1 0 -1.8 0M241 168.2a0.9 0.9 0 1 0 1.8 0a0.9 0.9 0 1 0 -1.8 0M236 173.9a0.9 0.9 0 1 0 1.8 0a0.9 0.9 0 1 0 -1.8 0M240.4 194.4a0.9 0.9 0 1 0 1.8 0a0.9 0.9 0 1 0 -1.8 0M243.3 188.7a0.9 0.9 0 1 0 1.8 0a0.9 0.9 0 1 0 -1.8 0M238.4 177.3a0.9 0.9 0 1 0 1.8 0a0.9 0.9 0 1 0 -1.8 0M243.1 146.2a0.9 0.9 0 1 0 1.8 0a0.9 0.9 0 1 0 -1.8 0M238.8 185.2a0.9 0.9 0 1 0 1.8 0a0.9 0.9 0 1 0 -1.8 0M238.1 168.4a0.9 0.9 0 1 0 1.8 0a0.9 0.9 0 1 0 -1.8 0M243.3 185a0.9 0.9 0 1 0 1.8 0a0.9 0.9 0 1 0 -1.8 0M235.7 192a0.9 0.9 0 1 0 1.8 0a0.9 0.9 0 1 0 -1.8 0M243 150.9a0.9 0.9 0 1 0 1.8 0a0.9 0.9 0 1 0 -1.8 0M236.2 180.9a0.9 0.9 0 1 0 1.8 0a0.9 0.9 0 1 0 -1.8 0M242.9 168.3a0.9 0.9 0 1 0 1.8 0a0.9 0.9 0 1 0 -1.8 0M236.2 171.7a0.9 0.9 0 1 0 1.8 0a0.9 0.9 0 1 0 -1.8 0M240.8 187.3a0.9 0.9 0 1 0 1.8 0a0.9 0.9 0 1 0 -1.8 0M242.8 195.4a0.9 0.9 0 1 0 1.8 0a0.9 0.9 0 1 0 -1.8 0M236.3 183.5a0.9 0.9 0 1 0 1.8 0a0.9 0.9 0 1 0 -1.8 0M243.5 200.4a0.9 0.9 0 1 0 1.8 0a0.9 0.9 0 1 0 -1.8 0M245.7 181.6a0.9 0.9 0 1 0 1.8 0a0.9 0.9 0 1 0 -1.8 0M236.4 169.7a0.9 0.9 0 1 0 1.8 0a0.9 0.9 0 1 0 -1.8 0M242.8 203.7a0.9 0.9 0 1 0 1.8 0a0.9 0.9 0 1 0 -1.8 0M246 163.3a0.9 0.9 0 1 0 1.8 0a0.9 0.9 0 1 0 -1.8 0M245.3 171.6a0.9 0.9 0 1 0 1.8 0a0.9 0.9 0 1 0 -1.8 0M240.5 173.2a0.9 0.9 0 1 0 1.8 0a0.9 0.9 0 1 0 -1.8 0M245.9 169a0.9 0.9 0 1 0 1.8 0a0.9 0.9 0 1 0 -1.8 0M238.1 168.8a0.9 0.9 0 1 0 1.8 0a0.9 0.9 0 1 0 -1.8 0M243.5 182.7a0.9 0.9 0 1 0 1.8 0a0.9 0.9 0 1 0 -1.8 0M238.1 179.5a0.9 0.9 0 1 0 1.8 0a0.9 0.9 0 1 0 -1.8 0M238.8 188.7a0.9 0.9 0 1 0 1.8 0a0.9 0.9 0 1 0 -1.8 0M245.3 182.5a0.9 0.9 0 1 0 1.8 0a0.9 0.9 0 1 0 -1.8 0M245.4 185.1a0.9 0.9 0 1 0 1.8 0a0.9 0.9 0 1 0 -1.8 0M236.3 186.1a0.9 0.9 0 1 0 1.8 0a0.9 0.9 0 1 0 -1.8 0M243.2 174a0.9 0.9 0 1 0 1.8 0a0.9 0.9 0 1 0 -1.8 0M235.6 160.3a0.9 0.9 0 1 0 1.8 0a0.9 0.9 0 1 0 -1.8 0M236.1 186.4a0.9 0.9 0 1 0 1.8 0a0.9 0.9 0 1 0 -1.8 0M238.5 148.9a0.9 0.9 0 1 0 1.8 0a0.9 0.9 0 1 0 -1.8 0M241.1 182.2a0.9 0.9 0 1 0 1.8 0a0.9 0.9 0 1 0 -1.8 0M238.7 155.6a0.9 0.9 0 1 0 1.8 0a0.9 0.9 0 1 0 -1.8 0M235.7 185.5a0.9 0.9 0 1 0 1.8 0a0.9 0.9 0 1 0 -1.8 0M238 186.3a0.9 0.9 0 1 0 1.8 0a0.9 0.9 0 1 0 -1.8 0M243.1 170.1a0.9 0.9 0 1 0 1.8 0a0.9 0.9 0 1 0 -1.8 0M238.1 160.3a0.9 0.9 0 1 0 1.8 0a0.9 0.9 0 1 0 -1.8 0M242.8 156.7a0.9 0.9 0 1 0 1.8 0a0.9 0.9 0 1 0 -1.8 0M242.9 184.3a0.9 0.9 0 1 0 1.8 0a0.9 0.9 0 1 0 -1.8 0M240.8 180a0.9 0.9 0 1 0 1.8 0a0.9 0.9 0 1 0 -1.8 0M242.9 182a0.9 0.9 0 1 0 1.8 0a0.9 0.9 0 1 0 -1.8 0M236.4 189.8a0.9 0.9 0 1 0 1.8 0a0.9 0.9 0 1 0 -1.8 0M245.5 174a0.9 0.9 0 1 0 1.8 0a0.9 0.9 0 1 0 -1.8 0M297.5 187.1a0.9 0.9 0 1 0 1.8 0a0.9 0.9 0 1 0 -1.8 0M297.7 178.6a0.9 0.9 0 1 0 1.8 0a0.9 0.9 0 1 0 -1.8 0M297.2 164.1a0.9 0.9 0 1 0 1.8 0a0.9 0.9 0 1 0 -1.8 0M297.7 176.9a0.9 0.9 0 1 0 1.8 0a0.9 0.9 0 1 0 -1.8 0M297.7 160.9a0.9 0.9 0 1 0 1.8 0a0.9 0.9 0 1 0 -1.8 0M297.8 174.2a0.9 0.9 0 1 0 1.8 0a0.9 0.9 0 1 0 -1.8 0M297.8 167.7a0.9 0.9 0 1 0 1.8 0a0.9 0.9 0 1 0 -1.8 0M299.9 168.4a0.9 0.9 0 1 0 1.8 0a0.9 0.9 0 1 0 -1.8 0M297.5 192.5a0.9 0.9 0 1 0 1.8 0a0.9 0.9 0 1 0 -1.8 0M297.9 158.2a0.9 0.9 0 1 0 1.8 0a0.9 0.9 0 1 0 -1.8 0M297.6 181.6a0.9 0.9 0 1 0 1.8 0a0.9 0.9 0 1 0 -1.8 0M294.7 175a0.9 0.9 0 1 0 1.8 0a0.9 0.9 0 1 0 -1.8 0M294.8 179.6a0.9 0.9 0 1 0 1.8 0a0.9 0.9 0 1 0 -1.8 0M300 174.3a0.9 0.9 0 1 0 1.8 0a0.9 0.9 0 1 0 -1.8 0M300.1 176.4a0.9 0.9 0 1 0 1.8 0a0.9 0.9 0 1 0 -1.8 0M297 184.8a0.9 0.9 0 1 0 1.8 0a0.9 0.9 0 1 0 -1.8 0M300 180.6a0.9 0.9 0 1 0 1.8 0a0.9 0.9 0 1 0 -1.8 0M294.9 183.8a0.9 0.9 0 1 0 1.8 0a0.9 0.9 0 1 0 -1.8 0M297.2 225.7a0.9 0.9 0 1 0 1.8 0a0.9 0.9 0 1 0 -1.8 0M299.4 187.2a0.9 0.9 0 1 0 1.8 0a0.9 0.9 0 1 0 -1.8 0M294.9 176.9a0.9 0.9 0 1 0 1.8 0a0.9 0.9 0 1 0 -1.8 0M300 157.8a0.9 0.9 0 1 0 1.8 0a0.9 0.9 0 1 0 -1.8 0M295.2 169.3a0.9 0.9 0 1 0 1.8 0a0.9 0.9 0 1 0 -1.8 0M302.5 181.2a0.9 0.9 0 1 0 1.8 0a0.9 0.9 0 1 0 -1.8 0M295.2 188.5a0.9 0.9 0 1 0 1.8 0a0.9 0.9 0 1 0 -1.8 0M297.1 170.5a0.9 0.9 0 1 0 1.8 0a0.9 0.9 0 1 0 -1.8 0M300.1 165.1a0.9 0.9 0 1 0 1.8 0a0.9 0.9 0 1 0 -1.8 0M295.3 159.9a0.9 0.9 0 1 0 1.8 0a0.9 0.9 0 1 0 -1.8 0M299.9 184.7a0.9 0.9 0 1 0 1.8 0a0.9 0.9 0 1 0 -1.8 0M297.5 145.7a0.9 0.9 0 1 0 1.8 0a0.9 0.9 0 1 0 -1.8 0M297.2 149.8a0.9 0.9 0 1 0 1.8 0a0.9 0.9 0 1 0 -1.8 0M297.5 155.8a0.9 0.9 0 1 0 1.8 0a0.9 0.9 0 1 0 -1.8 0M301.8 168.8a0.9 0.9 0 1 0 1.8 0a0.9 0.9 0 1 0 -1.8 0M302.6 187.6a0.9 0.9 0 1 0 1.8 0a0.9 0.9 0 1 0 -1.8 0M302.1 173.3a0.9 0.9 0 1 0 1.8 0a0.9 0.9 0 1 0 -1.8 0M297.5 196.4a0.9 0.9 0 1 0 1.8 0a0.9 0.9 0 1 0 -1.8 0M297.8 188.9a0.9 0.9 0 1 0 1.8 0a0.9 0.9 0 1 0 -1.8 0M299.4 189.2a0.9 0.9 0 1 0 1.8 0a0.9 0.9 0 1 0 -1.8 0M292.2 174a0.9 0.9 0 1 0 1.8 0a0.9 0.9 0 1 0 -1.8 0M300.2 162.1a0.9 0.9 0 1 0 1.8 0a0.9 0.9 0 1 0 -1.8 0M295.1 163.2a0.9 0.9 0 1 0 1.8 0a0.9 0.9 0 1 0 -1.8 0M302.2 176.2a0.9 0.9 0 1 0 1.8 0a0.9 0.9 0 1 0 -1.8 0M293.1 173.3a0.9 0.9 0 1 0 1.8 0a0.9 0.9 0 1 0 -1.8 0M295.5 144.7a0.9 0.9 0 1 0 1.8 0a0.9 0.9 0 1 0 -1.8 0M292.2 161.7a0.9 0.9 0 1 0 1.8 0a0.9 0.9 0 1 0 -1.8 0M300.1 171a0.9 0.9 0 1 0 1.8 0a0.9 0.9 0 1 0 -1.8 0M300.3 191.6a0.9 0.9 0 1 0 1.8 0a0.9 0.9 0 1 0 -1.8 0M292.5 188.3a0.9 0.9 0 1 0 1.8 0a0.9 0.9 0 1 0 -1.8 0M302.2 179.4a0.9 0.9 0 1 0 1.8 0a0.9 0.9 0 1 0 -1.8 0M301.9 164.8a0.9 0.9 0 1 0 1.8 0a0.9 0.9 0 1 0 -1.8 0M301.9 183a0.9 0.9 0 1 0 1.8 0a0.9 0.9 0 1 0 -1.8 0M302.5 162.4a0.9 0.9 0 1 0 1.8 0a0.9 0.9 0 1 0 -1.8 0M294.7 192.8a0.9 0.9 0 1 0 1.8 0a0.9 0.9 0 1 0 -1.8 0M300 154.6a0.9 0.9 0 1 0 1.8 0a0.9 0.9 0 1 0 -1.8 0M299.8 197.3a0.9 0.9 0 1 0 1.8 0a0.9 0.9 0 1 0 -1.8 0M292.9 183.9a0.9 0.9 0 1 0 1.8 0a0.9 0.9 0 1 0 -1.8 0M295.4 149.2a0.9 0.9 0 1 0 1.8 0a0.9 0.9 0 1 0 -1.8 0M297.8 153a0.9 0.9 0 1 0 1.8 0a0.9 0.9 0 1 0 -1.8 0M299.6 193.7a0.9 0.9 0 1 0 1.8 0a0.9 0.9 0 1 0 -1.8 0M292.4 175.8a0.9 0.9 0 1 0 1.8 0a0.9 0.9 0 1 0 -1.8 0M295.2 157.2a0.9 0.9 0 1 0 1.8 0a0.9 0.9 0 1 0 -1.8 0M302 193.5a0.9 0.9 0 1 0 1.8 0a0.9 0.9 0 1 0 -1.8 0M292.4 191.6a0.9 0.9 0 1 0 1.8 0a0.9 0.9 0 1 0 -1.8 0M294.9 153.7a0.9 0.9 0 1 0 1.8 0a0.9 0.9 0 1 0 -1.8 0M302.2 177.4a0.9 0.9 0 1 0 1.8 0a0.9 0.9 0 1 0 -1.8 0M302.1 183.8a0.9 0.9 0 1 0 1.8 0a0.9 0.9 0 1 0 -1.8 0M297.7 199.4a0.9 0.9 0 1 0 1.8 0a0.9 0.9 0 1 0 -1.8 0M299.5 182.9a0.9 0.9 0 1 0 1.8 0a0.9 0.9 0 1 0 -1.8 0M297.2 177a0.9 0.9 0 1 0 1.8 0a0.9 0.9 0 1 0 -1.8 0M300 178.3a0.9 0.9 0 1 0 1.8 0a0.9 0.9 0 1 0 -1.8 0M295.4 177.1a0.9 0.9 0 1 0 1.8 0a0.9 0.9 0 1 0 -1.8 0M297.7 161.8a0.9 0.9 0 1 0 1.8 0a0.9 0.9 0 1 0 -1.8 0M294.6 171.9a0.9 0.9 0 1 0 1.8 0a0.9 0.9 0 1 0 -1.8 0M292.6 180.6a0.9 0.9 0 1 0 1.8 0a0.9 0.9 0 1 0 -1.8 0M302.5 163a0.9 0.9 0 1 0 1.8 0a0.9 0.9 0 1 0 -1.8 0M297.4 210a0.9 0.9 0 1 0 1.8 0a0.9 0.9 0 1 0 -1.8 0M299.4 152.4a0.9 0.9 0 1 0 1.8 0a0.9 0.9 0 1 0 -1.8 0M294.7 198.4a0.9 0.9 0 1 0 1.8 0a0.9 0.9 0 1 0 -1.8 0M299.9 187a0.9 0.9 0 1 0 1.8 0a0.9 0.9 0 1 0 -1.8 0M302.7 191.2a0.9 0.9 0 1 0 1.8 0a0.9 0.9 0 1 0 -1.8 0M300.1 199.4a0.9 0.9 0 1 0 1.8 0a0.9 0.9 0 1 0 -1.8 0M295.4 165.6a0.9 0.9 0 1 0 1.8 0a0.9 0.9 0 1 0 -1.8 0M299.9 149a0.9 0.9 0 1 0 1.8 0a0.9 0.9 0 1 0 -1.8 0M354.1 119a0.9 0.9 0 1 0 1.8 0a0.9 0.9 0 1 0 -1.8 0M354 96.9a0.9 0.9 0 1 0 1.8 0a0.9 0.9 0 1 0 -1.8 0M354.5 130a0.9 0.9 0 1 0 1.8 0a0.9 0.9 0 1 0 -1.8 0M354 157.8a0.9 0.9 0 1 0 1.8 0a0.9 0.9 0 1 0 -1.8 0M354 116a0.9 0.9 0 1 0 1.8 0a0.9 0.9 0 1 0 -1.8 0M354.5 89.7a0.9 0.9 0 1 0 1.8 0a0.9 0.9 0 1 0 -1.8 0M351.3 119.1a0.9 0.9 0 1 0 1.8 0a0.9 0.9 0 1 0 -1.8 0M354.3 132.7a0.9 0.9 0 1 0 1.8 0a0.9 0.9 0 1 0 -1.8 0M356.6 118.3a0.9 0.9 0 1 0 1.8 0a0.9 0.9 0 1 0 -1.8 0M354.2 93.8a0.9 0.9 0 1 0 1.8 0a0.9 0.9 0 1 0 -1.8 0M354.1 112.6a0.9 0.9 0 1 0 1.8 0a0.9 0.9 0 1 0 -1.8 0M354 138.4a0.9 0.9 0 1 0 1.8 0a0.9 0.9 0 1 0 -1.8 0M358.7 118.7a0.9 0.9 0 1 0 1.8 0a0.9 0.9 0 1 0 -1.8 0M351.8 114.4a0.9 0.9 0 1 0 1.8 0a0.9 0.9 0 1 0 -1.8 0M354 105.6a0.9 0.9 0 1 0 1.8 0a0.9 0.9 0 1 0 -1.8 0M354.2 141.6a0.9 0.9 0 1 0 1.8 0a0.9 0.9 0 1 0 -1.8 0M356.7 113.8a0.9 0.9 0 1 0 1.8 0a0.9 0.9 0 1 0 -1.8 0M354.2 100.7a0.9 0.9 0 1 0 1.8 0a0.9 0.9 0 1 0 -1.8 0M351.7 134a0.9 0.9 0 1 0 1.8 0a0.9 0.9 0 1 0 -1.8 0M351.3 101.4a0.9 0.9 0 1 0 1.8 0a0.9 0.9 0 1 0 -1.8 0M354 109.7a0.9 0.9 0 1 0 1.8 0a0.9 0.9 0 1 0 -1.8 0M356.4 111.6a0.9 0.9 0 1 0 1.8 0a0.9 0.9 0 1 0 -1.8 0M349.1 113.1a0.9 0.9 0 1 0 1.8 0a0.9 0.9 0 1 0 -1.8 0M349.2 115.4a0.9 0.9 0 1 0 1.8 0a0.9 0.9 0 1 0 -1.8 0M351.6 112.6a0.9 0.9 0 1 0 1.8 0a0.9 0.9 0 1 0 -1.8 0M354.2 127.8a0.9 0.9 0 1 0 1.8 0a0.9 0.9 0 1 0 -1.8 0M351.9 105.7a0.9 0.9 0 1 0 1.8 0a0.9 0.9 0 1 0 -1.8 0M356.7 99.7a0.9 0.9 0 1 0 1.8 0a0.9 0.9 0 1 0 -1.8 0M356.6 120.3a0.9 0.9 0 1 0 1.8 0a0.9 0.9 0 1 0 -1.8 0M353.7 77.1a0.9 0.9 0 1 0 1.8 0a0.9 0.9 0 1 0 -1.8 0M356.8 137a0.9 0.9 0 1 0 1.8 0a0.9 0.9 0 1 0 -1.8 0M354.3 71.7a0.9 0.9 0 1 0 1.8 0a0.9 0.9 0 1 0 -1.8 0M353.8 83.9a0.9 0.9 0 1 0 1.8 0a0.9 0.9 0 1 0 -1.8 0M354.5 196a0.9 0.9 0 1 0 1.8 0a0.9 0.9 0 1 0 -1.8 0M354.4 102.5a0.9 0.9 0 1 0 1.8 0a0.9 0.9 0 1 0 -1.8 0M351.4 72.1a0.9 0.9 0 1 0 1.8 0a0.9 0.9 0 1 0 -1.8 0M351.3 137.3a0.9 0.9 0 1 0 1.8 0a0.9 0.9 0 1 0 -1.8 0M351.3 117.3a0.9 0.9 0 1 0 1.8 0a0.9 0.9 0 1 0 -1.8 0M356.8 140.3a0.9 0.9 0 1 0 1.8 0a0.9 0.9 0 1 0 -1.8 0M351.3 98.1a0.9 0.9 0 1 0 1.8 0a0.9 0.9 0 1 0 -1.8 0M356.8 115.9a0.9 0.9 0 1 0 1.8 0a0.9 0.9 0 1 0 -1.8 0M356.4 88.7a0.9 0.9 0 1 0 1.8 0a0.9 0.9 0 1 0 -1.8 0M351.7 126.5a0.9 0.9 0 1 0 1.8 0a0.9 0.9 0 1 0 -1.8 0M356.3 95.6a0.9 0.9 0 1 0 1.8 0a0.9 0.9 0 1 0 -1.8 0M354.3 143.8a0.9 0.9 0 1 0 1.8 0a0.9 0.9 0 1 0 -1.8 0M356.9 104.2a0.9 0.9 0 1 0 1.8 0a0.9 0.9 0 1 0 -1.8 0M356.6 128a0.9 0.9 0 1 0 1.8 0a0.9 0.9 0 1 0 -1.8 0M356.4 93.1a0.9 0.9 0 1 0 1.8 0a0.9 0.9 0 1 0 -1.8 0M354.1 74.7a0.9 0.9 0 1 0 1.8 0a0.9 0.9 0 1 0 -1.8 0M351.7 141.8a0.9 0.9 0 1 0 1.8 0a0.9 0.9 0 1 0 -1.8 0M354.1 122.2a0.9 0.9 0 1 0 1.8 0a0.9 0.9 0 1 0 -1.8 0M356.3 107.1a0.9 0.9 0 1 0 1.8 0a0.9 0.9 0 1 0 -1.8 0M356.7 77.8a0.9 0.9 0 1 0 1.8 0a0.9 0.9 0 1 0 -1.8 0M354.1 124.4a0.9 0.9 0 1 0 1.8 0a0.9 0.9 0 1 0 -1.8 0M349.1 128.2a0.9 0.9 0 1 0 1.8 0a0.9 0.9 0 1 0 -1.8 0M354.1 168a0.9 0.9 0 1 0 1.8 0a0.9 0.9 0 1 0 -1.8 0M354.3 98.8a0.9 0.9 0 1 0 1.8 0a0.9 0.9 0 1 0 -1.8 0M356.7 134.2a0.9 0.9 0 1 0 1.8 0a0.9 0.9 0 1 0 -1.8 0M349.3 117.9a0.9 0.9 0 1 0 1.8 0a0.9 0.9 0 1 0 -1.8 0M354.5 197.8a0.9 0.9 0 1 0 1.8 0a0.9 0.9 0 1 0 -1.8 0M358.5 116a0.9 0.9 0 1 0 1.8 0a0.9 0.9 0 1 0 -1.8 0M358.9 140.7a0.9 0.9 0 1 0 1.8 0a0.9 0.9 0 1 0 -1.8 0M349.2 100.1a0.9 0.9 0 1 0 1.8 0a0.9 0.9 0 1 0 -1.8 0M356.9 129.9a0.9 0.9 0 1 0 1.8 0a0.9 0.9 0 1 0 -1.8 0M356.9 143.8a0.9 0.9 0 1 0 1.8 0a0.9 0.9 0 1 0 -1.8 0M349.3 120a0.9 0.9 0 1 0 1.8 0a0.9 0.9 0 1 0 -1.8 0M349.7 106.7a0.9 0.9 0 1 0 1.8 0a0.9 0.9 0 1 0 -1.8 0M359.2 104.7a0.9 0.9 0 1 0 1.8 0a0.9 0.9 0 1 0 -1.8 0M349.2 104.9a0.9 0.9 0 1 0 1.8 0a0.9 0.9 0 1 0 -1.8 0M359 100.8a0.9 0.9 0 1 0 1.8 0a0.9 0.9 0 1 0 -1.8 0M352 95.5a0.9 0.9 0 1 0 1.8 0a0.9 0.9 0 1 0 -1.8 0M351.5 128.3a0.9 0.9 0 1 0 1.8 0a0.9 0.9 0 1 0 -1.8 0M349.4 140.6a0.9 0.9 0 1 0 1.8 0a0.9 0.9 0 1 0 -1.8 0M349 99.5a0.9 0.9 0 1 0 1.8 0a0.9 0.9 0 1 0 -1.8 0M356.7 73.8a0.9 0.9 0 1 0 1.8 0a0.9 0.9 0 1 0 -1.8 0M354.3 120.1a0.9 0.9 0 1 0 1.8 0a0.9 0.9 0 1 0 -1.8 0M354 178a0.9 0.9 0 1 0 1.8 0a0.9 0.9 0 1 0 -1.8 0M359 113.7a0.9 0.9 0 1 0 1.8 0a0.9 0.9 0 1 0 -1.8 0M356.6 132.3a0.9 0.9 0 1 0 1.8 0a0.9 0.9 0 1 0 -1.8 0M349.3 116.1a0.9 0.9 0 1 0 1.8 0a0.9 0.9 0 1 0 -1.8 0M351.7 92.4a0.9 0.9 0 1 0 1.8 0a0.9 0.9 0 1 0 -1.8 0M358.6 129.5a0.9 0.9 0 1 0 1.8 0a0.9 0.9 0 1 0 -1.8 0M359.3 106.4a0.9 0.9 0 1 0 1.8 0a0.9 0.9 0 1 0 -1.8 0M410.8 111.4a0.9 0.9 0 1 0 1.8 0a0.9 0.9 0 1 0 -1.8 0M411 124.4a0.9 0.9 0 1 0 1.8 0a0.9 0.9 0 1 0 -1.8 0M410.7 101.7a0.9 0.9 0 1 0 1.8 0a0.9 0.9 0 1 0 -1.8 0M411.2 108.8a0.9 0.9 0 1 0 1.8 0a0.9 0.9 0 1 0 -1.8 0M410.8 118.1a0.9 0.9 0 1 0 1.8 0a0.9 0.9 0 1 0 -1.8 0M408.6 125.6a0.9 0.9 0 1 0 1.8 0a0.9 0.9 0 1 0 -1.8 0M410.6 83a0.9 0.9 0 1 0 1.8 0a0.9 0.9 0 1 0 -1.8 0M412.9 111.3a0.9 0.9 0 1 0 1.8 0a0.9 0.9 0 1 0 -1.8 0M410.9 127.2a0.9 0.9 0 1 0 1.8 0a0.9 0.9 0 1 0 -1.8 0M408.6 123.7a0.9 0.9 0 1 0 1.8 0a0.9 0.9 0 1 0 -1.8 0M411.1 145.5a0.9 0.9 0 1 0 1.8 0a0.9 0.9 0 1 0 -1.8 0M410.6 89.8a0.9 0.9 0 1 0 1.8 0a0.9 0.9 0 1 0 -1.8 0M410.5 133.5a0.9 0.9 0 1 0 1.8 0a0.9 0.9 0 1 0 -1.8 0M410.6 97.6a0.9 0.9 0 1 0 1.8 0a0.9 0.9 0 1 0 -1.8 0M408.1 118.4a0.9 0.9 0 1 0 1.8 0a0.9 0.9 0 1 0 -1.8 0M408.1 98.1a0.9 0.9 0 1 0 1.8 0a0.9 0.9 0 1 0 -1.8 0M408.1 110.4a0.9 0.9 0 1 0 1.8 0a0.9 0.9 0 1 0 -1.8 0M413.5 98.8a0.9 0.9 0 1 0 1.8 0a0.9 0.9 0 1 0 -1.8 0M411.1 131.5a0.9 0.9 0 1 0 1.8 0a0.9 0.9 0 1 0 -1.8 0M410.9 103.7a0.9 0.9 0 1 0 1.8 0a0.9 0.9 0 1 0 -1.8 0M410.3 158.4a0.9 0.9 0 1 0 1.8 0a0.9 0.9 0 1 0 -1.8 0M413.6 117.1a0.9 0.9 0 1 0 1.8 0a0.9 0.9 0 1 0 -1.8 0M406.3 111.5a0.9 0.9 0 1 0 1.8 0a0.9 0.9 0 1 0 -1.8 0M408.1 103.2a0.9 0.9 0 1 0 1.8 0a0.9 0.9 0 1 0 -1.8 0M410.6 136a0.9 0.9 0 1 0 1.8 0a0.9 0.9 0 1 0 -1.8 0M408.2 100.4a0.9 0.9 0 1 0 1.8 0a0.9 0.9 0 1 0 -1.8 0M406 117.4a0.9 0.9 0 1 0 1.8 0a0.9 0.9 0 1 0 -1.8 0M408.3 134.2a0.9 0.9 0 1 0 1.8 0a0.9 0.9 0 1 0 -1.8 0M415.7 110.3a0.9 0.9 0 1 0 1.8 0a0.9 0.9 0 1 0 -1.8 0M413.3 104.8a0.9 0.9 0 1 0 1.8 0a0.9 0.9 0 1 0 -1.8 0M411.2 154a0.9 0.9 0 1 0 1.8 0a0.9 0.9 0 1 0 -1.8 0M413.3 103a0.9 0.9 0 1 0 1.8 0a0.9 0.9 0 1 0 -1.8 0M413 124a0.9 0.9 0 1 0 1.8 0a0.9 0.9 0 1 0 -1.8 0M413.3 126.6a0.9 0.9 0 1 0 1.8 0a0.9 0.9 0 1 0 -1.8 0M410.6 190.7a0.9 0.9 0 1 0 1.8 0a0.9 0.9 0 1 0 -1.8 0M415.7 97.8a0.9 0.9 0 1 0 1.8 0a0.9 0.9 0 1 0 -1.8 0M410.7 78a0.9 0.9 0 1 0 1.8 0a0.9 0.9 0 1 0 -1.8 0M413.4 110.2a0.9 0.9 0 1 0 1.8 0a0.9 0.9 0 1 0 -1.8 0M410.9 120.9a0.9 0.9 0 1 0 1.8 0a0.9 0.9 0 1 0 -1.8 0M415.6 117.9a0.9 0.9 0 1 0 1.8 0a0.9 0.9 0 1 0 -1.8 0M410.5 207.3a0.9 0.9 0 1 0 1.8 0a0.9 0.9 0 1 0 -1.8 0M408.2 116.6a0.9 0.9 0 1 0 1.8 0a0.9 0.9 0 1 0 -1.8 0M416 103.3a0.9 0.9 0 1 0 1.8 0a0.9 0.9 0 1 0 -1.8 0M412.8 90.9a0.9 0.9 0 1 0 1.8 0a0.9 0.9 0 1 0 -1.8 0M413.6 128.4a0.9 0.9 0 1 0 1.8 0a0.9 0.9 0 1 0 -1.8 0M408.1 112.9a0.9 0.9 0 1 0 1.8 0a0.9 0.9 0 1 0 -1.8 0M405.5 99.3a0.9 0.9 0 1 0 1.8 0a0.9 0.9 0 1 0 -1.8 0M405.6 126.3a0.9 0.9 0 1 0 1.8 0a0.9 0.9 0 1 0 -1.8 0M411 122.7a0.9 0.9 0 1 0 1.8 0a0.9 0.9 0 1 0 -1.8 0M412.9 122a0.9 0.9 0 1 0 1.8 0a0.9 0.9 0 1 0 -1.8 0M410.9 117.4a0.9 0.9 0 1 0 1.8 0a0.9 0.9 0 1 0 -1.8 0M408 88.7a0.9 0.9 0 1 0 1.8 0a0.9 0.9 0 1 0 -1.8 0M408.8 128.3a0.9 0.9 0 1 0 1.8 0a0.9 0.9 0 1 0 -1.8 0M413.5 96.9a0.9 0.9 0 1 0 1.8 0a0.9 0.9 0 1 0 -1.8 0M415.5 112.4a0.9 0.9 0 1 0 1.8 0a0.9 0.9 0 1 0 -1.8 0M411 113.7a0.9 0.9 0 1 0 1.8 0a0.9 0.9 0 1 0 -1.8 0M413.6 113a0.9 0.9 0 1 0 1.8 0a0.9 0.9 0 1 0 -1.8 0M415.3 122.9a0.9 0.9 0 1 0 1.8 0a0.9 0.9 0 1 0 -1.8 0M410.7 216.4a0.9 0.9 0 1 0 1.8 0a0.9 0.9 0 1 0 -1.8 0M408 116.8a0.9 0.9 0 1 0 1.8 0a0.9 0.9 0 1 0 -1.8 0M408 120.7a0.9 0.9 0 1 0 1.8 0a0.9 0.9 0 1 0 -1.8 0M405.8 128.7a0.9 0.9 0 1 0 1.8 0a0.9 0.9 0 1 0 -1.8 0M405.9 116.9a0.9 0.9 0 1 0 1.8 0a0.9 0.9 0 1 0 -1.8 0M413.4 134.3a0.9 0.9 0 1 0 1.8 0a0.9 0.9 0 1 0 -1.8 0M413.4 98.7a0.9 0.9 0 1 0 1.8 0a0.9 0.9 0 1 0 -1.8 0M408.5 112.7a0.9 0.9 0 1 0 1.8 0a0.9 0.9 0 1 0 -1.8 0M405.7 98.3a0.9 0.9 0 1 0 1.8 0a0.9 0.9 0 1 0 -1.8 0M410.5 72.9a0.9 0.9 0 1 0 1.8 0a0.9 0.9 0 1 0 -1.8 0M405.7 122.9a0.9 0.9 0 1 0 1.8 0a0.9 0.9 0 1 0 -1.8 0M405.7 113.6a0.9 0.9 0 1 0 1.8 0a0.9 0.9 0 1 0 -1.8 0M406 96.8a0.9 0.9 0 1 0 1.8 0a0.9 0.9 0 1 0 -1.8 0M410.8 92.3a0.9 0.9 0 1 0 1.8 0a0.9 0.9 0 1 0 -1.8 0M415.4 125.5a0.9 0.9 0 1 0 1.8 0a0.9 0.9 0 1 0 -1.8 0M415.9 123.1a0.9 0.9 0 1 0 1.8 0a0.9 0.9 0 1 0 -1.8 0M413 119a0.9 0.9 0 1 0 1.8 0a0.9 0.9 0 1 0 -1.8 0M405.7 120.3a0.9 0.9 0 1 0 1.8 0a0.9 0.9 0 1 0 -1.8 0M413 132.3a0.9 0.9 0 1 0 1.8 0a0.9 0.9 0 1 0 -1.8 0M415.6 126.4a0.9 0.9 0 1 0 1.8 0a0.9 0.9 0 1 0 -1.8 0M411 94.2a0.9 0.9 0 1 0 1.8 0a0.9 0.9 0 1 0 -1.8 0M415.8 120.8a0.9 0.9 0 1 0 1.8 0a0.9 0.9 0 1 0 -1.8 0M415.6 128.8a0.9 0.9 0 1 0 1.8 0a0.9 0.9 0 1 0 -1.8 0M412.7 127.1a0.9 0.9 0 1 0 1.8 0a0.9 0.9 0 1 0 -1.8 0M408.7 127.4a0.9 0.9 0 1 0 1.8 0a0.9 0.9 0 1 0 -1.8 0M467.5 118.2a0.9 0.9 0 1 0 1.8 0a0.9 0.9 0 1 0 -1.8 0M467 140.6a0.9 0.9 0 1 0 1.8 0a0.9 0.9 0 1 0 -1.8 0M467.7 122a0.9 0.9 0 1 0 1.8 0a0.9 0.9 0 1 0 -1.8 0M467.5 113a0.9 0.9 0 1 0 1.8 0a0.9 0.9 0 1 0 -1.8 0M467.5 129.3a0.9 0.9 0 1 0 1.8 0a0.9 0.9 0 1 0 -1.8 0M467.2 177.3a0.9 0.9 0 1 0 1.8 0a0.9 0.9 0 1 0 -1.8 0M469.6 112a0.9 0.9 0 1 0 1.8 0a0.9 0.9 0 1 0 -1.8 0M469.9 140.3a0.9 0.9 0 1 0 1.8 0a0.9 0.9 0 1 0 -1.8 0M467.2 124.5a0.9 0.9 0 1 0 1.8 0a0.9 0.9 0 1 0 -1.8 0M469.8 128.5a0.9 0.9 0 1 0 1.8 0a0.9 0.9 0 1 0 -1.8 0M465.4 114.1a0.9 0.9 0 1 0 1.8 0a0.9 0.9 0 1 0 -1.8 0M464.8 111.3a0.9 0.9 0 1 0 1.8 0a0.9 0.9 0 1 0 -1.8 0M467.7 132.7a0.9 0.9 0 1 0 1.8 0a0.9 0.9 0 1 0 -1.8 0M467.5 135.2a0.9 0.9 0 1 0 1.8 0a0.9 0.9 0 1 0 -1.8 0M467.4 149.3a0.9 0.9 0 1 0 1.8 0a0.9 0.9 0 1 0 -1.8 0M467.3 106.8a0.9 0.9 0 1 0 1.8 0a0.9 0.9 0 1 0 -1.8 0M467.5 146.8a0.9 0.9 0 1 0 1.8 0a0.9 0.9 0 1 0 -1.8 0M465.4 127.9a0.9 0.9 0 1 0 1.8 0a0.9 0.9 0 1 0 -1.8 0M467.4 153.3a0.9 0.9 0 1 0 1.8 0a0.9 0.9 0 1 0 -1.8 0M469.9 125.3a0.9 0.9 0 1 0 1.8 0a0.9 0.9 0 1 0 -1.8 0M470.1 135a0.9 0.9 0 1 0 1.8 0a0.9 0.9 0 1 0 -1.8 0M464.8 124.8a0.9 0.9 0 1 0 1.8 0a0.9 0.9 0 1 0 -1.8 0M465.4 153.5a0.9 0.9 0 1 0 1.8 0a0.9 0.9 0 1 0 -1.8 0M465.2 118.2a0.9 0.9 0 1 0 1.8 0a0.9 0.9 0 1 0 -1.8 0M472 128a0.9 0.9 0 1 0 1.8 0a0.9 0.9 0 1 0 -1.8 0M469.7 148.2a0.9 0.9 0 1 0 1.8 0a0.9 0.9 0 1 0 -1.8 0M467.7 126.4a0.9 0.9 0 1 0 1.8 0a0.9 0.9 0 1 0 -1.8 0M465.2 132a0.9 0.9 0 1 0 1.8 0a0.9 0.9 0 1 0 -1.8 0M462.6 112.1a0.9 0.9 0 1 0 1.8 0a0.9 0.9 0 1 0 -1.8 0M469.9 114a0.9 0.9 0 1 0 1.8 0a0.9 0.9 0 1 0 -1.8 0M462.5 128.4a0.9 0.9 0 1 0 1.8 0a0.9 0.9 0 1 0 -1.8 0M467.8 83.1a0.9 0.9 0 1 0 1.8 0a0.9 0.9 0 1 0 -1.8 0M467.1 138.4a0.9 0.9 0 1 0 1.8 0a0.9 0.9 0 1 0 -1.8 0M467.2 143.4a0.9 0.9 0 1 0 1.8 0a0.9 0.9 0 1 0 -1.8 0M465.4 145.2a0.9 0.9 0 1 0 1.8 0a0.9 0.9 0 1 0 -1.8 0M465.2 141.7a0.9 0.9 0 1 0 1.8 0a0.9 0.9 0 1 0 -1.8 0M470.1 118.3a0.9 0.9 0 1 0 1.8 0a0.9 0.9 0 1 0 -1.8 0M467.3 162.6a0.9 0.9 0 1 0 1.8 0a0.9 0.9 0 1 0 -1.8 0M467.4 104a0.9 0.9 0 1 0 1.8 0a0.9 0.9 0 1 0 -1.8 0M471.9 111.6a0.9 0.9 0 1 0 1.8 0a0.9 0.9 0 1 0 -1.8 0M467.6 120a0.9 0.9 0 1 0 1.8 0a0.9 0.9 0 1 0 -1.8 0M471.9 118a0.9 0.9 0 1 0 1.8 0a0.9 0.9 0 1 0 -1.8 0M465.3 139.2a0.9 0.9 0 1 0 1.8 0a0.9 0.9 0 1 0 -1.8 0M467.5 151.1a0.9 0.9 0 1 0 1.8 0a0.9 0.9 0 1 0 -1.8 0M469.8 144.6a0.9 0.9 0 1 0 1.8 0a0.9 0.9 0 1 0 -1.8 0M465.2 127.7a0.9 0.9 0 1 0 1.8 0a0.9 0.9 0 1 0 -1.8 0M465 112.6a0.9 0.9 0 1 0 1.8 0a0.9 0.9 0 1 0 -1.8 0M465.2 149.9a0.9 0.9 0 1 0 1.8 0a0.9 0.9 0 1 0 -1.8 0M472.6 112.5a0.9 0.9 0 1 0 1.8 0a0.9 0.9 0 1 0 -1.8 0M465.2 129.7a0.9 0.9 0 1 0 1.8 0a0.9 0.9 0 1 0 -1.8 0M467.8 88a0.9 0.9 0 1 0 1.8 0a0.9 0.9 0 1 0 -1.8 0M462.5 119.6a0.9 0.9 0 1 0 1.8 0a0.9 0.9 0 1 0 -1.8 0M472.4 139.8a0.9 0.9 0 1 0 1.8 0a0.9 0.9 0 1 0 -1.8 0M472.2 118.6a0.9 0.9 0 1 0 1.8 0a0.9 0.9 0 1 0 -1.8 0M465.1 122.4a0.9 0.9 0 1 0 1.8 0a0.9 0.9 0 1 0 -1.8 0M469.5 137.3a0.9 0.9 0 1 0 1.8 0a0.9 0.9 0 1 0 -1.8 0M472.3 119.8a0.9 0.9 0 1 0 1.8 0a0.9 0.9 0 1 0 -1.8 0M462.7 124.4a0.9 0.9 0 1 0 1.8 0a0.9 0.9 0 1 0 -1.8 0M462.9 117.3a0.9 0.9 0 1 0 1.8 0a0.9 0.9 0 1 0 -1.8 0M469.8 153.7a0.9 0.9 0 1 0 1.8 0a0.9 0.9 0 1 0 -1.8 0M467.3 156.2a0.9 0.9 0 1 0 1.8 0a0.9 0.9 0 1 0 -1.8 0M467.4 112.3a0.9 0.9 0 1 0 1.8 0a0.9 0.9 0 1 0 -1.8 0M462.7 139.9a0.9 0.9 0 1 0 1.8 0a0.9 0.9 0 1 0 -1.8 0M467.4 119.2a0.9 0.9 0 1 0 1.8 0a0.9 0.9 0 1 0 -1.8 0M469.7 121.6a0.9 0.9 0 1 0 1.8 0a0.9 0.9 0 1 0 -1.8 0M464.6 120.5a0.9 0.9 0 1 0 1.8 0a0.9 0.9 0 1 0 -1.8 0M469.9 107.9a0.9 0.9 0 1 0 1.8 0a0.9 0.9 0 1 0 -1.8 0M462.8 141.7a0.9 0.9 0 1 0 1.8 0a0.9 0.9 0 1 0 -1.8 0M472.3 124.2a0.9 0.9 0 1 0 1.8 0a0.9 0.9 0 1 0 -1.8 0M465.3 134.4a0.9 0.9 0 1 0 1.8 0a0.9 0.9 0 1 0 -1.8 0M469.7 105.8a0.9 0.9 0 1 0 1.8 0a0.9 0.9 0 1 0 -1.8 0M465.2 125.3a0.9 0.9 0 1 0 1.8 0a0.9 0.9 0 1 0 -1.8 0M472 148.9a0.9 0.9 0 1 0 1.8 0a0.9 0.9 0 1 0 -1.8 0M465.3 147.1a0.9 0.9 0 1 0 1.8 0a0.9 0.9 0 1 0 -1.8 0M469.5 126.9a0.9 0.9 0 1 0 1.8 0a0.9 0.9 0 1 0 -1.8 0M467.8 138.8a0.9 0.9 0 1 0 1.8 0a0.9 0.9 0 1 0 -1.8 0M462.7 127.9a0.9 0.9 0 1 0 1.8 0a0.9 0.9 0 1 0 -1.8 0M462.8 124.3a0.9 0.9 0 1 0 1.8 0a0.9 0.9 0 1 0 -1.8 0M472.2 145.4a0.9 0.9 0 1 0 1.8 0a0.9 0.9 0 1 0 -1.8 0M467.7 114.7a0.9 0.9 0 1 0 1.8 0a0.9 0.9 0 1 0 -1.8 0M462.6 115.5a0.9 0.9 0 1 0 1.8 0a0.9 0.9 0 1 0 -1.8 0M467.8 108.5a0.9 0.9 0 1 0 1.8 0a0.9 0.9 0 1 0 -1.8 0M467.5 123.9a0.9 0.9 0 1 0 1.8 0a0.9 0.9 0 1 0 -1.8 0M524 103.4a0.9 0.9 0 1 0 1.8 0a0.9 0.9 0 1 0 -1.8 0M523.9 126.1a0.9 0.9 0 1 0 1.8 0a0.9 0.9 0 1 0 -1.8 0M524 136.3a0.9 0.9 0 1 0 1.8 0a0.9 0.9 0 1 0 -1.8 0M524.5 117a0.9 0.9 0 1 0 1.8 0a0.9 0.9 0 1 0 -1.8 0M524.2 128.6a0.9 0.9 0 1 0 1.8 0a0.9 0.9 0 1 0 -1.8 0M524.3 87.5a0.9 0.9 0 1 0 1.8 0a0.9 0.9 0 1 0 -1.8 0M522.1 137.5a0.9 0.9 0 1 0 1.8 0a0.9 0.9 0 1 0 -1.8 0M523.7 121.7a0.9 0.9 0 1 0 1.8 0a0.9 0.9 0 1 0 -1.8 0M524 159.4a0.9 0.9 0 1 0 1.8 0a0.9 0.9 0 1 0 -1.8 0M524.1 100.3a0.9 0.9 0 1 0 1.8 0a0.9 0.9 0 1 0 -1.8 0M524 144.3a0.9 0.9 0 1 0 1.8 0a0.9 0.9 0 1 0 -1.8 0M524.1 107a0.9 0.9 0 1 0 1.8 0a0.9 0.9 0 1 0 -1.8 0M526.9 135.1a0.9 0.9 0 1 0 1.8 0a0.9 0.9 0 1 0 -1.8 0M521.4 118.3a0.9 0.9 0 1 0 1.8 0a0.9 0.9 0 1 0 -1.8 0M522 145.4a0.9 0.9 0 1 0 1.8 0a0.9 0.9 0 1 0 -1.8 0M526.7 127.2a0.9 0.9 0 1 0 1.8 0a0.9 0.9 0 1 0 -1.8 0M524.1 150.1a0.9 0.9 0 1 0 1.8 0a0.9 0.9 0 1 0 -1.8 0M524.5 168.7a0.9 0.9 0 1 0 1.8 0a0.9 0.9 0 1 0 -1.8 0M526.9 102.9a0.9 0.9 0 1 0 1.8 0a0.9 0.9 0 1 0 -1.8 0M526.6 120.2a0.9 0.9 0 1 0 1.8 0a0.9 0.9 0 1 0 -1.8 0M524.3 133.4a0.9 0.9 0 1 0 1.8 0a0.9 0.9 0 1 0 -1.8 0M526.7 100.3a0.9 0.9 0 1 0 1.8 0a0.9 0.9 0 1 0 -1.8 0M521.8 127.2a0.9 0.9 0 1 0 1.8 0a0.9 0.9 0 1 0 -1.8 0M524.3 111.7a0.9 0.9 0 1 0 1.8 0a0.9 0.9 0 1 0 -1.8 0M523.8 139.7a0.9 0.9 0 1 0 1.8 0a0.9 0.9 0 1 0 -1.8 0M519 128.6a0.9 0.9 0 1 0 1.8 0a0.9 0.9 0 1 0 -1.8 0M521.6 140.9a0.9 0.9 0 1 0 1.8 0a0.9 0.9 0 1 0 -1.8 0M526.6 117.6a0.9 0.9 0 1 0 1.8 0a0.9 0.9 0 1 0 -1.8 0M524.4 119.3a0.9 0.9 0 1 0 1.8 0a0.9 0.9 0 1 0 -1.8 0M524.4 148.1a0.9 0.9 0 1 0 1.8 0a0.9 0.9 0 1 0 -1.8 0M521.8 122.2a0.9 0.9 0 1 0 1.8 0a0.9 0.9 0 1 0 -1.8 0M523.8 131.2a0.9 0.9 0 1 0 1.8 0a0.9 0.9 0 1 0 -1.8 0M529 127a0.9 0.9 0 1 0 1.8 0a0.9 0.9 0 1 0 -1.8 0M521.9 111.9a0.9 0.9 0 1 0 1.8 0a0.9 0.9 0 1 0 -1.8 0M526.9 147.6a0.9 0.9 0 1 0 1.8 0a0.9 0.9 0 1 0 -1.8 0M518.9 121.5a0.9 0.9 0 1 0 1.8 0a0.9 0.9 0 1 0 -1.8 0M526.8 145a0.9 0.9 0 1 0 1.8 0a0.9 0.9 0 1 0 -1.8 0M519 126.8a0.9 0.9 0 1 0 1.8 0a0.9 0.9 0 1 0 -1.8 0M529.2 121.9a0.9 0.9 0 1 0 1.8 0a0.9 0.9 0 1 0 -1.8 0M521.7 134.4a0.9 0.9 0 1 0 1.8 0a0.9 0.9 0 1 0 -1.8 0M526.5 123.1a0.9 0.9 0 1 0 1.8 0a0.9 0.9 0 1 0 -1.8 0M518.9 144.6a0.9 0.9 0 1 0 1.8 0a0.9 0.9 0 1 0 -1.8 0M526.4 132.2a0.9 0.9 0 1 0 1.8 0a0.9 0.9 0 1 0 -1.8 0M522 130.4a0.9 0.9 0 1 0 1.8 0a0.9 0.9 0 1 0 -1.8 0M524.2 123.5a0.9 0.9 0 1 0 1.8 0a0.9 0.9 0 1 0 -1.8 0M521.5 143.1a0.9 0.9 0 1 0 1.8 0a0.9 0.9 0 1 0 -1.8 0M521.3 132.5a0.9 0.9 0 1 0 1.8 0a0.9 0.9 0 1 0 -1.8 0M526.4 138.4a0.9 0.9 0 1 0 1.8 0a0.9 0.9 0 1 0 -1.8 0M529.1 119.4a0.9 0.9 0 1 0 1.8 0a0.9 0.9 0 1 0 -1.8 0M519.5 119.3a0.9 0.9 0 1 0 1.8 0a0.9 0.9 0 1 0 -1.8 0M519.6 116.9a0.9 0.9 0 1 0 1.8 0a0.9 0.9 0 1 0 -1.8 0M523.8 115.3a0.9 0.9 0 1 0 1.8 0a0.9 0.9 0 1 0 -1.8 0M528.6 139.9a0.9 0.9 0 1 0 1.8 0a0.9 0.9 0 1 0 -1.8 0M528.5 134.7a0.9 0.9 0 1 0 1.8 0a0.9 0.9 0 1 0 -1.8 0M519.2 123.4a0.9 0.9 0 1 0 1.8 0a0.9 0.9 0 1 0 -1.8 0M524.3 73.3a0.9 0.9 0 1 0 1.8 0a0.9 0.9 0 1 0 -1.8 0M528.9 123.7a0.9 0.9 0 1 0 1.8 0a0.9 0.9 0 1 0 -1.8 0M519 134.2a0.9 0.9 0 1 0 1.8 0a0.9 0.9 0 1 0 -1.8 0M526.1 120.6a0.9 0.9 0 1 0 1.8 0a0.9 0.9 0 1 0 -1.8 0M518.9 126.8a0.9 0.9 0 1 0 1.8 0a0.9 0.9 0 1 0 -1.8 0M526.3 129.2a0.9 0.9 0 1 0 1.8 0a0.9 0.9 0 1 0 -1.8 0M524.1 121.6a0.9 0.9 0 1 0 1.8 0a0.9 0.9 0 1 0 -1.8 0M529.2 138.1a0.9 0.9 0 1 0 1.8 0a0.9 0.9 0 1 0 -1.8 0M529 132.5a0.9 0.9 0 1 0 1.8 0a0.9 0.9 0 1 0 -1.8 0M524.1 108.9a0.9 0.9 0 1 0 1.8 0a0.9 0.9 0 1 0 -1.8 0M521.4 101.1a0.9 0.9 0 1 0 1.8 0a0.9 0.9 0 1 0 -1.8 0M526.5 114.6a0.9 0.9 0 1 0 1.8 0a0.9 0.9 0 1 0 -1.8 0M524.4 123.9a0.9 0.9 0 1 0 1.8 0a0.9 0.9 0 1 0 -1.8 0M519.5 102.4a0.9 0.9 0 1 0 1.8 0a0.9 0.9 0 1 0 -1.8 0M519.5 136.1a0.9 0.9 0 1 0 1.8 0a0.9 0.9 0 1 0 -1.8 0M526.1 112.7a0.9 0.9 0 1 0 1.8 0a0.9 0.9 0 1 0 -1.8 0M528.4 102.6a0.9 0.9 0 1 0 1.8 0a0.9 0.9 0 1 0 -1.8 0M519.1 146.4a0.9 0.9 0 1 0 1.8 0a0.9 0.9 0 1 0 -1.8 0M529.2 112.3a0.9 0.9 0 1 0 1.8 0a0.9 0.9 0 1 0 -1.8 0M519.1 133.5a0.9 0.9 0 1 0 1.8 0a0.9 0.9 0 1 0 -1.8 0M529 143.9a0.9 0.9 0 1 0 1.8 0a0.9 0.9 0 1 0 -1.8 0M518.9 123a0.9 0.9 0 1 0 1.8 0a0.9 0.9 0 1 0 -1.8 0M521.5 113.9a0.9 0.9 0 1 0 1.8 0a0.9 0.9 0 1 0 -1.8 0M518.9 130.9a0.9 0.9 0 1 0 1.8 0a0.9 0.9 0 1 0 -1.8 0M526.2 141.1a0.9 0.9 0 1 0 1.8 0a0.9 0.9 0 1 0 -1.8 0M528.7 130.4a0.9 0.9 0 1 0 1.8 0a0.9 0.9 0 1 0 -1.8 0M524.2 133a0.9 0.9 0 1 0 1.8 0a0.9 0.9 0 1 0 -1.8 0M523.9 209.5a0.9 0.9 0 1 0 1.8 0a0.9 0.9 0 1 0 -1.8 0M580.7 165.2a0.9 0.9 0 1 0 1.8 0a0.9 0.9 0 1 0 -1.8 0M580.3 160.6a0.9 0.9 0 1 0 1.8 0a0.9 0.9 0 1 0 -1.8 0M580.3 182.9a0.9 0.9 0 1 0 1.8 0a0.9 0.9 0 1 0 -1.8 0M580.9 176.5a0.9 0.9 0 1 0 1.8 0a0.9 0.9 0 1 0 -1.8 0M580.9 178.6a0.9 0.9 0 1 0 1.8 0a0.9 0.9 0 1 0 -1.8 0M583.5 178.2a0.9 0.9 0 1 0 1.8 0a0.9 0.9 0 1 0 -1.8 0M580.3 184.7a0.9 0.9 0 1 0 1.8 0a0.9 0.9 0 1 0 -1.8 0M578.2 176.9a0.9 0.9 0 1 0 1.8 0a0.9 0.9 0 1 0 -1.8 0M580.9 172.8a0.9 0.9 0 1 0 1.8 0a0.9 0.9 0 1 0 -1.8 0M582.8 173.2a0.9 0.9 0 1 0 1.8 0a0.9 0.9 0 1 0 -1.8 0M577.9 185a0.9 0.9 0 1 0 1.8 0a0.9 0.9 0 1 0 -1.8 0M582.7 184a0.9 0.9 0 1 0 1.8 0a0.9 0.9 0 1 0 -1.8 0M581 119.8a0.9 0.9 0 1 0 1.8 0a0.9 0.9 0 1 0 -1.8 0M580.5 198.6a0.9 0.9 0 1 0 1.8 0a0.9 0.9 0 1 0 -1.8 0M580.7 157.6a0.9 0.9 0 1 0 1.8 0a0.9 0.9 0 1 0 -1.8 0M581 186.5a0.9 0.9 0 1 0 1.8 0a0.9 0.9 0 1 0 -1.8 0M580.9 203.4a0.9 0.9 0 1 0 1.8 0a0.9 0.9 0 1 0 -1.8 0M580.5 189.9a0.9 0.9 0 1 0 1.8 0a0.9 0.9 0 1 0 -1.8 0M581 224a0.9 0.9 0 1 0 1.8 0a0.9 0.9 0 1 0 -1.8 0M580.5 195.5a0.9 0.9 0 1 0 1.8 0a0.9 0.9 0 1 0 -1.8 0M582.7 196a0.9 0.9 0 1 0 1.8 0a0.9 0.9 0 1 0 -1.8 0M580.7 191.7a0.9 0.9 0 1 0 1.8 0a0.9 0.9 0 1 0 -1.8 0M583 187.6a0.9 0.9 0 1 0 1.8 0a0.9 0.9 0 1 0 -1.8 0M578.1 173.7a0.9 0.9 0 1 0 1.8 0a0.9 0.9 0 1 0 -1.8 0M582.9 182.1a0.9 0.9 0 1 0 1.8 0a0.9 0.9 0 1 0 -1.8 0M578.4 181.9a0.9 0.9 0 1 0 1.8 0a0.9 0.9 0 1 0 -1.8 0M578.3 187.4a0.9 0.9 0 1 0 1.8 0a0.9 0.9 0 1 0 -1.8 0M581 180.9a0.9 0.9 0 1 0 1.8 0a0.9 0.9 0 1 0 -1.8 0M577.9 163.9a0.9 0.9 0 1 0 1.8 0a0.9 0.9 0 1 0 -1.8 0M575.9 185.5a0.9 0.9 0 1 0 1.8 0a0.9 0.9 0 1 0 -1.8 0M585.1 181.3a0.9 0.9 0 1 0 1.8 0a0.9 0.9 0 1 0 -1.8 0M575.6 181.8a0.9 0.9 0 1 0 1.8 0a0.9 0.9 0 1 0 -1.8 0M581 145.8a0.9 0.9 0 1 0 1.8 0a0.9 0.9 0 1 0 -1.8 0M578.6 191.1a0.9 0.9 0 1 0 1.8 0a0.9 0.9 0 1 0 -1.8 0M580.3 143.2a0.9 0.9 0 1 0 1.8 0a0.9 0.9 0 1 0 -1.8 0M578.1 203.1a0.9 0.9 0 1 0 1.8 0a0.9 0.9 0 1 0 -1.8 0M583.2 175.7a0.9 0.9 0 1 0 1.8 0a0.9 0.9 0 1 0 -1.8 0M581.1 201.5a0.9 0.9 0 1 0 1.8 0a0.9 0.9 0 1 0 -1.8 0M585.2 172.8a0.9 0.9 0 1 0 1.8 0a0.9 0.9 0 1 0 -1.8 0M580.5 131.9a0.9 0.9 0 1 0 1.8 0a0.9 0.9 0 1 0 -1.8 0M578.2 146.7a0.9 0.9 0 1 0 1.8 0a0.9 0.9 0 1 0 -1.8 0M576.2 172.1a0.9 0.9 0 1 0 1.8 0a0.9 0.9 0 1 0 -1.8 0M580.9 153.7a0.9 0.9 0 1 0 1.8 0a0.9 0.9 0 1 0 -1.8 0M576.2 177.2a0.9 0.9 0 1 0 1.8 0a0.9 0.9 0 1 0 -1.8 0M580.9 147.5a0.9 0.9 0 1 0 1.8 0a0.9 0.9 0 1 0 -1.8 0M582.7 147.2a0.9 0.9 0 1 0 1.8 0a0.9 0.9 0 1 0 -1.8 0M581 169.7a0.9 0.9 0 1 0 1.8 0a0.9 0.9 0 1 0 -1.8 0M583.5 160.4a0.9 0.9 0 1 0 1.8 0a0.9 0.9 0 1 0 -1.8 0M578.3 197.9a0.9 0.9 0 1 0 1.8 0a0.9 0.9 0 1 0 -1.8 0M582.9 192.3a0.9 0.9 0 1 0 1.8 0a0.9 0.9 0 1 0 -1.8 0M578.1 160a0.9 0.9 0 1 0 1.8 0a0.9 0.9 0 1 0 -1.8 0M583.5 198.9a0.9 0.9 0 1 0 1.8 0a0.9 0.9 0 1 0 -1.8 0M585.6 175.3a0.9 0.9 0 1 0 1.8 0a0.9 0.9 0 1 0 -1.8 0M585.1 161.4a0.9 0.9 0 1 0 1.8 0a0.9 0.9 0 1 0 -1.8 0M585.4 184.6a0.9 0.9 0 1 0 1.8 0a0.9 0.9 0 1 0 -1.8 0M578.5 200.8a0.9 0.9 0 1 0 1.8 0a0.9 0.9 0 1 0 -1.8 0M585.2 184.6a0.9 0.9 0 1 0 1.8 0a0.9 0.9 0 1 0 -1.8 0M585.6 188.8a0.9 0.9 0 1 0 1.8 0a0.9 0.9 0 1 0 -1.8 0M583.5 189.7a0.9 0.9 0 1 0 1.8 0a0.9 0.9 0 1 0 -1.8 0M575.5 159.9a0.9 0.9 0 1 0 1.8 0a0.9 0.9 0 1 0 -1.8 0M585.3 183.3a0.9 0.9 0 1 0 1.8 0a0.9 0.9 0 1 0 -1.8 0M575.8 183.6a0.9 0.9 0 1 0 1.8 0a0.9 0.9 0 1 0 -1.8 0M576 191.5a0.9 0.9 0 1 0 1.8 0a0.9 0.9 0 1 0 -1.8 0M581 232.6a0.9 0.9 0 1 0 1.8 0a0.9 0.9 0 1 0 -1.8 0M575.7 175a0.9 0.9 0 1 0 1.8 0a0.9 0.9 0 1 0 -1.8 0M583.3 180.3a0.9 0.9 0 1 0 1.8 0a0.9 0.9 0 1 0 -1.8 0M578.1 171a0.9 0.9 0 1 0 1.8 0a0.9 0.9 0 1 0 -1.8 0M585.9 177.7a0.9 0.9 0 1 0 1.8 0a0.9 0.9 0 1 0 -1.8 0M581 206.8a0.9 0.9 0 1 0 1.8 0a0.9 0.9 0 1 0 -1.8 0M585.3 190.8a0.9 0.9 0 1 0 1.8 0a0.9 0.9 0 1 0 -1.8 0M583.5 192.4a0.9 0.9 0 1 0 1.8 0a0.9 0.9 0 1 0 -1.8 0M578.4 195.8a0.9 0.9 0 1 0 1.8 0a0.9 0.9 0 1 0 -1.8 0M576 161.2a0.9 0.9 0 1 0 1.8 0a0.9 0.9 0 1 0 -1.8 0M578.7 179a0.9 0.9 0 1 0 1.8 0a0.9 0.9 0 1 0 -1.8 0M583.1 176.6a0.9 0.9 0 1 0 1.8 0a0.9 0.9 0 1 0 -1.8 0M585.6 186.8a0.9 0.9 0 1 0 1.8 0a0.9 0.9 0 1 0 -1.8 0M577.9 182.8a0.9 0.9 0 1 0 1.8 0a0.9 0.9 0 1 0 -1.8 0M582.9 207.8a0.9 0.9 0 1 0 1.8 0a0.9 0.9 0 1 0 -1.8 0M583.2 165.5a0.9 0.9 0 1 0 1.8 0a0.9 0.9 0 1 0 -1.8 0M583.5 201.4a0.9 0.9 0 1 0 1.8 0a0.9 0.9 0 1 0 -1.8 0M575.7 187.6a0.9 0.9 0 1 0 1.8 0a0.9 0.9 0 1 0 -1.8 0M585.4 201.2a0.9 0.9 0 1 0 1.8 0a0.9 0.9 0 1 0 -1.8 0M580.4 228a0.9 0.9 0 1 0 1.8 0a0.9 0.9 0 1 0 -1.8 0"/>
<rect x="90.9" y="141" width="12.6" height="2.6" fill="#000000"/>
<rect x="106.7" y="149.7" width="12.6" height="2.6" fill="#850500"/>
<rect x="122.1" y="148.8" width="12.6" height="2.6" fill="#00008a"/>
<rect x="147.5" y="156.4" width="12.6" height="2.6" fill="#000000"/>
<rect x="163.3" y="163.7" width="12.6" height="2.6" fill="#850500"/>
<rect x="178.8" y="164.8" width="12.6" height="2.6" fill="#00008a"/>
<rect x="204.2" y="167.7" width="12.6" height="2.6" fill="#000000"/>
<rect x="220" y="178.1" width="12.6" height="2.6" fill="#850500"/>
<rect x="235.4" y="175.9" width="12.6" height="2.6" fill="#00008a"/>
<rect x="260.8" y="165.9" width="12.6" height="2.6" fill="#000000"/>
<rect x="276.6" y="175.9" width="12.6" height="2.6" fill="#850500"/>
<rect x="292" y="174.4" width="12.6" height="2.6" fill="#00008a"/>
<rect x="317.5" y="110.9" width="12.6" height="2.6" fill="#000000"/>
<rect x="333.3" y="117.6" width="12.6" height="2.6" fill="#850500"/>
<rect x="348.7" y="119.8" width="12.6" height="2.6" fill="#00008a"/>
<rect x="374.1" y="113.6" width="12.6" height="2.6" fill="#000000"/>
<rect x="389.9" y="120.2" width="12.6" height="2.6" fill="#850500"/>
<rect x="405.3" y="123.4" width="12.6" height="2.6" fill="#00008a"/>
<rect x="430.8" y="124.6" width="12.6" height="2.6" fill="#000000"/>
<rect x="446.6" y="130.7" width="12.6" height="2.6" fill="#850500"/>
<rect x="462" y="130.7" width="12.6" height="2.6" fill="#00008a"/>
<rect x="487.4" y="113.6" width="12.6" height="2.6" fill="#000000"/>
<rect x="503.2" y="123.4" width="12.6" height="2.6" fill="#850500"/>
<rect x="518.7" y="125.4" width="12.6" height="2.6" fill="#00008a"/>
<rect x="544.1" y="174.1" width="12.6" height="2.6" fill="#000000"/>
<rect x="559.9" y="179.7" width="12.6" height="2.6" fill="#850500"/>
<rect x="575.3" y="177.9" width="12.6" height="2.6" fill="#00008a"/>
<path stroke="#444" stroke-width="1" fill="none" d="M113.5 70.6V97.5M110.3 97.5h6.4M128.5 70.6V97.5M125.3 97.5h6.4M169.5 79.9V106.5M166.3 106.5h6.4M185.5 94.6V121.5M182.3 121.5h6.4M226.5 113.9V141.5M223.3 141.5h6.4M282.5 105V132.5M279.3 132.5h6.4M298.5 105V132.5M295.3 132.5h6.4M339.5 56.7V84.5M336.3 84.5h6.4M355.5 34.4V61.5M352.3 61.5h6.4M396.5 52.6V80.5M393.3 80.5h6.4M411.5 35.5V63.5M408.3 63.5h6.4M452.5 68.5V95.5M449.3 95.5h6.4M468.5 47.7V75.5M465.3 75.5h6.4M509.5 57.9V85.5M506.3 85.5h6.4M524.5 37.9V64.5M521.3 64.5h6.4"/>
<g fill="#000"><polygon points="111,58.7 111.7,60.1 113.2,60.4 112.1,61.5 112.4,63 111,62.3 109.6,63 109.9,61.5 108.8,60.4 110.3,60.1"/><polygon points="115,58.7 115.7,60.1 117.2,60.4 116.1,61.5 116.4,63 115,62.3 113.6,63 113.9,61.5 112.8,60.4 114.3,60.1"/><polygon points="128.4,58.7 129.1,60.1 130.6,60.4 129.5,61.5 129.8,63 128.4,62.3 127,63 127.3,61.5 126.2,60.4 127.7,60.1"/><polygon points="165.7,68.1 166.3,69.4 167.9,69.7 166.8,70.8 167,72.3 165.7,71.6 164.3,72.3 164.5,70.8 163.4,69.7 165,69.4"/><polygon points="169.7,68.1 170.3,69.4 171.9,69.7 170.8,70.8 171,72.3 169.7,71.6 168.3,72.3 168.5,70.8 167.4,69.7 169,69.4"/><polygon points="173.7,68.1 174.3,69.4 175.9,69.7 174.8,70.8 175,72.3 173.7,71.6 172.3,72.3 172.5,70.8 171.4,69.7 173,69.4"/><polygon points="183.1,82.8 183.7,84.1 185.3,84.4 184.2,85.5 184.4,87 183.1,86.3 181.7,87 181.9,85.5 180.8,84.4 182.4,84.1"/><polygon points="187.1,82.8 187.7,84.1 189.3,84.4 188.2,85.5 188.4,87 187.1,86.3 185.7,87 185.9,85.5 184.8,84.4 186.4,84.1"/><polygon points="224.3,102.1 225,103.4 226.5,103.7 225.4,104.8 225.7,106.3 224.3,105.6 222.9,106.3 223.2,104.8 222.1,103.7 223.6,103.4"/><polygon points="228.3,102.1 229,103.4 230.5,103.7 229.4,104.8 229.7,106.3 228.3,105.6 226.9,106.3 227.2,104.8 226.1,103.7 227.6,103.4"/><polygon points="280.9,93.2 281.6,94.5 283.2,94.8 282.1,95.9 282.3,97.4 280.9,96.7 279.6,97.4 279.8,95.9 278.7,94.8 280.3,94.5"/><polygon points="284.9,93.2 285.6,94.5 287.2,94.8 286.1,95.9 286.3,97.4 284.9,96.7 283.6,97.4 283.8,95.9 282.7,94.8 284.3,94.5"/><polygon points="298.3,93.2 299,94.5 300.6,94.8 299.5,95.9 299.7,97.4 298.3,96.7 297,97.4 297.2,95.9 296.1,94.8 297.7,94.5"/><polygon points="337.6,44.9 338.3,46.2 339.8,46.5 338.7,47.6 339,49.1 337.6,48.4 336.2,49.1 336.5,47.6 335.4,46.5 336.9,46.2"/><polygon points="341.6,44.9 342.3,46.2 343.8,46.5 342.7,47.6 343,49.1 341.6,48.4 340.2,49.1 340.5,47.6 339.4,46.5 340.9,46.2"/><polygon points="351,22.5 351.7,23.9 353.2,24.2 352.1,25.3 352.4,26.8 351,26.1 349.6,26.8 349.9,25.3 348.8,24.2 350.3,23.9"/><polygon points="355,22.5 355.7,23.9 357.2,24.2 356.1,25.3 356.4,26.8 355,26.1 353.6,26.8 353.9,25.3 352.8,24.2 354.3,23.9"/><polygon points="359,22.5 359.7,23.9 361.2,24.2 360.1,25.3 360.4,26.8 359,26.1 357.6,26.8 357.9,25.3 356.8,24.2 358.3,23.9"/><polygon points="392.2,40.8 392.9,42.1 394.5,42.4 393.4,43.5 393.6,45 392.2,44.3 390.9,45 391.1,43.5 390,42.4 391.6,42.1"/><polygon points="396.2,40.8 396.9,42.1 398.5,42.4 397.4,43.5 397.6,45 396.2,44.3 394.9,45 395.1,43.5 394,42.4 395.6,42.1"/><polygon points="400.2,40.8 400.9,42.1 402.5,42.4 401.4,43.5 401.6,45 400.2,44.3 398.9,45 399.1,43.5 398,42.4 399.6,42.1"/><polygon points="407.6,23.6 408.3,25 409.9,25.3 408.8,26.4 409,27.9 407.6,27.2 406.3,27.9 406.5,26.4 405.4,25.3 407,25"/><polygon points="411.6,23.6 412.3,25 413.9,25.3 412.8,26.4 413,27.9 411.6,27.2 410.3,27.9 410.5,26.4 409.4,25.3 411,25"/><polygon points="415.6,23.6 416.3,25 417.9,25.3 416.8,26.4 417,27.9 415.6,27.2 414.3,27.9 414.5,26.4 413.4,25.3 415,25"/><polygon points="450.9,56.6 451.6,58 453.1,58.3 452,59.4 452.3,60.9 450.9,60.2 449.5,60.9 449.8,59.4 448.7,58.3 450.2,58"/><polygon points="454.9,56.6 455.6,58 457.1,58.3 456,59.4 456.3,60.9 454.9,60.2 453.5,60.9 453.8,59.4 452.7,58.3 454.2,58"/><polygon points="468.3,35.9 469,37.2 470.5,37.5 469.4,38.6 469.7,40.1 468.3,39.4 466.9,40.1 467.2,38.6 466.1,37.5 467.6,37.2"/><polygon points="505.6,46 506.2,47.4 507.8,47.7 506.7,48.8 506.9,50.3 505.6,49.6 504.2,50.3 504.4,48.8 503.3,47.7 504.9,47.4"/><polygon points="509.6,46 510.2,47.4 511.8,47.7 510.7,48.8 510.9,50.3 509.6,49.6 508.2,50.3 508.4,48.8 507.3,47.7 508.9,47.4"/><polygon points="513.5,46 514.2,47.4 515.8,47.7 514.7,48.8 514.9,50.3 513.5,49.6 512.2,50.3 512.4,48.8 511.3,47.7 512.9,47.4"/><polygon points="523,26 523.6,27.4 525.2,27.7 524.1,28.8 524.3,30.3 523,29.6 521.6,30.3 521.8,28.8 520.7,27.7 522.3,27.4"/><polygon points="527,26 527.6,27.4 529.2,27.7 528.1,28.8 528.3,30.3 527,29.6 525.6,30.3 525.8,28.8 524.7,27.7 526.3,27.4"/></g>
<path stroke="#7a7a7a" stroke-width="1.1" fill="none" d="M87.3 64.5V252.6H592M83.4 252.3H87.3M85.3 228.9H87.3M83.4 205.5H87.3M85.3 182.1H87.3M83.4 158.7H87.3M85.3 135.2H87.3M83.4 111.8H87.3M85.3 88.4H87.3M83.4 65H87.3M113 252.6V256.6M169.7 252.6V256.6M226.3 252.6V256.6M282.9 252.6V256.6M339.6 252.6V256.6M396.2 252.6V256.6M452.9 252.6V256.6M509.6 252.6V256.6M566.2 252.6V256.6"/>
<text x="82" y="256.4" font-size="11.4" text-anchor="end" font-family="Liberation Sans, sans-serif">200</text>
<text x="82" y="209.6" font-size="11.4" text-anchor="end" font-family="Liberation Sans, sans-serif">250</text>
<text x="82" y="162.8" font-size="11.4" text-anchor="end" font-family="Liberation Sans, sans-serif">300</text>
<text x="82" y="115.9" font-size="11.4" text-anchor="end" font-family="Liberation Sans, sans-serif">350</text>
<text x="82" y="69.1" font-size="11.4" text-anchor="end" font-family="Liberation Sans, sans-serif">400</text>
<text x="113" y="268" font-size="11.2" text-anchor="middle" font-family="Liberation Sans, sans-serif">ON</text>
<text x="169.7" y="268" font-size="11.2" text-anchor="middle" font-family="Liberation Sans, sans-serif">OS</text>
<text x="226.3" y="268" font-size="11.2" text-anchor="middle" font-family="Liberation Sans, sans-serif">OT</text>
<text x="282.9" y="268" font-size="11.2" text-anchor="middle" font-family="Liberation Sans, sans-serif">OI</text>
<text x="339.6" y="268" font-size="11.2" text-anchor="middle" font-family="Liberation Sans, sans-serif">IN</text>
<text x="396.2" y="268" font-size="11.2" text-anchor="middle" font-family="Liberation Sans, sans-serif">IS</text>
<text x="452.9" y="268" font-size="11.2" text-anchor="middle" font-family="Liberation Sans, sans-serif">IT</text>
<text x="509.6" y="268" font-size="11.2" text-anchor="middle" font-family="Liberation Sans, sans-serif">II</text>
<text x="566.2" y="268" font-size="11.2" text-anchor="middle" font-family="Liberation Sans, sans-serif">IC</text>
<text x="340" y="283.2" font-size="11.5" text-anchor="middle" font-family="Liberation Sans, sans-serif">Location on Macula</text>
<text transform="translate(58.9 155.5) rotate(-90)" font-size="11.5" text-anchor="middle" font-family="Liberation Sans, sans-serif">Retinal thickness (microns)</text>
<circle cx="561.4" cy="3.8" r="3.4" fill="#555555"/>
<text x="570.3" y="7.7" font-size="8.8" font-family="Liberation Sans, sans-serif">Health</text>
<circle cx="561.4" cy="18" r="3.4" fill="#e05252"/>
<text x="570.3" y="21.9" font-size="8.8" font-family="Liberation Sans, sans-serif">CKD</text>
<circle cx="561.4" cy="30.1" r="3.4" fill="#6f86ff"/>
<text x="570.3" y="34" font-size="8.8" font-family="Liberation Sans, sans-serif">Kidney transplant</text>
</g>
<g id="panelB">
<text x="36.8" y="364.9" font-size="16" font-family="Liberation Sans, sans-serif">B</text>
<g fill="#bdbdbd" stroke="#2e2e2e" stroke-width="0.75"><circle cx="276.3" cy="402.5" r="1.42"/><circle cx="273.4" cy="408.7" r="1.42"/><circle cx="279.2" cy="408.1" r="1.42"/><circle cx="252.6" cy="421.6" r="1.42"/><circle cx="252.6" cy="425.9" r="1.42"/><circle cx="258.4" cy="420" r="1.42"/><circle cx="258.4" cy="421.6" r="1.42"/><circle cx="258.4" cy="423.5" r="1.42"/><circle cx="258.4" cy="425.4" r="1.42"/><circle cx="258.4" cy="427.4" r="1.42"/><circle cx="258.4" cy="429.5" r="1.42"/><circle cx="264.4" cy="414" r="1.42"/><circle cx="264.4" cy="419.5" r="1.42"/><circle cx="264.4" cy="424.3" r="1.42"/><circle cx="264.4" cy="428" r="1.42"/><circle cx="264.4" cy="435.6" r="1.42"/><circle cx="264.4" cy="438.7" r="1.42"/><circle cx="270.3" cy="420.4" r="1.42"/><circle cx="270.3" cy="422.5" r="1.42"/><circle cx="270.3" cy="424.5" r="1.42"/><circle cx="270.3" cy="426.6" r="1.42"/><circle cx="270.3" cy="428.4" r="1.42"/><circle cx="270.3" cy="430.4" r="1.42"/><circle cx="270.3" cy="438.3" r="1.42"/><circle cx="276.3" cy="413.3" r="1.42"/><circle cx="276.3" cy="418.5" r="1.42"/><circle cx="276.3" cy="423.7" r="1.42"/><circle cx="276.3" cy="426.6" r="1.42"/><circle cx="276.3" cy="428.7" r="1.42"/><circle cx="276.3" cy="430.8" r="1.42"/><circle cx="282.3" cy="415" r="1.42"/><circle cx="282.3" cy="425" r="1.42"/><circle cx="282.3" cy="427" r="1.42"/><circle cx="282.3" cy="429.1" r="1.42"/><circle cx="282.3" cy="432.4" r="1.42"/><circle cx="282.3" cy="438.3" r="1.42"/><circle cx="288.3" cy="412.1" r="1.42"/><circle cx="288.3" cy="415.4" r="1.42"/><circle cx="288.3" cy="419.5" r="1.42"/><circle cx="288.3" cy="423.7" r="1.42"/><circle cx="288.3" cy="427.9" r="1.42"/><circle cx="288.3" cy="431.2" r="1.42"/><circle cx="294.2" cy="416.2" r="1.42"/><circle cx="294.2" cy="420.8" r="1.42"/><circle cx="294.2" cy="426.4" r="1.42"/><circle cx="294.2" cy="438.4" r="1.42"/><circle cx="300.2" cy="425.9" r="1.42"/><circle cx="252.6" cy="440.4" r="1.42"/><circle cx="258.4" cy="440.4" r="1.42"/><circle cx="264.4" cy="440.4" r="1.42"/><circle cx="276.3" cy="440.4" r="1.42"/><circle cx="288.3" cy="440.4" r="1.42"/><circle cx="300.2" cy="440.4" r="1.42"/><circle cx="258.4" cy="443.7" r="1.42"/><circle cx="258.4" cy="445.8" r="1.42"/><circle cx="258.4" cy="447.5" r="1.42"/><circle cx="264.4" cy="442.5" r="1.42"/><circle cx="264.4" cy="447.5" r="1.42"/><circle cx="264.4" cy="450.4" r="1.42"/><circle cx="264.4" cy="454.6" r="1.42"/><circle cx="264.4" cy="468.1" r="1.42"/><circle cx="270.3" cy="442.9" r="1.42"/><circle cx="270.3" cy="445.4" r="1.42"/><circle cx="270.3" cy="447.5" r="1.42"/><circle cx="270.3" cy="449.6" r="1.42"/><circle cx="270.3" cy="452.9" r="1.42"/><circle cx="270.3" cy="456.2" r="1.42"/><circle cx="270.3" cy="459.5" r="1.42"/><circle cx="270.3" cy="469.1" r="1.42"/><circle cx="270.3" cy="472.9" r="1.42"/><circle cx="276.3" cy="444.6" r="1.42"/><circle cx="276.3" cy="448.7" r="1.42"/><circle cx="276.3" cy="455" r="1.42"/><circle cx="276.3" cy="458.7" r="1.42"/><circle cx="276.3" cy="462.5" r="1.42"/><circle cx="276.3" cy="471.6" r="1.42"/><circle cx="282.3" cy="442.5" r="1.42"/><circle cx="282.3" cy="447.3" r="1.42"/><circle cx="282.3" cy="452.9" r="1.42"/><circle cx="282.3" cy="456.2" r="1.42"/><circle cx="282.3" cy="461.5" r="1.42"/><circle cx="282.3" cy="466.4" r="1.42"/><circle cx="282.3" cy="469.9" r="1.42"/><circle cx="282.3" cy="473.9" r="1.42"/><circle cx="288.3" cy="444" r="1.42"/><circle cx="288.3" cy="450.4" r="1.42"/><circle cx="288.3" cy="454.6" r="1.42"/><circle cx="288.3" cy="467.4" r="1.42"/><circle cx="294.2" cy="442.9" r="1.42"/><circle cx="294.2" cy="447.3" r="1.42"/><circle cx="294.2" cy="452.9" r="1.42"/><circle cx="300.2" cy="443.7" r="1.42"/><circle cx="273.4" cy="480.1" r="1.42"/><circle cx="279.2" cy="478.4" r="1.42"/></g>
<rect x="251.3" y="439.2" width="50" height="2.4" fill="#000000"/>
<g fill="#ec5636" stroke="#c0391e" stroke-width="0.75"><circle cx="352.1" cy="402.1" r="1.42"/><circle cx="352.1" cy="406.2" r="1.42"/><circle cx="352.1" cy="412.3" r="1.42"/><circle cx="352.1" cy="416.5" r="1.42"/><circle cx="352.1" cy="420.7" r="1.42"/><circle cx="350.1" cy="426.3" r="1.42"/><circle cx="354.5" cy="424.9" r="1.42"/><circle cx="358.7" cy="424.9" r="1.42"/><circle cx="363" cy="425.5" r="1.42"/><circle cx="341.5" cy="427.5" r="1.42"/><circle cx="354.5" cy="429.5" r="1.42"/><circle cx="358.7" cy="428.7" r="1.42"/><circle cx="341.5" cy="430.7" r="1.42"/><circle cx="345.7" cy="430.3" r="1.42"/><circle cx="350.1" cy="432.1" r="1.42"/><circle cx="354.5" cy="432.3" r="1.42"/><circle cx="358.7" cy="431.5" r="1.42"/><circle cx="363" cy="431" r="1.42"/><circle cx="341.5" cy="434" r="1.42"/><circle cx="345.7" cy="434.8" r="1.42"/><circle cx="350.1" cy="435.6" r="1.42"/><circle cx="354.5" cy="436.4" r="1.42"/><circle cx="358.7" cy="435.2" r="1.42"/><circle cx="363" cy="434.4" r="1.42"/><circle cx="350.1" cy="440" r="1.42"/><circle cx="354.5" cy="440.4" r="1.42"/><circle cx="358.7" cy="441.2" r="1.42"/><circle cx="363" cy="441.6" r="1.42"/><circle cx="367.4" cy="441.6" r="1.42"/><circle cx="337" cy="444.6" r="1.42"/><circle cx="341.5" cy="443.2" r="1.42"/><circle cx="345.7" cy="442.8" r="1.42"/><circle cx="350.1" cy="443.6" r="1.42"/><circle cx="354.5" cy="443.6" r="1.42"/><circle cx="363" cy="445.2" r="1.42"/><circle cx="367.4" cy="445.4" r="1.42"/><circle cx="337" cy="447.6" r="1.42"/><circle cx="341.5" cy="446" r="1.42"/><circle cx="345.7" cy="446.8" r="1.42"/><circle cx="354.5" cy="446.8" r="1.42"/><circle cx="358.7" cy="447.6" r="1.42"/><circle cx="363" cy="448.8" r="1.42"/><circle cx="337" cy="451.2" r="1.42"/><circle cx="341.5" cy="450.4" r="1.42"/><circle cx="345.7" cy="452" r="1.42"/><circle cx="350.1" cy="450.4" r="1.42"/><circle cx="358.7" cy="452" r="1.42"/><circle cx="363" cy="452" r="1.42"/><circle cx="367.4" cy="452" r="1.42"/><circle cx="328.2" cy="456" r="1.42"/><circle cx="332.6" cy="456" r="1.42"/><circle cx="337" cy="457.6" r="1.42"/><circle cx="341.5" cy="457.6" r="1.42"/><circle cx="345.7" cy="458.4" r="1.42"/><circle cx="350.1" cy="454" r="1.42"/><circle cx="354.5" cy="457.2" r="1.42"/><circle cx="358.7" cy="456.8" r="1.42"/><circle cx="363" cy="456.4" r="1.42"/><circle cx="367.4" cy="456.4" r="1.42"/><circle cx="371.7" cy="455.6" r="1.42"/><circle cx="376" cy="454.4" r="1.42"/><circle cx="337" cy="461.2" r="1.42"/><circle cx="341.5" cy="460.8" r="1.42"/><circle cx="345.7" cy="461.2" r="1.42"/><circle cx="350.1" cy="459.6" r="1.42"/><circle cx="358.7" cy="461.6" r="1.42"/><circle cx="363" cy="460.3" r="1.42"/><circle cx="367.4" cy="460.3" r="1.42"/><circle cx="371.7" cy="461.2" r="1.42"/><circle cx="328.2" cy="464.1" r="1.42"/><circle cx="332.6" cy="462.9" r="1.42"/><circle cx="337" cy="464.9" r="1.42"/><circle cx="341.5" cy="465.4" r="1.42"/><circle cx="345.7" cy="465.4" r="1.42"/><circle cx="350.1" cy="462.9" r="1.42"/><circle cx="350.1" cy="466.5" r="1.42"/><circle cx="354.5" cy="464.9" r="1.42"/><circle cx="358.7" cy="465.3" r="1.42"/><circle cx="363" cy="465.4" r="1.42"/><circle cx="367.4" cy="464.3" r="1.42"/><circle cx="371.7" cy="464.5" r="1.42"/><circle cx="376" cy="465.1" r="1.42"/><circle cx="341.5" cy="469.5" r="1.42"/><circle cx="345.7" cy="470.7" r="1.42"/><circle cx="350.1" cy="470.7" r="1.42"/><circle cx="354.5" cy="468.1" r="1.42"/><circle cx="358.7" cy="468.5" r="1.42"/><circle cx="363" cy="470.7" r="1.42"/><circle cx="345.7" cy="473.7" r="1.42"/><circle cx="345.7" cy="476.9" r="1.42"/><circle cx="350.1" cy="474.1" r="1.42"/><circle cx="354.5" cy="472.9" r="1.42"/><circle cx="354.5" cy="475.7" r="1.42"/><circle cx="358.7" cy="472.1" r="1.42"/><circle cx="358.7" cy="476.1" r="1.42"/><circle cx="350.1" cy="478.5" r="1.42"/><circle cx="350.1" cy="481.7" r="1.42"/><circle cx="354.5" cy="478.9" r="1.42"/><circle cx="345.7" cy="485.7" r="1.42"/><circle cx="350.1" cy="486.5" r="1.42"/><circle cx="354.5" cy="486.5" r="1.42"/><circle cx="358.7" cy="483.3" r="1.42"/><circle cx="358.7" cy="488.2" r="1.42"/><circle cx="350.1" cy="499.4" r="1.42"/><circle cx="354.5" cy="501" r="1.42"/><circle cx="352.1" cy="515.7" r="1.42"/></g>
<rect x="327.1" y="454.4" width="50.1" height="2.4" fill="#7a0000"/>
<g fill="#8494ee" stroke="#3a4ad0" stroke-width="0.75"><circle cx="423.3" cy="395.8" r="1.42"/><circle cx="428" cy="395.8" r="1.42"/><circle cx="432.7" cy="395.8" r="1.42"/><circle cx="428" cy="403" r="1.42"/><circle cx="423.3" cy="409.7" r="1.42"/><circle cx="428" cy="411.8" r="1.42"/><circle cx="423.3" cy="419.1" r="1.42"/><circle cx="428" cy="418.1" r="1.42"/><circle cx="432.7" cy="418.1" r="1.42"/><circle cx="423.3" cy="423.3" r="1.42"/><circle cx="428" cy="423.3" r="1.42"/><circle cx="432.7" cy="423.3" r="1.42"/><circle cx="423.3" cy="429.1" r="1.42"/><circle cx="432.7" cy="428.6" r="1.42"/><circle cx="437.5" cy="429.1" r="1.42"/><circle cx="418.5" cy="431.1" r="1.42"/><circle cx="423.3" cy="431.9" r="1.42"/><circle cx="437.5" cy="433" r="1.42"/><circle cx="418.5" cy="434.7" r="1.42"/><circle cx="423.3" cy="435.4" r="1.42"/><circle cx="428" cy="435.8" r="1.42"/><circle cx="432.7" cy="437" r="1.42"/><circle cx="418.5" cy="438.2" r="1.42"/><circle cx="413.7" cy="440.6" r="1.42"/><circle cx="442.3" cy="441" r="1.42"/><circle cx="447.1" cy="441" r="1.42"/><circle cx="404.4" cy="442.6" r="1.42"/><circle cx="408.8" cy="443.2" r="1.42"/><circle cx="413.7" cy="443.7" r="1.42"/><circle cx="418.5" cy="444.6" r="1.42"/><circle cx="423.3" cy="443.4" r="1.42"/><circle cx="428" cy="443.2" r="1.42"/><circle cx="432.7" cy="443.2" r="1.42"/><circle cx="437.5" cy="445.4" r="1.42"/><circle cx="442.3" cy="444.2" r="1.42"/><circle cx="447.1" cy="444.2" r="1.42"/><circle cx="451.8" cy="445.8" r="1.42"/><circle cx="404.4" cy="445.8" r="1.42"/><circle cx="418.5" cy="447.8" r="1.42"/><circle cx="423.3" cy="446.6" r="1.42"/><circle cx="423.3" cy="449.8" r="1.42"/><circle cx="428" cy="449.4" r="1.42"/><circle cx="432.7" cy="448.8" r="1.42"/><circle cx="437.5" cy="450.2" r="1.42"/><circle cx="428" cy="449.4" r="1.42"/><circle cx="432.7" cy="448.6" r="1.42"/><circle cx="423.3" cy="450.2" r="1.42"/><circle cx="437.5" cy="450.2" r="1.42"/><circle cx="413.7" cy="451.4" r="1.42"/><circle cx="442.3" cy="451.4" r="1.42"/><circle cx="418.5" cy="452.6" r="1.42"/><circle cx="437.5" cy="453.4" r="1.42"/><circle cx="408.8" cy="455.4" r="1.42"/><circle cx="413.7" cy="455.8" r="1.42"/><circle cx="423.3" cy="454.6" r="1.42"/><circle cx="428" cy="455.8" r="1.42"/><circle cx="442.3" cy="456.1" r="1.42"/><circle cx="408.8" cy="458.7" r="1.42"/><circle cx="413.7" cy="459.1" r="1.42"/><circle cx="418.5" cy="458.3" r="1.42"/><circle cx="423.3" cy="457.9" r="1.42"/><circle cx="428" cy="459.3" r="1.42"/><circle cx="437.5" cy="458.7" r="1.42"/><circle cx="447.1" cy="458.3" r="1.42"/><circle cx="408.8" cy="461.9" r="1.42"/><circle cx="413.7" cy="462.7" r="1.42"/><circle cx="418.5" cy="462.3" r="1.42"/><circle cx="423.3" cy="461.5" r="1.42"/><circle cx="432.7" cy="461.1" r="1.42"/><circle cx="437.5" cy="461.9" r="1.42"/><circle cx="442.3" cy="461.1" r="1.42"/><circle cx="447.1" cy="461.9" r="1.42"/><circle cx="413.7" cy="466.3" r="1.42"/><circle cx="423.3" cy="466.5" r="1.42"/><circle cx="428" cy="467.5" r="1.42"/><circle cx="432.7" cy="468.3" r="1.42"/><circle cx="437.5" cy="465.5" r="1.42"/><circle cx="437.5" cy="468.7" r="1.42"/><circle cx="442.3" cy="466.5" r="1.42"/><circle cx="418.5" cy="469.5" r="1.42"/><circle cx="428" cy="470.7" r="1.42"/><circle cx="432.7" cy="472.3" r="1.42"/><circle cx="418.5" cy="473.9" r="1.42"/><circle cx="423.3" cy="475.9" r="1.42"/><circle cx="428" cy="474.7" r="1.42"/><circle cx="432.7" cy="475.9" r="1.42"/><circle cx="437.5" cy="473.3" r="1.42"/><circle cx="428" cy="479.1" r="1.42"/><circle cx="428" cy="486.8" r="1.42"/><circle cx="428" cy="490.6" r="1.42"/><circle cx="428" cy="495.6" r="1.42"/><circle cx="428" cy="500.4" r="1.42"/><circle cx="428" cy="505.1" r="1.42"/></g>
<rect x="403" y="450.7" width="50.1" height="2.4" fill="#000080"/>
<g fill="#000"><polygon points="347.6,373.7 348.4,375.4 350.3,375.6 348.9,376.9 349.2,378.8 347.6,377.9 346,378.8 346.3,376.9 344.9,375.6 346.8,375.4"/><polygon points="352.9,373.7 353.7,375.4 355.6,375.6 354.2,376.9 354.5,378.8 352.9,377.9 351.3,378.8 351.6,376.9 350.2,375.6 352.1,375.4"/><polygon points="358.2,373.7 359,375.4 360.9,375.6 359.5,376.9 359.8,378.8 358.2,377.9 356.6,378.8 356.9,376.9 355.5,375.6 357.4,375.4"/><polygon points="422.2,373.7 423,375.4 424.9,375.6 423.5,376.9 423.8,378.8 422.2,377.9 420.6,378.8 420.9,376.9 419.5,375.6 421.4,375.4"/><polygon points="427.5,373.7 428.3,375.4 430.2,375.6 428.8,376.9 429.1,378.8 427.5,377.9 425.9,378.8 426.2,376.9 424.8,375.6 426.7,375.4"/><polygon points="432.8,373.7 433.6,375.4 435.5,375.6 434.1,376.9 434.4,378.8 432.8,377.9 431.2,378.8 431.5,376.9 430.1,375.6 432,375.4"/></g>
<path stroke="#7a7a7a" stroke-width="1.1" fill="none" d="M225.6 373.6V529.1H478.3M222 529H225.6M222 503.1H225.6M222 477.2H225.6M222 451.3H225.6M222 425.4H225.6M222 399.5H225.6M222 373.6H225.6M276.6 529.1V533.2M352.2 529.1V533.2M427.8 529.1V533.2"/>
<text x="220.3" y="532.8" font-size="10.5" text-anchor="end" font-family="Liberation Sans, sans-serif">7.0</text>
<text x="220.3" y="506.9" font-size="10.5" text-anchor="end" font-family="Liberation Sans, sans-serif">7.5</text>
<text x="220.3" y="481" font-size="10.5" text-anchor="end" font-family="Liberation Sans, sans-serif">8.0</text>
<text x="220.3" y="455.1" font-size="10.5" text-anchor="end" font-family="Liberation Sans, sans-serif">8.5</text>
<text x="220.3" y="429.2" font-size="10.5" text-anchor="end" font-family="Liberation Sans, sans-serif">9.0</text>
<text x="220.3" y="403.3" font-size="10.5" text-anchor="end" font-family="Liberation Sans, sans-serif">9.5</text>
<text x="220.3" y="377.4" font-size="10.5" text-anchor="end" font-family="Liberation Sans, sans-serif">10.0</text>
<text x="276.4" y="544.8" font-size="10.8" text-anchor="middle" font-family="Liberation Sans, sans-serif">Health</text>
<text x="352.2" y="544.8" font-size="10.8" text-anchor="middle" font-family="Liberation Sans, sans-serif">CKD</text>
<text x="427.8" y="544.8" font-size="10.8" text-anchor="middle" font-family="Liberation Sans, sans-serif">Kidney transplant</text>
<text transform="translate(195.6 444) rotate(-90)" font-size="11.2" text-anchor="middle" font-family="Liberation Sans, sans-serif">Macular volume (mm<tspan font-size="7.5" dy="-4.5">3</tspan><tspan dy="4.5">)</tspan></text>
</g>
<g id="panelC">
<text x="-0.5" y="601.4" font-size="16" font-family="Liberation Sans, sans-serif">C</text>
<path stroke="#7a7a7a" stroke-width="1.1" fill="none" d="M48.2 639.6V865.5H655.3M44.3 865.4H48.2M46.2 846.6H48.2M44.3 827.8H48.2M46.2 808.9H48.2M44.3 790.1H48.2M46.2 771.3H48.2M44.3 752.5H48.2M46.2 733.7H48.2M44.3 714.9H48.2M46.2 696H48.2M44.3 677.2H48.2M46.2 658.4H48.2M44.3 639.6H48.2M78.8 865.5V869.5M147 865.5V869.5M215.2 865.5V869.5M283.4 865.5V869.5M351.6 865.5V869.5M419.8 865.5V869.5M488 865.5V869.5M556.2 865.5V869.5M624.4 865.5V869.5"/>
<path fill="#6a6a6a" d="M59.5 829.5a1 1 0 1 0 2 0a1 1 0 1 0 -2 0M59.5 822.6a1 1 0 1 0 2 0a1 1 0 1 0 -2 0M59.5 838.2a1 1 0 1 0 2 0a1 1 0 1 0 -2 0M59.5 816.5a1 1 0 1 0 2 0a1 1 0 1 0 -2 0M59.5 819.5a1 1 0 1 0 2 0a1 1 0 1 0 -2 0M59.5 826.3a1 1 0 1 0 2 0a1 1 0 1 0 -2 0M60.8 820.3a1 1 0 1 0 2 0a1 1 0 1 0 -2 0M61 822.5a1 1 0 1 0 2 0a1 1 0 1 0 -2 0M58.5 820.7a1 1 0 1 0 2 0a1 1 0 1 0 -2 0M57.5 821.8a1 1 0 1 0 2 0a1 1 0 1 0 -2 0M60.5 818.3a1 1 0 1 0 2 0a1 1 0 1 0 -2 0M58.2 823.6a1 1 0 1 0 2 0a1 1 0 1 0 -2 0M58 816.8a1 1 0 1 0 2 0a1 1 0 1 0 -2 0M59.8 824.3a1 1 0 1 0 2 0a1 1 0 1 0 -2 0M60.2 827.6a1 1 0 1 0 2 0a1 1 0 1 0 -2 0M58 827a1 1 0 1 0 2 0a1 1 0 1 0 -2 0M61.2 824a1 1 0 1 0 2 0a1 1 0 1 0 -2 0M62.5 821.9a1 1 0 1 0 2 0a1 1 0 1 0 -2 0M56 822.5a1 1 0 1 0 2 0a1 1 0 1 0 -2 0M59.5 831.8a1 1 0 1 0 2 0a1 1 0 1 0 -2 0M60.8 830.9a1 1 0 1 0 2 0a1 1 0 1 0 -2 0M61.5 826.7a1 1 0 1 0 2 0a1 1 0 1 0 -2 0M58.5 830.6a1 1 0 1 0 2 0a1 1 0 1 0 -2 0M61 815.8a1 1 0 1 0 2 0a1 1 0 1 0 -2 0M62.8 823.6a1 1 0 1 0 2 0a1 1 0 1 0 -2 0M59.5 814.2a1 1 0 1 0 2 0a1 1 0 1 0 -2 0M59.5 834.5a1 1 0 1 0 2 0a1 1 0 1 0 -2 0M58.2 828.5a1 1 0 1 0 2 0a1 1 0 1 0 -2 0M61.8 829.7a1 1 0 1 0 2 0a1 1 0 1 0 -2 0M57 829.9a1 1 0 1 0 2 0a1 1 0 1 0 -2 0M58.2 825.5a1 1 0 1 0 2 0a1 1 0 1 0 -2 0M63.2 829.1a1 1 0 1 0 2 0a1 1 0 1 0 -2 0M64 822.1a1 1 0 1 0 2 0a1 1 0 1 0 -2 0M60.5 833.3a1 1 0 1 0 2 0a1 1 0 1 0 -2 0M56 828.7a1 1 0 1 0 2 0a1 1 0 1 0 -2 0M58.8 818.2a1 1 0 1 0 2 0a1 1 0 1 0 -2 0M54.5 829a1 1 0 1 0 2 0a1 1 0 1 0 -2 0M54.8 821.6a1 1 0 1 0 2 0a1 1 0 1 0 -2 0M53.5 822.7a1 1 0 1 0 2 0a1 1 0 1 0 -2 0M65.5 821.8a1 1 0 1 0 2 0a1 1 0 1 0 -2 0M56.8 825.1a1 1 0 1 0 2 0a1 1 0 1 0 -2 0M56.8 816a1 1 0 1 0 2 0a1 1 0 1 0 -2 0M64.8 829.3a1 1 0 1 0 2 0a1 1 0 1 0 -2 0M57 820a1 1 0 1 0 2 0a1 1 0 1 0 -2 0M58 832.5a1 1 0 1 0 2 0a1 1 0 1 0 -2 0M62 828a1 1 0 1 0 2 0a1 1 0 1 0 -2 0M60.8 825.4a1 1 0 1 0 2 0a1 1 0 1 0 -2 0M53 829.6a1 1 0 1 0 2 0a1 1 0 1 0 -2 0M53.5 820.9a1 1 0 1 0 2 0a1 1 0 1 0 -2 0M63 826.4a1 1 0 1 0 2 0a1 1 0 1 0 -2 0M66.8 822.8a1 1 0 1 0 2 0a1 1 0 1 0 -2 0M66.2 829.2a1 1 0 1 0 2 0a1 1 0 1 0 -2 0M56.5 827.1a1 1 0 1 0 2 0a1 1 0 1 0 -2 0M60.5 829.3a1 1 0 1 0 2 0a1 1 0 1 0 -2 0M55.2 825.7a1 1 0 1 0 2 0a1 1 0 1 0 -2 0M63.5 820.7a1 1 0 1 0 2 0a1 1 0 1 0 -2 0M64.2 825.5a1 1 0 1 0 2 0a1 1 0 1 0 -2 0M66.3 823a1 1 0 1 0 2 0a1 1 0 1 0 -2 0M63.3 823.3a1 1 0 1 0 2 0a1 1 0 1 0 -2 0M52.2 821.9a1 1 0 1 0 2 0a1 1 0 1 0 -2 0M62.2 819.9a1 1 0 1 0 2 0a1 1 0 1 0 -2 0M53.2 828.1a1 1 0 1 0 2 0a1 1 0 1 0 -2 0M54.2 824.5a1 1 0 1 0 2 0a1 1 0 1 0 -2 0M65.8 825.2a1 1 0 1 0 2 0a1 1 0 1 0 -2 0M53.2 825.7a1 1 0 1 0 2 0a1 1 0 1 0 -2 0M57.4 821.3a1 1 0 1 0 2 0a1 1 0 1 0 -2 0M56 829.2a1 1 0 1 0 2 0a1 1 0 1 0 -2 0M60.4 828.2a1 1 0 1 0 2 0a1 1 0 1 0 -2 0M64.4 825.5a1 1 0 1 0 2 0a1 1 0 1 0 -2 0M59 821.8a1 1 0 1 0 2 0a1 1 0 1 0 -2 0M62.5 830.3a1 1 0 1 0 2 0a1 1 0 1 0 -2 0M61.3 823.2a1 1 0 1 0 2 0a1 1 0 1 0 -2 0M52.8 824.3a1 1 0 1 0 2 0a1 1 0 1 0 -2 0M57.2 823.2a1 1 0 1 0 2 0a1 1 0 1 0 -2 0M55 830.4a1 1 0 1 0 2 0a1 1 0 1 0 -2 0M64.9 824.6a1 1 0 1 0 2 0a1 1 0 1 0 -2 0M56.6 828.1a1 1 0 1 0 2 0a1 1 0 1 0 -2 0M55.5 820.3a1 1 0 1 0 2 0a1 1 0 1 0 -2 0M63.1 823.9a1 1 0 1 0 2 0a1 1 0 1 0 -2 0M64.3 823.6a1 1 0 1 0 2 0a1 1 0 1 0 -2 0M66.8 826.4a1 1 0 1 0 2 0a1 1 0 1 0 -2 0M57.4 825.6a1 1 0 1 0 2 0a1 1 0 1 0 -2 0M58.2 815a1 1 0 1 0 2 0a1 1 0 1 0 -2 0M55.8 824a1 1 0 1 0 2 0a1 1 0 1 0 -2 0M64.8 819.9a1 1 0 1 0 2 0a1 1 0 1 0 -2 0M54.5 825.6a1 1 0 1 0 2 0a1 1 0 1 0 -2 0M59.5 825.4a1 1 0 1 0 2 0a1 1 0 1 0 -2 0M56.2 818.7a1 1 0 1 0 2 0a1 1 0 1 0 -2 0M195.9 815.4a1 1 0 1 0 2 0a1 1 0 1 0 -2 0M195.9 823.2a1 1 0 1 0 2 0a1 1 0 1 0 -2 0M195.9 808a1 1 0 1 0 2 0a1 1 0 1 0 -2 0M195.9 812.4a1 1 0 1 0 2 0a1 1 0 1 0 -2 0M194.6 813.2a1 1 0 1 0 2 0a1 1 0 1 0 -2 0M195.9 819a1 1 0 1 0 2 0a1 1 0 1 0 -2 0M194.9 809.2a1 1 0 1 0 2 0a1 1 0 1 0 -2 0M194.9 811.3a1 1 0 1 0 2 0a1 1 0 1 0 -2 0M196.9 817.9a1 1 0 1 0 2 0a1 1 0 1 0 -2 0M195.9 825.7a1 1 0 1 0 2 0a1 1 0 1 0 -2 0M195.9 804.7a1 1 0 1 0 2 0a1 1 0 1 0 -2 0M194.4 818.8a1 1 0 1 0 2 0a1 1 0 1 0 -2 0M194.9 816.5a1 1 0 1 0 2 0a1 1 0 1 0 -2 0M197.4 812.6a1 1 0 1 0 2 0a1 1 0 1 0 -2 0M194.6 807.1a1 1 0 1 0 2 0a1 1 0 1 0 -2 0M195.9 797.6a1 1 0 1 0 2 0a1 1 0 1 0 -2 0M196.4 810.7a1 1 0 1 0 2 0a1 1 0 1 0 -2 0M197.9 811.1a1 1 0 1 0 2 0a1 1 0 1 0 -2 0M195.9 802.9a1 1 0 1 0 2 0a1 1 0 1 0 -2 0M197.1 819.7a1 1 0 1 0 2 0a1 1 0 1 0 -2 0M198.4 818.6a1 1 0 1 0 2 0a1 1 0 1 0 -2 0M197.6 816.6a1 1 0 1 0 2 0a1 1 0 1 0 -2 0M193.1 812.6a1 1 0 1 0 2 0a1 1 0 1 0 -2 0M192.9 818.3a1 1 0 1 0 2 0a1 1 0 1 0 -2 0M197.4 822.8a1 1 0 1 0 2 0a1 1 0 1 0 -2 0M197.4 805.3a1 1 0 1 0 2 0a1 1 0 1 0 -2 0M194.4 823.4a1 1 0 1 0 2 0a1 1 0 1 0 -2 0M195.9 821.6a1 1 0 1 0 2 0a1 1 0 1 0 -2 0M197.4 808.2a1 1 0 1 0 2 0a1 1 0 1 0 -2 0M199.4 811.5a1 1 0 1 0 2 0a1 1 0 1 0 -2 0M194.4 803.3a1 1 0 1 0 2 0a1 1 0 1 0 -2 0M191.6 812.4a1 1 0 1 0 2 0a1 1 0 1 0 -2 0M200.9 811.8a1 1 0 1 0 2 0a1 1 0 1 0 -2 0M193.4 804.5a1 1 0 1 0 2 0a1 1 0 1 0 -2 0M197.1 803.8a1 1 0 1 0 2 0a1 1 0 1 0 -2 0M199.1 817.3a1 1 0 1 0 2 0a1 1 0 1 0 -2 0M193.6 815.7a1 1 0 1 0 2 0a1 1 0 1 0 -2 0M190.4 811.3a1 1 0 1 0 2 0a1 1 0 1 0 -2 0M196.6 806.7a1 1 0 1 0 2 0a1 1 0 1 0 -2 0M198.6 803.5a1 1 0 1 0 2 0a1 1 0 1 0 -2 0M193.4 806.2a1 1 0 1 0 2 0a1 1 0 1 0 -2 0M193.6 808.3a1 1 0 1 0 2 0a1 1 0 1 0 -2 0M193.4 819.8a1 1 0 1 0 2 0a1 1 0 1 0 -2 0M200.4 818.3a1 1 0 1 0 2 0a1 1 0 1 0 -2 0M191.6 817.6a1 1 0 1 0 2 0a1 1 0 1 0 -2 0M193.4 809.9a1 1 0 1 0 2 0a1 1 0 1 0 -2 0M195.9 799.8a1 1 0 1 0 2 0a1 1 0 1 0 -2 0M202.4 812.5a1 1 0 1 0 2 0a1 1 0 1 0 -2 0M188.9 811.6a1 1 0 1 0 2 0a1 1 0 1 0 -2 0M197.1 798.6a1 1 0 1 0 2 0a1 1 0 1 0 -2 0M197.4 809.7a1 1 0 1 0 2 0a1 1 0 1 0 -2 0M200.6 816.8a1 1 0 1 0 2 0a1 1 0 1 0 -2 0M198.9 823a1 1 0 1 0 2 0a1 1 0 1 0 -2 0M203.1 811.2a1 1 0 1 0 2 0a1 1 0 1 0 -2 0M190.1 817.3a1 1 0 1 0 2 0a1 1 0 1 0 -2 0M198.9 810a1 1 0 1 0 2 0a1 1 0 1 0 -2 0M196.6 814.1a1 1 0 1 0 2 0a1 1 0 1 0 -2 0M200.7 812.1a1 1 0 1 0 2 0a1 1 0 1 0 -2 0M198.9 815.6a1 1 0 1 0 2 0a1 1 0 1 0 -2 0M194.4 799.4a1 1 0 1 0 2 0a1 1 0 1 0 -2 0M198.9 807.7a1 1 0 1 0 2 0a1 1 0 1 0 -2 0M191.9 806.5a1 1 0 1 0 2 0a1 1 0 1 0 -2 0M192.6 814.5a1 1 0 1 0 2 0a1 1 0 1 0 -2 0M192.4 803.5a1 1 0 1 0 2 0a1 1 0 1 0 -2 0M199.6 804.7a1 1 0 1 0 2 0a1 1 0 1 0 -2 0M200.4 807a1 1 0 1 0 2 0a1 1 0 1 0 -2 0M198.1 814.2a1 1 0 1 0 2 0a1 1 0 1 0 -2 0M192.1 808.7a1 1 0 1 0 2 0a1 1 0 1 0 -2 0M192.4 811a1 1 0 1 0 2 0a1 1 0 1 0 -2 0M202.1 817.2a1 1 0 1 0 2 0a1 1 0 1 0 -2 0M199.4 819.7a1 1 0 1 0 2 0a1 1 0 1 0 -2 0M195.9 794.7a1 1 0 1 0 2 0a1 1 0 1 0 -2 0M191.6 815.7a1 1 0 1 0 2 0a1 1 0 1 0 -2 0M189.9 812.7a1 1 0 1 0 2 0a1 1 0 1 0 -2 0M200.4 809.8a1 1 0 1 0 2 0a1 1 0 1 0 -2 0M194.4 825.5a1 1 0 1 0 2 0a1 1 0 1 0 -2 0M190.6 807.4a1 1 0 1 0 2 0a1 1 0 1 0 -2 0M193.6 822.2a1 1 0 1 0 2 0a1 1 0 1 0 -2 0M200.4 815.1a1 1 0 1 0 2 0a1 1 0 1 0 -2 0M198.6 806.2a1 1 0 1 0 2 0a1 1 0 1 0 -2 0M264.1 760.5a1 1 0 1 0 2 0a1 1 0 1 0 -2 0M264.1 739.3a1 1 0 1 0 2 0a1 1 0 1 0 -2 0M262.6 761.9a1 1 0 1 0 2 0a1 1 0 1 0 -2 0M266.1 760a1 1 0 1 0 2 0a1 1 0 1 0 -2 0M264.1 743.2a1 1 0 1 0 2 0a1 1 0 1 0 -2 0M264.1 737.1a1 1 0 1 0 2 0a1 1 0 1 0 -2 0M264.1 750.3a1 1 0 1 0 2 0a1 1 0 1 0 -2 0M264.1 763.9a1 1 0 1 0 2 0a1 1 0 1 0 -2 0M264.1 767.5a1 1 0 1 0 2 0a1 1 0 1 0 -2 0M264.1 755.6a1 1 0 1 0 2 0a1 1 0 1 0 -2 0M264.1 745.4a1 1 0 1 0 2 0a1 1 0 1 0 -2 0M264.1 772.4a1 1 0 1 0 2 0a1 1 0 1 0 -2 0M266.1 764.3a1 1 0 1 0 2 0a1 1 0 1 0 -2 0M260.6 761.5a1 1 0 1 0 2 0a1 1 0 1 0 -2 0M266.1 746.2a1 1 0 1 0 2 0a1 1 0 1 0 -2 0M265.9 756.9a1 1 0 1 0 2 0a1 1 0 1 0 -2 0M264.1 770.3a1 1 0 1 0 2 0a1 1 0 1 0 -2 0M262.1 768.2a1 1 0 1 0 2 0a1 1 0 1 0 -2 0M265.9 742.1a1 1 0 1 0 2 0a1 1 0 1 0 -2 0M266.1 773.2a1 1 0 1 0 2 0a1 1 0 1 0 -2 0M262.6 766a1 1 0 1 0 2 0a1 1 0 1 0 -2 0M265.4 762.3a1 1 0 1 0 2 0a1 1 0 1 0 -2 0M265.9 769.2a1 1 0 1 0 2 0a1 1 0 1 0 -2 0M268.1 760.2a1 1 0 1 0 2 0a1 1 0 1 0 -2 0M261.1 763.4a1 1 0 1 0 2 0a1 1 0 1 0 -2 0M262.1 759.7a1 1 0 1 0 2 0a1 1 0 1 0 -2 0M264.6 758.5a1 1 0 1 0 2 0a1 1 0 1 0 -2 0M262.1 743.4a1 1 0 1 0 2 0a1 1 0 1 0 -2 0M258.6 761.2a1 1 0 1 0 2 0a1 1 0 1 0 -2 0M264.1 728.2a1 1 0 1 0 2 0a1 1 0 1 0 -2 0M262.1 755.9a1 1 0 1 0 2 0a1 1 0 1 0 -2 0M260.4 769.4a1 1 0 1 0 2 0a1 1 0 1 0 -2 0M265.9 751.2a1 1 0 1 0 2 0a1 1 0 1 0 -2 0M264.1 777.3a1 1 0 1 0 2 0a1 1 0 1 0 -2 0M264.1 717.6a1 1 0 1 0 2 0a1 1 0 1 0 -2 0M262.1 746.4a1 1 0 1 0 2 0a1 1 0 1 0 -2 0M268.1 764.1a1 1 0 1 0 2 0a1 1 0 1 0 -2 0M264.1 786.7a1 1 0 1 0 2 0a1 1 0 1 0 -2 0M266.1 736.5a1 1 0 1 0 2 0a1 1 0 1 0 -2 0M261.1 757.7a1 1 0 1 0 2 0a1 1 0 1 0 -2 0M263.1 741.4a1 1 0 1 0 2 0a1 1 0 1 0 -2 0M267.6 770.3a1 1 0 1 0 2 0a1 1 0 1 0 -2 0M262.1 770.8a1 1 0 1 0 2 0a1 1 0 1 0 -2 0M267.9 757.5a1 1 0 1 0 2 0a1 1 0 1 0 -2 0M269.6 770.2a1 1 0 1 0 2 0a1 1 0 1 0 -2 0M264.1 775a1 1 0 1 0 2 0a1 1 0 1 0 -2 0M260.4 745.2a1 1 0 1 0 2 0a1 1 0 1 0 -2 0M266.9 743.8a1 1 0 1 0 2 0a1 1 0 1 0 -2 0M270.1 763.2a1 1 0 1 0 2 0a1 1 0 1 0 -2 0M259.1 758a1 1 0 1 0 2 0a1 1 0 1 0 -2 0M263.6 752.2a1 1 0 1 0 2 0a1 1 0 1 0 -2 0M257.1 762.6a1 1 0 1 0 2 0a1 1 0 1 0 -2 0M268.1 746.2a1 1 0 1 0 2 0a1 1 0 1 0 -2 0M258.6 770.4a1 1 0 1 0 2 0a1 1 0 1 0 -2 0M269.6 756.3a1 1 0 1 0 2 0a1 1 0 1 0 -2 0M261.6 751.9a1 1 0 1 0 2 0a1 1 0 1 0 -2 0M262.1 774.1a1 1 0 1 0 2 0a1 1 0 1 0 -2 0M262.1 749.5a1 1 0 1 0 2 0a1 1 0 1 0 -2 0M259.1 746.8a1 1 0 1 0 2 0a1 1 0 1 0 -2 0M270.9 757.8a1 1 0 1 0 2 0a1 1 0 1 0 -2 0M269.9 745a1 1 0 1 0 2 0a1 1 0 1 0 -2 0M259.1 763.6a1 1 0 1 0 2 0a1 1 0 1 0 -2 0M267.1 749.7a1 1 0 1 0 2 0a1 1 0 1 0 -2 0M260.1 749.1a1 1 0 1 0 2 0a1 1 0 1 0 -2 0M270.6 746.9a1 1 0 1 0 2 0a1 1 0 1 0 -2 0M257.4 759.1a1 1 0 1 0 2 0a1 1 0 1 0 -2 0M262.1 736.6a1 1 0 1 0 2 0a1 1 0 1 0 -2 0M263.9 762.9a1 1 0 1 0 2 0a1 1 0 1 0 -2 0M265.9 766.5a1 1 0 1 0 2 0a1 1 0 1 0 -2 0M261.1 740.9a1 1 0 1 0 2 0a1 1 0 1 0 -2 0M265.9 778.6a1 1 0 1 0 2 0a1 1 0 1 0 -2 0M260.4 773a1 1 0 1 0 2 0a1 1 0 1 0 -2 0M332.3 793.9a1 1 0 1 0 2 0a1 1 0 1 0 -2 0M332.3 806.3a1 1 0 1 0 2 0a1 1 0 1 0 -2 0M332.3 799.5a1 1 0 1 0 2 0a1 1 0 1 0 -2 0M332.3 768a1 1 0 1 0 2 0a1 1 0 1 0 -2 0M332.3 780.2a1 1 0 1 0 2 0a1 1 0 1 0 -2 0M332.3 773a1 1 0 1 0 2 0a1 1 0 1 0 -2 0M332.3 775.7a1 1 0 1 0 2 0a1 1 0 1 0 -2 0M334.3 780.2a1 1 0 1 0 2 0a1 1 0 1 0 -2 0M330.3 768a1 1 0 1 0 2 0a1 1 0 1 0 -2 0M330.3 772.5a1 1 0 1 0 2 0a1 1 0 1 0 -2 0M331.3 782a1 1 0 1 0 2 0a1 1 0 1 0 -2 0M332.3 803.1a1 1 0 1 0 2 0a1 1 0 1 0 -2 0M334.3 799.2a1 1 0 1 0 2 0a1 1 0 1 0 -2 0M332.3 784a1 1 0 1 0 2 0a1 1 0 1 0 -2 0M329.6 780.9a1 1 0 1 0 2 0a1 1 0 1 0 -2 0M332.3 816.5a1 1 0 1 0 2 0a1 1 0 1 0 -2 0M334.3 806.5a1 1 0 1 0 2 0a1 1 0 1 0 -2 0M330.3 798.8a1 1 0 1 0 2 0a1 1 0 1 0 -2 0M332.3 788.8a1 1 0 1 0 2 0a1 1 0 1 0 -2 0M334.3 788.8a1 1 0 1 0 2 0a1 1 0 1 0 -2 0M328.6 800.1a1 1 0 1 0 2 0a1 1 0 1 0 -2 0M336.3 800.1a1 1 0 1 0 2 0a1 1 0 1 0 -2 0M330.8 778.7a1 1 0 1 0 2 0a1 1 0 1 0 -2 0M333.8 766.5a1 1 0 1 0 2 0a1 1 0 1 0 -2 0M332.3 770.2a1 1 0 1 0 2 0a1 1 0 1 0 -2 0M332.3 746.7a1 1 0 1 0 2 0a1 1 0 1 0 -2 0M334.1 771.5a1 1 0 1 0 2 0a1 1 0 1 0 -2 0M332.3 765.1a1 1 0 1 0 2 0a1 1 0 1 0 -2 0M334.3 793.6a1 1 0 1 0 2 0a1 1 0 1 0 -2 0M335.8 767a1 1 0 1 0 2 0a1 1 0 1 0 -2 0M336.3 779.8a1 1 0 1 0 2 0a1 1 0 1 0 -2 0M334.3 803.7a1 1 0 1 0 2 0a1 1 0 1 0 -2 0M332.3 811a1 1 0 1 0 2 0a1 1 0 1 0 -2 0M334.3 775a1 1 0 1 0 2 0a1 1 0 1 0 -2 0M335.8 772.6a1 1 0 1 0 2 0a1 1 0 1 0 -2 0M330.3 802.2a1 1 0 1 0 2 0a1 1 0 1 0 -2 0M330.6 804.3a1 1 0 1 0 2 0a1 1 0 1 0 -2 0M328.6 773.6a1 1 0 1 0 2 0a1 1 0 1 0 -2 0M328.1 779.4a1 1 0 1 0 2 0a1 1 0 1 0 -2 0M334.3 784.9a1 1 0 1 0 2 0a1 1 0 1 0 -2 0M328.3 768.1a1 1 0 1 0 2 0a1 1 0 1 0 -2 0M332.8 778.2a1 1 0 1 0 2 0a1 1 0 1 0 -2 0M332.3 797.3a1 1 0 1 0 2 0a1 1 0 1 0 -2 0M338.3 780.3a1 1 0 1 0 2 0a1 1 0 1 0 -2 0M326.1 779a1 1 0 1 0 2 0a1 1 0 1 0 -2 0M332.3 762.4a1 1 0 1 0 2 0a1 1 0 1 0 -2 0M330.3 776.1a1 1 0 1 0 2 0a1 1 0 1 0 -2 0M328.7 780.6a1 1 0 1 0 2 0a1 1 0 1 0 -2 0M337.8 773.2a1 1 0 1 0 2 0a1 1 0 1 0 -2 0M333.6 801.1a1 1 0 1 0 2 0a1 1 0 1 0 -2 0M332.3 835.6a1 1 0 1 0 2 0a1 1 0 1 0 -2 0M326.6 800.4a1 1 0 1 0 2 0a1 1 0 1 0 -2 0M330.8 795.9a1 1 0 1 0 2 0a1 1 0 1 0 -2 0M330.6 785.2a1 1 0 1 0 2 0a1 1 0 1 0 -2 0M334.3 796.5a1 1 0 1 0 2 0a1 1 0 1 0 -2 0M330.6 787.7a1 1 0 1 0 2 0a1 1 0 1 0 -2 0M328.8 795.7a1 1 0 1 0 2 0a1 1 0 1 0 -2 0M328.6 785.1a1 1 0 1 0 2 0a1 1 0 1 0 -2 0M334.8 777a1 1 0 1 0 2 0a1 1 0 1 0 -2 0M332.6 786.8a1 1 0 1 0 2 0a1 1 0 1 0 -2 0M336.3 784.5a1 1 0 1 0 2 0a1 1 0 1 0 -2 0M334.1 764.1a1 1 0 1 0 2 0a1 1 0 1 0 -2 0M326.8 784a1 1 0 1 0 2 0a1 1 0 1 0 -2 0M338.1 785.7a1 1 0 1 0 2 0a1 1 0 1 0 -2 0M326.6 774.1a1 1 0 1 0 2 0a1 1 0 1 0 -2 0M333.5 779.3a1 1 0 1 0 2 0a1 1 0 1 0 -2 0M325.1 785.1a1 1 0 1 0 2 0a1 1 0 1 0 -2 0M328.6 804.4a1 1 0 1 0 2 0a1 1 0 1 0 -2 0M329.3 789.3a1 1 0 1 0 2 0a1 1 0 1 0 -2 0M336.8 777.9a1 1 0 1 0 2 0a1 1 0 1 0 -2 0M338.3 779a1 1 0 1 0 2 0a1 1 0 1 0 -2 0M330.3 762.5a1 1 0 1 0 2 0a1 1 0 1 0 -2 0M330.3 806.4a1 1 0 1 0 2 0a1 1 0 1 0 -2 0M336.3 789.6a1 1 0 1 0 2 0a1 1 0 1 0 -2 0M336.3 796.2a1 1 0 1 0 2 0a1 1 0 1 0 -2 0M336.3 803.9a1 1 0 1 0 2 0a1 1 0 1 0 -2 0M327.3 789.5a1 1 0 1 0 2 0a1 1 0 1 0 -2 0M326.8 796.5a1 1 0 1 0 2 0a1 1 0 1 0 -2 0M334.3 769.4a1 1 0 1 0 2 0a1 1 0 1 0 -2 0M336.1 787.5a1 1 0 1 0 2 0a1 1 0 1 0 -2 0M400.5 807.7a1 1 0 1 0 2 0a1 1 0 1 0 -2 0M400.5 815.5a1 1 0 1 0 2 0a1 1 0 1 0 -2 0M400.5 797.8a1 1 0 1 0 2 0a1 1 0 1 0 -2 0M400.5 795.6a1 1 0 1 0 2 0a1 1 0 1 0 -2 0M400.5 813a1 1 0 1 0 2 0a1 1 0 1 0 -2 0M400 809.7a1 1 0 1 0 2 0a1 1 0 1 0 -2 0M400.5 785.5a1 1 0 1 0 2 0a1 1 0 1 0 -2 0M400.5 820a1 1 0 1 0 2 0a1 1 0 1 0 -2 0M400.5 805.5a1 1 0 1 0 2 0a1 1 0 1 0 -2 0M398.5 813.1a1 1 0 1 0 2 0a1 1 0 1 0 -2 0M402.5 813a1 1 0 1 0 2 0a1 1 0 1 0 -2 0M400.5 802a1 1 0 1 0 2 0a1 1 0 1 0 -2 0M402.5 808.5a1 1 0 1 0 2 0a1 1 0 1 0 -2 0M400.5 825.5a1 1 0 1 0 2 0a1 1 0 1 0 -2 0M400.5 789.2a1 1 0 1 0 2 0a1 1 0 1 0 -2 0M403 815a1 1 0 1 0 2 0a1 1 0 1 0 -2 0M401 793.7a1 1 0 1 0 2 0a1 1 0 1 0 -2 0M396.5 812.5a1 1 0 1 0 2 0a1 1 0 1 0 -2 0M404.5 812.8a1 1 0 1 0 2 0a1 1 0 1 0 -2 0M398.5 820.5a1 1 0 1 0 2 0a1 1 0 1 0 -2 0M401.8 810.8a1 1 0 1 0 2 0a1 1 0 1 0 -2 0M400.5 774.4a1 1 0 1 0 2 0a1 1 0 1 0 -2 0M400.5 830.6a1 1 0 1 0 2 0a1 1 0 1 0 -2 0M398 809.2a1 1 0 1 0 2 0a1 1 0 1 0 -2 0M402.5 819.8a1 1 0 1 0 2 0a1 1 0 1 0 -2 0M402.5 789.9a1 1 0 1 0 2 0a1 1 0 1 0 -2 0M398.5 826.1a1 1 0 1 0 2 0a1 1 0 1 0 -2 0M402.5 825.4a1 1 0 1 0 2 0a1 1 0 1 0 -2 0M404 827a1 1 0 1 0 2 0a1 1 0 1 0 -2 0M402 832a1 1 0 1 0 2 0a1 1 0 1 0 -2 0M402 800.5a1 1 0 1 0 2 0a1 1 0 1 0 -2 0M404.5 808.9a1 1 0 1 0 2 0a1 1 0 1 0 -2 0M398.8 816.5a1 1 0 1 0 2 0a1 1 0 1 0 -2 0M401.5 817.2a1 1 0 1 0 2 0a1 1 0 1 0 -2 0M399 792.8a1 1 0 1 0 2 0a1 1 0 1 0 -2 0M396.8 825.2a1 1 0 1 0 2 0a1 1 0 1 0 -2 0M400.8 791.5a1 1 0 1 0 2 0a1 1 0 1 0 -2 0M396 808.6a1 1 0 1 0 2 0a1 1 0 1 0 -2 0M405.8 811.1a1 1 0 1 0 2 0a1 1 0 1 0 -2 0M398.8 790.6a1 1 0 1 0 2 0a1 1 0 1 0 -2 0M406.5 813.1a1 1 0 1 0 2 0a1 1 0 1 0 -2 0M395.8 810.6a1 1 0 1 0 2 0a1 1 0 1 0 -2 0M402.5 805.5a1 1 0 1 0 2 0a1 1 0 1 0 -2 0M398.5 806.9a1 1 0 1 0 2 0a1 1 0 1 0 -2 0M393.8 811.1a1 1 0 1 0 2 0a1 1 0 1 0 -2 0M404.2 806.6a1 1 0 1 0 2 0a1 1 0 1 0 -2 0M406.2 807.8a1 1 0 1 0 2 0a1 1 0 1 0 -2 0M394 808.3a1 1 0 1 0 2 0a1 1 0 1 0 -2 0M403.5 817.6a1 1 0 1 0 2 0a1 1 0 1 0 -2 0M402.5 795.4a1 1 0 1 0 2 0a1 1 0 1 0 -2 0M398.5 795.3a1 1 0 1 0 2 0a1 1 0 1 0 -2 0M400.5 823.1a1 1 0 1 0 2 0a1 1 0 1 0 -2 0M397 805.4a1 1 0 1 0 2 0a1 1 0 1 0 -2 0M395.5 807a1 1 0 1 0 2 0a1 1 0 1 0 -2 0M398.5 798.6a1 1 0 1 0 2 0a1 1 0 1 0 -2 0M400.5 842.2a1 1 0 1 0 2 0a1 1 0 1 0 -2 0M405.8 805.1a1 1 0 1 0 2 0a1 1 0 1 0 -2 0M400.4 807.5a1 1 0 1 0 2 0a1 1 0 1 0 -2 0M402.8 792.5a1 1 0 1 0 2 0a1 1 0 1 0 -2 0M398.5 786.4a1 1 0 1 0 2 0a1 1 0 1 0 -2 0M404.2 796.6a1 1 0 1 0 2 0a1 1 0 1 0 -2 0M396.8 791.5a1 1 0 1 0 2 0a1 1 0 1 0 -2 0M400.5 827.8a1 1 0 1 0 2 0a1 1 0 1 0 -2 0M404.5 819.8a1 1 0 1 0 2 0a1 1 0 1 0 -2 0M396.8 794.2a1 1 0 1 0 2 0a1 1 0 1 0 -2 0M393.2 806.5a1 1 0 1 0 2 0a1 1 0 1 0 -2 0M405.5 795a1 1 0 1 0 2 0a1 1 0 1 0 -2 0M398.5 801.1a1 1 0 1 0 2 0a1 1 0 1 0 -2 0M402.5 786a1 1 0 1 0 2 0a1 1 0 1 0 -2 0M407.8 806.2a1 1 0 1 0 2 0a1 1 0 1 0 -2 0M396.5 820.7a1 1 0 1 0 2 0a1 1 0 1 0 -2 0M404.5 824.7a1 1 0 1 0 2 0a1 1 0 1 0 -2 0M394.8 794.8a1 1 0 1 0 2 0a1 1 0 1 0 -2 0M395 826.4a1 1 0 1 0 2 0a1 1 0 1 0 -2 0M407.5 795.3a1 1 0 1 0 2 0a1 1 0 1 0 -2 0M398.2 788.4a1 1 0 1 0 2 0a1 1 0 1 0 -2 0M396.8 816.7a1 1 0 1 0 2 0a1 1 0 1 0 -2 0M403.2 821.7a1 1 0 1 0 2 0a1 1 0 1 0 -2 0M407.3 807a1 1 0 1 0 2 0a1 1 0 1 0 -2 0M395 813.9a1 1 0 1 0 2 0a1 1 0 1 0 -2 0M468.7 766.8a1 1 0 1 0 2 0a1 1 0 1 0 -2 0M468.7 749.8a1 1 0 1 0 2 0a1 1 0 1 0 -2 0M468.7 791.1a1 1 0 1 0 2 0a1 1 0 1 0 -2 0M468.7 763.6a1 1 0 1 0 2 0a1 1 0 1 0 -2 0M468.7 775.5a1 1 0 1 0 2 0a1 1 0 1 0 -2 0M468.7 797.5a1 1 0 1 0 2 0a1 1 0 1 0 -2 0M468.7 758.8a1 1 0 1 0 2 0a1 1 0 1 0 -2 0M468.7 754.9a1 1 0 1 0 2 0a1 1 0 1 0 -2 0M468.7 814a1 1 0 1 0 2 0a1 1 0 1 0 -2 0M468.7 809a1 1 0 1 0 2 0a1 1 0 1 0 -2 0M468.7 800a1 1 0 1 0 2 0a1 1 0 1 0 -2 0M470.7 791.1a1 1 0 1 0 2 0a1 1 0 1 0 -2 0M466.7 808.1a1 1 0 1 0 2 0a1 1 0 1 0 -2 0M468.7 783.3a1 1 0 1 0 2 0a1 1 0 1 0 -2 0M470.7 808.9a1 1 0 1 0 2 0a1 1 0 1 0 -2 0M470.5 784.6a1 1 0 1 0 2 0a1 1 0 1 0 -2 0M468.7 803.1a1 1 0 1 0 2 0a1 1 0 1 0 -2 0M468.7 770.6a1 1 0 1 0 2 0a1 1 0 1 0 -2 0M468.7 819.2a1 1 0 1 0 2 0a1 1 0 1 0 -2 0M468.7 773.4a1 1 0 1 0 2 0a1 1 0 1 0 -2 0M470.7 798.2a1 1 0 1 0 2 0a1 1 0 1 0 -2 0M468.7 777.9a1 1 0 1 0 2 0a1 1 0 1 0 -2 0M466.7 763.3a1 1 0 1 0 2 0a1 1 0 1 0 -2 0M466.7 802.4a1 1 0 1 0 2 0a1 1 0 1 0 -2 0M468.7 794.7a1 1 0 1 0 2 0a1 1 0 1 0 -2 0M470.7 767.4a1 1 0 1 0 2 0a1 1 0 1 0 -2 0M468 805a1 1 0 1 0 2 0a1 1 0 1 0 -2 0M470.7 777.8a1 1 0 1 0 2 0a1 1 0 1 0 -2 0M468.7 781.2a1 1 0 1 0 2 0a1 1 0 1 0 -2 0M466.7 799.3a1 1 0 1 0 2 0a1 1 0 1 0 -2 0M467.5 765.1a1 1 0 1 0 2 0a1 1 0 1 0 -2 0M470.7 774.8a1 1 0 1 0 2 0a1 1 0 1 0 -2 0M466.7 784a1 1 0 1 0 2 0a1 1 0 1 0 -2 0M466.7 775.8a1 1 0 1 0 2 0a1 1 0 1 0 -2 0M468.7 728.7a1 1 0 1 0 2 0a1 1 0 1 0 -2 0M468.7 816.5a1 1 0 1 0 2 0a1 1 0 1 0 -2 0M466.7 814.4a1 1 0 1 0 2 0a1 1 0 1 0 -2 0M465.7 777.7a1 1 0 1 0 2 0a1 1 0 1 0 -2 0M466.7 792.1a1 1 0 1 0 2 0a1 1 0 1 0 -2 0M472.7 777.9a1 1 0 1 0 2 0a1 1 0 1 0 -2 0M465.7 766.3a1 1 0 1 0 2 0a1 1 0 1 0 -2 0M470.2 804.4a1 1 0 1 0 2 0a1 1 0 1 0 -2 0M470.7 763.3a1 1 0 1 0 2 0a1 1 0 1 0 -2 0M467 755.9a1 1 0 1 0 2 0a1 1 0 1 0 -2 0M470.5 753.7a1 1 0 1 0 2 0a1 1 0 1 0 -2 0M472.2 799.6a1 1 0 1 0 2 0a1 1 0 1 0 -2 0M472.7 766.8a1 1 0 1 0 2 0a1 1 0 1 0 -2 0M472.2 792.6a1 1 0 1 0 2 0a1 1 0 1 0 -2 0M468.7 786.3a1 1 0 1 0 2 0a1 1 0 1 0 -2 0M466.7 780.5a1 1 0 1 0 2 0a1 1 0 1 0 -2 0M464.2 779.2a1 1 0 1 0 2 0a1 1 0 1 0 -2 0M474.7 778.1a1 1 0 1 0 2 0a1 1 0 1 0 -2 0M470.7 813.9a1 1 0 1 0 2 0a1 1 0 1 0 -2 0M463.7 767a1 1 0 1 0 2 0a1 1 0 1 0 -2 0M466.7 771.4a1 1 0 1 0 2 0a1 1 0 1 0 -2 0M470.7 781.7a1 1 0 1 0 2 0a1 1 0 1 0 -2 0M465.7 785.8a1 1 0 1 0 2 0a1 1 0 1 0 -2 0M464.7 798.6a1 1 0 1 0 2 0a1 1 0 1 0 -2 0M471 802.5a1 1 0 1 0 2 0a1 1 0 1 0 -2 0M468.7 752.7a1 1 0 1 0 2 0a1 1 0 1 0 -2 0M464.7 792.6a1 1 0 1 0 2 0a1 1 0 1 0 -2 0M472.5 784.6a1 1 0 1 0 2 0a1 1 0 1 0 -2 0M463.7 800.4a1 1 0 1 0 2 0a1 1 0 1 0 -2 0M465.2 812.9a1 1 0 1 0 2 0a1 1 0 1 0 -2 0M470.7 771a1 1 0 1 0 2 0a1 1 0 1 0 -2 0M468.7 734.4a1 1 0 1 0 2 0a1 1 0 1 0 -2 0M474.7 767.2a1 1 0 1 0 2 0a1 1 0 1 0 -2 0M465.2 769.9a1 1 0 1 0 2 0a1 1 0 1 0 -2 0M472.2 815.3a1 1 0 1 0 2 0a1 1 0 1 0 -2 0M463.7 785.9a1 1 0 1 0 2 0a1 1 0 1 0 -2 0M474.5 784.5a1 1 0 1 0 2 0a1 1 0 1 0 -2 0M467.5 768.9a1 1 0 1 0 2 0a1 1 0 1 0 -2 0M466 804.3a1 1 0 1 0 2 0a1 1 0 1 0 -2 0M474.2 799.3a1 1 0 1 0 2 0a1 1 0 1 0 -2 0M472.7 770.6a1 1 0 1 0 2 0a1 1 0 1 0 -2 0M462.2 778.3a1 1 0 1 0 2 0a1 1 0 1 0 -2 0M464.7 808.6a1 1 0 1 0 2 0a1 1 0 1 0 -2 0M470.7 795.1a1 1 0 1 0 2 0a1 1 0 1 0 -2 0M463.2 769.4a1 1 0 1 0 2 0a1 1 0 1 0 -2 0M464.7 783.9a1 1 0 1 0 2 0a1 1 0 1 0 -2 0M536.9 756.4a1 1 0 1 0 2 0a1 1 0 1 0 -2 0M536.9 765.1a1 1 0 1 0 2 0a1 1 0 1 0 -2 0M536.9 772.7a1 1 0 1 0 2 0a1 1 0 1 0 -2 0M536.9 768.8a1 1 0 1 0 2 0a1 1 0 1 0 -2 0M536.9 760.4a1 1 0 1 0 2 0a1 1 0 1 0 -2 0M538.9 761.2a1 1 0 1 0 2 0a1 1 0 1 0 -2 0M537.9 763.4a1 1 0 1 0 2 0a1 1 0 1 0 -2 0M537.7 758.3a1 1 0 1 0 2 0a1 1 0 1 0 -2 0M538.9 772.3a1 1 0 1 0 2 0a1 1 0 1 0 -2 0M536.2 754.5a1 1 0 1 0 2 0a1 1 0 1 0 -2 0M536.9 784.4a1 1 0 1 0 2 0a1 1 0 1 0 -2 0M534.9 765.4a1 1 0 1 0 2 0a1 1 0 1 0 -2 0M535.2 770a1 1 0 1 0 2 0a1 1 0 1 0 -2 0M536.9 797.5a1 1 0 1 0 2 0a1 1 0 1 0 -2 0M538.2 754.4a1 1 0 1 0 2 0a1 1 0 1 0 -2 0M534.9 759.5a1 1 0 1 0 2 0a1 1 0 1 0 -2 0M536.9 742.6a1 1 0 1 0 2 0a1 1 0 1 0 -2 0M538.9 769.2a1 1 0 1 0 2 0a1 1 0 1 0 -2 0M536.9 734.5a1 1 0 1 0 2 0a1 1 0 1 0 -2 0M534.4 753.3a1 1 0 1 0 2 0a1 1 0 1 0 -2 0M535.2 767.8a1 1 0 1 0 2 0a1 1 0 1 0 -2 0M533.2 768.6a1 1 0 1 0 2 0a1 1 0 1 0 -2 0M539.7 752.9a1 1 0 1 0 2 0a1 1 0 1 0 -2 0M536.9 748.6a1 1 0 1 0 2 0a1 1 0 1 0 -2 0M534.9 749a1 1 0 1 0 2 0a1 1 0 1 0 -2 0M540.4 759.8a1 1 0 1 0 2 0a1 1 0 1 0 -2 0M534.9 757.3a1 1 0 1 0 2 0a1 1 0 1 0 -2 0M540.9 769.1a1 1 0 1 0 2 0a1 1 0 1 0 -2 0M533.9 755.5a1 1 0 1 0 2 0a1 1 0 1 0 -2 0M532.9 759.4a1 1 0 1 0 2 0a1 1 0 1 0 -2 0M536.9 776a1 1 0 1 0 2 0a1 1 0 1 0 -2 0M536.9 778.2a1 1 0 1 0 2 0a1 1 0 1 0 -2 0M535.2 761.5a1 1 0 1 0 2 0a1 1 0 1 0 -2 0M534.4 763.4a1 1 0 1 0 2 0a1 1 0 1 0 -2 0M536.9 751.6a1 1 0 1 0 2 0a1 1 0 1 0 -2 0M532.2 770.4a1 1 0 1 0 2 0a1 1 0 1 0 -2 0M536.9 740.6a1 1 0 1 0 2 0a1 1 0 1 0 -2 0M537.7 744.5a1 1 0 1 0 2 0a1 1 0 1 0 -2 0M536.9 718.8a1 1 0 1 0 2 0a1 1 0 1 0 -2 0M538.9 776.3a1 1 0 1 0 2 0a1 1 0 1 0 -2 0M535.4 744.1a1 1 0 1 0 2 0a1 1 0 1 0 -2 0M535.2 783.2a1 1 0 1 0 2 0a1 1 0 1 0 -2 0M539.2 743.1a1 1 0 1 0 2 0a1 1 0 1 0 -2 0M538.9 784a1 1 0 1 0 2 0a1 1 0 1 0 -2 0M536.9 737.5a1 1 0 1 0 2 0a1 1 0 1 0 -2 0M534.9 776.4a1 1 0 1 0 2 0a1 1 0 1 0 -2 0M533.4 744.3a1 1 0 1 0 2 0a1 1 0 1 0 -2 0M539.2 756.2a1 1 0 1 0 2 0a1 1 0 1 0 -2 0M539.9 763.9a1 1 0 1 0 2 0a1 1 0 1 0 -2 0M538.9 778.3a1 1 0 1 0 2 0a1 1 0 1 0 -2 0M532.9 762a1 1 0 1 0 2 0a1 1 0 1 0 -2 0M534.9 751.2a1 1 0 1 0 2 0a1 1 0 1 0 -2 0M540.7 775.2a1 1 0 1 0 2 0a1 1 0 1 0 -2 0M532.9 751.3a1 1 0 1 0 2 0a1 1 0 1 0 -2 0M534.9 773.6a1 1 0 1 0 2 0a1 1 0 1 0 -2 0M538.9 747.7a1 1 0 1 0 2 0a1 1 0 1 0 -2 0M541.4 761.6a1 1 0 1 0 2 0a1 1 0 1 0 -2 0M531.2 768.2a1 1 0 1 0 2 0a1 1 0 1 0 -2 0M530.9 762.2a1 1 0 1 0 2 0a1 1 0 1 0 -2 0M540.9 755.1a1 1 0 1 0 2 0a1 1 0 1 0 -2 0M540.9 744.1a1 1 0 1 0 2 0a1 1 0 1 0 -2 0M542.2 767.5a1 1 0 1 0 2 0a1 1 0 1 0 -2 0M536.7 746.3a1 1 0 1 0 2 0a1 1 0 1 0 -2 0M534.9 740.1a1 1 0 1 0 2 0a1 1 0 1 0 -2 0M531.9 755.8a1 1 0 1 0 2 0a1 1 0 1 0 -2 0M542.9 755.4a1 1 0 1 0 2 0a1 1 0 1 0 -2 0M529.9 756.1a1 1 0 1 0 2 0a1 1 0 1 0 -2 0M531.7 745.3a1 1 0 1 0 2 0a1 1 0 1 0 -2 0M532.9 773.8a1 1 0 1 0 2 0a1 1 0 1 0 -2 0M540.9 748.3a1 1 0 1 0 2 0a1 1 0 1 0 -2 0M534.2 771.8a1 1 0 1 0 2 0a1 1 0 1 0 -2 0M537.9 767a1 1 0 1 0 2 0a1 1 0 1 0 -2 0M605.1 785.4a1 1 0 1 0 2 0a1 1 0 1 0 -2 0M605.1 776.5a1 1 0 1 0 2 0a1 1 0 1 0 -2 0M605.1 804.3a1 1 0 1 0 2 0a1 1 0 1 0 -2 0M605.1 794.6a1 1 0 1 0 2 0a1 1 0 1 0 -2 0M605.1 783.8a1 1 0 1 0 2 0a1 1 0 1 0 -2 0M605.1 787.3a1 1 0 1 0 2 0a1 1 0 1 0 -2 0M605.1 781a1 1 0 1 0 2 0a1 1 0 1 0 -2 0M605.1 799.1a1 1 0 1 0 2 0a1 1 0 1 0 -2 0M603.6 783.8a1 1 0 1 0 2 0a1 1 0 1 0 -2 0M606.6 785.5a1 1 0 1 0 2 0a1 1 0 1 0 -2 0M603.6 785.1a1 1 0 1 0 2 0a1 1 0 1 0 -2 0M605.1 774.4a1 1 0 1 0 2 0a1 1 0 1 0 -2 0M606.6 781.2a1 1 0 1 0 2 0a1 1 0 1 0 -2 0M603.6 799.3a1 1 0 1 0 2 0a1 1 0 1 0 -2 0M605.1 792.1a1 1 0 1 0 2 0a1 1 0 1 0 -2 0M603.9 795.3a1 1 0 1 0 2 0a1 1 0 1 0 -2 0M605.1 771.6a1 1 0 1 0 2 0a1 1 0 1 0 -2 0M602.6 786.2a1 1 0 1 0 2 0a1 1 0 1 0 -2 0M604.1 793.5a1 1 0 1 0 2 0a1 1 0 1 0 -2 0M603.9 781.7a1 1 0 1 0 2 0a1 1 0 1 0 -2 0M605.1 796.9a1 1 0 1 0 2 0a1 1 0 1 0 -2 0M603.6 804.1a1 1 0 1 0 2 0a1 1 0 1 0 -2 0M605.1 779.6a1 1 0 1 0 2 0a1 1 0 1 0 -2 0M605.1 802.1a1 1 0 1 0 2 0a1 1 0 1 0 -2 0M607.9 784.7a1 1 0 1 0 2 0a1 1 0 1 0 -2 0M606.4 787.7a1 1 0 1 0 2 0a1 1 0 1 0 -2 0M604.1 777.4a1 1 0 1 0 2 0a1 1 0 1 0 -2 0M606.4 804.7a1 1 0 1 0 2 0a1 1 0 1 0 -2 0M608.4 785.9a1 1 0 1 0 2 0a1 1 0 1 0 -2 0M601.6 785.3a1 1 0 1 0 2 0a1 1 0 1 0 -2 0M606.4 798.4a1 1 0 1 0 2 0a1 1 0 1 0 -2 0M605.1 800.8a1 1 0 1 0 2 0a1 1 0 1 0 -2 0M604.1 788.2a1 1 0 1 0 2 0a1 1 0 1 0 -2 0M607.6 799.1a1 1 0 1 0 2 0a1 1 0 1 0 -2 0M604.1 772.5a1 1 0 1 0 2 0a1 1 0 1 0 -2 0M606.4 783.2a1 1 0 1 0 2 0a1 1 0 1 0 -2 0M605.1 790.6a1 1 0 1 0 2 0a1 1 0 1 0 -2 0M603.6 791.9a1 1 0 1 0 2 0a1 1 0 1 0 -2 0M606.6 779.8a1 1 0 1 0 2 0a1 1 0 1 0 -2 0M606.6 791a1 1 0 1 0 2 0a1 1 0 1 0 -2 0M603.9 802.7a1 1 0 1 0 2 0a1 1 0 1 0 -2 0M606.6 800.7a1 1 0 1 0 2 0a1 1 0 1 0 -2 0M606.4 776a1 1 0 1 0 2 0a1 1 0 1 0 -2 0M602.6 798.4a1 1 0 1 0 2 0a1 1 0 1 0 -2 0M606.1 793.1a1 1 0 1 0 2 0a1 1 0 1 0 -2 0M608.9 798.6a1 1 0 1 0 2 0a1 1 0 1 0 -2 0M605.1 810a1 1 0 1 0 2 0a1 1 0 1 0 -2 0M602.6 781.3a1 1 0 1 0 2 0a1 1 0 1 0 -2 0M604.1 786.4a1 1 0 1 0 2 0a1 1 0 1 0 -2 0M605.4 773.1a1 1 0 1 0 2 0a1 1 0 1 0 -2 0M605.1 807.4a1 1 0 1 0 2 0a1 1 0 1 0 -2 0M606.6 794.7a1 1 0 1 0 2 0a1 1 0 1 0 -2 0M606.6 773.7a1 1 0 1 0 2 0a1 1 0 1 0 -2 0M607.4 792.3a1 1 0 1 0 2 0a1 1 0 1 0 -2 0M600.9 786.5a1 1 0 1 0 2 0a1 1 0 1 0 -2 0M607.9 783.1a1 1 0 1 0 2 0a1 1 0 1 0 -2 0M605.1 789.2a1 1 0 1 0 2 0a1 1 0 1 0 -2 0M602.6 793.9a1 1 0 1 0 2 0a1 1 0 1 0 -2 0M607.4 803.8a1 1 0 1 0 2 0a1 1 0 1 0 -2 0M602.9 801.7a1 1 0 1 0 2 0a1 1 0 1 0 -2 0M602.6 788a1 1 0 1 0 2 0a1 1 0 1 0 -2 0M607.9 780.7a1 1 0 1 0 2 0a1 1 0 1 0 -2 0M608.9 781.6a1 1 0 1 0 2 0a1 1 0 1 0 -2 0M608.4 793.2a1 1 0 1 0 2 0a1 1 0 1 0 -2 0M601.4 794.4a1 1 0 1 0 2 0a1 1 0 1 0 -2 0M602.1 791.9a1 1 0 1 0 2 0a1 1 0 1 0 -2 0M602.4 783.3a1 1 0 1 0 2 0a1 1 0 1 0 -2 0M605.4 778.2a1 1 0 1 0 2 0a1 1 0 1 0 -2 0M603.9 778.9a1 1 0 1 0 2 0a1 1 0 1 0 -2 0M601.4 780.8a1 1 0 1 0 2 0a1 1 0 1 0 -2 0M607.6 795.5a1 1 0 1 0 2 0a1 1 0 1 0 -2 0M609.1 794.3a1 1 0 1 0 2 0a1 1 0 1 0 -2 0M603.9 806.6a1 1 0 1 0 2 0a1 1 0 1 0 -2 0M601.4 798.8a1 1 0 1 0 2 0a1 1 0 1 0 -2 0M606.4 808.1a1 1 0 1 0 2 0a1 1 0 1 0 -2 0M610.1 781.1a1 1 0 1 0 2 0a1 1 0 1 0 -2 0M609.4 783.4a1 1 0 1 0 2 0a1 1 0 1 0 -2 0M610.1 799.1a1 1 0 1 0 2 0a1 1 0 1 0 -2 0M603.9 773.9a1 1 0 1 0 2 0a1 1 0 1 0 -2 0M604.4 798a1 1 0 1 0 2 0a1 1 0 1 0 -2 0"/>
<path fill="#ff4a28" d="M78.2 823.9a1 1 0 1 0 2 0a1 1 0 1 0 -2 0M78.2 828.5a1 1 0 1 0 2 0a1 1 0 1 0 -2 0M78.2 819.2a1 1 0 1 0 2 0a1 1 0 1 0 -2 0M76.7 824.5a1 1 0 1 0 2 0a1 1 0 1 0 -2 0M79.7 828.6a1 1 0 1 0 2 0a1 1 0 1 0 -2 0M79.7 824.6a1 1 0 1 0 2 0a1 1 0 1 0 -2 0M77 827.7a1 1 0 1 0 2 0a1 1 0 1 0 -2 0M78.5 827.1a1 1 0 1 0 2 0a1 1 0 1 0 -2 0M78.2 831.2a1 1 0 1 0 2 0a1 1 0 1 0 -2 0M78.2 817.7a1 1 0 1 0 2 0a1 1 0 1 0 -2 0M76.7 830.5a1 1 0 1 0 2 0a1 1 0 1 0 -2 0M79.2 822.7a1 1 0 1 0 2 0a1 1 0 1 0 -2 0M77.5 822.6a1 1 0 1 0 2 0a1 1 0 1 0 -2 0M76 822.4a1 1 0 1 0 2 0a1 1 0 1 0 -2 0M78.2 833.1a1 1 0 1 0 2 0a1 1 0 1 0 -2 0M76.7 819.9a1 1 0 1 0 2 0a1 1 0 1 0 -2 0M78.2 821.4a1 1 0 1 0 2 0a1 1 0 1 0 -2 0M78.2 825.5a1 1 0 1 0 2 0a1 1 0 1 0 -2 0M80.7 822a1 1 0 1 0 2 0a1 1 0 1 0 -2 0M76.2 829.2a1 1 0 1 0 2 0a1 1 0 1 0 -2 0M81 823.5a1 1 0 1 0 2 0a1 1 0 1 0 -2 0M80.7 827.4a1 1 0 1 0 2 0a1 1 0 1 0 -2 0M76 825.8a1 1 0 1 0 2 0a1 1 0 1 0 -2 0M75.5 827.5a1 1 0 1 0 2 0a1 1 0 1 0 -2 0M79.7 818.5a1 1 0 1 0 2 0a1 1 0 1 0 -2 0M81.2 825a1 1 0 1 0 2 0a1 1 0 1 0 -2 0M81.2 829.1a1 1 0 1 0 2 0a1 1 0 1 0 -2 0M74.7 829.2a1 1 0 1 0 2 0a1 1 0 1 0 -2 0M74.7 825a1 1 0 1 0 2 0a1 1 0 1 0 -2 0M78.2 808a1 1 0 1 0 2 0a1 1 0 1 0 -2 0M82.2 827.3a1 1 0 1 0 2 0a1 1 0 1 0 -2 0M74.7 821.6a1 1 0 1 0 2 0a1 1 0 1 0 -2 0M74 823.7a1 1 0 1 0 2 0a1 1 0 1 0 -2 0M73.5 828.1a1 1 0 1 0 2 0a1 1 0 1 0 -2 0M74.2 826.5a1 1 0 1 0 2 0a1 1 0 1 0 -2 0M82.7 825.2a1 1 0 1 0 2 0a1 1 0 1 0 -2 0M76.7 817.7a1 1 0 1 0 2 0a1 1 0 1 0 -2 0M78.2 841a1 1 0 1 0 2 0a1 1 0 1 0 -2 0M78.2 810a1 1 0 1 0 2 0a1 1 0 1 0 -2 0M72.7 824.7a1 1 0 1 0 2 0a1 1 0 1 0 -2 0M82.5 823.3a1 1 0 1 0 2 0a1 1 0 1 0 -2 0M83.7 827.3a1 1 0 1 0 2 0a1 1 0 1 0 -2 0M82.7 829.2a1 1 0 1 0 2 0a1 1 0 1 0 -2 0M72.5 823.1a1 1 0 1 0 2 0a1 1 0 1 0 -2 0M72 827.9a1 1 0 1 0 2 0a1 1 0 1 0 -2 0M83.5 822.1a1 1 0 1 0 2 0a1 1 0 1 0 -2 0M79.7 826.1a1 1 0 1 0 2 0a1 1 0 1 0 -2 0M78.2 805.8a1 1 0 1 0 2 0a1 1 0 1 0 -2 0M85 822.7a1 1 0 1 0 2 0a1 1 0 1 0 -2 0M71 823.2a1 1 0 1 0 2 0a1 1 0 1 0 -2 0M71.9 823.1a1 1 0 1 0 2 0a1 1 0 1 0 -2 0M84.2 825.8a1 1 0 1 0 2 0a1 1 0 1 0 -2 0M73.2 821.4a1 1 0 1 0 2 0a1 1 0 1 0 -2 0M85.2 826.9a1 1 0 1 0 2 0a1 1 0 1 0 -2 0M79.5 820.6a1 1 0 1 0 2 0a1 1 0 1 0 -2 0M71.7 821.6a1 1 0 1 0 2 0a1 1 0 1 0 -2 0M76.4 821.8a1 1 0 1 0 2 0a1 1 0 1 0 -2 0M81 821.7a1 1 0 1 0 2 0a1 1 0 1 0 -2 0M72.5 822.8a1 1 0 1 0 2 0a1 1 0 1 0 -2 0M79.5 816.9a1 1 0 1 0 2 0a1 1 0 1 0 -2 0M83.7 824.2a1 1 0 1 0 2 0a1 1 0 1 0 -2 0M79.7 831a1 1 0 1 0 2 0a1 1 0 1 0 -2 0M71.7 825.8a1 1 0 1 0 2 0a1 1 0 1 0 -2 0M75.5 818.7a1 1 0 1 0 2 0a1 1 0 1 0 -2 0M81.2 819.1a1 1 0 1 0 2 0a1 1 0 1 0 -2 0M75.3 826a1 1 0 1 0 2 0a1 1 0 1 0 -2 0M78.2 844.4a1 1 0 1 0 2 0a1 1 0 1 0 -2 0M85.5 824.9a1 1 0 1 0 2 0a1 1 0 1 0 -2 0M74 818.1a1 1 0 1 0 2 0a1 1 0 1 0 -2 0M79.6 825.6a1 1 0 1 0 2 0a1 1 0 1 0 -2 0M81 817.1a1 1 0 1 0 2 0a1 1 0 1 0 -2 0M78.2 838a1 1 0 1 0 2 0a1 1 0 1 0 -2 0M84.4 822a1 1 0 1 0 2 0a1 1 0 1 0 -2 0M74.2 825.6a1 1 0 1 0 2 0a1 1 0 1 0 -2 0M75.5 831.5a1 1 0 1 0 2 0a1 1 0 1 0 -2 0M73.7 824.8a1 1 0 1 0 2 0a1 1 0 1 0 -2 0M81.2 830.6a1 1 0 1 0 2 0a1 1 0 1 0 -2 0M71.4 824.5a1 1 0 1 0 2 0a1 1 0 1 0 -2 0M77.7 823.1a1 1 0 1 0 2 0a1 1 0 1 0 -2 0M81 824.1a1 1 0 1 0 2 0a1 1 0 1 0 -2 0M82.9 828.2a1 1 0 1 0 2 0a1 1 0 1 0 -2 0M81.4 827.1a1 1 0 1 0 2 0a1 1 0 1 0 -2 0M79.8 822a1 1 0 1 0 2 0a1 1 0 1 0 -2 0M83.2 827.2a1 1 0 1 0 2 0a1 1 0 1 0 -2 0M82 820.6a1 1 0 1 0 2 0a1 1 0 1 0 -2 0M73.6 821.5a1 1 0 1 0 2 0a1 1 0 1 0 -2 0M72.7 826.1a1 1 0 1 0 2 0a1 1 0 1 0 -2 0M78.9 822.9a1 1 0 1 0 2 0a1 1 0 1 0 -2 0M74.6 821.8a1 1 0 1 0 2 0a1 1 0 1 0 -2 0M75.2 825a1 1 0 1 0 2 0a1 1 0 1 0 -2 0M82.3 824a1 1 0 1 0 2 0a1 1 0 1 0 -2 0M79.7 833.6a1 1 0 1 0 2 0a1 1 0 1 0 -2 0M75.9 824.9a1 1 0 1 0 2 0a1 1 0 1 0 -2 0M71.2 825.7a1 1 0 1 0 2 0a1 1 0 1 0 -2 0M76.7 833.4a1 1 0 1 0 2 0a1 1 0 1 0 -2 0M74 830.9a1 1 0 1 0 2 0a1 1 0 1 0 -2 0M214.6 820.6a1 1 0 1 0 2 0a1 1 0 1 0 -2 0M214.6 830.5a1 1 0 1 0 2 0a1 1 0 1 0 -2 0M214.6 804.7a1 1 0 1 0 2 0a1 1 0 1 0 -2 0M215.8 829.6a1 1 0 1 0 2 0a1 1 0 1 0 -2 0M214.6 822.2a1 1 0 1 0 2 0a1 1 0 1 0 -2 0M214.6 811.1a1 1 0 1 0 2 0a1 1 0 1 0 -2 0M216.1 810.8a1 1 0 1 0 2 0a1 1 0 1 0 -2 0M213.8 806a1 1 0 1 0 2 0a1 1 0 1 0 -2 0M214.6 794.2a1 1 0 1 0 2 0a1 1 0 1 0 -2 0M216.1 821.1a1 1 0 1 0 2 0a1 1 0 1 0 -2 0M214.6 813.1a1 1 0 1 0 2 0a1 1 0 1 0 -2 0M214.8 807.1a1 1 0 1 0 2 0a1 1 0 1 0 -2 0M213.6 809.9a1 1 0 1 0 2 0a1 1 0 1 0 -2 0M213.8 808.3a1 1 0 1 0 2 0a1 1 0 1 0 -2 0M213.1 820.3a1 1 0 1 0 2 0a1 1 0 1 0 -2 0M214.6 861.3a1 1 0 1 0 2 0a1 1 0 1 0 -2 0M214.6 801.4a1 1 0 1 0 2 0a1 1 0 1 0 -2 0M212.8 811.2a1 1 0 1 0 2 0a1 1 0 1 0 -2 0M213.1 813.4a1 1 0 1 0 2 0a1 1 0 1 0 -2 0M214.6 816.8a1 1 0 1 0 2 0a1 1 0 1 0 -2 0M211.6 810.3a1 1 0 1 0 2 0a1 1 0 1 0 -2 0M215.6 802.5a1 1 0 1 0 2 0a1 1 0 1 0 -2 0M217.1 809.8a1 1 0 1 0 2 0a1 1 0 1 0 -2 0M214.6 796.8a1 1 0 1 0 2 0a1 1 0 1 0 -2 0M214.6 818.5a1 1 0 1 0 2 0a1 1 0 1 0 -2 0M214.6 814.9a1 1 0 1 0 2 0a1 1 0 1 0 -2 0M215.8 819.4a1 1 0 1 0 2 0a1 1 0 1 0 -2 0M216.1 815.3a1 1 0 1 0 2 0a1 1 0 1 0 -2 0M214.6 790a1 1 0 1 0 2 0a1 1 0 1 0 -2 0M213.1 818.1a1 1 0 1 0 2 0a1 1 0 1 0 -2 0M216.1 812.7a1 1 0 1 0 2 0a1 1 0 1 0 -2 0M216.1 822.6a1 1 0 1 0 2 0a1 1 0 1 0 -2 0M216.3 806.9a1 1 0 1 0 2 0a1 1 0 1 0 -2 0M216.1 804.2a1 1 0 1 0 2 0a1 1 0 1 0 -2 0M215.3 808.7a1 1 0 1 0 2 0a1 1 0 1 0 -2 0M218.6 809.5a1 1 0 1 0 2 0a1 1 0 1 0 -2 0M214.6 825a1 1 0 1 0 2 0a1 1 0 1 0 -2 0M212.3 805.9a1 1 0 1 0 2 0a1 1 0 1 0 -2 0M213.6 798a1 1 0 1 0 2 0a1 1 0 1 0 -2 0M216.1 824.5a1 1 0 1 0 2 0a1 1 0 1 0 -2 0M212.3 807.7a1 1 0 1 0 2 0a1 1 0 1 0 -2 0M217.3 819.6a1 1 0 1 0 2 0a1 1 0 1 0 -2 0M217.3 813.6a1 1 0 1 0 2 0a1 1 0 1 0 -2 0M211.6 818.5a1 1 0 1 0 2 0a1 1 0 1 0 -2 0M211.8 814.3a1 1 0 1 0 2 0a1 1 0 1 0 -2 0M212.6 821.7a1 1 0 1 0 2 0a1 1 0 1 0 -2 0M217.3 811.8a1 1 0 1 0 2 0a1 1 0 1 0 -2 0M218.8 819a1 1 0 1 0 2 0a1 1 0 1 0 -2 0M211.1 813.1a1 1 0 1 0 2 0a1 1 0 1 0 -2 0M218.6 814.4a1 1 0 1 0 2 0a1 1 0 1 0 -2 0M214.6 771.1a1 1 0 1 0 2 0a1 1 0 1 0 -2 0M214.6 828.2a1 1 0 1 0 2 0a1 1 0 1 0 -2 0M211.1 808.5a1 1 0 1 0 2 0a1 1 0 1 0 -2 0M217.6 806a1 1 0 1 0 2 0a1 1 0 1 0 -2 0M213.1 816.1a1 1 0 1 0 2 0a1 1 0 1 0 -2 0M216.1 796.6a1 1 0 1 0 2 0a1 1 0 1 0 -2 0M217.8 821a1 1 0 1 0 2 0a1 1 0 1 0 -2 0M218.8 812.1a1 1 0 1 0 2 0a1 1 0 1 0 -2 0M213.1 828.2a1 1 0 1 0 2 0a1 1 0 1 0 -2 0M213.1 825a1 1 0 1 0 2 0a1 1 0 1 0 -2 0M211.1 806.9a1 1 0 1 0 2 0a1 1 0 1 0 -2 0M209.8 812.3a1 1 0 1 0 2 0a1 1 0 1 0 -2 0M213.3 800.4a1 1 0 1 0 2 0a1 1 0 1 0 -2 0M213.1 804.5a1 1 0 1 0 2 0a1 1 0 1 0 -2 0M215.8 800.5a1 1 0 1 0 2 0a1 1 0 1 0 -2 0M211.6 820.1a1 1 0 1 0 2 0a1 1 0 1 0 -2 0M215.8 817.7a1 1 0 1 0 2 0a1 1 0 1 0 -2 0M216.1 793.9a1 1 0 1 0 2 0a1 1 0 1 0 -2 0M211.8 800.8a1 1 0 1 0 2 0a1 1 0 1 0 -2 0M209.6 809a1 1 0 1 0 2 0a1 1 0 1 0 -2 0M220.1 809.8a1 1 0 1 0 2 0a1 1 0 1 0 -2 0M217.6 803.9a1 1 0 1 0 2 0a1 1 0 1 0 -2 0M215.1 798.2a1 1 0 1 0 2 0a1 1 0 1 0 -2 0M210.3 814.9a1 1 0 1 0 2 0a1 1 0 1 0 -2 0M218.6 807.2a1 1 0 1 0 2 0a1 1 0 1 0 -2 0M209.6 806.4a1 1 0 1 0 2 0a1 1 0 1 0 -2 0M220.3 812.6a1 1 0 1 0 2 0a1 1 0 1 0 -2 0M216.6 799.2a1 1 0 1 0 2 0a1 1 0 1 0 -2 0M208.3 812a1 1 0 1 0 2 0a1 1 0 1 0 -2 0M221.8 812.6a1 1 0 1 0 2 0a1 1 0 1 0 -2 0M211.6 804.2a1 1 0 1 0 2 0a1 1 0 1 0 -2 0M208.1 809.7a1 1 0 1 0 2 0a1 1 0 1 0 -2 0M217.6 815.7a1 1 0 1 0 2 0a1 1 0 1 0 -2 0M214.6 840.8a1 1 0 1 0 2 0a1 1 0 1 0 -2 0M217.3 817.5a1 1 0 1 0 2 0a1 1 0 1 0 -2 0M209.3 810.9a1 1 0 1 0 2 0a1 1 0 1 0 -2 0M211.1 822.1a1 1 0 1 0 2 0a1 1 0 1 0 -2 0M220.8 811.2a1 1 0 1 0 2 0a1 1 0 1 0 -2 0M210.1 820a1 1 0 1 0 2 0a1 1 0 1 0 -2 0M213.3 802.2a1 1 0 1 0 2 0a1 1 0 1 0 -2 0M209.9 812a1 1 0 1 0 2 0a1 1 0 1 0 -2 0M210.1 818a1 1 0 1 0 2 0a1 1 0 1 0 -2 0M218.8 804.7a1 1 0 1 0 2 0a1 1 0 1 0 -2 0M217.1 801.8a1 1 0 1 0 2 0a1 1 0 1 0 -2 0M208.8 818.8a1 1 0 1 0 2 0a1 1 0 1 0 -2 0M220.1 814.9a1 1 0 1 0 2 0a1 1 0 1 0 -2 0M282.8 741a1 1 0 1 0 2 0a1 1 0 1 0 -2 0M282.8 763.6a1 1 0 1 0 2 0a1 1 0 1 0 -2 0M282.8 731.9a1 1 0 1 0 2 0a1 1 0 1 0 -2 0M282.8 736.1a1 1 0 1 0 2 0a1 1 0 1 0 -2 0M282.8 781.4a1 1 0 1 0 2 0a1 1 0 1 0 -2 0M282.8 751.1a1 1 0 1 0 2 0a1 1 0 1 0 -2 0M282.8 774a1 1 0 1 0 2 0a1 1 0 1 0 -2 0M282.8 766.7a1 1 0 1 0 2 0a1 1 0 1 0 -2 0M282.8 770.8a1 1 0 1 0 2 0a1 1 0 1 0 -2 0M282.8 777.7a1 1 0 1 0 2 0a1 1 0 1 0 -2 0M280.8 732.5a1 1 0 1 0 2 0a1 1 0 1 0 -2 0M282.8 738.3a1 1 0 1 0 2 0a1 1 0 1 0 -2 0M282.8 755.1a1 1 0 1 0 2 0a1 1 0 1 0 -2 0M284.3 730.5a1 1 0 1 0 2 0a1 1 0 1 0 -2 0M282.8 746.9a1 1 0 1 0 2 0a1 1 0 1 0 -2 0M283.3 753.1a1 1 0 1 0 2 0a1 1 0 1 0 -2 0M282.8 757.7a1 1 0 1 0 2 0a1 1 0 1 0 -2 0M281.3 752.8a1 1 0 1 0 2 0a1 1 0 1 0 -2 0M281.1 769.6a1 1 0 1 0 2 0a1 1 0 1 0 -2 0M282.8 807.6a1 1 0 1 0 2 0a1 1 0 1 0 -2 0M280.8 777a1 1 0 1 0 2 0a1 1 0 1 0 -2 0M284.3 733.3a1 1 0 1 0 2 0a1 1 0 1 0 -2 0M282.8 791.3a1 1 0 1 0 2 0a1 1 0 1 0 -2 0M284.3 775.4a1 1 0 1 0 2 0a1 1 0 1 0 -2 0M280.8 757.3a1 1 0 1 0 2 0a1 1 0 1 0 -2 0M282.8 804a1 1 0 1 0 2 0a1 1 0 1 0 -2 0M284.8 764.3a1 1 0 1 0 2 0a1 1 0 1 0 -2 0M284.1 792.9a1 1 0 1 0 2 0a1 1 0 1 0 -2 0M280.8 740.3a1 1 0 1 0 2 0a1 1 0 1 0 -2 0M285.3 752.7a1 1 0 1 0 2 0a1 1 0 1 0 -2 0M282.3 729.6a1 1 0 1 0 2 0a1 1 0 1 0 -2 0M280.3 751a1 1 0 1 0 2 0a1 1 0 1 0 -2 0M280.8 771.6a1 1 0 1 0 2 0a1 1 0 1 0 -2 0M286.1 776.4a1 1 0 1 0 2 0a1 1 0 1 0 -2 0M287.3 751.8a1 1 0 1 0 2 0a1 1 0 1 0 -2 0M284.3 762a1 1 0 1 0 2 0a1 1 0 1 0 -2 0M286.3 732.4a1 1 0 1 0 2 0a1 1 0 1 0 -2 0M279.3 753.1a1 1 0 1 0 2 0a1 1 0 1 0 -2 0M282.8 799.7a1 1 0 1 0 2 0a1 1 0 1 0 -2 0M282.6 760.8a1 1 0 1 0 2 0a1 1 0 1 0 -2 0M284.6 780.2a1 1 0 1 0 2 0a1 1 0 1 0 -2 0M284.1 748.6a1 1 0 1 0 2 0a1 1 0 1 0 -2 0M282.8 723.4a1 1 0 1 0 2 0a1 1 0 1 0 -2 0M284.8 755.7a1 1 0 1 0 2 0a1 1 0 1 0 -2 0M280.8 773.7a1 1 0 1 0 2 0a1 1 0 1 0 -2 0M284.3 772.3a1 1 0 1 0 2 0a1 1 0 1 0 -2 0M281.8 748.7a1 1 0 1 0 2 0a1 1 0 1 0 -2 0M284.8 766.6a1 1 0 1 0 2 0a1 1 0 1 0 -2 0M282.8 743.9a1 1 0 1 0 2 0a1 1 0 1 0 -2 0M284.8 757.8a1 1 0 1 0 2 0a1 1 0 1 0 -2 0M282.8 787.8a1 1 0 1 0 2 0a1 1 0 1 0 -2 0M279.8 748.6a1 1 0 1 0 2 0a1 1 0 1 0 -2 0M280.8 765.9a1 1 0 1 0 2 0a1 1 0 1 0 -2 0M286.6 765.6a1 1 0 1 0 2 0a1 1 0 1 0 -2 0M284.6 760a1 1 0 1 0 2 0a1 1 0 1 0 -2 0M286.1 749.4a1 1 0 1 0 2 0a1 1 0 1 0 -2 0M283.8 769a1 1 0 1 0 2 0a1 1 0 1 0 -2 0M278.8 765.5a1 1 0 1 0 2 0a1 1 0 1 0 -2 0M286.1 774.1a1 1 0 1 0 2 0a1 1 0 1 0 -2 0M280.6 760.1a1 1 0 1 0 2 0a1 1 0 1 0 -2 0M277.8 748.6a1 1 0 1 0 2 0a1 1 0 1 0 -2 0M285.8 769.5a1 1 0 1 0 2 0a1 1 0 1 0 -2 0M288.1 749.8a1 1 0 1 0 2 0a1 1 0 1 0 -2 0M288.6 765.6a1 1 0 1 0 2 0a1 1 0 1 0 -2 0M282.8 727.2a1 1 0 1 0 2 0a1 1 0 1 0 -2 0M286.8 757.6a1 1 0 1 0 2 0a1 1 0 1 0 -2 0M284.8 739.3a1 1 0 1 0 2 0a1 1 0 1 0 -2 0M277.3 752.2a1 1 0 1 0 2 0a1 1 0 1 0 -2 0M278.8 757a1 1 0 1 0 2 0a1 1 0 1 0 -2 0M286.8 739.7a1 1 0 1 0 2 0a1 1 0 1 0 -2 0M281.1 762.2a1 1 0 1 0 2 0a1 1 0 1 0 -2 0M276.1 749.5a1 1 0 1 0 2 0a1 1 0 1 0 -2 0M279.1 768.7a1 1 0 1 0 2 0a1 1 0 1 0 -2 0M276.8 766.2a1 1 0 1 0 2 0a1 1 0 1 0 -2 0M275.6 764.5a1 1 0 1 0 2 0a1 1 0 1 0 -2 0M280.8 737.8a1 1 0 1 0 2 0a1 1 0 1 0 -2 0M286.6 760a1 1 0 1 0 2 0a1 1 0 1 0 -2 0M279.1 739.1a1 1 0 1 0 2 0a1 1 0 1 0 -2 0M284.3 745.4a1 1 0 1 0 2 0a1 1 0 1 0 -2 0M286.3 762a1 1 0 1 0 2 0a1 1 0 1 0 -2 0M289.6 748.3a1 1 0 1 0 2 0a1 1 0 1 0 -2 0M285.1 748.2a1 1 0 1 0 2 0a1 1 0 1 0 -2 0M279.1 762.5a1 1 0 1 0 2 0a1 1 0 1 0 -2 0M278.8 772.3a1 1 0 1 0 2 0a1 1 0 1 0 -2 0M282.3 734.1a1 1 0 1 0 2 0a1 1 0 1 0 -2 0M287.8 769.2a1 1 0 1 0 2 0a1 1 0 1 0 -2 0M288.3 761.5a1 1 0 1 0 2 0a1 1 0 1 0 -2 0M289.3 751.4a1 1 0 1 0 2 0a1 1 0 1 0 -2 0M287.7 752.6a1 1 0 1 0 2 0a1 1 0 1 0 -2 0M277.8 760.9a1 1 0 1 0 2 0a1 1 0 1 0 -2 0M278.5 750.1a1 1 0 1 0 2 0a1 1 0 1 0 -2 0M277.1 769.4a1 1 0 1 0 2 0a1 1 0 1 0 -2 0M351 786.1a1 1 0 1 0 2 0a1 1 0 1 0 -2 0M351 778a1 1 0 1 0 2 0a1 1 0 1 0 -2 0M351 805.1a1 1 0 1 0 2 0a1 1 0 1 0 -2 0M351 772.2a1 1 0 1 0 2 0a1 1 0 1 0 -2 0M351 769.7a1 1 0 1 0 2 0a1 1 0 1 0 -2 0M351 764.3a1 1 0 1 0 2 0a1 1 0 1 0 -2 0M351 796.3a1 1 0 1 0 2 0a1 1 0 1 0 -2 0M353 778.1a1 1 0 1 0 2 0a1 1 0 1 0 -2 0M351 788.3a1 1 0 1 0 2 0a1 1 0 1 0 -2 0M351 792.6a1 1 0 1 0 2 0a1 1 0 1 0 -2 0M352.5 794a1 1 0 1 0 2 0a1 1 0 1 0 -2 0M349.8 791a1 1 0 1 0 2 0a1 1 0 1 0 -2 0M351 783.9a1 1 0 1 0 2 0a1 1 0 1 0 -2 0M349.2 771.2a1 1 0 1 0 2 0a1 1 0 1 0 -2 0M351 808.2a1 1 0 1 0 2 0a1 1 0 1 0 -2 0M353 769.3a1 1 0 1 0 2 0a1 1 0 1 0 -2 0M351 781.5a1 1 0 1 0 2 0a1 1 0 1 0 -2 0M353 809.1a1 1 0 1 0 2 0a1 1 0 1 0 -2 0M352.5 789.7a1 1 0 1 0 2 0a1 1 0 1 0 -2 0M351 819a1 1 0 1 0 2 0a1 1 0 1 0 -2 0M351 799.7a1 1 0 1 0 2 0a1 1 0 1 0 -2 0M351 802a1 1 0 1 0 2 0a1 1 0 1 0 -2 0M348 790a1 1 0 1 0 2 0a1 1 0 1 0 -2 0M354.5 789.3a1 1 0 1 0 2 0a1 1 0 1 0 -2 0M353 784.7a1 1 0 1 0 2 0a1 1 0 1 0 -2 0M351 842a1 1 0 1 0 2 0a1 1 0 1 0 -2 0M349 786a1 1 0 1 0 2 0a1 1 0 1 0 -2 0M349 781.8a1 1 0 1 0 2 0a1 1 0 1 0 -2 0M351 831.5a1 1 0 1 0 2 0a1 1 0 1 0 -2 0M351 810.4a1 1 0 1 0 2 0a1 1 0 1 0 -2 0M353 772.5a1 1 0 1 0 2 0a1 1 0 1 0 -2 0M351 775.2a1 1 0 1 0 2 0a1 1 0 1 0 -2 0M352.8 780.2a1 1 0 1 0 2 0a1 1 0 1 0 -2 0M351 758.6a1 1 0 1 0 2 0a1 1 0 1 0 -2 0M354.8 785.9a1 1 0 1 0 2 0a1 1 0 1 0 -2 0M349 768.9a1 1 0 1 0 2 0a1 1 0 1 0 -2 0M347 769.4a1 1 0 1 0 2 0a1 1 0 1 0 -2 0M348.2 783.6a1 1 0 1 0 2 0a1 1 0 1 0 -2 0M347 785.8a1 1 0 1 0 2 0a1 1 0 1 0 -2 0M349 778.3a1 1 0 1 0 2 0a1 1 0 1 0 -2 0M346.8 788.3a1 1 0 1 0 2 0a1 1 0 1 0 -2 0M356.8 785.4a1 1 0 1 0 2 0a1 1 0 1 0 -2 0M355 777.3a1 1 0 1 0 2 0a1 1 0 1 0 -2 0M351 822.6a1 1 0 1 0 2 0a1 1 0 1 0 -2 0M349 809.4a1 1 0 1 0 2 0a1 1 0 1 0 -2 0M347 808.6a1 1 0 1 0 2 0a1 1 0 1 0 -2 0M349.2 795.2a1 1 0 1 0 2 0a1 1 0 1 0 -2 0M353 787a1 1 0 1 0 2 0a1 1 0 1 0 -2 0M354.5 781.4a1 1 0 1 0 2 0a1 1 0 1 0 -2 0M356.5 789a1 1 0 1 0 2 0a1 1 0 1 0 -2 0M353 796.6a1 1 0 1 0 2 0a1 1 0 1 0 -2 0M345 786.6a1 1 0 1 0 2 0a1 1 0 1 0 -2 0M348.8 773.2a1 1 0 1 0 2 0a1 1 0 1 0 -2 0M347.5 780.3a1 1 0 1 0 2 0a1 1 0 1 0 -2 0M354.5 773.9a1 1 0 1 0 2 0a1 1 0 1 0 -2 0M346.2 782.8a1 1 0 1 0 2 0a1 1 0 1 0 -2 0M354.8 783.5a1 1 0 1 0 2 0a1 1 0 1 0 -2 0M351 747.7a1 1 0 1 0 2 0a1 1 0 1 0 -2 0M353 799.2a1 1 0 1 0 2 0a1 1 0 1 0 -2 0M345.5 789.9a1 1 0 1 0 2 0a1 1 0 1 0 -2 0M349 799.1a1 1 0 1 0 2 0a1 1 0 1 0 -2 0M349 788.3a1 1 0 1 0 2 0a1 1 0 1 0 -2 0M356.5 780.8a1 1 0 1 0 2 0a1 1 0 1 0 -2 0M347.5 796.5a1 1 0 1 0 2 0a1 1 0 1 0 -2 0M353.8 792.3a1 1 0 1 0 2 0a1 1 0 1 0 -2 0M354.8 810.3a1 1 0 1 0 2 0a1 1 0 1 0 -2 0M345.5 780.7a1 1 0 1 0 2 0a1 1 0 1 0 -2 0M357.2 779a1 1 0 1 0 2 0a1 1 0 1 0 -2 0M347 799.4a1 1 0 1 0 2 0a1 1 0 1 0 -2 0M358.2 786.8a1 1 0 1 0 2 0a1 1 0 1 0 -2 0M344 779.2a1 1 0 1 0 2 0a1 1 0 1 0 -2 0M343.8 784.9a1 1 0 1 0 2 0a1 1 0 1 0 -2 0M352.8 806.3a1 1 0 1 0 2 0a1 1 0 1 0 -2 0M345.4 784.5a1 1 0 1 0 2 0a1 1 0 1 0 -2 0M354.5 794.3a1 1 0 1 0 2 0a1 1 0 1 0 -2 0M351 761.6a1 1 0 1 0 2 0a1 1 0 1 0 -2 0M347 774.5a1 1 0 1 0 2 0a1 1 0 1 0 -2 0M348.2 784.7a1 1 0 1 0 2 0a1 1 0 1 0 -2 0M347.8 779.5a1 1 0 1 0 2 0a1 1 0 1 0 -2 0M356.6 789.8a1 1 0 1 0 2 0a1 1 0 1 0 -2 0M349.2 806.3a1 1 0 1 0 2 0a1 1 0 1 0 -2 0M346.7 784.4a1 1 0 1 0 2 0a1 1 0 1 0 -2 0M351 756.3a1 1 0 1 0 2 0a1 1 0 1 0 -2 0M348.5 792.7a1 1 0 1 0 2 0a1 1 0 1 0 -2 0M349 776a1 1 0 1 0 2 0a1 1 0 1 0 -2 0M346.2 787a1 1 0 1 0 2 0a1 1 0 1 0 -2 0M355 769.9a1 1 0 1 0 2 0a1 1 0 1 0 -2 0M348.4 790.1a1 1 0 1 0 2 0a1 1 0 1 0 -2 0M353 785.5a1 1 0 1 0 2 0a1 1 0 1 0 -2 0M345.8 780.8a1 1 0 1 0 2 0a1 1 0 1 0 -2 0M357.7 780a1 1 0 1 0 2 0a1 1 0 1 0 -2 0M349 802.1a1 1 0 1 0 2 0a1 1 0 1 0 -2 0M352.6 785.7a1 1 0 1 0 2 0a1 1 0 1 0 -2 0M355 799.5a1 1 0 1 0 2 0a1 1 0 1 0 -2 0M356.9 784.2a1 1 0 1 0 2 0a1 1 0 1 0 -2 0M347.2 771.6a1 1 0 1 0 2 0a1 1 0 1 0 -2 0M419.2 812.1a1 1 0 1 0 2 0a1 1 0 1 0 -2 0M419.2 818a1 1 0 1 0 2 0a1 1 0 1 0 -2 0M419.2 805.2a1 1 0 1 0 2 0a1 1 0 1 0 -2 0M421.2 817.3a1 1 0 1 0 2 0a1 1 0 1 0 -2 0M419.2 826.5a1 1 0 1 0 2 0a1 1 0 1 0 -2 0M417.2 812.9a1 1 0 1 0 2 0a1 1 0 1 0 -2 0M420.9 810.8a1 1 0 1 0 2 0a1 1 0 1 0 -2 0M419.2 822.6a1 1 0 1 0 2 0a1 1 0 1 0 -2 0M419.2 843.1a1 1 0 1 0 2 0a1 1 0 1 0 -2 0M419.2 801.7a1 1 0 1 0 2 0a1 1 0 1 0 -2 0M419.2 783.2a1 1 0 1 0 2 0a1 1 0 1 0 -2 0M418.9 809.9a1 1 0 1 0 2 0a1 1 0 1 0 -2 0M417.4 800.7a1 1 0 1 0 2 0a1 1 0 1 0 -2 0M420.9 806.2a1 1 0 1 0 2 0a1 1 0 1 0 -2 0M417.4 823.8a1 1 0 1 0 2 0a1 1 0 1 0 -2 0M417.9 820.9a1 1 0 1 0 2 0a1 1 0 1 0 -2 0M417.9 806.8a1 1 0 1 0 2 0a1 1 0 1 0 -2 0M421.9 812.5a1 1 0 1 0 2 0a1 1 0 1 0 -2 0M419.2 815.4a1 1 0 1 0 2 0a1 1 0 1 0 -2 0M419.2 797.2a1 1 0 1 0 2 0a1 1 0 1 0 -2 0M416.9 809.7a1 1 0 1 0 2 0a1 1 0 1 0 -2 0M420.9 819.3a1 1 0 1 0 2 0a1 1 0 1 0 -2 0M415.9 820.2a1 1 0 1 0 2 0a1 1 0 1 0 -2 0M420.7 825a1 1 0 1 0 2 0a1 1 0 1 0 -2 0M417.2 818.3a1 1 0 1 0 2 0a1 1 0 1 0 -2 0M415.2 810.9a1 1 0 1 0 2 0a1 1 0 1 0 -2 0M421.2 827.4a1 1 0 1 0 2 0a1 1 0 1 0 -2 0M420.9 803.9a1 1 0 1 0 2 0a1 1 0 1 0 -2 0M420.9 814.4a1 1 0 1 0 2 0a1 1 0 1 0 -2 0M421.2 801.9a1 1 0 1 0 2 0a1 1 0 1 0 -2 0M417.2 804.8a1 1 0 1 0 2 0a1 1 0 1 0 -2 0M422.4 823.7a1 1 0 1 0 2 0a1 1 0 1 0 -2 0M416.4 825.6a1 1 0 1 0 2 0a1 1 0 1 0 -2 0M423.9 812.1a1 1 0 1 0 2 0a1 1 0 1 0 -2 0M419.2 788.7a1 1 0 1 0 2 0a1 1 0 1 0 -2 0M419.2 791.6a1 1 0 1 0 2 0a1 1 0 1 0 -2 0M419.2 830.1a1 1 0 1 0 2 0a1 1 0 1 0 -2 0M417.4 795.9a1 1 0 1 0 2 0a1 1 0 1 0 -2 0M415.2 813a1 1 0 1 0 2 0a1 1 0 1 0 -2 0M416.4 816.4a1 1 0 1 0 2 0a1 1 0 1 0 -2 0M422.9 805.5a1 1 0 1 0 2 0a1 1 0 1 0 -2 0M417.2 830.7a1 1 0 1 0 2 0a1 1 0 1 0 -2 0M421.2 821.7a1 1 0 1 0 2 0a1 1 0 1 0 -2 0M413.2 812.5a1 1 0 1 0 2 0a1 1 0 1 0 -2 0M422.4 807.6a1 1 0 1 0 2 0a1 1 0 1 0 -2 0M415.4 806a1 1 0 1 0 2 0a1 1 0 1 0 -2 0M414.7 809a1 1 0 1 0 2 0a1 1 0 1 0 -2 0M415.9 822.3a1 1 0 1 0 2 0a1 1 0 1 0 -2 0M413.4 806a1 1 0 1 0 2 0a1 1 0 1 0 -2 0M422.9 819.6a1 1 0 1 0 2 0a1 1 0 1 0 -2 0M421.2 796.7a1 1 0 1 0 2 0a1 1 0 1 0 -2 0M415.4 803.7a1 1 0 1 0 2 0a1 1 0 1 0 -2 0M414.4 818.7a1 1 0 1 0 2 0a1 1 0 1 0 -2 0M423.2 814.2a1 1 0 1 0 2 0a1 1 0 1 0 -2 0M425.7 810.9a1 1 0 1 0 2 0a1 1 0 1 0 -2 0M421.2 829.4a1 1 0 1 0 2 0a1 1 0 1 0 -2 0M413.9 822.9a1 1 0 1 0 2 0a1 1 0 1 0 -2 0M414.7 815.5a1 1 0 1 0 2 0a1 1 0 1 0 -2 0M423.4 803.5a1 1 0 1 0 2 0a1 1 0 1 0 -2 0M424.4 807.6a1 1 0 1 0 2 0a1 1 0 1 0 -2 0M423.4 821.9a1 1 0 1 0 2 0a1 1 0 1 0 -2 0M419.9 808.2a1 1 0 1 0 2 0a1 1 0 1 0 -2 0M419.2 793.8a1 1 0 1 0 2 0a1 1 0 1 0 -2 0M419.2 779a1 1 0 1 0 2 0a1 1 0 1 0 -2 0M412.7 808.8a1 1 0 1 0 2 0a1 1 0 1 0 -2 0M426.4 808.5a1 1 0 1 0 2 0a1 1 0 1 0 -2 0M423.7 817.7a1 1 0 1 0 2 0a1 1 0 1 0 -2 0M419.2 772.2a1 1 0 1 0 2 0a1 1 0 1 0 -2 0M425.7 818.2a1 1 0 1 0 2 0a1 1 0 1 0 -2 0M413.2 821a1 1 0 1 0 2 0a1 1 0 1 0 -2 0M423.4 806.6a1 1 0 1 0 2 0a1 1 0 1 0 -2 0M422.4 831.1a1 1 0 1 0 2 0a1 1 0 1 0 -2 0M424.4 824.5a1 1 0 1 0 2 0a1 1 0 1 0 -2 0M426.2 823.3a1 1 0 1 0 2 0a1 1 0 1 0 -2 0M413.4 803.2a1 1 0 1 0 2 0a1 1 0 1 0 -2 0M415.4 800.9a1 1 0 1 0 2 0a1 1 0 1 0 -2 0M425.2 814.2a1 1 0 1 0 2 0a1 1 0 1 0 -2 0M413.2 816.8a1 1 0 1 0 2 0a1 1 0 1 0 -2 0M421.2 815.7a1 1 0 1 0 2 0a1 1 0 1 0 -2 0M413.1 810.9a1 1 0 1 0 2 0a1 1 0 1 0 -2 0M411.9 822.8a1 1 0 1 0 2 0a1 1 0 1 0 -2 0M415.2 831.2a1 1 0 1 0 2 0a1 1 0 1 0 -2 0M422.7 813.3a1 1 0 1 0 2 0a1 1 0 1 0 -2 0M423.7 829.5a1 1 0 1 0 2 0a1 1 0 1 0 -2 0M423.2 826.7a1 1 0 1 0 2 0a1 1 0 1 0 -2 0M418 811.1a1 1 0 1 0 2 0a1 1 0 1 0 -2 0M415.4 811.1a1 1 0 1 0 2 0a1 1 0 1 0 -2 0M413.3 806.8a1 1 0 1 0 2 0a1 1 0 1 0 -2 0M417.2 788.8a1 1 0 1 0 2 0a1 1 0 1 0 -2 0M415.4 796.6a1 1 0 1 0 2 0a1 1 0 1 0 -2 0M423.3 807.8a1 1 0 1 0 2 0a1 1 0 1 0 -2 0M425.4 802.9a1 1 0 1 0 2 0a1 1 0 1 0 -2 0M417.7 816.7a1 1 0 1 0 2 0a1 1 0 1 0 -2 0M416 811.4a1 1 0 1 0 2 0a1 1 0 1 0 -2 0M422.2 800.1a1 1 0 1 0 2 0a1 1 0 1 0 -2 0M419.2 832.3a1 1 0 1 0 2 0a1 1 0 1 0 -2 0M487.4 782.8a1 1 0 1 0 2 0a1 1 0 1 0 -2 0M487.4 773.6a1 1 0 1 0 2 0a1 1 0 1 0 -2 0M487.4 754.3a1 1 0 1 0 2 0a1 1 0 1 0 -2 0M485.9 781.3a1 1 0 1 0 2 0a1 1 0 1 0 -2 0M487.4 779.9a1 1 0 1 0 2 0a1 1 0 1 0 -2 0M487.4 804.4a1 1 0 1 0 2 0a1 1 0 1 0 -2 0M485.7 803.3a1 1 0 1 0 2 0a1 1 0 1 0 -2 0M487.4 786.1a1 1 0 1 0 2 0a1 1 0 1 0 -2 0M487.4 798.4a1 1 0 1 0 2 0a1 1 0 1 0 -2 0M487.4 802.2a1 1 0 1 0 2 0a1 1 0 1 0 -2 0M487.4 790.4a1 1 0 1 0 2 0a1 1 0 1 0 -2 0M489.2 784.9a1 1 0 1 0 2 0a1 1 0 1 0 -2 0M485.9 778.4a1 1 0 1 0 2 0a1 1 0 1 0 -2 0M487.4 794.9a1 1 0 1 0 2 0a1 1 0 1 0 -2 0M489.4 791.2a1 1 0 1 0 2 0a1 1 0 1 0 -2 0M487.4 769.4a1 1 0 1 0 2 0a1 1 0 1 0 -2 0M485.4 791.2a1 1 0 1 0 2 0a1 1 0 1 0 -2 0M489.4 794.3a1 1 0 1 0 2 0a1 1 0 1 0 -2 0M488.9 796.3a1 1 0 1 0 2 0a1 1 0 1 0 -2 0M486.2 796.5a1 1 0 1 0 2 0a1 1 0 1 0 -2 0M489.4 801.2a1 1 0 1 0 2 0a1 1 0 1 0 -2 0M489.4 780.8a1 1 0 1 0 2 0a1 1 0 1 0 -2 0M484.9 783.1a1 1 0 1 0 2 0a1 1 0 1 0 -2 0M487.4 776.8a1 1 0 1 0 2 0a1 1 0 1 0 -2 0M489.7 782.9a1 1 0 1 0 2 0a1 1 0 1 0 -2 0M491.4 784a1 1 0 1 0 2 0a1 1 0 1 0 -2 0M484.4 779.8a1 1 0 1 0 2 0a1 1 0 1 0 -2 0M489.4 776.7a1 1 0 1 0 2 0a1 1 0 1 0 -2 0M490.7 797.4a1 1 0 1 0 2 0a1 1 0 1 0 -2 0M484.4 795.5a1 1 0 1 0 2 0a1 1 0 1 0 -2 0M483.2 784.1a1 1 0 1 0 2 0a1 1 0 1 0 -2 0M491.4 794.5a1 1 0 1 0 2 0a1 1 0 1 0 -2 0M485.9 793.3a1 1 0 1 0 2 0a1 1 0 1 0 -2 0M491.4 780.9a1 1 0 1 0 2 0a1 1 0 1 0 -2 0M487.4 767.3a1 1 0 1 0 2 0a1 1 0 1 0 -2 0M485.7 770.6a1 1 0 1 0 2 0a1 1 0 1 0 -2 0M485.4 786.2a1 1 0 1 0 2 0a1 1 0 1 0 -2 0M490.4 778.5a1 1 0 1 0 2 0a1 1 0 1 0 -2 0M489.4 773.7a1 1 0 1 0 2 0a1 1 0 1 0 -2 0M482.9 778.4a1 1 0 1 0 2 0a1 1 0 1 0 -2 0M487.4 759.4a1 1 0 1 0 2 0a1 1 0 1 0 -2 0M489.2 770.6a1 1 0 1 0 2 0a1 1 0 1 0 -2 0M487.4 762a1 1 0 1 0 2 0a1 1 0 1 0 -2 0M485.2 776.5a1 1 0 1 0 2 0a1 1 0 1 0 -2 0M491.2 775.5a1 1 0 1 0 2 0a1 1 0 1 0 -2 0M485.4 772.6a1 1 0 1 0 2 0a1 1 0 1 0 -2 0M487.4 819a1 1 0 1 0 2 0a1 1 0 1 0 -2 0M481.9 780.1a1 1 0 1 0 2 0a1 1 0 1 0 -2 0M487.4 743.8a1 1 0 1 0 2 0a1 1 0 1 0 -2 0M486.4 800.3a1 1 0 1 0 2 0a1 1 0 1 0 -2 0M482.4 795.3a1 1 0 1 0 2 0a1 1 0 1 0 -2 0M487.4 839.2a1 1 0 1 0 2 0a1 1 0 1 0 -2 0M484.4 801a1 1 0 1 0 2 0a1 1 0 1 0 -2 0M483.7 769.9a1 1 0 1 0 2 0a1 1 0 1 0 -2 0M493.4 783.7a1 1 0 1 0 2 0a1 1 0 1 0 -2 0M483.2 782.1a1 1 0 1 0 2 0a1 1 0 1 0 -2 0M489.4 803.5a1 1 0 1 0 2 0a1 1 0 1 0 -2 0M490.9 799.8a1 1 0 1 0 2 0a1 1 0 1 0 -2 0M487.4 747.4a1 1 0 1 0 2 0a1 1 0 1 0 -2 0M482.4 801a1 1 0 1 0 2 0a1 1 0 1 0 -2 0M483.4 775.4a1 1 0 1 0 2 0a1 1 0 1 0 -2 0M487.9 788a1 1 0 1 0 2 0a1 1 0 1 0 -2 0M491.4 802a1 1 0 1 0 2 0a1 1 0 1 0 -2 0M489.4 762.6a1 1 0 1 0 2 0a1 1 0 1 0 -2 0M485.9 788.8a1 1 0 1 0 2 0a1 1 0 1 0 -2 0M491.9 773.6a1 1 0 1 0 2 0a1 1 0 1 0 -2 0M493.2 776.1a1 1 0 1 0 2 0a1 1 0 1 0 -2 0M489.9 787.2a1 1 0 1 0 2 0a1 1 0 1 0 -2 0M491.2 770.7a1 1 0 1 0 2 0a1 1 0 1 0 -2 0M492.4 778.3a1 1 0 1 0 2 0a1 1 0 1 0 -2 0M483.4 773.2a1 1 0 1 0 2 0a1 1 0 1 0 -2 0M486.7 763.9a1 1 0 1 0 2 0a1 1 0 1 0 -2 0M487.9 792.6a1 1 0 1 0 2 0a1 1 0 1 0 -2 0M490.9 792.6a1 1 0 1 0 2 0a1 1 0 1 0 -2 0M487.4 739.5a1 1 0 1 0 2 0a1 1 0 1 0 -2 0M484.7 797.9a1 1 0 1 0 2 0a1 1 0 1 0 -2 0M481.2 783.8a1 1 0 1 0 2 0a1 1 0 1 0 -2 0M483.9 793.5a1 1 0 1 0 2 0a1 1 0 1 0 -2 0M481.4 775.3a1 1 0 1 0 2 0a1 1 0 1 0 -2 0M493.9 773.7a1 1 0 1 0 2 0a1 1 0 1 0 -2 0M482.7 797.5a1 1 0 1 0 2 0a1 1 0 1 0 -2 0M481.7 770.4a1 1 0 1 0 2 0a1 1 0 1 0 -2 0M490.7 783.8a1 1 0 1 0 2 0a1 1 0 1 0 -2 0M488.7 765.7a1 1 0 1 0 2 0a1 1 0 1 0 -2 0M494.7 785.3a1 1 0 1 0 2 0a1 1 0 1 0 -2 0M480.4 772a1 1 0 1 0 2 0a1 1 0 1 0 -2 0M485.7 766a1 1 0 1 0 2 0a1 1 0 1 0 -2 0M492.7 769.3a1 1 0 1 0 2 0a1 1 0 1 0 -2 0M494.7 782.2a1 1 0 1 0 2 0a1 1 0 1 0 -2 0M487.4 808.2a1 1 0 1 0 2 0a1 1 0 1 0 -2 0M490.4 764.7a1 1 0 1 0 2 0a1 1 0 1 0 -2 0M489.2 755.4a1 1 0 1 0 2 0a1 1 0 1 0 -2 0M493.2 771.4a1 1 0 1 0 2 0a1 1 0 1 0 -2 0M482.4 770.5a1 1 0 1 0 2 0a1 1 0 1 0 -2 0M488.9 772a1 1 0 1 0 2 0a1 1 0 1 0 -2 0M484.9 762.7a1 1 0 1 0 2 0a1 1 0 1 0 -2 0M555.6 746.7a1 1 0 1 0 2 0a1 1 0 1 0 -2 0M555.6 767.5a1 1 0 1 0 2 0a1 1 0 1 0 -2 0M555.6 755a1 1 0 1 0 2 0a1 1 0 1 0 -2 0M555.6 762.4a1 1 0 1 0 2 0a1 1 0 1 0 -2 0M557.1 763.9a1 1 0 1 0 2 0a1 1 0 1 0 -2 0M555.6 730.3a1 1 0 1 0 2 0a1 1 0 1 0 -2 0M554.4 765.9a1 1 0 1 0 2 0a1 1 0 1 0 -2 0M557.1 766a1 1 0 1 0 2 0a1 1 0 1 0 -2 0M552.6 764.7a1 1 0 1 0 2 0a1 1 0 1 0 -2 0M557.4 754a1 1 0 1 0 2 0a1 1 0 1 0 -2 0M553.6 755.7a1 1 0 1 0 2 0a1 1 0 1 0 -2 0M559.1 765.5a1 1 0 1 0 2 0a1 1 0 1 0 -2 0M553.6 762.4a1 1 0 1 0 2 0a1 1 0 1 0 -2 0M555.6 749.5a1 1 0 1 0 2 0a1 1 0 1 0 -2 0M552.1 754.3a1 1 0 1 0 2 0a1 1 0 1 0 -2 0M555.6 757.1a1 1 0 1 0 2 0a1 1 0 1 0 -2 0M555.6 812a1 1 0 1 0 2 0a1 1 0 1 0 -2 0M555.6 769.8a1 1 0 1 0 2 0a1 1 0 1 0 -2 0M555.6 759.5a1 1 0 1 0 2 0a1 1 0 1 0 -2 0M557.6 770.3a1 1 0 1 0 2 0a1 1 0 1 0 -2 0M553.6 746.6a1 1 0 1 0 2 0a1 1 0 1 0 -2 0M555.6 743.9a1 1 0 1 0 2 0a1 1 0 1 0 -2 0M560.1 763.7a1 1 0 1 0 2 0a1 1 0 1 0 -2 0M553.9 742.5a1 1 0 1 0 2 0a1 1 0 1 0 -2 0M555.6 714.4a1 1 0 1 0 2 0a1 1 0 1 0 -2 0M553.6 759.5a1 1 0 1 0 2 0a1 1 0 1 0 -2 0M557.6 760a1 1 0 1 0 2 0a1 1 0 1 0 -2 0M557.4 756a1 1 0 1 0 2 0a1 1 0 1 0 -2 0M550.6 763.8a1 1 0 1 0 2 0a1 1 0 1 0 -2 0M558.4 758.2a1 1 0 1 0 2 0a1 1 0 1 0 -2 0M557.4 750.8a1 1 0 1 0 2 0a1 1 0 1 0 -2 0M561.4 765.4a1 1 0 1 0 2 0a1 1 0 1 0 -2 0M553.6 749.8a1 1 0 1 0 2 0a1 1 0 1 0 -2 0M552.6 767a1 1 0 1 0 2 0a1 1 0 1 0 -2 0M553.6 770.8a1 1 0 1 0 2 0a1 1 0 1 0 -2 0M548.6 764a1 1 0 1 0 2 0a1 1 0 1 0 -2 0M555.6 790a1 1 0 1 0 2 0a1 1 0 1 0 -2 0M555.6 772.7a1 1 0 1 0 2 0a1 1 0 1 0 -2 0M555.6 796.8a1 1 0 1 0 2 0a1 1 0 1 0 -2 0M551.6 758.9a1 1 0 1 0 2 0a1 1 0 1 0 -2 0M555.6 740.5a1 1 0 1 0 2 0a1 1 0 1 0 -2 0M557.6 744.8a1 1 0 1 0 2 0a1 1 0 1 0 -2 0M557.2 764.9a1 1 0 1 0 2 0a1 1 0 1 0 -2 0M559.1 761.5a1 1 0 1 0 2 0a1 1 0 1 0 -2 0M555.6 780a1 1 0 1 0 2 0a1 1 0 1 0 -2 0M552.1 757a1 1 0 1 0 2 0a1 1 0 1 0 -2 0M555.6 752.5a1 1 0 1 0 2 0a1 1 0 1 0 -2 0M560.6 760a1 1 0 1 0 2 0a1 1 0 1 0 -2 0M559.4 756.3a1 1 0 1 0 2 0a1 1 0 1 0 -2 0M558.1 748.9a1 1 0 1 0 2 0a1 1 0 1 0 -2 0M549.9 765.7a1 1 0 1 0 2 0a1 1 0 1 0 -2 0M555.6 734a1 1 0 1 0 2 0a1 1 0 1 0 -2 0M562.9 764a1 1 0 1 0 2 0a1 1 0 1 0 -2 0M550.1 757.5a1 1 0 1 0 2 0a1 1 0 1 0 -2 0M555.6 737.8a1 1 0 1 0 2 0a1 1 0 1 0 -2 0M555 763.9a1 1 0 1 0 2 0a1 1 0 1 0 -2 0M559.4 746a1 1 0 1 0 2 0a1 1 0 1 0 -2 0M559.2 762.9a1 1 0 1 0 2 0a1 1 0 1 0 -2 0M550.1 760.5a1 1 0 1 0 2 0a1 1 0 1 0 -2 0M555.6 785a1 1 0 1 0 2 0a1 1 0 1 0 -2 0M557.6 768a1 1 0 1 0 2 0a1 1 0 1 0 -2 0M552.1 748.2a1 1 0 1 0 2 0a1 1 0 1 0 -2 0M553.6 737.9a1 1 0 1 0 2 0a1 1 0 1 0 -2 0M548.6 764.4a1 1 0 1 0 2 0a1 1 0 1 0 -2 0M560.1 748.9a1 1 0 1 0 2 0a1 1 0 1 0 -2 0M559.4 750.9a1 1 0 1 0 2 0a1 1 0 1 0 -2 0M558.6 743a1 1 0 1 0 2 0a1 1 0 1 0 -2 0M555.6 806.9a1 1 0 1 0 2 0a1 1 0 1 0 -2 0M557.6 740.6a1 1 0 1 0 2 0a1 1 0 1 0 -2 0M560.7 762.4a1 1 0 1 0 2 0a1 1 0 1 0 -2 0M552.1 743.7a1 1 0 1 0 2 0a1 1 0 1 0 -2 0M561.6 758.2a1 1 0 1 0 2 0a1 1 0 1 0 -2 0M552.6 751.6a1 1 0 1 0 2 0a1 1 0 1 0 -2 0M550.6 751.2a1 1 0 1 0 2 0a1 1 0 1 0 -2 0M559.4 762.6a1 1 0 1 0 2 0a1 1 0 1 0 -2 0M552.7 758.4a1 1 0 1 0 2 0a1 1 0 1 0 -2 0M555.6 726a1 1 0 1 0 2 0a1 1 0 1 0 -2 0M557 756.7a1 1 0 1 0 2 0a1 1 0 1 0 -2 0M553.6 734.2a1 1 0 1 0 2 0a1 1 0 1 0 -2 0M561.4 750.7a1 1 0 1 0 2 0a1 1 0 1 0 -2 0M548.6 751.3a1 1 0 1 0 2 0a1 1 0 1 0 -2 0M551.1 741.9a1 1 0 1 0 2 0a1 1 0 1 0 -2 0M550.6 746.8a1 1 0 1 0 2 0a1 1 0 1 0 -2 0M560.6 743.4a1 1 0 1 0 2 0a1 1 0 1 0 -2 0M553.6 740.4a1 1 0 1 0 2 0a1 1 0 1 0 -2 0M562.6 761.5a1 1 0 1 0 2 0a1 1 0 1 0 -2 0M549.6 748.6a1 1 0 1 0 2 0a1 1 0 1 0 -2 0M550.6 763a1 1 0 1 0 2 0a1 1 0 1 0 -2 0M555.6 719.5a1 1 0 1 0 2 0a1 1 0 1 0 -2 0M562.1 748.1a1 1 0 1 0 2 0a1 1 0 1 0 -2 0M559.6 767.6a1 1 0 1 0 2 0a1 1 0 1 0 -2 0M559.1 739.1a1 1 0 1 0 2 0a1 1 0 1 0 -2 0M559.6 756.7a1 1 0 1 0 2 0a1 1 0 1 0 -2 0M551.9 769.4a1 1 0 1 0 2 0a1 1 0 1 0 -2 0M556.5 757a1 1 0 1 0 2 0a1 1 0 1 0 -2 0M562.9 766.9a1 1 0 1 0 2 0a1 1 0 1 0 -2 0M623.8 790.5a1 1 0 1 0 2 0a1 1 0 1 0 -2 0M623.8 786a1 1 0 1 0 2 0a1 1 0 1 0 -2 0M623.8 801.6a1 1 0 1 0 2 0a1 1 0 1 0 -2 0M623.8 781.3a1 1 0 1 0 2 0a1 1 0 1 0 -2 0M623.8 791.9a1 1 0 1 0 2 0a1 1 0 1 0 -2 0M624.5 789.4a1 1 0 1 0 2 0a1 1 0 1 0 -2 0M623.8 805a1 1 0 1 0 2 0a1 1 0 1 0 -2 0M625 792.5a1 1 0 1 0 2 0a1 1 0 1 0 -2 0M623.8 778a1 1 0 1 0 2 0a1 1 0 1 0 -2 0M623.8 798.9a1 1 0 1 0 2 0a1 1 0 1 0 -2 0M622.3 805.3a1 1 0 1 0 2 0a1 1 0 1 0 -2 0M623.8 783.4a1 1 0 1 0 2 0a1 1 0 1 0 -2 0M625 778.8a1 1 0 1 0 2 0a1 1 0 1 0 -2 0M623.8 794.9a1 1 0 1 0 2 0a1 1 0 1 0 -2 0M625 805.6a1 1 0 1 0 2 0a1 1 0 1 0 -2 0M625 783.8a1 1 0 1 0 2 0a1 1 0 1 0 -2 0M625.3 786a1 1 0 1 0 2 0a1 1 0 1 0 -2 0M625 798.4a1 1 0 1 0 2 0a1 1 0 1 0 -2 0M622.3 798.8a1 1 0 1 0 2 0a1 1 0 1 0 -2 0M623.3 789a1 1 0 1 0 2 0a1 1 0 1 0 -2 0M623.8 800.2a1 1 0 1 0 2 0a1 1 0 1 0 -2 0M625.3 799.9a1 1 0 1 0 2 0a1 1 0 1 0 -2 0M623.8 797.4a1 1 0 1 0 2 0a1 1 0 1 0 -2 0M622.5 786.5a1 1 0 1 0 2 0a1 1 0 1 0 -2 0M622.3 801.5a1 1 0 1 0 2 0a1 1 0 1 0 -2 0M622.8 792.8a1 1 0 1 0 2 0a1 1 0 1 0 -2 0M625.3 801.7a1 1 0 1 0 2 0a1 1 0 1 0 -2 0M623.8 813.8a1 1 0 1 0 2 0a1 1 0 1 0 -2 0M622.3 781.6a1 1 0 1 0 2 0a1 1 0 1 0 -2 0M623.8 807.2a1 1 0 1 0 2 0a1 1 0 1 0 -2 0M621.8 788.7a1 1 0 1 0 2 0a1 1 0 1 0 -2 0M622.3 790.7a1 1 0 1 0 2 0a1 1 0 1 0 -2 0M623.8 765.1a1 1 0 1 0 2 0a1 1 0 1 0 -2 0M623.8 787.3a1 1 0 1 0 2 0a1 1 0 1 0 -2 0M621.8 785.4a1 1 0 1 0 2 0a1 1 0 1 0 -2 0M624.8 794a1 1 0 1 0 2 0a1 1 0 1 0 -2 0M626 804.6a1 1 0 1 0 2 0a1 1 0 1 0 -2 0M621.3 793a1 1 0 1 0 2 0a1 1 0 1 0 -2 0M626.5 785.6a1 1 0 1 0 2 0a1 1 0 1 0 -2 0M622.3 797.3a1 1 0 1 0 2 0a1 1 0 1 0 -2 0M626 797.5a1 1 0 1 0 2 0a1 1 0 1 0 -2 0M620.8 805.1a1 1 0 1 0 2 0a1 1 0 1 0 -2 0M624.8 796.5a1 1 0 1 0 2 0a1 1 0 1 0 -2 0M621 796.7a1 1 0 1 0 2 0a1 1 0 1 0 -2 0M623.3 796.1a1 1 0 1 0 2 0a1 1 0 1 0 -2 0M626.8 796.4a1 1 0 1 0 2 0a1 1 0 1 0 -2 0M623.8 816a1 1 0 1 0 2 0a1 1 0 1 0 -2 0M623 803.9a1 1 0 1 0 2 0a1 1 0 1 0 -2 0M623.3 784.7a1 1 0 1 0 2 0a1 1 0 1 0 -2 0M622.3 783.9a1 1 0 1 0 2 0a1 1 0 1 0 -2 0M625.8 789.9a1 1 0 1 0 2 0a1 1 0 1 0 -2 0M625.8 791.4a1 1 0 1 0 2 0a1 1 0 1 0 -2 0M625.8 787.2a1 1 0 1 0 2 0a1 1 0 1 0 -2 0M626.8 801.8a1 1 0 1 0 2 0a1 1 0 1 0 -2 0M621 799.3a1 1 0 1 0 2 0a1 1 0 1 0 -2 0M626.5 788.9a1 1 0 1 0 2 0a1 1 0 1 0 -2 0M626.3 783.1a1 1 0 1 0 2 0a1 1 0 1 0 -2 0M625 781.7a1 1 0 1 0 2 0a1 1 0 1 0 -2 0M621 800.8a1 1 0 1 0 2 0a1 1 0 1 0 -2 0M621 783.1a1 1 0 1 0 2 0a1 1 0 1 0 -2 0M620.3 797.8a1 1 0 1 0 2 0a1 1 0 1 0 -2 0M627.5 804.6a1 1 0 1 0 2 0a1 1 0 1 0 -2 0M620.3 785.5a1 1 0 1 0 2 0a1 1 0 1 0 -2 0M627.3 784a1 1 0 1 0 2 0a1 1 0 1 0 -2 0M624.3 803.1a1 1 0 1 0 2 0a1 1 0 1 0 -2 0M623.8 774.6a1 1 0 1 0 2 0a1 1 0 1 0 -2 0M620.8 790.7a1 1 0 1 0 2 0a1 1 0 1 0 -2 0M626.8 800a1 1 0 1 0 2 0a1 1 0 1 0 -2 0M621 787.6a1 1 0 1 0 2 0a1 1 0 1 0 -2 0M627 792.1a1 1 0 1 0 2 0a1 1 0 1 0 -2 0M628 799.3a1 1 0 1 0 2 0a1 1 0 1 0 -2 0M627.3 798.2a1 1 0 1 0 2 0a1 1 0 1 0 -2 0M622.5 794.1a1 1 0 1 0 2 0a1 1 0 1 0 -2 0M627.8 786.3a1 1 0 1 0 2 0a1 1 0 1 0 -2 0M619.8 796.2a1 1 0 1 0 2 0a1 1 0 1 0 -2 0M620.3 788.8a1 1 0 1 0 2 0a1 1 0 1 0 -2 0M619 785.9a1 1 0 1 0 2 0a1 1 0 1 0 -2 0M627.5 789.8a1 1 0 1 0 2 0a1 1 0 1 0 -2 0M619 798.1a1 1 0 1 0 2 0a1 1 0 1 0 -2 0M619.8 793a1 1 0 1 0 2 0a1 1 0 1 0 -2 0M622.3 807.4a1 1 0 1 0 2 0a1 1 0 1 0 -2 0M625 808a1 1 0 1 0 2 0a1 1 0 1 0 -2 0M628.5 792.5a1 1 0 1 0 2 0a1 1 0 1 0 -2 0M626.3 781.1a1 1 0 1 0 2 0a1 1 0 1 0 -2 0M622.3 774.5a1 1 0 1 0 2 0a1 1 0 1 0 -2 0M618.8 792a1 1 0 1 0 2 0a1 1 0 1 0 -2 0M625.8 795a1 1 0 1 0 2 0a1 1 0 1 0 -2 0M629.3 791.3a1 1 0 1 0 2 0a1 1 0 1 0 -2 0M620.8 781.4a1 1 0 1 0 2 0a1 1 0 1 0 -2 0M623.8 818a1 1 0 1 0 2 0a1 1 0 1 0 -2 0M624.2 792.9a1 1 0 1 0 2 0a1 1 0 1 0 -2 0M619.5 804.3a1 1 0 1 0 2 0a1 1 0 1 0 -2 0M628.5 797.5a1 1 0 1 0 2 0a1 1 0 1 0 -2 0M621 794.3a1 1 0 1 0 2 0a1 1 0 1 0 -2 0M619.5 784.4a1 1 0 1 0 2 0a1 1 0 1 0 -2 0M626.3 793.3a1 1 0 1 0 2 0a1 1 0 1 0 -2 0"/>
<path fill="#4563ff" d="M96.6 831a1 1 0 1 0 2 0a1 1 0 1 0 -2 0M96.6 815.6a1 1 0 1 0 2 0a1 1 0 1 0 -2 0M96.6 819.1a1 1 0 1 0 2 0a1 1 0 1 0 -2 0M97.8 830.1a1 1 0 1 0 2 0a1 1 0 1 0 -2 0M96.6 832.6a1 1 0 1 0 2 0a1 1 0 1 0 -2 0M95.8 829.7a1 1 0 1 0 2 0a1 1 0 1 0 -2 0M95.1 819.5a1 1 0 1 0 2 0a1 1 0 1 0 -2 0M97.6 817.9a1 1 0 1 0 2 0a1 1 0 1 0 -2 0M97.3 820.4a1 1 0 1 0 2 0a1 1 0 1 0 -2 0M96.1 817.4a1 1 0 1 0 2 0a1 1 0 1 0 -2 0M96.6 827.8a1 1 0 1 0 2 0a1 1 0 1 0 -2 0M95.8 820.9a1 1 0 1 0 2 0a1 1 0 1 0 -2 0M94.3 830.2a1 1 0 1 0 2 0a1 1 0 1 0 -2 0M98.1 828.3a1 1 0 1 0 2 0a1 1 0 1 0 -2 0M98.3 821.6a1 1 0 1 0 2 0a1 1 0 1 0 -2 0M94.6 817.3a1 1 0 1 0 2 0a1 1 0 1 0 -2 0M99.1 817.4a1 1 0 1 0 2 0a1 1 0 1 0 -2 0M98.8 820.1a1 1 0 1 0 2 0a1 1 0 1 0 -2 0M96.6 835.7a1 1 0 1 0 2 0a1 1 0 1 0 -2 0M96.6 823.2a1 1 0 1 0 2 0a1 1 0 1 0 -2 0M99.3 830.3a1 1 0 1 0 2 0a1 1 0 1 0 -2 0M93.3 818.2a1 1 0 1 0 2 0a1 1 0 1 0 -2 0M96.6 811.9a1 1 0 1 0 2 0a1 1 0 1 0 -2 0M100.6 817.6a1 1 0 1 0 2 0a1 1 0 1 0 -2 0M95.1 815.3a1 1 0 1 0 2 0a1 1 0 1 0 -2 0M91.8 818a1 1 0 1 0 2 0a1 1 0 1 0 -2 0M95.3 826.9a1 1 0 1 0 2 0a1 1 0 1 0 -2 0M97.8 826.7a1 1 0 1 0 2 0a1 1 0 1 0 -2 0M94.3 821.6a1 1 0 1 0 2 0a1 1 0 1 0 -2 0M94.1 826.1a1 1 0 1 0 2 0a1 1 0 1 0 -2 0M95.1 831.7a1 1 0 1 0 2 0a1 1 0 1 0 -2 0M97.3 810.7a1 1 0 1 0 2 0a1 1 0 1 0 -2 0M97.8 824.1a1 1 0 1 0 2 0a1 1 0 1 0 -2 0M97.8 814.6a1 1 0 1 0 2 0a1 1 0 1 0 -2 0M98.1 831.9a1 1 0 1 0 2 0a1 1 0 1 0 -2 0M94.1 827.7a1 1 0 1 0 2 0a1 1 0 1 0 -2 0M102.1 817.9a1 1 0 1 0 2 0a1 1 0 1 0 -2 0M92.8 830.8a1 1 0 1 0 2 0a1 1 0 1 0 -2 0M93.3 820.5a1 1 0 1 0 2 0a1 1 0 1 0 -2 0M99.6 827.8a1 1 0 1 0 2 0a1 1 0 1 0 -2 0M99.6 831.8a1 1 0 1 0 2 0a1 1 0 1 0 -2 0M95.1 823.1a1 1 0 1 0 2 0a1 1 0 1 0 -2 0M92.8 826.8a1 1 0 1 0 2 0a1 1 0 1 0 -2 0M99.3 823.9a1 1 0 1 0 2 0a1 1 0 1 0 -2 0M93.6 823.5a1 1 0 1 0 2 0a1 1 0 1 0 -2 0M96.1 809.8a1 1 0 1 0 2 0a1 1 0 1 0 -2 0M93.3 829.1a1 1 0 1 0 2 0a1 1 0 1 0 -2 0M99.8 821.9a1 1 0 1 0 2 0a1 1 0 1 0 -2 0M95.1 833.2a1 1 0 1 0 2 0a1 1 0 1 0 -2 0M96.1 824.6a1 1 0 1 0 2 0a1 1 0 1 0 -2 0M100.8 824.1a1 1 0 1 0 2 0a1 1 0 1 0 -2 0M97.8 833.5a1 1 0 1 0 2 0a1 1 0 1 0 -2 0M94.3 834.5a1 1 0 1 0 2 0a1 1 0 1 0 -2 0M91.8 821.2a1 1 0 1 0 2 0a1 1 0 1 0 -2 0M100.6 829.3a1 1 0 1 0 2 0a1 1 0 1 0 -2 0M101.1 827.4a1 1 0 1 0 2 0a1 1 0 1 0 -2 0M100.3 819.9a1 1 0 1 0 2 0a1 1 0 1 0 -2 0M90.6 817a1 1 0 1 0 2 0a1 1 0 1 0 -2 0M91.3 827.2a1 1 0 1 0 2 0a1 1 0 1 0 -2 0M92.1 823.6a1 1 0 1 0 2 0a1 1 0 1 0 -2 0M102.3 824.2a1 1 0 1 0 2 0a1 1 0 1 0 -2 0M90.8 822.9a1 1 0 1 0 2 0a1 1 0 1 0 -2 0M92.1 819.7a1 1 0 1 0 2 0a1 1 0 1 0 -2 0M98.1 812.2a1 1 0 1 0 2 0a1 1 0 1 0 -2 0M101.1 831.4a1 1 0 1 0 2 0a1 1 0 1 0 -2 0M99.3 815a1 1 0 1 0 2 0a1 1 0 1 0 -2 0M101.3 821.1a1 1 0 1 0 2 0a1 1 0 1 0 -2 0M102.6 821.9a1 1 0 1 0 2 0a1 1 0 1 0 -2 0M94.6 810.3a1 1 0 1 0 2 0a1 1 0 1 0 -2 0M89.3 822.3a1 1 0 1 0 2 0a1 1 0 1 0 -2 0M103.6 817.8a1 1 0 1 0 2 0a1 1 0 1 0 -2 0M91.3 830.7a1 1 0 1 0 2 0a1 1 0 1 0 -2 0M90.3 820.7a1 1 0 1 0 2 0a1 1 0 1 0 -2 0M102.6 831.3a1 1 0 1 0 2 0a1 1 0 1 0 -2 0M102.3 826.4a1 1 0 1 0 2 0a1 1 0 1 0 -2 0M91.8 828.7a1 1 0 1 0 2 0a1 1 0 1 0 -2 0M89.8 823.9a1 1 0 1 0 2 0a1 1 0 1 0 -2 0M102.1 829.8a1 1 0 1 0 2 0a1 1 0 1 0 -2 0M102.6 822a1 1 0 1 0 2 0a1 1 0 1 0 -2 0M90.8 821.5a1 1 0 1 0 2 0a1 1 0 1 0 -2 0M90.3 831.8a1 1 0 1 0 2 0a1 1 0 1 0 -2 0M89.8 827.5a1 1 0 1 0 2 0a1 1 0 1 0 -2 0M103.8 820.9a1 1 0 1 0 2 0a1 1 0 1 0 -2 0M98.3 809.5a1 1 0 1 0 2 0a1 1 0 1 0 -2 0M102.3 820.9a1 1 0 1 0 2 0a1 1 0 1 0 -2 0M89.6 818.1a1 1 0 1 0 2 0a1 1 0 1 0 -2 0M98.2 820.1a1 1 0 1 0 2 0a1 1 0 1 0 -2 0M91.8 818a1 1 0 1 0 2 0a1 1 0 1 0 -2 0M233 811.9a1 1 0 1 0 2 0a1 1 0 1 0 -2 0M233 803a1 1 0 1 0 2 0a1 1 0 1 0 -2 0M233 817.9a1 1 0 1 0 2 0a1 1 0 1 0 -2 0M233 821.9a1 1 0 1 0 2 0a1 1 0 1 0 -2 0M234.5 811.7a1 1 0 1 0 2 0a1 1 0 1 0 -2 0M233 815.8a1 1 0 1 0 2 0a1 1 0 1 0 -2 0M231.5 811.5a1 1 0 1 0 2 0a1 1 0 1 0 -2 0M231.5 821.8a1 1 0 1 0 2 0a1 1 0 1 0 -2 0M233.5 804.4a1 1 0 1 0 2 0a1 1 0 1 0 -2 0M231.8 818.8a1 1 0 1 0 2 0a1 1 0 1 0 -2 0M230.5 812.6a1 1 0 1 0 2 0a1 1 0 1 0 -2 0M236 811.7a1 1 0 1 0 2 0a1 1 0 1 0 -2 0M229.8 811.3a1 1 0 1 0 2 0a1 1 0 1 0 -2 0M231.5 816a1 1 0 1 0 2 0a1 1 0 1 0 -2 0M233.2 819.4a1 1 0 1 0 2 0a1 1 0 1 0 -2 0M232.2 813.3a1 1 0 1 0 2 0a1 1 0 1 0 -2 0M233 809.1a1 1 0 1 0 2 0a1 1 0 1 0 -2 0M232.2 805.5a1 1 0 1 0 2 0a1 1 0 1 0 -2 0M233 807.6a1 1 0 1 0 2 0a1 1 0 1 0 -2 0M234.5 816.1a1 1 0 1 0 2 0a1 1 0 1 0 -2 0M234.8 819.9a1 1 0 1 0 2 0a1 1 0 1 0 -2 0M237.5 811.5a1 1 0 1 0 2 0a1 1 0 1 0 -2 0M230 816.2a1 1 0 1 0 2 0a1 1 0 1 0 -2 0M231.5 808.1a1 1 0 1 0 2 0a1 1 0 1 0 -2 0M229 812.6a1 1 0 1 0 2 0a1 1 0 1 0 -2 0M236 816.3a1 1 0 1 0 2 0a1 1 0 1 0 -2 0M235 805.1a1 1 0 1 0 2 0a1 1 0 1 0 -2 0M233 796.5a1 1 0 1 0 2 0a1 1 0 1 0 -2 0M228.2 810.7a1 1 0 1 0 2 0a1 1 0 1 0 -2 0M234.5 808.9a1 1 0 1 0 2 0a1 1 0 1 0 -2 0M230.8 805.3a1 1 0 1 0 2 0a1 1 0 1 0 -2 0M228.5 815.9a1 1 0 1 0 2 0a1 1 0 1 0 -2 0M233 801.2a1 1 0 1 0 2 0a1 1 0 1 0 -2 0M233 823.4a1 1 0 1 0 2 0a1 1 0 1 0 -2 0M233.5 814.1a1 1 0 1 0 2 0a1 1 0 1 0 -2 0M231 817.5a1 1 0 1 0 2 0a1 1 0 1 0 -2 0M235.8 821.1a1 1 0 1 0 2 0a1 1 0 1 0 -2 0M230.2 818.7a1 1 0 1 0 2 0a1 1 0 1 0 -2 0M239 811.4a1 1 0 1 0 2 0a1 1 0 1 0 -2 0M230 808.5a1 1 0 1 0 2 0a1 1 0 1 0 -2 0M236 819.1a1 1 0 1 0 2 0a1 1 0 1 0 -2 0M227.5 812a1 1 0 1 0 2 0a1 1 0 1 0 -2 0M228.8 819.2a1 1 0 1 0 2 0a1 1 0 1 0 -2 0M234.5 817.6a1 1 0 1 0 2 0a1 1 0 1 0 -2 0M237.5 815.6a1 1 0 1 0 2 0a1 1 0 1 0 -2 0M231.5 801.1a1 1 0 1 0 2 0a1 1 0 1 0 -2 0M232.5 795.1a1 1 0 1 0 2 0a1 1 0 1 0 -2 0M227.2 815a1 1 0 1 0 2 0a1 1 0 1 0 -2 0M226 811.7a1 1 0 1 0 2 0a1 1 0 1 0 -2 0M234.5 801.4a1 1 0 1 0 2 0a1 1 0 1 0 -2 0M236 808.3a1 1 0 1 0 2 0a1 1 0 1 0 -2 0M234 824.6a1 1 0 1 0 2 0a1 1 0 1 0 -2 0M237.5 808.5a1 1 0 1 0 2 0a1 1 0 1 0 -2 0M239 815a1 1 0 1 0 2 0a1 1 0 1 0 -2 0M231.2 814.5a1 1 0 1 0 2 0a1 1 0 1 0 -2 0M234 800a1 1 0 1 0 2 0a1 1 0 1 0 -2 0M238.1 811.1a1 1 0 1 0 2 0a1 1 0 1 0 -2 0M231.5 802.8a1 1 0 1 0 2 0a1 1 0 1 0 -2 0M237.5 819.6a1 1 0 1 0 2 0a1 1 0 1 0 -2 0M240.2 812.4a1 1 0 1 0 2 0a1 1 0 1 0 -2 0M238.2 812.8a1 1 0 1 0 2 0a1 1 0 1 0 -2 0M233 798.3a1 1 0 1 0 2 0a1 1 0 1 0 -2 0M234.5 798.4a1 1 0 1 0 2 0a1 1 0 1 0 -2 0M228.5 808.5a1 1 0 1 0 2 0a1 1 0 1 0 -2 0M236.5 805.2a1 1 0 1 0 2 0a1 1 0 1 0 -2 0M233.8 806.2a1 1 0 1 0 2 0a1 1 0 1 0 -2 0M231.5 797a1 1 0 1 0 2 0a1 1 0 1 0 -2 0M234.5 795.8a1 1 0 1 0 2 0a1 1 0 1 0 -2 0M233.6 812.8a1 1 0 1 0 2 0a1 1 0 1 0 -2 0M237.2 818.1a1 1 0 1 0 2 0a1 1 0 1 0 -2 0M237.5 811.8a1 1 0 1 0 2 0a1 1 0 1 0 -2 0M230.2 797.8a1 1 0 1 0 2 0a1 1 0 1 0 -2 0M239.7 812.1a1 1 0 1 0 2 0a1 1 0 1 0 -2 0M238.5 816.7a1 1 0 1 0 2 0a1 1 0 1 0 -2 0M231.5 809.7a1 1 0 1 0 2 0a1 1 0 1 0 -2 0M239 808.5a1 1 0 1 0 2 0a1 1 0 1 0 -2 0M233 832.4a1 1 0 1 0 2 0a1 1 0 1 0 -2 0M227.2 807.5a1 1 0 1 0 2 0a1 1 0 1 0 -2 0M235 813.9a1 1 0 1 0 2 0a1 1 0 1 0 -2 0M227.8 817.1a1 1 0 1 0 2 0a1 1 0 1 0 -2 0M301.2 799.7a1 1 0 1 0 2 0a1 1 0 1 0 -2 0M301.2 771.2a1 1 0 1 0 2 0a1 1 0 1 0 -2 0M301.2 786.9a1 1 0 1 0 2 0a1 1 0 1 0 -2 0M301.2 749.8a1 1 0 1 0 2 0a1 1 0 1 0 -2 0M301.2 747.7a1 1 0 1 0 2 0a1 1 0 1 0 -2 0M303.2 748.5a1 1 0 1 0 2 0a1 1 0 1 0 -2 0M301.2 759.1a1 1 0 1 0 2 0a1 1 0 1 0 -2 0M301.2 755.7a1 1 0 1 0 2 0a1 1 0 1 0 -2 0M301.7 745.7a1 1 0 1 0 2 0a1 1 0 1 0 -2 0M301.2 765.3a1 1 0 1 0 2 0a1 1 0 1 0 -2 0M301.2 742.2a1 1 0 1 0 2 0a1 1 0 1 0 -2 0M301.2 775.6a1 1 0 1 0 2 0a1 1 0 1 0 -2 0M299.2 775.5a1 1 0 1 0 2 0a1 1 0 1 0 -2 0M299.2 758.6a1 1 0 1 0 2 0a1 1 0 1 0 -2 0M299.5 785.6a1 1 0 1 0 2 0a1 1 0 1 0 -2 0M299.2 749.9a1 1 0 1 0 2 0a1 1 0 1 0 -2 0M303.2 765.7a1 1 0 1 0 2 0a1 1 0 1 0 -2 0M301.2 779.8a1 1 0 1 0 2 0a1 1 0 1 0 -2 0M303.2 771.1a1 1 0 1 0 2 0a1 1 0 1 0 -2 0M303 757a1 1 0 1 0 2 0a1 1 0 1 0 -2 0M302.7 774.2a1 1 0 1 0 2 0a1 1 0 1 0 -2 0M302.5 754.1a1 1 0 1 0 2 0a1 1 0 1 0 -2 0M304.2 750.3a1 1 0 1 0 2 0a1 1 0 1 0 -2 0M301.2 737a1 1 0 1 0 2 0a1 1 0 1 0 -2 0M301.2 768.5a1 1 0 1 0 2 0a1 1 0 1 0 -2 0M301.2 728.7a1 1 0 1 0 2 0a1 1 0 1 0 -2 0M300 772.8a1 1 0 1 0 2 0a1 1 0 1 0 -2 0M299.2 767.6a1 1 0 1 0 2 0a1 1 0 1 0 -2 0M301.2 751.9a1 1 0 1 0 2 0a1 1 0 1 0 -2 0M302.5 740.6a1 1 0 1 0 2 0a1 1 0 1 0 -2 0M299.2 736.6a1 1 0 1 0 2 0a1 1 0 1 0 -2 0M305 766.8a1 1 0 1 0 2 0a1 1 0 1 0 -2 0M298.2 769.3a1 1 0 1 0 2 0a1 1 0 1 0 -2 0M301.2 762.1a1 1 0 1 0 2 0a1 1 0 1 0 -2 0M298.5 771.4a1 1 0 1 0 2 0a1 1 0 1 0 -2 0M299.2 765.6a1 1 0 1 0 2 0a1 1 0 1 0 -2 0M303.5 776.1a1 1 0 1 0 2 0a1 1 0 1 0 -2 0M303.2 761.6a1 1 0 1 0 2 0a1 1 0 1 0 -2 0M305 772.1a1 1 0 1 0 2 0a1 1 0 1 0 -2 0M298.7 748a1 1 0 1 0 2 0a1 1 0 1 0 -2 0M298.2 760.4a1 1 0 1 0 2 0a1 1 0 1 0 -2 0M305 757.3a1 1 0 1 0 2 0a1 1 0 1 0 -2 0M303.2 759.3a1 1 0 1 0 2 0a1 1 0 1 0 -2 0M299.5 763.3a1 1 0 1 0 2 0a1 1 0 1 0 -2 0M304.5 763.3a1 1 0 1 0 2 0a1 1 0 1 0 -2 0M297.2 764.9a1 1 0 1 0 2 0a1 1 0 1 0 -2 0M301.2 803.7a1 1 0 1 0 2 0a1 1 0 1 0 -2 0M297.5 757.3a1 1 0 1 0 2 0a1 1 0 1 0 -2 0M303.2 742.4a1 1 0 1 0 2 0a1 1 0 1 0 -2 0M306.5 764.1a1 1 0 1 0 2 0a1 1 0 1 0 -2 0M303.2 737.9a1 1 0 1 0 2 0a1 1 0 1 0 -2 0M306.7 758.4a1 1 0 1 0 2 0a1 1 0 1 0 -2 0M299.7 753.4a1 1 0 1 0 2 0a1 1 0 1 0 -2 0M299.7 745.5a1 1 0 1 0 2 0a1 1 0 1 0 -2 0M307 756.4a1 1 0 1 0 2 0a1 1 0 1 0 -2 0M304.5 753.7a1 1 0 1 0 2 0a1 1 0 1 0 -2 0M298 752.4a1 1 0 1 0 2 0a1 1 0 1 0 -2 0M298.5 755.1a1 1 0 1 0 2 0a1 1 0 1 0 -2 0M296.2 758.9a1 1 0 1 0 2 0a1 1 0 1 0 -2 0M296.7 772.7a1 1 0 1 0 2 0a1 1 0 1 0 -2 0M297.2 775.4a1 1 0 1 0 2 0a1 1 0 1 0 -2 0M306.5 773.5a1 1 0 1 0 2 0a1 1 0 1 0 -2 0M297 749a1 1 0 1 0 2 0a1 1 0 1 0 -2 0M296.5 754.2a1 1 0 1 0 2 0a1 1 0 1 0 -2 0M306.2 749.8a1 1 0 1 0 2 0a1 1 0 1 0 -2 0M301.2 733.7a1 1 0 1 0 2 0a1 1 0 1 0 -2 0M306.5 753.2a1 1 0 1 0 2 0a1 1 0 1 0 -2 0M294.5 754.4a1 1 0 1 0 2 0a1 1 0 1 0 -2 0M295.2 750a1 1 0 1 0 2 0a1 1 0 1 0 -2 0M295.7 766.4a1 1 0 1 0 2 0a1 1 0 1 0 -2 0M294.7 772.9a1 1 0 1 0 2 0a1 1 0 1 0 -2 0M305.2 760.1a1 1 0 1 0 2 0a1 1 0 1 0 -2 0M295.5 760.8a1 1 0 1 0 2 0a1 1 0 1 0 -2 0M299.5 778.6a1 1 0 1 0 2 0a1 1 0 1 0 -2 0M301.2 783.7a1 1 0 1 0 2 0a1 1 0 1 0 -2 0M300 738.8a1 1 0 1 0 2 0a1 1 0 1 0 -2 0M303.2 784.6a1 1 0 1 0 2 0a1 1 0 1 0 -2 0M298 738.9a1 1 0 1 0 2 0a1 1 0 1 0 -2 0M297.5 762.8a1 1 0 1 0 2 0a1 1 0 1 0 -2 0M304.5 769.4a1 1 0 1 0 2 0a1 1 0 1 0 -2 0M369.4 803.6a1 1 0 1 0 2 0a1 1 0 1 0 -2 0M369.9 805.6a1 1 0 1 0 2 0a1 1 0 1 0 -2 0M369.4 820a1 1 0 1 0 2 0a1 1 0 1 0 -2 0M369.4 763.5a1 1 0 1 0 2 0a1 1 0 1 0 -2 0M369.4 759.3a1 1 0 1 0 2 0a1 1 0 1 0 -2 0M369.4 776.3a1 1 0 1 0 2 0a1 1 0 1 0 -2 0M369.4 789.1a1 1 0 1 0 2 0a1 1 0 1 0 -2 0M369.4 799.4a1 1 0 1 0 2 0a1 1 0 1 0 -2 0M369.4 792.8a1 1 0 1 0 2 0a1 1 0 1 0 -2 0M369.4 781.6a1 1 0 1 0 2 0a1 1 0 1 0 -2 0M367.4 803.1a1 1 0 1 0 2 0a1 1 0 1 0 -2 0M370.7 787.4a1 1 0 1 0 2 0a1 1 0 1 0 -2 0M369.4 810.5a1 1 0 1 0 2 0a1 1 0 1 0 -2 0M369.4 770.7a1 1 0 1 0 2 0a1 1 0 1 0 -2 0M369.4 785.1a1 1 0 1 0 2 0a1 1 0 1 0 -2 0M367.4 792.3a1 1 0 1 0 2 0a1 1 0 1 0 -2 0M367.4 789.4a1 1 0 1 0 2 0a1 1 0 1 0 -2 0M369.4 816a1 1 0 1 0 2 0a1 1 0 1 0 -2 0M367.9 805.5a1 1 0 1 0 2 0a1 1 0 1 0 -2 0M368.2 794.5a1 1 0 1 0 2 0a1 1 0 1 0 -2 0M369.4 824a1 1 0 1 0 2 0a1 1 0 1 0 -2 0M371.4 759.8a1 1 0 1 0 2 0a1 1 0 1 0 -2 0M367.4 810.8a1 1 0 1 0 2 0a1 1 0 1 0 -2 0M370.4 801.8a1 1 0 1 0 2 0a1 1 0 1 0 -2 0M371.9 805.2a1 1 0 1 0 2 0a1 1 0 1 0 -2 0M366.2 806.7a1 1 0 1 0 2 0a1 1 0 1 0 -2 0M371.4 771a1 1 0 1 0 2 0a1 1 0 1 0 -2 0M370.7 779.9a1 1 0 1 0 2 0a1 1 0 1 0 -2 0M367.4 784.9a1 1 0 1 0 2 0a1 1 0 1 0 -2 0M372.2 788.9a1 1 0 1 0 2 0a1 1 0 1 0 -2 0M371.2 794a1 1 0 1 0 2 0a1 1 0 1 0 -2 0M367.9 772.2a1 1 0 1 0 2 0a1 1 0 1 0 -2 0M368.4 768.9a1 1 0 1 0 2 0a1 1 0 1 0 -2 0M365.4 790.3a1 1 0 1 0 2 0a1 1 0 1 0 -2 0M367.9 777.7a1 1 0 1 0 2 0a1 1 0 1 0 -2 0M371.9 785.8a1 1 0 1 0 2 0a1 1 0 1 0 -2 0M372.4 778.7a1 1 0 1 0 2 0a1 1 0 1 0 -2 0M370.7 783.4a1 1 0 1 0 2 0a1 1 0 1 0 -2 0M373.7 790.4a1 1 0 1 0 2 0a1 1 0 1 0 -2 0M372.7 807.1a1 1 0 1 0 2 0a1 1 0 1 0 -2 0M372.7 783.4a1 1 0 1 0 2 0a1 1 0 1 0 -2 0M363.9 788.9a1 1 0 1 0 2 0a1 1 0 1 0 -2 0M366.2 771a1 1 0 1 0 2 0a1 1 0 1 0 -2 0M365.4 784.1a1 1 0 1 0 2 0a1 1 0 1 0 -2 0M369.7 796.1a1 1 0 1 0 2 0a1 1 0 1 0 -2 0M367.7 796.6a1 1 0 1 0 2 0a1 1 0 1 0 -2 0M372.7 795.5a1 1 0 1 0 2 0a1 1 0 1 0 -2 0M370.9 791.5a1 1 0 1 0 2 0a1 1 0 1 0 -2 0M374.2 788.3a1 1 0 1 0 2 0a1 1 0 1 0 -2 0M365.7 796.5a1 1 0 1 0 2 0a1 1 0 1 0 -2 0M374.7 795.7a1 1 0 1 0 2 0a1 1 0 1 0 -2 0M368.4 801.4a1 1 0 1 0 2 0a1 1 0 1 0 -2 0M376.2 789a1 1 0 1 0 2 0a1 1 0 1 0 -2 0M369.4 741a1 1 0 1 0 2 0a1 1 0 1 0 -2 0M364.4 805.8a1 1 0 1 0 2 0a1 1 0 1 0 -2 0M365.9 778.1a1 1 0 1 0 2 0a1 1 0 1 0 -2 0M367.4 781.7a1 1 0 1 0 2 0a1 1 0 1 0 -2 0M374.2 805.7a1 1 0 1 0 2 0a1 1 0 1 0 -2 0M371.4 798.7a1 1 0 1 0 2 0a1 1 0 1 0 -2 0M372.4 802.6a1 1 0 1 0 2 0a1 1 0 1 0 -2 0M364.7 794.7a1 1 0 1 0 2 0a1 1 0 1 0 -2 0M363.7 791.5a1 1 0 1 0 2 0a1 1 0 1 0 -2 0M366.2 787.7a1 1 0 1 0 2 0a1 1 0 1 0 -2 0M374.7 783.2a1 1 0 1 0 2 0a1 1 0 1 0 -2 0M365.4 803.7a1 1 0 1 0 2 0a1 1 0 1 0 -2 0M374.2 777.6a1 1 0 1 0 2 0a1 1 0 1 0 -2 0M368.7 787a1 1 0 1 0 2 0a1 1 0 1 0 -2 0M363.7 796.8a1 1 0 1 0 2 0a1 1 0 1 0 -2 0M370.9 809a1 1 0 1 0 2 0a1 1 0 1 0 -2 0M372.9 772.4a1 1 0 1 0 2 0a1 1 0 1 0 -2 0M374.4 770.9a1 1 0 1 0 2 0a1 1 0 1 0 -2 0M376.2 797.1a1 1 0 1 0 2 0a1 1 0 1 0 -2 0M362.7 794.5a1 1 0 1 0 2 0a1 1 0 1 0 -2 0M370.2 767.8a1 1 0 1 0 2 0a1 1 0 1 0 -2 0M363.4 783.2a1 1 0 1 0 2 0a1 1 0 1 0 -2 0M373.2 797.7a1 1 0 1 0 2 0a1 1 0 1 0 -2 0M363.2 787a1 1 0 1 0 2 0a1 1 0 1 0 -2 0M373.9 785.3a1 1 0 1 0 2 0a1 1 0 1 0 -2 0M364.1 797.9a1 1 0 1 0 2 0a1 1 0 1 0 -2 0M369.4 837.7a1 1 0 1 0 2 0a1 1 0 1 0 -2 0M437.6 810.1a1 1 0 1 0 2 0a1 1 0 1 0 -2 0M437.6 827a1 1 0 1 0 2 0a1 1 0 1 0 -2 0M437.6 817.5a1 1 0 1 0 2 0a1 1 0 1 0 -2 0M437.6 774.9a1 1 0 1 0 2 0a1 1 0 1 0 -2 0M438.6 811.9a1 1 0 1 0 2 0a1 1 0 1 0 -2 0M437.6 804.9a1 1 0 1 0 2 0a1 1 0 1 0 -2 0M437.6 822.9a1 1 0 1 0 2 0a1 1 0 1 0 -2 0M437.6 814.3a1 1 0 1 0 2 0a1 1 0 1 0 -2 0M435.6 805.8a1 1 0 1 0 2 0a1 1 0 1 0 -2 0M438.6 828.8a1 1 0 1 0 2 0a1 1 0 1 0 -2 0M437.6 865.4a1 1 0 1 0 2 0a1 1 0 1 0 -2 0M439.6 817.2a1 1 0 1 0 2 0a1 1 0 1 0 -2 0M436.1 821.6a1 1 0 1 0 2 0a1 1 0 1 0 -2 0M435.6 827.4a1 1 0 1 0 2 0a1 1 0 1 0 -2 0M437.6 795.7a1 1 0 1 0 2 0a1 1 0 1 0 -2 0M439.6 796.3a1 1 0 1 0 2 0a1 1 0 1 0 -2 0M437.6 802a1 1 0 1 0 2 0a1 1 0 1 0 -2 0M439.4 824a1 1 0 1 0 2 0a1 1 0 1 0 -2 0M439.1 821.4a1 1 0 1 0 2 0a1 1 0 1 0 -2 0M435.9 823.9a1 1 0 1 0 2 0a1 1 0 1 0 -2 0M435.6 817.7a1 1 0 1 0 2 0a1 1 0 1 0 -2 0M437.1 830.4a1 1 0 1 0 2 0a1 1 0 1 0 -2 0M435.6 801.5a1 1 0 1 0 2 0a1 1 0 1 0 -2 0M433.9 816.7a1 1 0 1 0 2 0a1 1 0 1 0 -2 0M437.6 799.7a1 1 0 1 0 2 0a1 1 0 1 0 -2 0M439.6 802.5a1 1 0 1 0 2 0a1 1 0 1 0 -2 0M438.6 819.3a1 1 0 1 0 2 0a1 1 0 1 0 -2 0M433.9 823.9a1 1 0 1 0 2 0a1 1 0 1 0 -2 0M440.6 819.1a1 1 0 1 0 2 0a1 1 0 1 0 -2 0M437.6 807a1 1 0 1 0 2 0a1 1 0 1 0 -2 0M437.6 791.1a1 1 0 1 0 2 0a1 1 0 1 0 -2 0M439.6 809.1a1 1 0 1 0 2 0a1 1 0 1 0 -2 0M439.6 806.2a1 1 0 1 0 2 0a1 1 0 1 0 -2 0M435.1 819.7a1 1 0 1 0 2 0a1 1 0 1 0 -2 0M434.6 804a1 1 0 1 0 2 0a1 1 0 1 0 -2 0M436.4 798.1a1 1 0 1 0 2 0a1 1 0 1 0 -2 0M435.6 814.3a1 1 0 1 0 2 0a1 1 0 1 0 -2 0M441.6 803.1a1 1 0 1 0 2 0a1 1 0 1 0 -2 0M437.6 782.6a1 1 0 1 0 2 0a1 1 0 1 0 -2 0M437.6 835.1a1 1 0 1 0 2 0a1 1 0 1 0 -2 0M432.9 803.1a1 1 0 1 0 2 0a1 1 0 1 0 -2 0M435.6 809.3a1 1 0 1 0 2 0a1 1 0 1 0 -2 0M441.6 805.7a1 1 0 1 0 2 0a1 1 0 1 0 -2 0M443.1 801.8a1 1 0 1 0 2 0a1 1 0 1 0 -2 0M440.6 811.1a1 1 0 1 0 2 0a1 1 0 1 0 -2 0M435.6 796.1a1 1 0 1 0 2 0a1 1 0 1 0 -2 0M439.6 800.1a1 1 0 1 0 2 0a1 1 0 1 0 -2 0M443.9 803.7a1 1 0 1 0 2 0a1 1 0 1 0 -2 0M433.6 806.3a1 1 0 1 0 2 0a1 1 0 1 0 -2 0M441.6 817a1 1 0 1 0 2 0a1 1 0 1 0 -2 0M434.4 811a1 1 0 1 0 2 0a1 1 0 1 0 -2 0M431.9 817.5a1 1 0 1 0 2 0a1 1 0 1 0 -2 0M433.1 820a1 1 0 1 0 2 0a1 1 0 1 0 -2 0M443.4 816a1 1 0 1 0 2 0a1 1 0 1 0 -2 0M431.1 804.2a1 1 0 1 0 2 0a1 1 0 1 0 -2 0M442.6 820a1 1 0 1 0 2 0a1 1 0 1 0 -2 0M434.9 802.8a1 1 0 1 0 2 0a1 1 0 1 0 -2 0M433.6 795.9a1 1 0 1 0 2 0a1 1 0 1 0 -2 0M431.1 820.3a1 1 0 1 0 2 0a1 1 0 1 0 -2 0M441.1 821.5a1 1 0 1 0 2 0a1 1 0 1 0 -2 0M433.9 802.8a1 1 0 1 0 2 0a1 1 0 1 0 -2 0M436.6 802.9a1 1 0 1 0 2 0a1 1 0 1 0 -2 0M442.6 810.3a1 1 0 1 0 2 0a1 1 0 1 0 -2 0M441.4 824.8a1 1 0 1 0 2 0a1 1 0 1 0 -2 0M438.1 789.1a1 1 0 1 0 2 0a1 1 0 1 0 -2 0M439.6 813.8a1 1 0 1 0 2 0a1 1 0 1 0 -2 0M443.9 817.9a1 1 0 1 0 2 0a1 1 0 1 0 -2 0M443.6 805.8a1 1 0 1 0 2 0a1 1 0 1 0 -2 0M431.9 807.4a1 1 0 1 0 2 0a1 1 0 1 0 -2 0M444.6 820.4a1 1 0 1 0 2 0a1 1 0 1 0 -2 0M437.6 846.8a1 1 0 1 0 2 0a1 1 0 1 0 -2 0M441.3 803.9a1 1 0 1 0 2 0a1 1 0 1 0 -2 0M439.1 830.8a1 1 0 1 0 2 0a1 1 0 1 0 -2 0M432.7 816.3a1 1 0 1 0 2 0a1 1 0 1 0 -2 0M434.4 799.8a1 1 0 1 0 2 0a1 1 0 1 0 -2 0M441.4 808a1 1 0 1 0 2 0a1 1 0 1 0 -2 0M441.6 796.8a1 1 0 1 0 2 0a1 1 0 1 0 -2 0M441.6 799.3a1 1 0 1 0 2 0a1 1 0 1 0 -2 0M441.9 806.8a1 1 0 1 0 2 0a1 1 0 1 0 -2 0M432.4 811a1 1 0 1 0 2 0a1 1 0 1 0 -2 0M505.8 772.1a1 1 0 1 0 2 0a1 1 0 1 0 -2 0M505.8 802.2a1 1 0 1 0 2 0a1 1 0 1 0 -2 0M505.8 749.7a1 1 0 1 0 2 0a1 1 0 1 0 -2 0M505.8 782.4a1 1 0 1 0 2 0a1 1 0 1 0 -2 0M505.8 757.3a1 1 0 1 0 2 0a1 1 0 1 0 -2 0M505.8 785a1 1 0 1 0 2 0a1 1 0 1 0 -2 0M507.8 772.1a1 1 0 1 0 2 0a1 1 0 1 0 -2 0M504.3 781a1 1 0 1 0 2 0a1 1 0 1 0 -2 0M505.8 777.8a1 1 0 1 0 2 0a1 1 0 1 0 -2 0M505.8 765.6a1 1 0 1 0 2 0a1 1 0 1 0 -2 0M504.1 771a1 1 0 1 0 2 0a1 1 0 1 0 -2 0M505.8 753a1 1 0 1 0 2 0a1 1 0 1 0 -2 0M504.3 767a1 1 0 1 0 2 0a1 1 0 1 0 -2 0M505.8 789.2a1 1 0 1 0 2 0a1 1 0 1 0 -2 0M505.8 795.1a1 1 0 1 0 2 0a1 1 0 1 0 -2 0M506.8 800.4a1 1 0 1 0 2 0a1 1 0 1 0 -2 0M503.8 764.9a1 1 0 1 0 2 0a1 1 0 1 0 -2 0M505.8 761.7a1 1 0 1 0 2 0a1 1 0 1 0 -2 0M507.1 787.6a1 1 0 1 0 2 0a1 1 0 1 0 -2 0M503.8 788.8a1 1 0 1 0 2 0a1 1 0 1 0 -2 0M503.8 802.3a1 1 0 1 0 2 0a1 1 0 1 0 -2 0M507.8 790a1 1 0 1 0 2 0a1 1 0 1 0 -2 0M507.6 766.9a1 1 0 1 0 2 0a1 1 0 1 0 -2 0M505.3 798.9a1 1 0 1 0 2 0a1 1 0 1 0 -2 0M501.8 789.5a1 1 0 1 0 2 0a1 1 0 1 0 -2 0M506.6 804.1a1 1 0 1 0 2 0a1 1 0 1 0 -2 0M505.8 807.4a1 1 0 1 0 2 0a1 1 0 1 0 -2 0M504.3 786.4a1 1 0 1 0 2 0a1 1 0 1 0 -2 0M505.8 768.6a1 1 0 1 0 2 0a1 1 0 1 0 -2 0M505.8 774.2a1 1 0 1 0 2 0a1 1 0 1 0 -2 0M504.3 760.2a1 1 0 1 0 2 0a1 1 0 1 0 -2 0M504.3 793.7a1 1 0 1 0 2 0a1 1 0 1 0 -2 0M507.8 782a1 1 0 1 0 2 0a1 1 0 1 0 -2 0M507.8 761.2a1 1 0 1 0 2 0a1 1 0 1 0 -2 0M503.6 782.9a1 1 0 1 0 2 0a1 1 0 1 0 -2 0M508.3 801.9a1 1 0 1 0 2 0a1 1 0 1 0 -2 0M504.1 775.3a1 1 0 1 0 2 0a1 1 0 1 0 -2 0M507.8 758.3a1 1 0 1 0 2 0a1 1 0 1 0 -2 0M509.8 782.7a1 1 0 1 0 2 0a1 1 0 1 0 -2 0M509.1 787.7a1 1 0 1 0 2 0a1 1 0 1 0 -2 0M508.3 774.1a1 1 0 1 0 2 0a1 1 0 1 0 -2 0M503.3 762a1 1 0 1 0 2 0a1 1 0 1 0 -2 0M507.8 795.2a1 1 0 1 0 2 0a1 1 0 1 0 -2 0M502.3 781a1 1 0 1 0 2 0a1 1 0 1 0 -2 0M502.8 795.1a1 1 0 1 0 2 0a1 1 0 1 0 -2 0M509.8 795.4a1 1 0 1 0 2 0a1 1 0 1 0 -2 0M510.8 788.7a1 1 0 1 0 2 0a1 1 0 1 0 -2 0M509.6 766.1a1 1 0 1 0 2 0a1 1 0 1 0 -2 0M502.3 766.4a1 1 0 1 0 2 0a1 1 0 1 0 -2 0M502.3 786.8a1 1 0 1 0 2 0a1 1 0 1 0 -2 0M502.8 772.7a1 1 0 1 0 2 0a1 1 0 1 0 -2 0M503.8 749.8a1 1 0 1 0 2 0a1 1 0 1 0 -2 0M505.8 792.3a1 1 0 1 0 2 0a1 1 0 1 0 -2 0M502.6 758.9a1 1 0 1 0 2 0a1 1 0 1 0 -2 0M500.3 766.1a1 1 0 1 0 2 0a1 1 0 1 0 -2 0M507.8 784.7a1 1 0 1 0 2 0a1 1 0 1 0 -2 0M501.8 784a1 1 0 1 0 2 0a1 1 0 1 0 -2 0M510.8 786.5a1 1 0 1 0 2 0a1 1 0 1 0 -2 0M504.1 791.2a1 1 0 1 0 2 0a1 1 0 1 0 -2 0M501.8 801.6a1 1 0 1 0 2 0a1 1 0 1 0 -2 0M511.3 781.2a1 1 0 1 0 2 0a1 1 0 1 0 -2 0M510.3 773.9a1 1 0 1 0 2 0a1 1 0 1 0 -2 0M502.1 775.5a1 1 0 1 0 2 0a1 1 0 1 0 -2 0M511.8 783.4a1 1 0 1 0 2 0a1 1 0 1 0 -2 0M506.8 763.8a1 1 0 1 0 2 0a1 1 0 1 0 -2 0M510.8 767.8a1 1 0 1 0 2 0a1 1 0 1 0 -2 0M509.8 761.5a1 1 0 1 0 2 0a1 1 0 1 0 -2 0M500.8 772.7a1 1 0 1 0 2 0a1 1 0 1 0 -2 0M505.8 821.8a1 1 0 1 0 2 0a1 1 0 1 0 -2 0M507.8 753a1 1 0 1 0 2 0a1 1 0 1 0 -2 0M505.8 811.7a1 1 0 1 0 2 0a1 1 0 1 0 -2 0M503.3 799.6a1 1 0 1 0 2 0a1 1 0 1 0 -2 0M500.1 775.5a1 1 0 1 0 2 0a1 1 0 1 0 -2 0M509.8 790.5a1 1 0 1 0 2 0a1 1 0 1 0 -2 0M500.3 786.4a1 1 0 1 0 2 0a1 1 0 1 0 -2 0M509.8 757.6a1 1 0 1 0 2 0a1 1 0 1 0 -2 0M507.8 793a1 1 0 1 0 2 0a1 1 0 1 0 -2 0M501.3 761.2a1 1 0 1 0 2 0a1 1 0 1 0 -2 0M505.8 738.1a1 1 0 1 0 2 0a1 1 0 1 0 -2 0M512.1 775.1a1 1 0 1 0 2 0a1 1 0 1 0 -2 0M574 743.8a1 1 0 1 0 2 0a1 1 0 1 0 -2 0M574 776.9a1 1 0 1 0 2 0a1 1 0 1 0 -2 0M574 752.5a1 1 0 1 0 2 0a1 1 0 1 0 -2 0M574 766.5a1 1 0 1 0 2 0a1 1 0 1 0 -2 0M576 752.2a1 1 0 1 0 2 0a1 1 0 1 0 -2 0M574 746.8a1 1 0 1 0 2 0a1 1 0 1 0 -2 0M573 754.3a1 1 0 1 0 2 0a1 1 0 1 0 -2 0M574 782a1 1 0 1 0 2 0a1 1 0 1 0 -2 0M574 758a1 1 0 1 0 2 0a1 1 0 1 0 -2 0M572 758.8a1 1 0 1 0 2 0a1 1 0 1 0 -2 0M574 725.3a1 1 0 1 0 2 0a1 1 0 1 0 -2 0M571 753.6a1 1 0 1 0 2 0a1 1 0 1 0 -2 0M575.8 757a1 1 0 1 0 2 0a1 1 0 1 0 -2 0M574 763.7a1 1 0 1 0 2 0a1 1 0 1 0 -2 0M572 765.9a1 1 0 1 0 2 0a1 1 0 1 0 -2 0M576.5 758.9a1 1 0 1 0 2 0a1 1 0 1 0 -2 0M573 750.7a1 1 0 1 0 2 0a1 1 0 1 0 -2 0M574 772a1 1 0 1 0 2 0a1 1 0 1 0 -2 0M577.2 753.9a1 1 0 1 0 2 0a1 1 0 1 0 -2 0M572.2 742.6a1 1 0 1 0 2 0a1 1 0 1 0 -2 0M574 779.5a1 1 0 1 0 2 0a1 1 0 1 0 -2 0M570 751.8a1 1 0 1 0 2 0a1 1 0 1 0 -2 0M570 758.7a1 1 0 1 0 2 0a1 1 0 1 0 -2 0M576 765.8a1 1 0 1 0 2 0a1 1 0 1 0 -2 0M572 763.8a1 1 0 1 0 2 0a1 1 0 1 0 -2 0M574 761.4a1 1 0 1 0 2 0a1 1 0 1 0 -2 0M578 751.7a1 1 0 1 0 2 0a1 1 0 1 0 -2 0M576 772a1 1 0 1 0 2 0a1 1 0 1 0 -2 0M575 754.6a1 1 0 1 0 2 0a1 1 0 1 0 -2 0M568.2 750.7a1 1 0 1 0 2 0a1 1 0 1 0 -2 0M572 772.7a1 1 0 1 0 2 0a1 1 0 1 0 -2 0M570.8 771a1 1 0 1 0 2 0a1 1 0 1 0 -2 0M571 760.6a1 1 0 1 0 2 0a1 1 0 1 0 -2 0M577.8 764.4a1 1 0 1 0 2 0a1 1 0 1 0 -2 0M572.5 775.5a1 1 0 1 0 2 0a1 1 0 1 0 -2 0M574 737.5a1 1 0 1 0 2 0a1 1 0 1 0 -2 0M576 738.2a1 1 0 1 0 2 0a1 1 0 1 0 -2 0M576 781.1a1 1 0 1 0 2 0a1 1 0 1 0 -2 0M572 782.9a1 1 0 1 0 2 0a1 1 0 1 0 -2 0M574 740.8a1 1 0 1 0 2 0a1 1 0 1 0 -2 0M570 765.5a1 1 0 1 0 2 0a1 1 0 1 0 -2 0M576 777.5a1 1 0 1 0 2 0a1 1 0 1 0 -2 0M578 771.6a1 1 0 1 0 2 0a1 1 0 1 0 -2 0M577.8 760.5a1 1 0 1 0 2 0a1 1 0 1 0 -2 0M580 750.9a1 1 0 1 0 2 0a1 1 0 1 0 -2 0M572.2 738.7a1 1 0 1 0 2 0a1 1 0 1 0 -2 0M574 768.6a1 1 0 1 0 2 0a1 1 0 1 0 -2 0M577.8 767a1 1 0 1 0 2 0a1 1 0 1 0 -2 0M570.2 738.6a1 1 0 1 0 2 0a1 1 0 1 0 -2 0M574 786.4a1 1 0 1 0 2 0a1 1 0 1 0 -2 0M574.8 735.6a1 1 0 1 0 2 0a1 1 0 1 0 -2 0M574.2 774.1a1 1 0 1 0 2 0a1 1 0 1 0 -2 0M576 761.7a1 1 0 1 0 2 0a1 1 0 1 0 -2 0M572 777.6a1 1 0 1 0 2 0a1 1 0 1 0 -2 0M579.8 764.3a1 1 0 1 0 2 0a1 1 0 1 0 -2 0M569 767.3a1 1 0 1 0 2 0a1 1 0 1 0 -2 0M572 768a1 1 0 1 0 2 0a1 1 0 1 0 -2 0M578.5 758.4a1 1 0 1 0 2 0a1 1 0 1 0 -2 0M569 754.4a1 1 0 1 0 2 0a1 1 0 1 0 -2 0M575 749.8a1 1 0 1 0 2 0a1 1 0 1 0 -2 0M575.8 769.7a1 1 0 1 0 2 0a1 1 0 1 0 -2 0M572.2 748.8a1 1 0 1 0 2 0a1 1 0 1 0 -2 0M575.8 745a1 1 0 1 0 2 0a1 1 0 1 0 -2 0M567 752.3a1 1 0 1 0 2 0a1 1 0 1 0 -2 0M577.2 743.6a1 1 0 1 0 2 0a1 1 0 1 0 -2 0M571.5 779.5a1 1 0 1 0 2 0a1 1 0 1 0 -2 0M579.5 767.9a1 1 0 1 0 2 0a1 1 0 1 0 -2 0M568.8 771.5a1 1 0 1 0 2 0a1 1 0 1 0 -2 0M575 751a1 1 0 1 0 2 0a1 1 0 1 0 -2 0M576 786.3a1 1 0 1 0 2 0a1 1 0 1 0 -2 0M577 749.5a1 1 0 1 0 2 0a1 1 0 1 0 -2 0M577.8 769.5a1 1 0 1 0 2 0a1 1 0 1 0 -2 0M569.5 762.1a1 1 0 1 0 2 0a1 1 0 1 0 -2 0M569.9 752.4a1 1 0 1 0 2 0a1 1 0 1 0 -2 0M579.8 772.8a1 1 0 1 0 2 0a1 1 0 1 0 -2 0M578.1 749.9a1 1 0 1 0 2 0a1 1 0 1 0 -2 0M568.3 749.9a1 1 0 1 0 2 0a1 1 0 1 0 -2 0M578.5 762.3a1 1 0 1 0 2 0a1 1 0 1 0 -2 0M581.2 771.3a1 1 0 1 0 2 0a1 1 0 1 0 -2 0M567 768a1 1 0 1 0 2 0a1 1 0 1 0 -2 0M642.2 802.6a1 1 0 1 0 2 0a1 1 0 1 0 -2 0M642.2 804.1a1 1 0 1 0 2 0a1 1 0 1 0 -2 0M642.2 793.9a1 1 0 1 0 2 0a1 1 0 1 0 -2 0M642.2 800.5a1 1 0 1 0 2 0a1 1 0 1 0 -2 0M642.2 805.7a1 1 0 1 0 2 0a1 1 0 1 0 -2 0M642.2 782.7a1 1 0 1 0 2 0a1 1 0 1 0 -2 0M642.2 796.6a1 1 0 1 0 2 0a1 1 0 1 0 -2 0M640.9 803.5a1 1 0 1 0 2 0a1 1 0 1 0 -2 0M640.9 793.5a1 1 0 1 0 2 0a1 1 0 1 0 -2 0M643.7 793.7a1 1 0 1 0 2 0a1 1 0 1 0 -2 0M642.9 795a1 1 0 1 0 2 0a1 1 0 1 0 -2 0M642.2 812.1a1 1 0 1 0 2 0a1 1 0 1 0 -2 0M640.9 796.1a1 1 0 1 0 2 0a1 1 0 1 0 -2 0M642.2 780.5a1 1 0 1 0 2 0a1 1 0 1 0 -2 0M639.4 793.7a1 1 0 1 0 2 0a1 1 0 1 0 -2 0M643.4 805.3a1 1 0 1 0 2 0a1 1 0 1 0 -2 0M640.9 801.8a1 1 0 1 0 2 0a1 1 0 1 0 -2 0M642.2 789.1a1 1 0 1 0 2 0a1 1 0 1 0 -2 0M642.2 790.4a1 1 0 1 0 2 0a1 1 0 1 0 -2 0M642.2 792.1a1 1 0 1 0 2 0a1 1 0 1 0 -2 0M642.2 778.1a1 1 0 1 0 2 0a1 1 0 1 0 -2 0M640.9 791.4a1 1 0 1 0 2 0a1 1 0 1 0 -2 0M643.7 790.2a1 1 0 1 0 2 0a1 1 0 1 0 -2 0M643.7 796.2a1 1 0 1 0 2 0a1 1 0 1 0 -2 0M642.2 785.6a1 1 0 1 0 2 0a1 1 0 1 0 -2 0M640.2 797.1a1 1 0 1 0 2 0a1 1 0 1 0 -2 0M642.2 798.4a1 1 0 1 0 2 0a1 1 0 1 0 -2 0M643.7 798.4a1 1 0 1 0 2 0a1 1 0 1 0 -2 0M643.4 801.2a1 1 0 1 0 2 0a1 1 0 1 0 -2 0M644.2 802.4a1 1 0 1 0 2 0a1 1 0 1 0 -2 0M643.4 791.5a1 1 0 1 0 2 0a1 1 0 1 0 -2 0M640.9 782.1a1 1 0 1 0 2 0a1 1 0 1 0 -2 0M640.7 789.2a1 1 0 1 0 2 0a1 1 0 1 0 -2 0M639.7 802.7a1 1 0 1 0 2 0a1 1 0 1 0 -2 0M641.9 786.9a1 1 0 1 0 2 0a1 1 0 1 0 -2 0M643.4 781.2a1 1 0 1 0 2 0a1 1 0 1 0 -2 0M639.7 790.7a1 1 0 1 0 2 0a1 1 0 1 0 -2 0M643.7 812.1a1 1 0 1 0 2 0a1 1 0 1 0 -2 0M640.9 783.5a1 1 0 1 0 2 0a1 1 0 1 0 -2 0M639.7 795.4a1 1 0 1 0 2 0a1 1 0 1 0 -2 0M644.4 782.1a1 1 0 1 0 2 0a1 1 0 1 0 -2 0M640.7 785.9a1 1 0 1 0 2 0a1 1 0 1 0 -2 0M645.2 793.7a1 1 0 1 0 2 0a1 1 0 1 0 -2 0M643.4 787a1 1 0 1 0 2 0a1 1 0 1 0 -2 0M639.9 792.3a1 1 0 1 0 2 0a1 1 0 1 0 -2 0M640.9 804.9a1 1 0 1 0 2 0a1 1 0 1 0 -2 0M639.9 805.9a1 1 0 1 0 2 0a1 1 0 1 0 -2 0M638.2 794.2a1 1 0 1 0 2 0a1 1 0 1 0 -2 0M644.9 797.7a1 1 0 1 0 2 0a1 1 0 1 0 -2 0M640.2 800.7a1 1 0 1 0 2 0a1 1 0 1 0 -2 0M645.2 790.4a1 1 0 1 0 2 0a1 1 0 1 0 -2 0M646.4 794.4a1 1 0 1 0 2 0a1 1 0 1 0 -2 0M643.7 803.8a1 1 0 1 0 2 0a1 1 0 1 0 -2 0M644.9 801.1a1 1 0 1 0 2 0a1 1 0 1 0 -2 0M644.7 786.5a1 1 0 1 0 2 0a1 1 0 1 0 -2 0M644.7 804.7a1 1 0 1 0 2 0a1 1 0 1 0 -2 0M647.7 794a1 1 0 1 0 2 0a1 1 0 1 0 -2 0M643.4 777.6a1 1 0 1 0 2 0a1 1 0 1 0 -2 0M638.4 789.8a1 1 0 1 0 2 0a1 1 0 1 0 -2 0M638.9 797.8a1 1 0 1 0 2 0a1 1 0 1 0 -2 0M639.9 787a1 1 0 1 0 2 0a1 1 0 1 0 -2 0M644.4 788a1 1 0 1 0 2 0a1 1 0 1 0 -2 0M640.7 777.9a1 1 0 1 0 2 0a1 1 0 1 0 -2 0M638.4 802.1a1 1 0 1 0 2 0a1 1 0 1 0 -2 0M636.7 794.2a1 1 0 1 0 2 0a1 1 0 1 0 -2 0M644.2 800a1 1 0 1 0 2 0a1 1 0 1 0 -2 0M643.4 785.1a1 1 0 1 0 2 0a1 1 0 1 0 -2 0M643 794a1 1 0 1 0 2 0a1 1 0 1 0 -2 0M638.7 787.4a1 1 0 1 0 2 0a1 1 0 1 0 -2 0M638.9 800a1 1 0 1 0 2 0a1 1 0 1 0 -2 0M642.2 808.7a1 1 0 1 0 2 0a1 1 0 1 0 -2 0M646.4 789.7a1 1 0 1 0 2 0a1 1 0 1 0 -2 0M639.7 782.7a1 1 0 1 0 2 0a1 1 0 1 0 -2 0M638.7 791.6a1 1 0 1 0 2 0a1 1 0 1 0 -2 0M646.9 790.9a1 1 0 1 0 2 0a1 1 0 1 0 -2 0M645.7 805.5a1 1 0 1 0 2 0a1 1 0 1 0 -2 0M646.4 797.6a1 1 0 1 0 2 0a1 1 0 1 0 -2 0M639.4 785.2a1 1 0 1 0 2 0a1 1 0 1 0 -2 0M637.2 790.3a1 1 0 1 0 2 0a1 1 0 1 0 -2 0M646.2 800.7a1 1 0 1 0 2 0a1 1 0 1 0 -2 0"/>
<rect x="52.8" y="825.2" width="15.5" height="2.8" rx="0.6" fill="#000000"/>
<rect x="71.5" y="824" width="15.5" height="2.8" rx="0.6" fill="#800000"/>
<rect x="89.8" y="823.6" width="15.5" height="2.8" rx="0.6" fill="#000090"/>
<rect x="120.9" y="863.3" width="15.5" height="3.2" rx="0.6" fill="#000000"/>
<rect x="139.7" y="863.3" width="15.5" height="3.2" rx="0.6" fill="#a80a00"/>
<rect x="158.1" y="863.3" width="15.5" height="3.2" rx="0.6" fill="#0818b8"/>
<rect x="189.1" y="812" width="15.5" height="2.8" rx="0.6" fill="#000000"/>
<rect x="207.8" y="812" width="15.5" height="2.8" rx="0.6" fill="#800000"/>
<rect x="226.2" y="812" width="15.5" height="2.8" rx="0.6" fill="#000090"/>
<rect x="257.4" y="761" width="15.5" height="2.8" rx="0.6" fill="#000000"/>
<rect x="276.1" y="759" width="15.5" height="2.8" rx="0.6" fill="#800000"/>
<rect x="294.5" y="762.9" width="15.5" height="2.8" rx="0.6" fill="#000090"/>
<rect x="325.6" y="789.1" width="15.5" height="2.8" rx="0.6" fill="#000000"/>
<rect x="344.2" y="786.9" width="15.5" height="2.8" rx="0.6" fill="#800000"/>
<rect x="362.7" y="792.6" width="15.5" height="2.8" rx="0.6" fill="#000090"/>
<rect x="393.8" y="806" width="15.5" height="2.8" rx="0.6" fill="#000000"/>
<rect x="412.4" y="809" width="15.5" height="2.8" rx="0.6" fill="#800000"/>
<rect x="430.9" y="807.7" width="15.5" height="2.8" rx="0.6" fill="#000090"/>
<rect x="462" y="782.2" width="15.5" height="2.8" rx="0.6" fill="#000000"/>
<rect x="480.7" y="782.9" width="15.5" height="2.8" rx="0.6" fill="#800000"/>
<rect x="499.1" y="780.4" width="15.5" height="2.8" rx="0.6" fill="#000090"/>
<rect x="530.2" y="759.3" width="15.5" height="2.8" rx="0.6" fill="#000000"/>
<rect x="548.9" y="760" width="15.5" height="2.8" rx="0.6" fill="#800000"/>
<rect x="567.2" y="761.7" width="15.5" height="2.8" rx="0.6" fill="#000090"/>
<rect x="598.4" y="790.8" width="15.5" height="2.8" rx="0.6" fill="#000000"/>
<rect x="617" y="791.4" width="15.5" height="2.8" rx="0.6" fill="#800000"/>
<rect x="635.4" y="791" width="15.5" height="2.8" rx="0.6" fill="#000090"/>
<text x="42" y="869.3" font-size="10.7" text-anchor="end" font-family="Liberation Sans, sans-serif">0</text>
<text x="42" y="831.7" font-size="10.7" text-anchor="end" font-family="Liberation Sans, sans-serif">50</text>
<text x="42" y="794" font-size="10.7" text-anchor="end" font-family="Liberation Sans, sans-serif">100</text>
<text x="42" y="756.4" font-size="10.7" text-anchor="end" font-family="Liberation Sans, sans-serif">150</text>
<text x="42" y="718.8" font-size="10.7" text-anchor="end" font-family="Liberation Sans, sans-serif">200</text>
<text x="42" y="681.1" font-size="10.7" text-anchor="end" font-family="Liberation Sans, sans-serif">250</text>
<text x="42" y="643.5" font-size="10.7" text-anchor="end" font-family="Liberation Sans, sans-serif">300</text>
<text x="78.8" y="882.2" font-size="10.3" text-anchor="middle" font-family="Liberation Sans, sans-serif">PMB</text>
<text x="147" y="882.2" font-size="10.3" text-anchor="middle" font-family="Liberation Sans, sans-serif">N/T</text>
<text x="215.2" y="882.2" font-size="10.3" text-anchor="middle" font-family="Liberation Sans, sans-serif">T</text>
<text x="283.4" y="882.2" font-size="10.3" text-anchor="middle" font-family="Liberation Sans, sans-serif">TS</text>
<text x="351.6" y="882.2" font-size="10.3" text-anchor="middle" font-family="Liberation Sans, sans-serif">NS</text>
<text x="419.8" y="882.2" font-size="10.3" text-anchor="middle" font-family="Liberation Sans, sans-serif">N</text>
<text x="488" y="882.2" font-size="10.3" text-anchor="middle" font-family="Liberation Sans, sans-serif">NI</text>
<text x="556.2" y="882.2" font-size="10.3" text-anchor="middle" font-family="Liberation Sans, sans-serif">TI</text>
<text x="624.4" y="882.2" font-size="10.3" text-anchor="middle" font-family="Liberation Sans, sans-serif">G</text>
<text x="352" y="898.6" font-size="11.3" text-anchor="middle" font-family="Liberation Sans, sans-serif">Location</text>
<text transform="translate(16.4 751) rotate(-90)" font-size="11.3" text-anchor="middle" font-family="Liberation Sans, sans-serif">RNFL thickness (microns)</text>
<circle cx="595.8" cy="630.3" r="4.1" fill="#555555"/>
<text x="606" y="635.2" font-size="10.1" font-family="Liberation Sans, sans-serif">Health</text>
<circle cx="595.8" cy="646.4" r="4.1" fill="#e05252"/>
<text x="606" y="651.3" font-size="10.1" font-family="Liberation Sans, sans-serif">CKD</text>
<circle cx="595.8" cy="660.7" r="4.1" fill="#6f86ff"/>
<text x="606" y="665.6" font-size="10.1" font-family="Liberation Sans, sans-serif">Kidney transplant</text>
</g>
</svg>
</body></html>
